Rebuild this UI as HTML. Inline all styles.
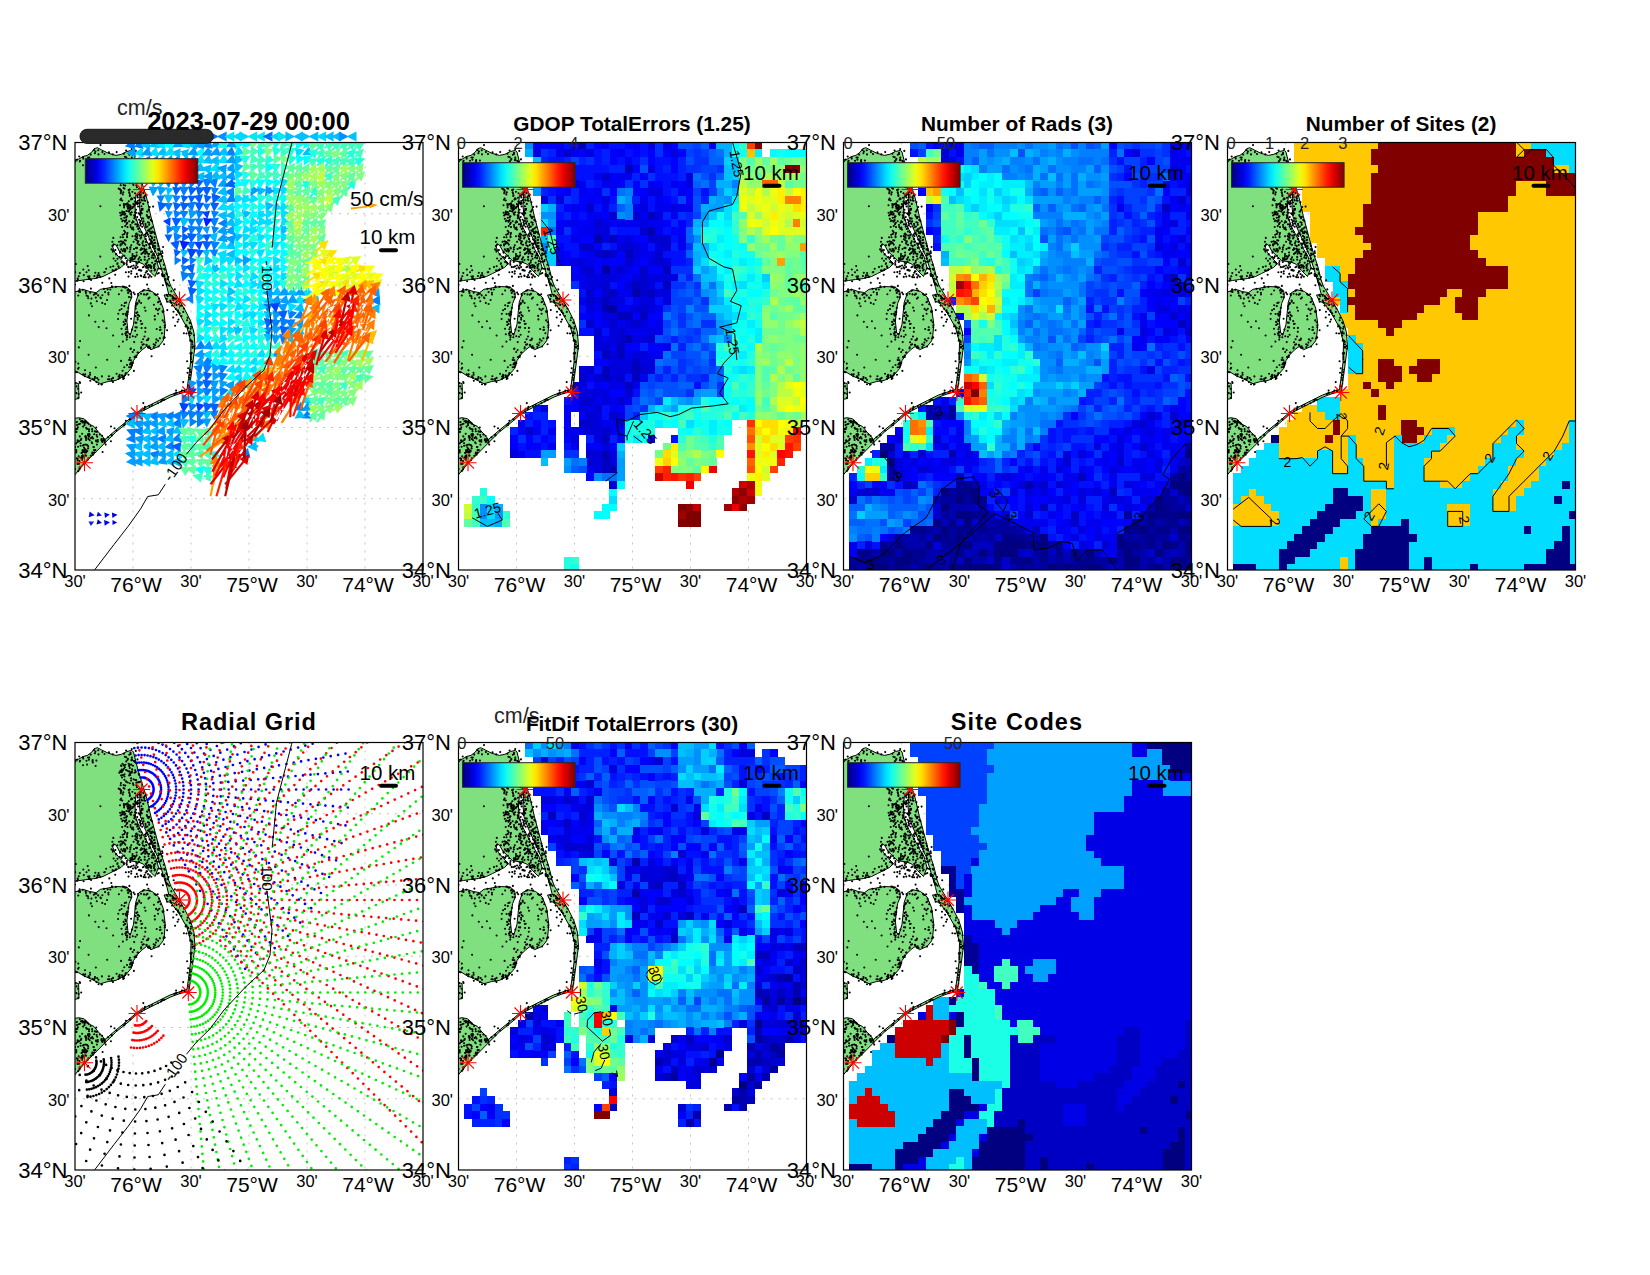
<!DOCTYPE html>
<html><head><meta charset="utf-8"><style>
html,body{margin:0;padding:0;background:#fff;width:1650px;height:1275px;overflow:hidden}
svg{display:block}
text{font-family:"Liberation Sans",sans-serif;fill:#000}
</style></head><body>
<svg width="1650" height="1275" viewBox="0 0 1650 1275">
<defs><linearGradient id="jetg" x1="0" y1="0" x2="1" y2="0"><stop offset="0.000" stop-color="#00007f"/><stop offset="0.050" stop-color="#0000b2"/><stop offset="0.100" stop-color="#0000e5"/><stop offset="0.150" stop-color="#0019ff"/><stop offset="0.200" stop-color="#004cff"/><stop offset="0.250" stop-color="#007fff"/><stop offset="0.300" stop-color="#00b2ff"/><stop offset="0.350" stop-color="#00e5ff"/><stop offset="0.400" stop-color="#19ffe5"/><stop offset="0.450" stop-color="#4cffb2"/><stop offset="0.500" stop-color="#7fff7f"/><stop offset="0.550" stop-color="#b2ff4c"/><stop offset="0.600" stop-color="#e5ff19"/><stop offset="0.650" stop-color="#ffe500"/><stop offset="0.700" stop-color="#ffb200"/><stop offset="0.750" stop-color="#ff7f00"/><stop offset="0.800" stop-color="#ff4c00"/><stop offset="0.850" stop-color="#ff1900"/><stop offset="0.900" stop-color="#e50000"/><stop offset="0.950" stop-color="#b20000"/><stop offset="1.000" stop-color="#7f0000"/></linearGradient><clipPath id="axclip"><rect x="0" y="0" width="348" height="427.5"/></clipPath><g id="landg"><polygon points="-2.0,17.8 3.6,16.7 8.0,14.0 12.4,12.9 16.8,9.6 19.0,6.3 22.3,5.2 26.6,7.4 33.2,10.7 40.9,12.9 46.4,11.8 51.9,9.0 56.8,7.9 58.5,9.6 62.9,27.1 67.3,41.4 71.7,55.7 76.0,74.4 80.4,90.8 84.8,107.3 90.3,123.8 93.6,137.5 95.8,143.5 102.4,154.5 110.1,167.6 115.6,178.6 118.9,189.6 120.0,203.9 117.8,220.3 115.6,236.8 113.9,248.9 104.6,251.1 95.8,254.4 84.8,259.9 73.9,265.3 62.9,271.0 51.9,280.7 40.9,289.5 29.9,300.4 19.0,311.4 10.2,320.2 -2.0,334.5" fill="#80e080" stroke="#000" stroke-width="1"/><polygon points="-2.0,139.0 5.0,138.0 12.0,137.0 20.0,136.0 28.0,134.0 34.0,131.0 40.0,128.0 46.0,125.0 50.0,121.0 45.0,116.0 40.0,110.0 37.0,103.0 38.5,101.5 41.0,102.5 44.2,108.4 49.7,113.9 54.1,118.3 62.9,119.4 68.4,121.6 74.0,128.0 80.0,134.0 83.5,125.0 80.5,114.0 76.5,107.3 70.5,96.3 64.5,85.3 60.5,74.4 60.0,63.4 61.0,52.0 65.0,52.0 64.5,63.4 65.5,74.4 69.5,85.3 74.5,96.3 79.5,107.3 82.5,114.0 86.0,125.0 88.0,132.0 90.0,138.0 92.0,145.0 95.8,160.0 104.0,171.0 112.0,185.0 116.0,200.0 115.5,220.0 113.5,236.0 112.0,247.0 104.0,249.5 95.0,252.5 84.0,258.0 73.0,263.5 62.5,269.5 52.0,278.5 41.0,287.5 30.0,297.0 26.6,292.8 23.4,289.5 19.0,284.0 14.6,281.8 9.1,276.3 3.6,275.2 -2.0,276.3 -2.0,229.1 3.6,230.2 9.1,233.5 16.8,236.8 25.5,241.2 33.2,239.0 40.9,237.9 49.7,233.5 56.3,225.8 58.5,218.1 62.9,211.6 67.3,207.2 71.7,203.9 76.0,207.2 83.7,203.9 88.1,198.4 89.2,194.0 90.3,181.9 88.1,165.4 83.7,154.5 77.1,149.0 69.5,147.3 64.0,150.1 60.7,159.9 59.6,170.9 58.5,181.9 55.2,192.9 53.0,189.6 51.9,178.6 53.0,168.7 54.1,161.0 56.8,154.5 56.3,149.0 51.9,144.6 40.9,144.0 32.1,145.7 25.5,146.8 21.2,150.1 14.6,149.0 8.0,146.8 -2.0,150.1" fill="#fff" stroke="#000" stroke-width="1"/><polygon points="89.0,152.5 96.0,152.0 102.0,158.0 100.0,161.0 92.0,159.0" fill="#80e080" stroke="#000" stroke-width="1"/><polygon points="-1.0,240.0 3.6,241.0 4.0,256.0 -1.0,257.0" fill="#80e080" stroke="#000" stroke-width="1"/><path d="M54.2 23.8h0M46.5 186.2h0M109.4 248.0h0M12.7 123.6h0M43.4 123.8h0M73.3 88.2h0M69.4 266.7h0M15.2 150.3h0M64.5 115.3h0M62.5 60.5h0M19.7 151.6h0M49.9 14.2h0M38.1 193.0h0M60.8 8.4h0M56.3 102.7h0M39.5 285.7h0M73.6 122.6h0M6.1 315.1h0M65.5 128.1h0M59.2 199.6h0M88.1 104.5h0M17.7 17.6h0M7.8 312.8h0M72.3 111.0h0M46.1 48.1h0M70.8 121.4h0M78.4 104.1h0M97.5 155.8h0M6.0 278.7h0M50.2 89.8h0M38.7 102.1h0M92.7 153.8h0M27.1 299.2h0M13.3 315.8h0M78.9 97.7h0M27.1 293.2h0M10.8 302.1h0M65.3 54.7h0M34.3 135.9h0M15.6 283.5h0M53.3 63.2h0M50.5 171.3h0M106.9 248.1h0M60.8 20.3h0M70.9 99.4h0M75.1 104.9h0M99.0 156.3h0M64.7 50.7h0M43.1 176.6h0M1.6 243.9h0M18.1 296.0h0M50.8 98.0h0M47.9 199.1h0M71.9 197.7h0M63.1 64.0h0M56.2 131.1h0M77.5 84.8h0M50.4 22.3h0M83.0 116.1h0M73.4 125.1h0M26.6 296.6h0M22.1 289.3h0M62.5 101.0h0M85.5 118.7h0M51.5 68.5h0M45.1 70.2h0M45.4 57.2h0M23.7 184.6h0M62.4 53.5h0M5.0 149.4h0M70.6 134.8h0M89.3 257.3h0M115.7 229.6h0M48.5 120.3h0M79.3 123.4h0M60.2 124.9h0M43.7 46.1h0M115.2 198.3h0M50.7 230.8h0M32.1 157.5h0M45.7 50.8h0M100.1 156.4h0M54.2 78.7h0M1.2 309.9h0M29.0 146.4h0M49.9 108.2h0M76.4 128.2h0M59.6 75.2h0M92.6 136.6h0M114.9 189.1h0M54.2 217.4h0M18.2 312.1h0M19.2 310.0h0M48.9 11.2h0M72.2 120.0h0M60.0 50.7h0M15.1 232.2h0M20.3 179.2h0M73.4 196.1h0M114.7 180.0h0M5.0 281.3h0M78.7 115.6h0M78.8 89.7h0M98.3 157.7h0M68.2 98.9h0M101.4 155.7h0M13.1 280.7h0M8.0 22.7h0M3.8 281.8h0M3.7 149.0h0M59.9 59.1h0M65.6 81.5h0M64.1 39.6h0M82.9 260.7h0M2.2 229.8h0M73.6 67.4h0M116.7 210.4h0M79.6 94.7h0M77.4 102.0h0M96.3 148.7h0M64.2 159.2h0M20.0 234.6h0M4.8 19.0h0M114.4 190.7h0M47.9 234.8h0M98.2 175.0h0M39.5 128.0h0M79.6 128.0h0M61.6 91.1h0M51.6 184.8h0M54.2 224.8h0M43.5 236.5h0M47.6 228.3h0M73.5 75.7h0M63.9 127.6h0M74.4 86.8h0M78.1 64.1h0M76.4 99.9h0M71.8 109.5h0M70.4 96.6h0M66.5 111.4h0M62.1 160.6h0M103.5 177.0h0M98.3 155.0h0M50.8 178.4h0M72.3 74.0h0M51.5 173.3h0M103.9 161.8h0M3.1 246.2h0M7.9 314.2h0M15.8 160.9h0M89.9 127.1h0M48.9 144.4h0M0.1 326.5h0M25.3 114.1h0M73.2 197.3h0M72.1 128.8h0M29.8 129.6h0M66.1 205.9h0M70.9 93.7h0M48.1 99.6h0M79.2 124.3h0M67.2 181.2h0M27.3 160.4h0M86.9 190.8h0M45.9 40.6h0M23.5 241.8h0M3.7 313.9h0M83.1 198.2h0M52.5 90.5h0M57.4 49.3h0M54.9 276.5h0M70.1 58.2h0M112.6 175.2h0M47.7 92.3h0M65.8 70.3h0M85.2 184.7h0M54.1 23.4h0M14.2 15.1h0M50.3 43.1h0M86.6 126.3h0M51.3 189.5h0M71.2 109.4h0M61.0 59.8h0M14.0 286.9h0M24.9 292.0h0M54.9 62.9h0M74.9 123.9h0M59.4 55.2h0M83.7 125.9h0M4.6 146.8h0M51.0 192.8h0M49.3 91.5h0M47.8 69.8h0M45.0 110.2h0M92.3 167.6h0M29.2 129.8h0M66.8 57.6h0M48.6 45.4h0M58.6 36.7h0M6.3 296.4h0M89.8 182.8h0M27.9 298.3h0M33.0 294.7h0M62.4 120.9h0M113.1 185.3h0M108.2 239.6h0M57.5 93.7h0M99.8 146.9h0M17.2 300.7h0M50.3 177.1h0M64.1 85.8h0M88.5 168.9h0M52.5 171.8h0M72.5 118.0h0M59.5 73.7h0M12.2 286.3h0M82.8 167.7h0M4.7 324.8h0M30.1 161.5h0M85.7 111.5h0M33.0 236.8h0M81.7 186.5h0M49.3 75.2h0M74.7 64.5h0M0.0 142.3h0M65.7 178.6h0M47.3 191.8h0M2.6 297.9h0M58.4 42.4h0M16.4 156.1h0M21.0 298.1h0M28.4 178.7h0M91.3 140.2h0M73.4 156.1h0M21.4 151.2h0M94.1 143.2h0M55.9 217.7h0M67.7 110.5h0M50.2 71.4h0M27.4 9.6h0M86.0 259.0h0M9.9 306.6h0M20.8 155.1h0M56.4 17.8h0M20.0 288.9h0M22.9 297.5h0M55.5 10.4h0M50.1 181.4h0M97.1 163.1h0M119.1 192.7h0M2.7 136.1h0M51.3 39.1h0M58.6 150.1h0M0.1 304.6h0M18.9 304.6h0M30.1 149.6h0M63.4 98.9h0M87.1 132.6h0M74.4 263.6h0M65.4 83.0h0M115.3 227.3h0M56.7 69.7h0M70.0 264.4h0M54.6 31.9h0M69.9 92.3h0M68.8 147.7h0M11.4 307.8h0M56.0 56.9h0M71.3 102.6h0M71.4 107.0h0M69.2 57.9h0M64.0 119.4h0M52.0 194.8h0M46.3 76.2h0M69.3 103.5h0M53.3 147.0h0M49.3 163.6h0M66.4 89.7h0M66.0 117.6h0M48.0 94.7h0M53.5 134.1h0M48.1 71.8h0M84.1 111.9h0M13.5 233.7h0M13.6 212.2h0M62.0 105.4h0M12.3 308.6h0M73.3 205.3h0M85.4 126.2h0M81.1 166.4h0M51.9 80.8h0M53.8 58.8h0M61.9 93.7h0M48.3 71.6h0M66.4 63.7h0M66.4 54.9h0M73.7 67.1h0M25.5 2.6h0M61.2 170.6h0M78.2 103.0h0M7.2 310.1h0M46.1 56.1h0M9.5 282.6h0M2.0 17.3h0M82.8 101.1h0M66.8 70.8h0M0.6 229.2h0M50.3 145.3h0M56.0 72.2h0M46.0 98.9h0M62.7 58.5h0M78.8 204.5h0M46.5 115.4h0M54.5 51.0h0M11.2 285.2h0M53.5 68.7h0M17.0 163.7h0M62.5 161.1h0M40.5 118.2h0M72.1 90.4h0M115.9 214.5h0M62.2 95.5h0M16.7 299.9h0M59.7 151.7h0M73.1 205.0h0M55.1 148.1h0M29.8 299.6h0M19.8 235.8h0M21.2 298.7h0M11.0 295.8h0M68.8 109.3h0M60.6 114.1h0M62.3 169.7h0M22.3 134.7h0M15.3 238.3h0M8.1 284.1h0M89.1 201.7h0M26.7 241.7h0M115.3 210.8h0M84.1 159.0h0M108.9 166.0h0M62.8 55.0h0M37.0 292.9h0M17.8 19.9h0M23.6 130.6h0M37.6 103.5h0M16.1 137.5h0M83.1 171.2h0M38.1 235.4h0M8.2 16.1h0M51.7 197.1h0M85.2 111.7h0M14.3 234.9h0M65.4 60.0h0M28.5 296.6h0M38.6 116.0h0M47.1 99.2h0M13.4 296.4h0M46.7 162.8h0M117.4 204.3h0M70.6 82.5h0M59.0 106.5h0M22.2 235.6h0M44.6 232.4h0M9.0 302.2h0M74.1 80.3h0M51.0 172.8h0M20.3 130.3h0M56.9 29.3h0M71.8 72.6h0M13.8 136.4h0M10.6 148.8h0M23.5 11.9h0M60.7 29.6h0M47.5 233.7h0M67.6 66.4h0M75.3 97.0h0M52.6 60.9h0M38.1 108.1h0M12.1 280.1h0M101.6 162.4h0M56.8 86.2h0M52.1 94.8h0M19.0 237.1h0M89.7 195.1h0M53.6 47.6h0M46.5 28.1h0M17.1 286.6h0M66.7 47.3h0M13.0 293.0h0M103.0 167.9h0M55.7 63.7h0M61.4 213.0h0M55.0 22.3h0M75.4 90.5h0M54.8 194.7h0M2.8 136.7h0M2.3 286.5h0M54.2 49.7h0M79.7 173.4h0M77.0 78.8h0M4.5 318.5h0M59.7 115.9h0M3.3 221.1h0M21.8 135.1h0M46.7 72.1h0M64.7 93.1h0M19.9 10.8h0M25.4 134.4h0M85.7 118.7h0M42.5 116.2h0M56.9 187.1h0M99.4 251.4h0M51.3 18.9h0M83.2 113.1h0M119.2 203.5h0M48.8 61.6h0M65.8 133.2h0M32.6 146.9h0M15.0 230.3h0M70.5 168.2h0M13.1 305.9h0M65.5 107.3h0M55.9 206.0h0M58.8 116.7h0M21.4 239.6h0M116.4 219.7h0M13.2 155.8h0M52.8 169.4h0M83.6 204.0h0M78.9 122.6h0M46.2 32.9h0M57.4 220.0h0M49.4 100.7h0M13.0 15.0h0M52.2 193.0h0M68.3 260.6h0M44.6 167.7h0M98.5 169.2h0M49.5 46.3h0M101.1 248.1h0M69.2 109.2h0M5.6 300.8h0M56.8 222.0h0M49.6 72.2h0M62.7 177.1h0M62.4 83.7h0M64.2 32.5h0M55.6 206.4h0M1.5 286.6h0M68.9 134.8h0M112.1 177.7h0M50.1 106.8h0M2.1 138.2h0M1.3 308.2h0M69.0 151.9h0M22.2 294.3h0M117.5 205.2h0M60.5 184.8h0M45.1 46.9h0M89.2 132.5h0M47.0 232.9h0M64.5 127.4h0M50.3 102.1h0M26.5 242.1h0M43.6 234.0h0M48.3 49.7h0M4.5 326.9h0M21.9 302.1h0M111.0 182.8h0M50.9 186.8h0M90.3 136.3h0M60.2 188.2h0M55.0 221.9h0M50.1 232.5h0M87.1 108.8h0M62.3 61.7h0M57.2 26.8h0M51.1 160.1h0M76.7 115.1h0M49.2 88.3h0M50.1 281.0h0M66.6 199.7h0M71.8 124.3h0M52.4 28.3h0M66.2 94.7h0M61.4 42.9h0M9.5 281.1h0M58.4 87.1h0M54.0 69.1h0M56.6 55.9h0M59.1 207.5h0M48.6 179.4h0M87.3 113.8h0M56.1 38.0h0M52.9 16.4h0M77.0 262.5h0M62.6 210.1h0M54.1 28.9h0M23.2 152.9h0M41.4 288.0h0M116.1 184.3h0M48.1 171.5h0M61.6 110.0h0M76.6 98.5h0M47.3 70.4h0M4.7 239.6h0M61.0 67.3h0M42.5 120.9h0M9.1 307.6h0M55.3 71.5h0M10.6 293.5h0M76.1 109.5h0M96.1 160.3h0M40.8 127.4h0M91.3 130.8h0M69.5 194.0h0M4.8 293.9h0M115.4 197.4h0M92.7 141.9h0M114.9 232.4h0M50.0 109.1h0M47.9 108.5h0M50.6 78.5h0M115.7 186.3h0M47.2 101.2h0M51.1 230.8h0M78.9 162.2h0M60.0 69.9h0M50.5 78.6h0M58.6 99.2h0M73.4 113.8h0M60.5 194.2h0M72.1 69.0h0M19.1 307.6h0M67.4 47.0h0M61.3 77.2h0M100.4 251.0h0M76.7 90.6h0M1.3 250.6h0M8.3 127.0h0M56.1 176.3h0M10.6 312.9h0M72.9 59.8h0M108.9 190.8h0M40.4 107.5h0M54.7 40.8h0M65.8 107.4h0M48.2 236.4h0M74.8 88.7h0M75.3 122.9h0M73.1 204.4h0M7.9 303.0h0M91.7 141.9h0M20.3 307.6h0M61.6 112.9h0M68.8 54.8h0M116.3 190.9h0M12.9 153.8h0M76.8 94.5h0M74.4 101.1h0M76.6 213.8h0M7.5 307.8h0M7.3 278.3h0M36.3 140.5h0M46.8 29.6h0M63.0 210.0h0M27.3 140.3h0M27.0 241.7h0M5.8 297.4h0M66.5 105.8h0M95.3 153.3h0M14.4 133.9h0M2.6 299.5h0M69.7 114.4h0M38.3 95.4h0M21.4 18.1h0M22.8 299.2h0M52.3 189.7h0M82.7 151.8h0M55.4 64.7h0M74.3 105.4h0M69.2 106.0h0M0.6 240.6h0M57.2 27.3h0M115.1 180.8h0M18.8 152.3h0M66.1 107.0h0M19.2 291.8h0M114.9 237.7h0M68.6 78.9h0M60.2 27.7h0M51.7 120.5h0M74.2 82.3h0M67.8 148.2h0M10.2 231.7h0M87.8 133.6h0M0.2 129.8h0M64.6 114.9h0M47.3 113.9h0M91.8 152.4h0M62.4 52.9h0M74.5 155.0h0M65.6 95.9h0M1.5 289.4h0M67.4 100.6h0M62.0 40.0h0M2.1 17.2h0M51.2 145.0h0M9.0 305.1h0M67.9 102.7h0M1.2 307.5h0M8.8 309.2h0M80.7 152.4h0M17.5 18.6h0M59.6 72.8h0M51.5 81.7h0M102.6 179.2h0M77.3 89.1h0M95.3 158.0h0M52.5 84.6h0M2.6 321.5h0M31.5 185.7h0M57.2 117.1h0M54.7 67.4h0M11.5 129.8h0M33.5 152.0h0M54.8 191.6h0M90.8 139.7h0M101.6 172.3h0M62.6 175.3h0M80.0 108.9h0M2.0 279.5h0M61.5 161.9h0M47.1 35.0h0M37.4 99.2h0M70.7 130.3h0M87.9 142.8h0M56.3 128.8h0M20.4 9.1h0M50.4 191.1h0M43.3 171.2h0M44.7 233.8h0M4.2 14.0h0M3.3 255.2h0M27.6 309.5h0M57.5 111.6h0M56.6 220.1h0M86.2 117.5h0M0.4 219.2h0M75.8 77.4h0M92.1 187.8h0M58.0 23.3h0M54.9 215.2h0M64.4 89.0h0M81.4 196.9h0M78.3 111.4h0M38.2 123.8h0M61.2 37.6h0M111.8 183.8h0M7.8 147.2h0M12.4 317.7h0M13.9 17.3h0M44.3 30.2h0M3.8 204.9h0M63.0 172.4h0M66.6 66.6h0M47.9 32.6h0M14.1 291.4h0M11.5 153.1h0M92.1 159.3h0M54.5 148.7h0M66.6 185.5h0M42.3 121.5h0M7.1 317.1h0M53.2 62.3h0M73.3 146.3h0M91.8 156.5h0M9.2 279.0h0M75.2 205.5h0M61.9 44.7h0M63.7 31.5h0M61.0 91.5h0M58.4 61.6h0M55.4 70.7h0M70.3 189.2h0M72.9 88.0h0M52.0 222.5h0M49.1 64.9h0M72.0 90.5h0M62.2 81.9h0M68.3 61.4h0M66.7 92.6h0M108.3 169.4h0M89.4 133.8h0M57.4 113.6h0M61.2 70.2h0M65.9 68.5h0M74.0 111.5h0M73.9 111.6h0M43.9 151.7h0M29.9 300.0h0M49.3 113.3h0M56.3 22.1h0M60.6 163.8h0M50.9 190.7h0M52.3 80.2h0M76.4 99.3h0M87.5 133.6h0M63.0 151.6h0M56.1 151.6h0M54.7 47.0h0M53.6 21.2h0M51.1 8.0h0M40.9 144.4h0M49.0 63.1h0M111.5 191.0h0M14.0 294.3h0M56.6 123.8h0M90.4 137.9h0M0.9 121.5h0M72.5 69.3h0M9.8 309.9h0M35.9 298.7h0M45.0 109.1h0M36.7 236.3h0M64.1 102.3h0M74.8 102.1h0M46.6 148.0h0M110.6 184.0h0M9.8 233.7h0M69.4 107.5h0M58.6 123.0h0M84.2 119.2h0M56.2 154.9h0M21.3 285.0h0M7.2 291.3h0M65.4 52.4h0M47.5 21.2h0M3.3 153.0h0M80.2 121.3h0M17.2 311.2h0M88.6 195.8h0M14.7 297.8h0M112.5 230.3h0M57.0 17.6h0M80.9 200.1h0M46.9 27.0h0M59.5 30.3h0M50.9 129.8h0M72.4 84.1h0M60.2 93.6h0M49.8 160.5h0M55.7 66.5h0M46.5 166.5h0M7.7 308.8h0M64.0 46.6h0M69.4 265.9h0M22.5 132.7h0M45.6 102.9h0M78.7 111.2h0M91.7 131.8h0M64.1 77.3h0M83.6 111.0h0M67.1 75.7h0M71.4 202.4h0M52.3 63.6h0M13.7 127.7h0M10.1 280.3h0M51.4 73.9h0M62.6 124.6h0M62.1 192.3h0M41.2 111.6h0M113.7 244.2h0M53.2 124.4h0M71.7 124.8h0M13.9 172.9h0M59.3 75.8h0M76.4 124.0h0M1.8 279.8h0M27.5 299.5h0M61.2 120.3h0M19.4 133.5h0M57.9 40.9h0M75.4 93.4h0M48.7 182.5h0M14.0 288.8h0M35.5 124.6h0M77.9 104.5h0M61.8 131.4h0M6.6 310.4h0M57.7 209.5h0M27.4 152.7h0M50.2 83.6h0M42.4 102.7h0M54.8 53.4h0M46.0 49.5h0M95.6 159.2h0M20.8 225.0h0M117.4 219.1h0M57.9 85.1h0M74.2 203.7h0M63.2 39.7h0M71.7 123.3h0M67.2 84.2h0M36.0 284.0h0M89.4 126.7h0M80.1 100.3h0M53.2 150.4h0M4.8 130.6h0M101.4 250.5h0M10.3 294.2h0M11.5 18.3h0M66.1 133.6h0M56.7 16.8h0M76.8 89.6h0M37.6 127.9h0M52.0 169.2h0M57.4 65.5h0M2.5 317.9h0M4.8 276.8h0M14.9 136.4h0M66.1 160.5h0M78.6 115.7h0M84.9 195.7h0M80.2 202.8h0M36.6 237.9h0M97.4 153.8h0M5.6 303.3h0M113.1 185.8h0M43.7 124.6h0M17.2 294.6h0M37.9 109.1h0M55.3 107.0h0M0.4 18.7h0M45.5 101.9h0M60.4 214.0h0M98.7 137.8h0M11.4 294.8h0M52.0 118.5h0M49.0 235.8h0M113.0 243.0h0M68.7 201.7h0M89.2 179.7h0M53.8 129.6h0M84.3 166.2h0M17.3 288.7h0M72.1 142.1h0M8.8 132.6h0M60.4 96.8h0M44.7 234.9h0M112.1 218.8h0M62.5 16.9h0M55.0 52.7h0M63.4 116.8h0M48.6 42.5h0M8.0 14.8h0M54.2 33.0h0M12.3 302.6h0M70.0 53.2h0M83.2 115.9h0M36.9 143.8h0M52.6 17.2h0M48.9 26.2h0M5.1 18.2h0M7.6 307.9h0M50.3 62.0h0M58.7 64.0h0M44.0 99.3h0M61.2 214.4h0M54.3 12.2h0M109.5 249.4h0M31.2 126.2h0M61.3 122.8h0M24.1 132.9h0M4.2 298.8h0M11.1 297.5h0M45.4 28.4h0M51.2 77.6h0M59.2 72.7h0M52.5 147.9h0M47.9 78.0h0M23.5 237.2h0M70.7 96.5h0M60.0 19.6h0M72.9 79.8h0M87.2 257.4h0M117.4 201.7h0M34.0 9.9h0M10.3 294.1h0M85.7 161.7h0M55.7 84.5h0M14.7 292.3h0M26.3 297.5h0M19.0 7.5h0M55.4 29.7h0M58.9 228.4h0M61.0 105.4h0M80.4 105.8h0M71.3 152.3h0M69.6 117.0h0M2.8 284.7h0M16.0 295.6h0M57.8 220.6h0M70.5 81.2h0M17.4 310.0h0M63.6 70.8h0M51.8 122.2h0M52.4 64.3h0M48.8 22.9h0M12.9 291.7h0M52.9 66.3h0M57.1 80.3h0M64.2 173.5h0M59.0 113.6h0M83.0 159.8h0M60.7 166.1h0M46.3 48.0h0M1.7 315.8h0M79.5 151.4h0M47.3 69.1h0M71.5 128.9h0M62.2 84.1h0M65.0 79.9h0M66.0 49.4h0M21.2 289.2h0M62.2 74.6h0M3.8 133.7h0M23.2 7.8h0M60.6 173.5h0M79.3 113.2h0M100.1 183.2h0M74.4 74.4h0M6.2 250.0h0M48.9 106.6h0M66.2 204.7h0M61.7 97.7h0M7.1 313.4h0M11.1 309.9h0M20.6 23.5h0M50.9 278.2h0M29.5 11.5h0M49.9 79.2h0M61.4 40.3h0M37.8 11.9h0M52.6 40.0h0M55.3 105.1h0M55.5 117.5h0M41.6 231.3h0M46.6 119.5h0M70.8 91.0h0M52.0 93.7h0M64.3 71.6h0M68.1 196.8h0M73.7 134.9h0M67.6 202.3h0M57.1 56.4h0M46.4 106.9h0M10.0 227.8h0M7.5 279.9h0M79.1 100.7h0M74.8 132.9h0M65.3 72.4h0M49.3 282.7h0M89.2 194.6h0M52.0 169.8h0M87.5 110.5h0M76.4 134.3h0M56.9 222.8h0M57.8 193.8h0M59.5 214.6h0M5.0 240.4h0M46.1 23.1h0M83.8 130.5h0M89.3 126.2h0M59.3 18.5h0M68.2 50.6h0M104.9 250.8h0M87.6 168.9h0M49.5 34.0h0M47.8 144.0h0M100.8 166.4h0M51.2 61.5h0M45.7 42.8h0M72.0 91.2h0M106.5 163.1h0M14.1 135.4h0M47.3 78.7h0M69.8 117.3h0M10.5 278.4h0M72.4 151.4h0M55.3 32.5h0M85.6 187.2h0M4.8 325.5h0M12.4 302.7h0M3.1 226.3h0M35.3 147.0h0M25.4 63.7h0M60.7 29.4h0M78.9 125.5h0M60.3 134.4h0M71.7 202.6h0M5.1 198.6h0M52.1 91.6h0M15.9 146.1h0M114.7 237.3h0M82.3 131.2h0M45.4 29.5h0M41.7 9.6h0M104.7 170.9h0M84.1 107.8h0M58.6 79.5h0M47.2 58.0h0M79.5 97.4h0M49.0 121.6h0M57.1 115.4h0M60.8 125.9h0M53.4 124.8h0M76.0 100.8h0M52.0 105.1h0M3.1 304.3h0M15.8 313.3h0M25.9 155.7h0M49.4 37.3h0M64.0 119.1h0M69.3 55.7h0M4.1 321.3h0M50.9 39.1h0M114.4 235.3h0M49.1 233.8h0M49.8 78.2h0M82.9 106.9h0M76.1 125.5h0M46.1 218.4h0M60.4 81.7h0M87.8 169.6h0M49.3 224.8h0M114.0 190.5h0M66.3 128.1h0M55.3 148.7h0M68.0 124.7h0M59.8 62.4h0M3.3 328.6h0M49.5 31.7h0M80.0 103.6h0M41.1 112.0h0M25.4 155.0h0M40.2 132.3h0M2.7 316.6h0M53.5 232.2h0M54.8 25.5h0M51.1 27.5h0M21.1 298.0h0M3.6 251.4h0M80.3 118.6h0M55.4 115.9h0M117.3 199.4h0M56.1 35.7h0M52.3 106.0h0M113.2 225.8h0M54.0 65.4h0M49.9 24.7h0M103.8 158.5h0M106.5 173.5h0M66.4 181.5h0M1.0 286.6h0M63.3 60.8h0M116.0 212.3h0M114.1 235.1h0M57.6 64.9h0M119.6 206.1h0M65.5 39.2h0M8.6 138.7h0M84.4 106.7h0M26.9 233.9h0M88.9 122.2h0M12.9 291.7h0M64.4 57.6h0M13.2 303.7h0M11.1 313.3h0M69.7 132.5h0M116.0 216.6h0M57.8 78.9h0M54.7 109.3h0M2.0 282.5h0M37.2 144.8h0M79.4 106.3h0M71.2 125.3h0M68.7 124.3h0M49.7 97.8h0M67.5 67.3h0M33.9 233.7h0M67.1 106.4h0M79.9 176.9h0M78.7 201.8h0M50.6 115.8h0M77.0 96.0h0M105.3 249.9h0M44.0 204.0h0M80.2 127.1h0M116.7 198.3h0M67.0 58.0h0M8.2 231.9h0M61.6 105.8h0M70.3 107.6h0M48.7 282.8h0M73.3 74.9h0M65.6 78.6h0M47.2 84.5h0M55.5 82.5h0M83.5 106.5h0M36.5 292.4h0M64.2 158.1h0M54.0 154.6h0M74.1 116.2h0M55.4 124.5h0M64.5 52.2h0M56.8 15.0h0M65.8 133.0h0M56.9 30.0h0M44.7 114.5h0M68.3 76.1h0M12.1 22.1h0M47.8 51.9h0M17.5 236.6h0M70.6 52.9h0M73.0 131.6h0M58.9 18.5h0M10.6 148.7h0M84.0 156.3h0M51.2 14.8h0M82.4 119.3h0M18.4 304.5h0M62.6 92.1h0M60.9 60.5h0M70.8 84.8h0M15.7 12.1h0M60.4 37.6h0M47.8 27.9h0M79.9 176.8h0M21.7 292.5h0M30.7 302.1h0M114.7 193.0h0M17.9 312.0h0M13.7 281.5h0M41.2 126.7h0M55.6 11.5h0M77.2 99.8h0M70.1 111.2h0M29.8 297.8h0M11.7 286.2h0M45.6 73.0h0M105.6 163.2h0M91.8 141.2h0M62.8 99.8h0M1.2 300.9h0M61.7 184.9h0M63.3 86.4h0M55.3 119.5h0M3.7 225.2h0M55.5 104.9h0M32.2 217.3h0M56.7 6.6h0M84.9 187.5h0M51.3 75.1h0M83.4 115.9h0M52.0 73.8h0M33.4 150.2h0M62.8 134.1h0M83.4 103.4h0M67.4 81.0h0M13.0 134.0h0M36.6 106.9h0M55.4 276.9h0M55.4 30.8h0M1.2 229.5h0M38.0 239.6h0M74.6 148.0h0M0.4 289.2h0M66.1 151.2h0M58.0 126.0h0M87.1 131.5h0M21.8 158.8h0M53.3 165.4h0M77.3 113.0h0M54.4 143.4h0M45.6 94.8h0M76.1 85.9h0M64.6 102.2h0M60.4 180.1h0M63.3 152.8h0M79.8 91.3h0M69.6 165.1h0M66.5 268.9h0M68.7 134.4h0M60.8 94.2h0M103.4 169.5h0M46.3 23.4h0M7.7 315.3h0M89.8 184.7h0M87.7 177.9h0M10.9 150.4h0M56.0 224.6h0M49.3 69.5h0M74.6 97.0h0M61.4 180.3h0M77.2 120.2h0M34.3 236.8h0M50.4 108.2h0M112.9 243.4h0M55.6 220.8h0M11.0 308.9h0M45.0 62.8h0M72.9 92.0h0M70.4 185.4h0M93.6 134.5h0" stroke="#000" stroke-width="2.1" stroke-linecap="round" fill="none"/></g></defs><g transform="translate(75,142.5)"><g clip-path="url(#axclip)"><line x1="58" y1="0" x2="58" y2="427.5" stroke="#c4c4c4" stroke-width="1" stroke-dasharray="2,6"/><line x1="116" y1="0" x2="116" y2="427.5" stroke="#c4c4c4" stroke-width="1" stroke-dasharray="2,6"/><line x1="174" y1="0" x2="174" y2="427.5" stroke="#c4c4c4" stroke-width="1" stroke-dasharray="2,6"/><line x1="232" y1="0" x2="232" y2="427.5" stroke="#c4c4c4" stroke-width="1" stroke-dasharray="2,6"/><line x1="290" y1="0" x2="290" y2="427.5" stroke="#c4c4c4" stroke-width="1" stroke-dasharray="2,6"/><line x1="0" y1="71.25" x2="348" y2="71.25" stroke="#c4c4c4" stroke-width="1" stroke-dasharray="2,6"/><line x1="0" y1="142.5" x2="348" y2="142.5" stroke="#c4c4c4" stroke-width="1" stroke-dasharray="2,6"/><line x1="0" y1="213.75" x2="348" y2="213.75" stroke="#c4c4c4" stroke-width="1" stroke-dasharray="2,6"/><line x1="0" y1="285.0" x2="348" y2="285.0" stroke="#c4c4c4" stroke-width="1" stroke-dasharray="2,6"/><line x1="0" y1="356.25" x2="348" y2="356.25" stroke="#c4c4c4" stroke-width="1" stroke-dasharray="2,6"/><g shape-rendering="crispEdges"></g><use href="#landg"/><path fill="#0080ff" d="M49.8 3.7L58.5 -3.1L60.4 7.0zM60.7 0.6L59.3 0.9L59.7 3.0L61.1 2.8zM58.0 3.8L66.5 -3.2L68.6 6.7zM127.0 4.2L134.9 -3.6L137.8 6.2zM149.9 12.6L156.9 4.0L161.0 13.4zM65.5 18.6L75.1 13.1L75.5 23.2zM73.9 18.9L82.9 12.8L84.1 22.7zM95.8 19.8L103.9 12.4L106.5 22.2zM106.4 15.9L105.0 16.2L105.5 18.4L106.9 18.0zM66.4 28.5L72.6 19.3L77.4 28.3zM88.0 27.2L96.8 20.4L98.6 30.4zM98.9 24.1L97.5 24.3L97.9 26.5L99.3 26.3zM72.6 33.9L82.5 28.9L82.4 39.1zM83.9 32.9L82.5 32.9L82.4 35.1L83.9 35.1zM88.0 34.6L97.2 28.5L98.3 38.6zM99.0 32.3L97.6 32.4L97.9 34.6L99.2 34.5zM105.1 36.4L110.5 26.8L116.1 35.3zM93.9 45.7L88.6 37.5L97.6 36.6zM115.2 45.9L113.3 35.4L122.7 38.3zM131.4 46.2L127.1 36.0L137.3 36.9zM140.4 46.1L133.3 37.7L143.2 35.5zM108.7 54.1L104.0 44.1L114.1 44.5zM139.0 53.3L135.7 44.7L144.1 45.7zM149.3 49.5L159.2 44.6L159.0 54.8zM86.1 61.1L81.5 53.2L89.9 52.7zM100.8 61.1L97.4 52.5L105.9 53.4zM150.7 59.6L156.7 50.4L161.7 59.3zM93.6 69.0L89.1 60.6L97.9 60.5zM117.2 69.5L110.7 60.8L120.6 59.1zM131.9 68.6L127.7 61.2L135.6 60.9zM100.1 76.5L98.4 67.4L106.6 69.9zM108.6 76.7L104.9 68.1L113.5 68.8zM123.5 76.9L120.4 67.6L129.3 69.0zM138.8 76.6L136.0 67.9L144.3 69.3zM116.4 84.5L112.3 76.2L120.8 76.3zM124.1 84.7L119.5 76.0L128.6 75.9zM139.6 85.1L134.2 75.8L144.1 75.3zM142.7 80.9L152.2 75.6L152.4 85.6zM92.0 92.0L91.4 82.6L99.4 86.1zM115.8 92.7L112.5 82.7L122.0 84.3zM124.3 92.4L119.5 84.0L128.4 83.7zM138.7 92.0L136.3 83.5L144.3 85.2zM99.7 100.2L98.5 89.8L107.5 93.2zM116.8 107.9L111.6 99.7L120.6 99.0zM138.8 108.3L135.3 98.2L145.0 99.7zM139.7 115.7L134.5 107.4L143.5 106.7zM99.6 122.7L99.5 114.0L106.7 117.6zM115.2 122.9L114.1 114.0L121.9 116.9zM108.0 130.8L105.8 122.2L113.8 124.0zM107.5 139.3L105.5 128.5L115.3 131.5zM116.8 138.8L111.8 130.8L120.5 130.1zM118.3 161.6L110.4 156.3L118.1 152.0zM225.8 158.9L234.9 152.6L236.1 162.7zM295.2 158.6L304.6 152.8L305.4 162.9zM192.9 170.7L187.8 160.9L198.0 160.9zM214.5 177.8L212.6 167.2L222.1 170.1zM218.8 175.5L226.0 167.1L229.8 176.6zM200.1 187.0L195.7 176.9L205.9 177.6zM199.8 175.6L199.7 177.2L201.9 177.3L202.0 175.8zM206.9 185.8L204.6 175.0L214.5 177.7zM216.3 186.9L210.4 177.6L220.5 176.7zM214.2 175.9L214.4 177.2L216.5 177.0L216.4 175.7zM193.6 194.8L187.3 185.6L197.4 184.4zM191.1 183.5L191.3 185.2L193.5 184.9L193.3 183.2zM207.1 201.9L204.1 191.2L214.1 193.4zM218.8 198.0L226.9 190.5L229.6 200.4zM120.0 207.0L125.7 197.5L131.1 206.1zM126.8 222.5L133.1 213.4L137.8 222.4zM136.2 216.2L134.9 216.9L136.0 218.9L137.3 218.2zM125.1 232.3L118.1 223.7L128.1 221.7zM131.0 232.0L127.6 221.5L137.6 223.1zM146.2 232.2L142.9 221.7L152.9 223.4zM146.3 240.1L142.7 229.7L152.8 231.2zM122.9 246.7L121.2 236.9L129.9 239.6zM131.2 255.6L127.2 245.3L137.4 246.4zM145.3 254.7L144.4 243.7L153.8 247.6zM106.7 262.3L106.7 251.2L115.7 256.0zM115.3 269.8L113.3 259.7L122.4 262.4zM219.0 267.8L225.9 259.2L230.0 268.5zM50.6 273.4L60.6 268.5L60.3 278.7zM72.7 272.8L83.0 268.9L81.9 279.0zM83.9 273.0L82.6 272.8L82.3 275.0L83.7 275.2zM88.7 273.2L98.8 268.7L98.1 278.9zM96.0 273.2L106.1 268.6L105.5 278.8zM107.5 278.2L105.2 267.4L115.1 270.1zM115.3 278.3L112.7 267.6L122.6 270.0zM123.0 278.4L120.3 267.7L130.2 270.0zM139.9 277.7L134.0 269.1L143.5 267.8zM226.2 275.8L232.9 267.0L237.2 276.2zM96.2 281.8L105.2 275.4L106.6 285.5zM114.7 284.6L114.5 274.9L122.6 278.9zM121.9 285.3L121.9 274.3L131.0 279.0zM51.1 287.1L62.1 285.9L58.4 295.4zM58.1 288.6L68.0 283.8L67.7 294.0zM50.6 296.7L60.0 290.9L60.7 301.1zM81.2 296.1L91.2 291.5L90.7 301.7zM96.4 297.7L104.5 290.2L107.2 300.0zM89.1 304.7L98.0 298.2L99.6 308.2zM73.8 310.4L84.6 308.0L82.0 317.9zM164.7 313.0L172.9 305.6L175.5 315.4z"/><path fill="#00bfff" d="M65.4 2.9L75.1 -2.5L75.4 7.6zM73.9 4.3L81.3 -3.8L84.8 5.7zM112.2 3.2L121.0 -2.8L122.2 7.0zM81.7 12.1L89.1 3.9L92.7 13.4zM95.5 10.2L105.6 5.7L105.0 15.9zM106.9 9.8L105.4 9.7L105.3 11.9L106.8 12.0zM103.4 9.3L114.1 6.5L111.8 16.4zM114.5 10.7L113.2 10.4L112.7 12.5L114.0 12.8zM142.7 12.1L150.3 4.0L153.6 13.6zM227.1 12.3L233.9 3.9L237.9 13.1zM81.0 19.9L88.8 12.1L91.9 21.8zM104.3 19.4L112.6 12.2L115.0 22.1zM126.9 20.3L134.1 11.9L137.9 21.4zM133.9 18.6L143.5 13.0L144.0 23.2zM144.8 17.0L143.7 17.0L143.8 19.2L144.9 19.2zM159.9 23.3L159.6 12.3L168.8 16.7zM163.7 12.9L163.2 14.0L165.2 15.0L165.7 13.8zM74.9 29.0L79.1 18.9L85.5 26.6zM105.2 29.5L109.0 19.1L115.9 26.6zM119.5 28.9L125.4 19.5L130.6 28.3zM126.1 25.2L136.7 21.9L134.9 31.9zM137.6 26.1L136.0 25.8L135.6 28.0L137.2 28.3zM160.7 30.9L159.0 20.0L168.7 23.2zM112.1 35.3L120.0 27.5L123.0 37.3zM119.4 33.7L129.5 29.2L128.9 39.3zM134.7 35.8L142.0 27.5L145.7 37.0zM142.0 34.6L151.1 28.3L152.4 38.5zM78.1 45.3L74.5 37.3L82.5 37.8zM84.8 45.6L82.9 36.0L91.6 38.5zM92.8 53.1L90.5 44.5L98.5 46.3zM141.8 50.8L150.2 43.6L152.5 53.5zM183.3 54.6L182.1 43.6L191.6 47.2zM93.4 61.8L88.6 51.9L98.8 52.2zM141.7 58.5L150.2 51.5L152.4 61.4zM152.1 55.1L151.0 55.4L151.5 57.5L152.6 57.3zM191.0 69.6L190.0 58.6L199.5 62.5zM141.9 72.6L152.0 68.2L151.3 78.4zM150.0 73.6L159.1 67.2L160.4 77.3zM168.4 77.7L166.6 66.8L176.3 70.0zM108.4 85.1L104.3 75.0L114.3 75.9zM150.0 82.7L157.1 74.2L161.0 83.7zM205.9 93.5L205.2 82.5L214.6 86.6zM209.4 83.0L208.9 84.1L210.9 85.0L211.4 83.9zM140.5 100.5L133.2 92.5L142.9 89.9zM161.2 100.6L158.8 89.9L168.6 92.5zM150.0 106.2L156.7 97.4L161.1 106.7zM108.2 115.5L105.4 106.6L113.9 108.1zM132.2 115.4L127.1 108.0L135.4 107.0zM150.1 111.7L160.0 106.8L159.8 117.0zM129.0 123.5L130.4 112.5L138.8 118.4zM159.7 124.1L160.1 113.1L169.0 118.1zM136.4 132.2L137.2 121.2L145.9 126.5zM141.4 121.8L140.6 123.2L142.5 124.4L143.3 123.0zM151.7 154.5L153.4 143.6L161.6 149.6zM196.2 152.8L202.4 143.7L207.3 152.6zM211.3 152.2L218.6 144.0L222.3 153.5zM187.5 159.7L195.7 152.2L198.3 162.0zM198.0 155.7L196.7 156.0L197.3 158.2L198.5 157.8zM234.3 159.2L242.8 152.1L245.0 162.0zM218.8 167.4L226.7 159.6L229.6 169.4zM294.7 165.8L304.6 160.9L304.4 171.1zM192.0 178.9L188.6 168.4L198.7 170.1zM161.3 194.7L158.0 184.1L168.1 186.0zM162.3 183.2L162.0 184.8L164.1 185.2L164.4 183.6zM218.5 191.3L225.3 182.6L229.5 191.9zM228.0 185.8L226.9 186.3L227.8 188.3L228.9 187.8zM192.6 201.1L188.2 191.2L198.2 191.8zM217.5 201.6L209.5 194.0L219.1 190.7zM123.0 262.0L121.2 252.3L129.9 254.9zM146.5 262.1L143.2 252.8L152.3 254.1zM58.3 273.5L68.0 268.3L68.1 278.5zM66.0 271.5L77.1 270.7L73.0 280.1zM131.2 277.8L127.4 267.7L137.3 268.9zM219.5 276.3L224.5 266.4L230.4 274.7zM49.9 281.2L59.7 276.0L59.8 286.2zM60.8 280.0L59.7 280.0L59.7 282.2L60.8 282.2zM81.3 282.0L90.0 275.1L91.9 285.1zM89.2 282.0L97.7 275.0L99.8 285.0zM108.0 286.2L104.6 275.7L114.6 277.3zM65.6 290.0L73.9 282.7L76.4 292.5zM73.7 288.8L83.4 283.6L83.6 293.8zM96.4 290.8L103.3 282.3L107.4 291.6zM65.5 296.3L75.4 291.4L75.2 301.6zM88.5 297.6L96.9 290.4L99.2 300.3zM173.2 297.9L180.8 289.9L184.2 299.5zM57.3 304.0L67.0 298.9L67.1 309.1zM68.7 302.9L67.1 302.9L67.1 305.1L68.7 305.1zM65.8 304.0L75.7 299.0L75.6 309.1zM80.5 304.5L89.9 298.6L90.7 308.7zM171.9 304.3L181.4 298.7L182.0 308.9zM183.2 302.6L181.6 302.7L181.8 304.9L183.3 304.8zM58.0 310.2L68.8 308.0L66.1 317.8zM65.5 311.8L75.2 306.4L75.5 316.6zM88.9 311.8L98.5 306.4L98.8 316.6zM65.7 319.1L75.6 314.3L75.3 324.5zM73.1 320.5L81.4 313.2L83.8 323.1zM89.1 319.7L98.3 313.6L99.4 323.8zM95.6 319.2L105.5 314.2L105.4 324.4zM106.8 318.2L105.4 318.2L105.4 320.4L106.8 320.4z"/><path fill="#00dfff" d="M80.6 3.0L90.1 -2.6L90.7 7.5zM104.6 3.7L112.7 -3.3L115.1 6.3zM58.4 11.1L67.6 4.9L68.7 15.0zM73.4 12.2L81.1 4.2L84.3 13.9zM89.4 12.6L95.9 3.6L100.5 12.7zM158.8 13.4L163.2 3.3L169.6 11.2zM222.1 15.7L219.6 4.9L229.5 7.5zM119.7 20.4L126.4 11.7L130.7 20.9zM142.8 20.6L149.1 11.5L153.8 20.6zM81.8 27.9L88.9 19.4L92.8 28.8zM134.2 27.8L142.1 20.0L145.1 29.8zM144.3 23.5L143.2 23.8L143.9 25.9L144.9 25.6zM160.5 38.2L159.8 27.1L169.1 31.2zM207.2 46.3L204.3 35.6L214.2 37.8zM198.6 54.4L197.5 43.4L206.9 47.1zM206.2 53.4L206.1 42.7L214.9 47.2zM159.7 62.1L160.0 51.1L168.9 56.1zM164.0 52.1L163.5 53.1L165.4 54.1L165.9 53.1zM166.4 61.9L168.4 51.0L176.5 57.3zM172.6 52.2L171.6 53.5L173.3 54.8L174.3 53.5zM174.3 61.6L176.4 50.7L184.3 57.1zM141.9 66.9L149.5 59.0L152.8 68.6zM151.9 62.4L150.8 62.7L151.5 64.8L152.6 64.5zM149.3 66.0L158.2 59.4L159.8 69.5zM159.9 63.2L158.8 63.4L159.2 65.6L160.2 65.4zM196.4 68.4L200.9 58.4L207.2 66.4zM205.9 70.0L205.5 58.9L214.7 63.3zM181.8 77.5L183.7 66.6L191.8 72.8zM187.8 67.8L186.9 69.0L188.6 70.4L189.6 69.1zM191.0 76.8L190.7 66.1L199.6 70.4zM206.4 77.3L205.4 66.3L214.8 70.2zM160.1 85.8L159.4 74.7L168.7 78.9zM163.5 75.3L163.1 76.4L165.1 77.2L165.6 76.1zM174.3 84.9L176.3 74.1L184.4 80.3zM182.5 84.2L184.7 73.4L192.5 79.8zM189.8 85.5L190.9 74.5L199.4 80.1zM195.1 75.4L194.2 76.7L196.0 77.9L196.9 76.6zM205.3 84.4L207.4 73.5L215.4 79.8zM167.5 92.0L169.0 81.5L176.9 87.2zM174.2 93.1L175.9 82.2L184.1 88.2zM180.1 83.2L179.1 84.6L180.9 85.8L181.8 84.5zM168.2 100.2L167.5 89.6L176.5 93.5zM183.8 101.3L181.6 90.5L191.4 93.3zM206.0 100.6L205.8 89.6L214.9 94.1zM142.4 106.3L148.9 97.4L153.5 106.5zM168.1 108.0L167.6 97.2L176.6 101.4zM176.7 108.6L173.6 97.9L183.6 99.9zM200.2 108.9L195.8 98.8L206.0 99.5zM141.3 111.1L151.7 107.2L150.5 117.3zM152.9 111.4L151.2 111.2L150.9 113.4L152.6 113.6zM185.4 116.7L180.0 107.1L190.2 106.8zM145.1 123.9L144.4 112.9L153.7 117.0zM153.6 124.4L150.7 113.8L160.7 116.0zM198.3 124.2L197.9 113.1L207.1 117.5zM167.7 130.9L168.5 120.3L176.9 125.5zM197.4 132.1L198.5 121.1L207.0 126.7zM202.7 121.9L201.8 123.3L203.7 124.5L204.6 123.1zM159.8 138.5L161.3 128.0L169.3 133.7zM174.2 138.8L176.9 128.1L184.6 134.9zM205.2 139.8L206.1 128.7L214.7 134.1zM210.1 129.7L209.5 130.8L211.3 132.0L212.0 130.9zM122.7 147.9L120.4 137.1L130.2 139.8zM144.5 147.0L145.1 136.0L153.9 141.2zM158.4 146.0L162.7 135.8L169.2 143.7zM174.5 147.5L175.6 136.5L184.1 142.1zM179.8 137.4L178.9 138.7L180.8 139.9L181.6 138.6zM181.5 147.0L184.2 136.3L191.8 143.1zM188.2 137.8L187.2 139.0L188.8 140.4L189.8 139.3zM198.1 146.7L198.9 135.7L207.6 141.1zM121.9 154.6L122.1 143.5L131.1 148.3zM225.6 151.8L233.9 144.6L236.3 154.5zM236.3 148.1L234.8 148.4L235.4 150.6L236.8 150.2zM122.6 163.5L120.4 152.6L130.2 155.4zM124.5 152.7L124.2 153.7L126.4 154.3L126.7 153.3zM152.3 162.8L152.3 151.8L161.3 156.5zM167.4 161.7L169.1 151.1L177.0 157.0zM218.2 160.6L225.1 151.9L229.2 161.2zM228.2 154.9L226.7 155.6L227.6 157.6L229.1 156.9zM138.4 170.6L135.4 160.0L145.4 162.1zM145.3 170.3L144.2 159.3L153.7 163.0zM159.0 169.1L162.7 158.6L169.6 166.1zM182.5 169.2L184.8 158.9L192.3 165.2zM213.9 170.5L213.0 159.5L222.4 163.3zM128.8 177.8L130.3 166.9L138.6 172.8zM167.2 178.4L167.7 167.4L176.5 172.5zM171.8 168.3L171.2 169.4L173.1 170.5L173.7 169.5zM176.9 179.1L173.1 168.7L183.2 170.0zM177.2 168.1L177.0 169.2L179.2 169.5L179.4 168.3zM122.7 185.4L121.2 174.9L130.4 178.1zM128.5 185.4L130.7 174.6L138.6 181.0zM152.4 185.1L153.1 174.2L161.8 179.5zM182.4 185.7L183.6 174.7L192.0 180.4zM145.4 193.6L144.0 182.6L153.5 186.1zM151.9 193.5L152.8 182.5L161.4 187.9zM176.1 194.6L173.7 183.8L183.6 186.5zM178.0 183.2L177.6 184.9L179.7 185.4L180.1 183.8zM121.3 200.8L122.7 189.9L131.1 195.7zM143.5 201.1L145.8 190.2L153.7 196.7zM149.7 191.8L148.9 192.8L150.6 194.2L151.4 193.2zM135.3 206.8L141.2 197.5L146.3 206.3zM142.0 206.3L149.5 198.2L152.9 207.8zM126.8 212.0L136.8 207.2L136.4 217.4zM143.5 215.6L146.9 205.1L154.0 212.4zM180.5 214.0L187.7 205.7L191.5 215.2zM173.2 221.4L180.8 213.3L184.1 223.0zM150.4 228.5L158.7 221.4L160.9 231.2zM156.9 229.3L164.6 221.4L167.8 231.0zM167.4 224.6L165.8 225.1L166.5 227.2L168.1 226.7zM172.0 227.9L181.4 222.1L182.1 232.3zM183.2 226.0L181.7 226.1L181.8 228.3L183.3 228.2zM157.1 235.5L166.6 229.8L167.1 240.0zM150.2 252.3L157.4 243.9L161.2 253.4zM116.9 262.8L111.0 253.5L121.1 252.7zM131.2 262.4L127.6 252.5L137.2 253.7zM225.7 260.1L233.2 252.0L236.7 261.6zM236.1 255.2L234.6 255.7L235.3 257.8L236.8 257.3zM180.5 297.9L188.2 290.1L191.3 299.8zM96.9 312.3L105.6 305.9L107.1 315.7z"/><path fill="#00ffff" d="M87.9 3.3L97.1 -2.8L98.2 7.3zM99.1 1.0L97.5 1.2L97.8 3.4L99.3 3.2zM159.7 7.4L160.0 -3.6L168.9 1.4zM166.6 6.2L169.7 -4.4L177.1 2.6zM220.9 7.5L220.9 -3.5L230.0 1.2zM225.0 -2.6L224.5 -1.7L226.4 -0.7L226.9 -1.6zM228.0 6.5L230.2 -4.3L238.1 2.1zM119.6 11.1L128.6 4.8L129.9 14.9zM57.9 19.8L65.9 12.2L68.7 22.0zM221.7 22.5L220.8 11.5L230.2 15.4zM228.7 23.3L228.4 12.3L237.5 16.7zM232.5 12.9L232.0 14.0L233.9 15.0L234.5 13.9zM190.3 31.0L190.4 20.0L199.4 24.8zM194.5 20.8L193.9 21.9L195.9 22.9L196.4 21.8zM158.1 45.1L162.6 35.0L169.0 43.0zM169.7 46.6L165.2 36.6L175.3 37.1zM184.8 46.6L180.6 36.4L190.7 37.3zM191.2 46.2L189.9 35.3L199.4 38.8zM198.5 46.1L198.1 35.1L207.3 39.4zM206.7 62.6L204.4 51.8L214.3 54.5zM208.6 51.9L208.3 52.9L210.4 53.5L210.7 52.5zM159.8 69.9L159.9 58.9L168.9 63.6zM168.0 70.0L167.0 59.0L176.4 62.8zM182.3 69.7L183.4 58.7L191.9 64.3zM173.3 76.6L177.5 66.4L184.1 74.2zM181.2 68.5L180.1 69.4L181.5 71.1L182.6 70.2zM167.5 84.3L168.8 73.6L177.0 79.3zM162.1 93.3L157.5 83.3L167.7 83.8zM184.5 93.6L180.8 83.2L190.9 84.6zM198.8 93.0L197.5 82.1L207.0 85.6zM191.7 101.3L189.0 90.6L198.9 92.9zM198.7 100.5L197.9 89.4L207.3 93.4zM160.0 108.4L160.1 97.3L169.1 102.1zM182.5 107.7L184.2 96.8L192.4 102.9zM206.6 109.2L204.6 98.3L214.3 101.3zM160.6 115.9L159.7 105.0L169.0 108.8zM168.5 117.2L166.1 106.4L176.0 109.0zM170.3 106.1L170.0 107.4L172.1 108.0L172.4 106.7zM190.6 115.9L190.9 104.9L199.8 109.8zM199.2 116.1L197.2 105.2L207.0 108.3zM204.5 115.8L207.4 105.1L214.9 112.0zM211.0 107.0L210.3 107.8L211.9 109.3L212.7 108.5zM175.6 124.3L174.7 113.3L184.1 117.3zM181.6 123.5L184.5 112.9L192.0 119.8zM188.1 114.8L187.4 115.6L189.0 117.1L189.7 116.3zM192.5 124.1L188.2 114.0L198.4 114.7zM206.0 124.2L205.5 113.2L214.7 117.5zM128.0 129.4L133.9 120.5L138.7 129.1zM143.6 131.4L146.0 120.6L153.8 127.2zM159.3 130.9L161.6 120.1L169.5 126.6zM182.0 131.2L184.3 120.4L192.2 126.8zM189.4 131.7L191.5 120.9L199.5 127.2zM195.5 122.2L194.6 123.3L196.3 124.7L197.2 123.5zM206.3 131.8L205.4 120.8L214.8 124.7zM130.7 140.5L127.5 130.0L137.6 131.9zM131.7 129.3L131.5 130.7L133.6 131.1L133.9 129.7zM153.5 139.2L151.3 128.7L160.9 131.4zM192.3 139.5L188.5 129.1L198.6 130.4zM197.5 139.4L198.8 128.5L207.3 134.2zM152.0 146.1L154.0 135.7L161.7 141.7zM166.6 145.8L170.4 135.4L177.3 143.0zM192.1 147.9L188.5 137.5L198.6 138.9zM128.8 154.5L130.5 143.6L138.7 149.7zM137.0 154.1L138.1 143.4L146.4 148.8zM175.9 155.5L174.2 144.6L183.9 147.9zM181.7 153.6L185.7 143.3L192.4 151.0zM129.2 161.8L130.8 151.0L139.0 156.9zM144.4 161.6L146.3 151.2L154.0 157.1zM159.2 162.1L161.3 151.3L169.3 157.6zM182.5 162.4L183.7 151.4L192.2 157.0zM121.7 170.4L121.9 159.4L130.8 164.3zM128.6 169.5L131.3 158.8L138.9 165.6zM168.6 171.0L166.2 160.2L176.1 162.9zM175.0 169.6L176.5 158.6L184.8 164.5zM121.5 178.2L122.0 167.1L130.8 172.2zM137.1 178.1L137.1 167.0L146.1 171.7zM155.2 178.5L149.1 169.3L159.2 168.2zM159.9 178.8L159.5 167.8L168.7 172.2zM163.8 168.0L163.1 169.5L165.1 170.4L165.8 168.9zM183.6 179.2L181.5 168.3L191.3 171.2zM185.8 167.8L185.3 169.4L187.4 170.1L187.9 168.4zM135.6 185.0L139.1 174.6L146.2 181.9zM144.0 185.7L145.5 174.7L153.8 180.7zM176.1 185.8L174.4 174.9L184.1 178.2zM130.7 193.7L127.9 183.1L137.8 185.2zM129.4 201.8L129.0 190.7L138.2 195.1zM133.1 191.3L132.6 192.4L134.6 193.4L135.1 192.2zM168.0 201.4L167.1 190.4L176.5 194.4zM175.2 200.8L175.9 189.8L184.6 195.0zM157.4 204.4L167.3 199.5L167.1 209.7zM172.4 206.8L179.2 198.1L183.4 207.4zM182.3 201.1L180.8 201.8L181.8 203.8L183.3 203.1zM150.0 214.9L155.8 205.5L161.1 214.3zM158.8 208.4L157.9 208.9L159.0 210.8L159.9 210.3zM165.6 214.1L172.5 205.4L176.6 214.7zM134.5 222.7L140.4 213.3L145.5 222.1zM143.7 216.0L142.4 216.8L143.5 218.7L144.8 217.9zM142.2 222.6L148.2 213.3L153.3 222.1zM151.3 216.1L150.2 216.8L151.3 218.7L152.4 218.0zM150.6 222.1L156.7 212.8L161.7 221.7zM165.6 220.7L174.2 213.8L176.2 223.8zM179.7 220.4L188.9 214.3L190.0 224.5zM190.7 218.2L189.3 218.3L189.6 220.5L190.9 220.4zM165.6 229.3L172.7 220.8L176.6 230.3zM150.1 236.2L158.6 229.1L160.7 239.1zM166.4 237.7L171.5 228.1L177.1 236.3zM173.6 237.4L179.7 228.2L184.6 237.1zM118.9 325.7L129.6 322.9L127.4 332.8z"/><path fill="#009fff" d="M97.3 4.9L103.4 -4.3L108.3 4.6zM118.7 3.9L127.2 -3.2L129.4 6.8zM129.3 0.5L128.1 0.7L128.5 2.9L129.7 2.6zM135.2 4.8L141.7 -4.1L146.3 5.0zM150.5 4.6L157.2 -4.1L161.6 5.1zM51.0 11.0L60.0 5.0L61.1 14.9zM66.1 12.4L73.3 4.0L77.1 13.4zM112.4 12.2L119.4 3.8L123.3 13.2zM126.7 12.8L133.6 4.1L137.8 13.4zM136.3 7.3L135.3 7.8L136.2 9.8L137.2 9.3zM135.2 12.1L142.5 3.9L146.1 13.4zM88.4 19.6L96.7 12.3L99.2 22.2zM112.3 20.1L119.4 11.6L123.3 21.1zM150.5 19.9L157.9 11.7L161.5 21.3zM95.6 26.6L105.1 20.8L105.8 30.9zM106.7 24.7L105.3 24.8L105.5 27.0L106.8 26.9zM111.5 28.1L118.8 19.8L122.5 29.3zM141.6 25.3L152.0 21.8L150.5 31.9zM152.7 25.9L151.4 25.7L151.1 27.9L152.3 28.1zM149.9 27.1L158.5 20.2L160.4 30.2zM81.5 34.1L91.1 28.8L91.4 38.9zM96.8 35.0L105.1 27.8L107.5 37.7zM127.4 34.1L136.9 28.8L137.2 38.8zM149.9 34.9L158.6 28.1L160.5 38.1zM108.3 46.2L104.4 35.9L114.5 37.1zM142.3 43.9L149.2 35.2L153.4 44.6zM77.9 53.9L73.7 44.0L83.7 44.7zM85.0 53.8L82.2 43.5L91.9 45.6zM175.3 53.6L175.7 42.6L184.6 47.6zM190.0 54.2L190.8 43.2L199.5 48.6zM194.8 44.3L194.2 45.3L196.1 46.5L196.7 45.5zM93.3 76.5L89.8 68.3L98.0 69.0zM115.3 77.1L113.2 66.6L122.7 69.4zM101.2 92.8L96.3 83.4L106.1 83.4zM132.3 92.0L127.2 85.0L135.1 83.7zM141.5 89.7L150.0 82.6L152.2 92.6zM152.3 86.2L150.9 86.5L151.3 88.7L152.8 88.4zM149.5 89.3L158.4 82.8L160.0 92.9zM122.4 100.0L121.9 89.9L130.4 93.8zM141.8 98.0L149.5 90.1L152.8 99.7zM151.9 93.5L150.8 93.8L151.5 95.9L152.6 95.6zM150.1 95.5L160.7 92.1L158.9 102.2zM168.0 123.6L167.7 112.5L176.9 117.0zM187.4 150.3L197.4 145.6L196.9 155.8zM198.4 149.6L197.2 149.6L197.1 151.8L198.3 151.8zM203.5 153.3L209.2 143.9L214.5 152.6zM212.3 146.7L211.3 147.3L212.4 149.2L213.4 148.6zM219.3 152.2L226.3 143.8L230.3 153.2zM294.7 150.8L304.2 145.1L304.7 155.3zM195.2 159.5L203.5 152.2L205.9 162.1zM205.6 155.8L204.5 156.1L205.0 158.3L206.1 158.0zM203.2 159.3L211.7 152.2L213.9 162.2zM211.7 160.5L217.8 151.3L222.8 160.2zM208.8 171.3L202.6 162.2L212.7 160.9zM198.7 178.2L197.6 167.2L207.1 171.0zM218.2 180.6L228.6 176.9L227.2 187.0zM199.7 193.4L196.6 182.8L206.6 184.8zM214.5 194.1L212.1 183.3L221.9 185.9zM199.9 202.4L195.9 192.1L206.0 193.1zM200.0 191.1L199.8 192.5L202.0 192.7L202.2 191.3zM127.4 206.2L134.6 197.8L138.4 207.3zM118.7 212.9L127.7 206.5L129.0 216.6zM129.4 210.3L128.2 210.5L128.5 212.7L129.7 212.5zM196.0 213.4L204.0 205.9L206.8 215.7zM119.0 221.6L126.6 213.6L129.9 223.2zM137.7 231.5L136.9 220.8L146.0 224.7zM123.0 239.2L120.9 229.1L130.1 231.7zM137.5 238.9L137.5 228.5L145.9 232.9zM115.1 246.5L113.9 236.9L122.3 240.0zM139.8 247.9L133.9 238.6L144.1 237.8zM146.1 246.7L143.8 237.2L152.6 239.4zM149.1 242.5L159.2 238.0L158.5 248.2zM160.4 242.1L158.9 242.0L158.8 244.2L160.2 244.3zM157.7 244.1L165.9 236.6L168.5 246.4zM164.8 244.6L172.4 236.6L175.8 246.2zM174.7 240.0L173.7 240.4L174.4 242.5L175.5 242.1zM122.2 254.2L122.1 243.9L130.6 248.2zM138.1 255.1L135.8 244.3L145.6 247.0zM137.2 262.5L137.1 251.4L146.2 256.1zM226.6 268.4L232.6 259.1L237.6 268.0zM81.0 271.5L91.9 270.3L88.3 279.8zM57.6 279.4L68.4 277.5L65.4 287.2zM68.7 281.7L67.3 281.3L66.6 283.4L68.1 283.8zM65.8 279.8L76.6 277.5L73.9 287.3zM73.1 281.1L82.9 276.0L82.9 286.2zM131.8 285.3L126.9 276.1L136.5 276.0zM80.2 289.2L89.6 283.3L90.4 293.5zM91.5 287.2L89.9 287.3L90.1 289.5L91.7 289.4zM88.8 287.8L99.3 284.7L97.4 294.7zM58.4 295.6L69.0 292.3L67.2 302.3zM72.8 295.8L83.1 291.7L82.0 301.9zM83.9 295.8L82.7 295.7L82.4 297.9L83.7 298.0zM50.7 302.1L61.7 301.1L57.9 310.5zM73.2 304.4L82.6 298.6L83.4 308.7zM49.9 310.8L60.4 307.2L58.9 317.3zM61.0 311.3L59.8 311.2L59.5 313.3L60.6 313.5zM81.0 312.3L90.0 305.9L91.4 316.1zM50.8 319.5L60.3 313.8L60.9 324.0zM57.5 319.7L66.8 313.8L67.7 324.0zM68.4 317.7L67.1 317.8L67.3 320.0L68.6 319.9zM81.8 320.7L89.2 312.9L92.5 322.2z"/><path fill="#20ffdf" d="M141.7 4.2L149.8 -3.4L152.5 6.5zM152.1 0.2L150.9 0.5L151.5 2.6L152.6 2.3zM199.3 7.2L196.9 -3.6L206.8 -1.0zM183.0 14.8L183.0 3.7L192.1 8.4zM199.4 14.8L197.0 4.0L206.8 6.7zM215.8 14.8L211.0 5.3L220.8 5.4zM243.4 5.7L240.2 16.3L232.9 9.2zM234.8 16.1L237.4 13.5L235.8 12.0L233.2 14.6zM281.0 5.9L278.3 16.6L270.7 9.9zM273.7 15.9L275.3 14.0L273.7 12.5L272.0 14.4zM169.8 23.0L165.0 13.1L175.2 13.4zM190.1 23.1L190.7 12.1L199.4 17.2zM194.7 13.0L194.1 14.1L196.0 15.2L196.6 14.2zM214.6 22.9L212.2 12.1L222.0 14.7zM250.4 13.6L247.9 24.4L240.2 17.8zM243.1 23.8L244.9 21.8L243.2 20.3L241.5 22.4zM257.6 12.6L256.7 23.6L248.1 18.2zM251.3 24.7L253.4 21.5L251.5 20.3L249.5 23.6zM290.0 15.8L283.3 24.6L279.0 15.3zM279.5 21.9L281.6 20.9L280.7 18.9L278.6 19.9zM200.2 31.1L195.7 21.1L205.9 21.6zM168.4 38.8L166.5 27.9L176.2 31.0zM176.7 47.0L173.4 36.5L183.4 38.2zM238.0 39.6L230.2 47.4L227.2 37.7zM224.4 45.0L229.0 43.6L228.4 41.5L223.8 42.9zM281.4 36.2L279.3 47.0L271.3 40.7zM273.3 48.1L276.1 44.5L274.4 43.2L271.6 46.7zM242.9 42.8L242.1 53.9L233.4 48.5zM235.4 56.9L238.7 51.7L236.8 50.6L233.6 55.7zM183.7 61.9L182.0 51.0L191.7 54.3zM190.1 60.8L192.3 50.2L200.1 56.5zM197.8 61.6L198.8 50.6L207.4 56.1zM174.2 69.1L176.7 58.4L184.4 65.0zM159.1 76.4L162.0 65.8L169.5 72.7zM199.0 77.5L197.2 66.6L206.9 69.8zM199.8 84.9L196.6 74.9L206.2 76.5zM190.8 92.8L190.5 81.7L199.7 86.2zM172.9 99.4L178.3 89.7L183.8 98.3zM181.7 92.3L180.5 93.1L181.7 94.9L182.9 94.1zM176.7 116.2L173.6 105.6L183.6 107.5zM137.6 123.7L136.9 112.6L146.2 116.8zM121.4 131.2L122.8 120.3L131.2 126.1zM151.7 132.0L152.6 121.0L161.2 126.4zM156.7 122.0L156.0 123.1L157.9 124.3L158.6 123.1zM175.0 131.9L175.4 120.9L184.2 125.9zM120.3 137.9L125.1 127.9L131.2 136.1zM136.9 139.1L137.6 128.1L146.3 133.4zM167.0 138.2L169.9 127.9L177.1 134.6zM182.0 138.4L185.2 127.8L192.5 134.9zM129.2 146.8L130.1 135.8L138.7 141.2zM136.9 146.3L138.3 135.7L146.4 141.3zM207.9 147.6L203.4 137.5L213.5 138.1zM144.1 153.8L146.7 143.2L154.3 149.8zM158.0 154.0L162.4 143.9L168.8 151.7zM165.9 146.1L164.9 146.9L166.3 148.6L167.3 147.8zM167.2 154.7L168.3 143.7L176.8 149.3zM137.2 162.7L137.0 151.6L146.1 156.2zM152.9 169.9L152.2 159.1L161.4 163.2zM144.7 177.8L145.1 166.7L154.0 171.7zM160.4 185.7L159.7 174.7L169.0 178.9zM165.1 183.4L172.1 174.9L176.1 184.3zM121.3 193.0L122.9 182.0L131.2 188.0zM167.3 193.8L167.6 182.8L176.5 187.8zM171.7 183.7L171.1 184.8L173.0 185.9L173.6 184.8zM182.4 193.0L184.0 182.1L192.3 188.0zM135.2 199.6L140.5 189.9L146.2 198.4zM152.7 200.6L152.7 190.0L161.4 194.4zM158.3 200.3L162.2 190.0L169.0 197.6zM182.8 201.7L182.6 190.7L191.7 195.2zM186.7 191.3L186.2 192.4L188.1 193.4L188.7 192.3zM150.3 205.9L158.0 198.0L161.2 207.7zM165.9 206.8L171.9 197.5L176.9 206.4zM181.1 206.8L187.2 197.5L192.2 206.4zM188.8 207.7L193.2 197.6L199.7 205.5zM134.8 213.6L142.6 205.8L145.7 215.5zM157.9 212.8L166.9 206.4L168.3 216.5zM172.5 213.1L181.3 206.3L183.1 216.3zM188.4 214.7L194.4 205.4L199.5 214.3zM243.9 205.5L241.9 216.4L233.9 210.1zM234.4 219.5L238.7 213.9L237.0 212.6L232.7 218.1zM157.9 221.3L165.7 213.4L168.8 223.1zM187.3 219.8L197.2 214.7L197.1 224.9zM198.4 218.7L197.1 218.7L197.1 220.9L198.4 220.9zM110.9 294.0L121.9 293.1L117.9 302.5zM122.5 297.7L120.4 296.8L119.5 298.8L121.6 299.7zM133.7 309.5L144.7 308.2L141.1 317.7zM145.5 312.7L143.3 311.9L142.5 314.0L144.7 314.8zM126.9 323.7L137.9 324.7L132.4 333.3zM137.2 329.0L135.7 328.1L134.6 330.0L136.0 330.9z"/><path fill="#80ff80" d="M175.9 6.6L175.2 -3.9L184.1 0.0zM192.1 15.7L188.5 5.2L198.6 6.8zM265.1 5.8L263.5 16.7L255.2 10.7zM259.1 15.9L260.2 14.4L258.4 13.1L257.3 14.6zM205.7 21.9L207.1 11.3L215.2 16.9zM279.9 19.9L280.3 30.9L271.1 26.5zM274.9 32.9L276.7 29.2L274.7 28.2L272.9 32.0zM288.7 20.4L287.1 31.4L278.8 25.4zM281.3 32.6L283.9 29.0L282.1 27.7L279.5 31.3zM219.0 28.7L218.3 39.7L209.6 34.5zM213.6 39.8L214.9 37.7L213.0 36.5L211.7 38.7zM227.1 27.3L226.8 38.4L217.9 33.4zM220.7 41.2L223.3 36.4L221.4 35.4L218.8 40.1zM264.9 28.9L263.9 39.9L255.4 34.3zM259.3 39.7L260.6 37.7L258.7 36.5L257.4 38.5zM274.0 28.7L271.3 39.4L263.7 32.6zM265.3 40.0L268.3 36.7L266.7 35.2L263.7 38.5zM290.2 28.8L286.5 39.1L279.6 31.6zM279.6 40.0L283.8 36.2L282.3 34.6L278.1 38.4zM241.5 34.3L242.9 45.3L233.3 41.7zM236.9 49.7L239.1 43.8L237.1 43.1L234.9 48.9zM258.8 38.1L254.2 48.1L247.9 40.1zM249.9 46.4L251.7 45.0L250.4 43.2L248.5 44.6zM266.4 37.9L262.0 48.0L255.6 40.1zM257.6 46.5L259.5 44.9L258.1 43.2L256.2 44.8zM275.8 38.9L268.9 47.5L264.7 38.2zM263.2 45.7L267.3 43.9L266.4 41.9L262.3 43.7zM220.1 44.2L217.9 55.1L210.0 48.7zM212.3 55.6L214.8 52.5L213.1 51.2L210.6 54.2zM249.6 44.3L248.8 55.3L240.1 50.0zM244.1 55.4L245.4 53.2L243.5 52.1L242.2 54.3zM267.1 44.6L263.3 55.0L256.4 47.5zM256.9 55.4L260.6 52.0L259.1 50.4L255.5 53.8zM234.3 52.0L233.6 63.0L224.9 57.8zM228.8 63.3L230.2 61.0L228.3 59.9L226.9 62.2zM248.6 58.7L250.2 69.6L240.6 66.3zM245.2 72.0L246.4 68.3L244.4 67.6L243.1 71.3zM259.1 59.7L256.1 70.3L248.7 63.3zM249.7 71.4L253.2 67.6L251.6 66.1L248.1 69.9zM233.8 66.2L234.9 77.2L225.4 73.4zM229.4 80.1L231.1 75.8L229.1 74.9L227.4 79.2zM243.5 68.3L240.0 78.8L232.9 71.5zM234.7 78.4L237.2 76.0L235.7 74.4L233.2 76.8zM252.7 69.9L246.1 78.7L241.6 69.6zM240.5 77.0L244.3 75.1L243.4 73.2L239.5 75.0zM220.2 82.3L218.7 93.3L210.3 87.4zM212.3 95.3L215.4 91.0L213.6 89.7L210.5 94.0zM250.7 81.9L249.6 92.9L241.1 87.3zM242.9 95.7L246.3 90.7L244.4 89.5L241.1 94.5zM228.9 92.5L223.7 102.3L218.0 93.9zM218.6 100.9L221.5 99.0L220.2 97.1L217.3 99.1zM235.6 90.4L233.6 101.3L225.5 95.1zM227.5 102.8L230.5 98.9L228.7 97.5L225.7 101.4zM227.4 98.2L226.1 109.1L217.7 103.4zM220.4 110.5L222.8 106.9L221.0 105.7L218.6 109.3zM235.2 99.1L232.9 109.9L225.0 103.3zM227.8 109.7L229.8 107.3L228.1 105.9L226.1 108.3zM243.4 100.1L239.1 110.3L232.6 102.5zM234.8 108.8L236.6 107.3L235.2 105.6L233.3 107.1zM243.4 105.3L241.8 116.2L233.5 110.2zM234.9 118.9L238.6 113.9L236.8 112.6L233.1 117.6zM219.1 112.5L219.6 123.5L210.3 119.2zM213.5 127.1L216.0 121.8L214.0 120.9L211.5 126.1zM227.8 115.4L224.2 125.9L217.2 118.5zM219.9 124.5L221.4 123.0L219.9 121.4L218.4 122.9zM219.8 121.9L218.0 132.8L209.8 126.8zM212.7 133.3L214.8 130.5L213.1 129.1L210.9 132.0zM220.9 130.7L216.7 140.9L210.1 133.1zM211.4 140.2L214.1 137.9L212.7 136.2L210.0 138.5zM227.6 130.7L224.5 141.3L217.1 134.3zM220.1 140.1L221.6 138.5L220.0 137.0L218.5 138.6zM219.7 137.9L217.6 148.7L209.6 142.4zM212.8 148.3L214.5 146.2L212.7 144.9L211.1 147.0zM267.5 206.8L263.7 217.1L256.8 209.6zM256.5 218.3L261.0 214.2L259.5 212.6L255.0 216.7zM290.3 206.4L287.0 216.9L279.8 209.7zM279.6 218.7L284.2 214.1L282.6 212.5L278.0 217.1zM260.3 214.2L256.4 224.5L249.6 216.9zM248.4 226.3L253.8 221.5L252.3 219.9L246.9 224.7zM275.0 216.4L269.2 225.8L264.0 217.1zM264.1 224.2L267.1 222.4L266.0 220.5L263.0 222.3zM283.2 214.4L279.1 224.6L272.5 216.9zM271.3 226.1L276.5 221.6L275.1 219.9L269.9 224.4zM242.9 221.2L241.7 232.2L233.2 226.5zM235.4 234.4L238.4 230.0L236.5 228.8L233.6 233.2zM260.3 222.3L256.0 232.5L249.5 224.7zM248.5 233.6L253.5 229.4L252.0 227.7L247.0 231.9zM254.6 232.8L246.6 240.4L243.7 230.6zM238.5 238.6L245.5 236.6L244.8 234.5L237.9 236.5zM260.0 229.2L256.6 239.7L249.5 232.5zM248.7 241.9L253.8 236.9L252.3 235.3L247.2 240.3zM269.3 231.6L262.6 240.3L258.3 231.1zM254.4 239.8L260.9 236.7L260.0 234.7L253.5 237.8zM275.8 230.8L270.5 240.5L264.9 232.0zM263.3 240.5L268.3 237.2L267.1 235.3L262.1 238.7zM266.3 237.2L264.0 248.0L256.1 241.5zM257.8 249.2L260.9 245.5L259.2 244.1L256.1 247.8zM283.0 236.9L279.6 247.4L272.4 240.1zM271.6 249.6L276.8 244.6L275.2 243.0L270.1 248.0zM245.7 246.1L240.1 255.6L234.7 247.0zM232.3 255.8L238.0 252.3L236.8 250.4L231.1 254.0zM249.0 242.5L250.8 253.4L241.1 250.2zM244.7 258.9L247.0 252.1L244.9 251.4L242.6 258.2zM265.0 244.6L264.5 255.7L255.7 250.6zM259.2 256.9L261.1 253.7L259.2 252.6L257.3 255.8zM273.8 245.3L271.3 256.0L263.5 249.4zM265.6 256.5L268.2 253.4L266.6 252.0L263.9 255.0zM282.6 245.5L278.6 255.8L271.9 248.2zM272.0 256.3L275.9 252.8L274.5 251.2L270.5 254.6zM258.7 252.4L256.5 263.2L248.5 256.8zM250.2 264.7L253.4 260.7L251.7 259.3L248.5 263.3zM282.5 253.7L278.0 263.8L271.7 255.8zM272.0 263.5L275.5 260.7L274.2 258.9L270.6 261.8zM251.6 262.1L246.6 271.9L240.6 263.6zM241.8 270.4L244.2 268.7L243.0 266.9L240.5 268.6zM260.1 261.6L255.0 271.4L249.1 263.0zM248.5 271.0L252.7 268.1L251.4 266.3L247.3 269.1z"/><path fill="#40ffbf" d="M181.2 5.5L186.3 -4.2L192.1 4.2zM204.8 7.3L206.4 -3.6L214.7 2.3zM210.6 -2.6L209.7 -1.3L211.4 0.0L212.4 -1.3zM213.9 6.9L213.3 -4.1L222.6 0.0zM250.5 -1.4L247.1 9.1L240.0 1.9zM243.0 7.6L244.3 6.3L242.8 4.7L241.4 6.0zM259.9 -0.8L254.1 8.6L248.9 -0.2zM248.7 7.1L252.0 5.2L250.9 3.3L247.6 5.3zM266.0 -2.4L263.5 8.4L255.7 1.8zM258.1 8.5L260.5 5.8L258.8 4.4L256.5 7.1zM275.1 -0.4L268.9 8.7L264.1 -0.3zM264.0 6.8L267.0 5.2L266.0 3.2L262.9 4.9zM281.8 -2.1L278.4 8.4L271.3 1.1zM272.8 8.3L275.6 5.5L274.1 4.0L271.2 6.7zM290.1 -0.6L284.3 8.8L279.1 0.0zM279.6 7.0L282.3 5.3L281.2 3.5L278.4 5.1zM175.0 14.6L176.0 3.6L184.6 9.1zM205.3 15.4L205.9 4.3L214.7 9.5zM210.1 5.1L209.3 6.4L211.2 7.5L212.0 6.2zM249.8 5.0L249.0 16.0L240.3 10.7zM243.9 16.7L245.6 13.9L243.7 12.8L242.0 15.5zM289.1 6.3L285.5 16.7L278.5 9.2zM280.7 15.6L282.7 13.8L281.2 12.2L279.2 14.0zM174.5 21.8L177.2 11.1L184.8 17.9zM181.8 22.2L184.5 11.5L192.1 18.3zM243.0 15.5L237.7 25.1L232.1 16.6zM265.7 14.0L262.8 24.6L255.3 17.7zM258.4 23.5L259.8 21.9L258.2 20.4L256.8 22.0zM273.9 14.7L269.4 24.7L263.1 16.8zM265.3 22.9L266.9 21.6L265.6 19.9L263.9 21.2zM280.7 14.2L277.8 24.9L270.3 18.0zM273.9 23.2L274.9 22.2L273.3 20.7L272.3 21.7zM175.7 30.5L174.9 19.5L184.3 23.5zM183.5 30.3L182.7 19.2L192.0 23.3zM206.0 30.2L206.2 19.2L215.1 24.0zM181.1 37.5L185.2 27.3L191.8 35.1zM188.7 29.6L187.8 30.3L189.3 32.0L190.1 31.3zM191.0 38.3L190.3 27.3L199.6 31.4zM198.0 39.1L197.7 28.1L206.9 32.6zM202.1 28.3L201.3 29.9L203.3 30.8L204.0 29.3zM206.2 38.1L205.8 27.1L215.0 31.5zM258.4 28.6L256.2 39.4L248.3 32.9zM250.4 40.1L253.1 36.8L251.4 35.4L248.7 38.7zM167.0 53.5L168.8 42.6L177.0 48.7zM266.6 53.0L262.6 63.3L255.9 55.7zM257.5 62.6L260.0 60.3L258.5 58.7L256.0 60.9zM189.5 108.6L191.2 97.7L199.4 103.7zM195.3 98.8L194.4 100.1L196.2 101.4L197.1 100.1zM218.8 98.7L218.4 109.7L209.6 104.7zM213.7 109.9L215.0 107.7L213.1 106.7L211.8 108.9zM123.5 123.8L120.0 113.7L129.8 115.2zM143.8 138.5L146.7 127.9L154.2 134.7zM174.6 161.8L177.0 151.0L184.8 157.6zM138.5 193.2L135.7 183.0L145.3 185.1zM196.3 205.4L204.5 198.5L206.7 208.1zM251.9 208.1L247.0 218.0L241.0 209.7zM241.4 217.1L244.7 214.7L243.4 213.0L240.1 215.3zM274.2 207.0L271.1 217.6L263.7 210.6zM265.2 218.1L268.2 214.8L266.6 213.3L263.6 216.5zM180.1 229.8L186.9 221.1L191.1 230.4zM189.9 224.2L188.6 224.8L189.5 226.8L190.8 226.2zM251.7 221.3L249.2 232.0L241.4 225.4zM241.9 234.5L246.2 229.4L244.5 228.0L240.2 233.0zM289.9 231.2L285.1 241.1L279.0 233.0zM279.9 240.0L282.7 237.9L281.4 236.2L278.6 238.3zM274.5 238.0L270.8 248.4L263.8 241.0zM264.9 248.5L268.1 245.5L266.6 243.9L263.3 246.9zM251.2 253.9L247.3 264.2L240.5 256.6zM242.3 263.3L244.6 261.2L243.1 259.6L240.8 261.7zM125.7 287.0L136.5 284.8L133.6 294.6zM138.2 289.5L135.4 288.7L134.8 290.8L137.5 291.6zM103.4 293.7L114.5 293.5L110.0 302.6zM114.7 298.0L112.7 297.1L111.8 299.0L113.7 300.0zM111.3 300.6L122.3 301.7L116.6 310.2zM122.3 306.5L120.1 305.1L118.8 306.9L121.1 308.4zM125.9 301.3L136.9 300.8L132.7 310.0zM138.1 305.7L135.2 304.4L134.3 306.4L137.2 307.7zM118.4 311.1L128.6 306.9L127.6 317.1zM130.0 311.1L128.2 310.9L128.0 313.1L129.8 313.2zM126.6 311.1L136.9 307.1L135.8 317.2zM104.1 317.2L115.1 316.4L111.0 325.8zM134.2 317.9L144.9 315.4L142.4 325.3zM144.9 319.5L143.9 319.3L143.4 321.4L144.4 321.7zM117.5 332.8L128.2 330.2L125.7 340.1zM131.0 335.1L127.2 334.1L126.7 336.2L130.5 337.2zM126.0 334.9L135.4 329.1L136.2 339.3zM137.4 333.0L135.7 333.1L135.9 335.3L137.6 335.2z"/><path fill="#60ff9f" d="M190.8 6.5L191.0 -4.3L199.8 0.5zM243.7 0.7L236.5 9.1L232.7 -0.4zM167.4 14.7L168.1 3.7L176.8 9.0zM258.4 6.0L255.2 16.6L247.9 9.5zM250.4 15.8L252.4 13.8L250.8 12.2L248.8 14.3zM272.0 5.1L272.2 16.1L263.1 11.5zM267.5 16.5L268.6 14.3L266.6 13.3L265.5 15.5zM198.4 22.2L198.6 11.4L207.4 16.1zM167.5 29.8L168.7 19.1L177.0 24.6zM220.4 20.3L218.4 31.1L210.4 24.8zM212.0 32.7L215.2 28.7L213.5 27.3L210.3 31.4zM227.2 19.4L226.9 30.4L218.0 25.5zM220.7 33.5L223.4 28.5L221.5 27.5L218.8 32.4zM235.1 20.7L233.4 31.6L225.2 25.6zM228.0 32.3L230.2 29.3L228.4 28.0L226.2 31.0zM258.2 20.5L256.5 31.4L248.3 25.3zM250.7 32.5L253.3 29.0L251.5 27.7L248.9 31.2zM265.5 21.5L263.1 32.3L255.3 25.8zM258.7 31.5L260.1 29.8L258.4 28.4L257.0 30.1zM176.0 39.3L173.9 28.4L183.7 31.4zM178.1 28.4L177.8 29.6L179.9 30.2L180.2 29.0zM280.8 29.1L278.7 39.9L270.7 33.6zM273.9 39.6L275.6 37.4L273.9 36.1L272.2 38.2zM226.6 35.5L226.8 46.5L217.7 41.9zM221.2 48.6L223.2 44.7L221.2 43.7L219.3 47.6zM159.0 54.2L160.6 43.2L168.9 49.3zM164.8 44.4L163.9 45.6L165.6 46.9L166.6 45.7zM226.5 43.9L226.3 54.9L217.4 50.1zM221.3 55.8L222.8 53.0L220.9 52.0L219.4 54.8zM235.3 43.3L234.1 54.3L225.6 48.6zM227.8 56.5L230.8 52.0L228.9 50.8L225.9 55.3zM273.3 43.5L272.1 54.5L263.6 48.9zM266.2 56.3L268.8 52.3L267.0 51.1L264.3 55.0zM244.2 53.5L239.1 63.3L233.3 55.0zM233.8 62.1L236.8 60.0L235.6 58.2L232.6 60.3zM217.5 58.6L220.0 69.3L210.1 66.8zM215.2 72.0L216.1 68.3L214.0 67.8L213.1 71.5zM219.2 75.8L217.8 86.8L209.4 81.0zM213.3 86.3L214.5 84.5L212.7 83.2L211.5 85.0zM234.8 75.1L233.7 86.1L225.1 80.5zM228.3 87.0L230.3 83.9L228.5 82.7L226.5 85.8zM242.8 75.4L240.9 86.3L232.8 80.1zM235.5 86.7L237.7 83.9L235.9 82.6L233.8 85.3zM251.4 76.7L247.0 86.8L240.6 78.8zM242.0 85.7L244.5 83.7L243.1 82.0L240.6 83.9zM235.9 82.8L233.5 93.6L225.7 87.0zM227.1 94.9L230.4 91.0L228.7 89.6L225.5 93.5zM220.0 90.6L218.2 101.5L210.1 95.4zM212.5 102.6L215.0 99.1L213.3 97.8L210.7 101.2zM251.2 90.9L248.4 101.6L240.9 94.7zM242.3 102.4L245.5 98.9L243.8 97.4L240.7 100.9zM222.0 107.1L217.3 117.0L211.1 108.9zM210.3 117.4L214.9 113.9L213.5 112.1L208.9 115.6zM227.2 106.4L225.7 117.4L217.4 111.5zM220.5 117.8L222.5 115.0L220.7 113.8L218.7 116.5zM235.5 114.3L233.1 125.1L225.3 118.5zM227.5 125.5L230.0 122.5L228.4 121.1L225.8 124.1zM225.6 120.4L227.5 131.3L217.8 128.2zM222.3 134.5L223.7 130.1L221.6 129.4L220.2 133.8zM234.7 128.3L234.5 139.4L225.6 134.5zM228.4 142.3L231.0 137.4L229.1 136.4L226.4 141.2zM227.7 137.6L225.4 148.4L217.5 141.9zM220.0 148.6L222.3 145.8L220.6 144.4L218.3 147.2zM258.9 207.1L255.7 217.7L248.4 210.5zM249.8 218.0L252.9 214.9L251.3 213.3L248.3 216.4zM298.6 208.1L293.0 217.6L287.6 209.0zM286.4 217.1L290.9 214.3L289.7 212.4L285.2 215.2zM241.5 212.8L242.6 223.8L233.1 220.1zM237.0 227.2L238.9 222.4L236.9 221.6L234.9 226.4zM251.3 215.0L247.9 225.5L240.7 218.2zM242.2 225.4L245.1 222.6L243.5 221.1L240.7 223.9zM267.7 214.0L264.2 224.5L257.1 217.1zM256.3 226.4L261.4 221.6L259.9 220.0L254.8 224.9zM274.8 224.3L268.9 233.6L263.8 224.8zM264.3 231.7L266.9 230.2L265.8 228.3L263.2 229.8zM281.9 221.7L279.4 232.4L271.7 225.8zM272.7 234.1L276.4 229.8L274.7 228.4L271.1 232.6zM290.4 222.2L286.5 232.6L279.7 225.0zM279.4 233.6L283.9 229.6L282.4 228.0L277.9 231.9zM298.8 222.4L294.2 232.4L288.0 224.3zM286.2 233.5L291.7 229.3L290.4 227.5L284.9 231.7zM298.6 233.8L290.1 240.8L288.0 230.9zM286.0 237.6L289.2 236.9L288.8 234.8L285.6 235.5zM244.3 238.7L239.5 248.6L233.4 240.5zM233.8 247.9L237.1 245.4L235.8 243.7L232.5 246.1zM251.4 237.3L248.6 248.0L241.0 241.2zM242.2 249.1L245.6 245.3L244.0 243.9L240.5 247.6zM258.9 237.6L256.0 248.2L248.5 241.3zM249.9 248.9L253.0 245.5L251.4 244.0L248.3 247.4zM258.0 243.6L257.5 254.7L248.7 249.5zM250.9 257.9L254.0 252.6L252.1 251.5L249.0 256.8zM243.2 252.7L240.9 263.6L233.0 257.1zM235.1 264.3L237.8 261.0L236.1 259.6L233.4 262.9zM266.1 253.0L263.5 263.8L255.8 257.1zM258.0 264.0L260.5 261.1L258.9 259.7L256.3 262.6zM274.4 253.2L270.9 263.7L263.8 256.4zM265.0 263.9L268.1 260.8L266.6 259.3L263.4 262.3zM242.6 267.7L241.3 278.7L232.9 273.0zM235.7 279.8L238.0 276.4L236.2 275.2L233.9 278.6zM250.7 267.3L249.3 278.2L240.9 272.3zM242.9 280.3L246.0 275.9L244.2 274.6L241.1 279.0zM103.3 285.6L114.4 286.0L109.3 294.9zM114.9 291.0L112.4 289.5L111.3 291.4L113.8 292.9zM111.7 284.1L122.3 287.3L115.2 294.6zM122.0 292.6L119.5 290.1L118.0 291.7L120.5 294.2zM119.4 285.9L130.4 286.6L125.1 295.3zM129.4 290.7L128.4 290.0L127.2 291.9L128.3 292.5zM118.6 296.8L128.0 291.0L128.8 301.1zM129.5 294.8L128.3 294.9L128.5 297.1L129.7 297.0zM127.0 294.5L137.9 293.3L134.2 302.8zM103.7 300.7L114.7 301.7L109.2 310.3zM114.5 306.4L112.6 305.1L111.4 306.9L113.4 308.2zM118.3 301.8L129.2 300.5L125.6 310.0zM130.4 305.2L127.8 304.2L127.0 306.3L129.6 307.3zM103.9 309.0L114.9 309.1L110.1 318.1zM114.3 313.3L113.0 312.6L112.0 314.6L113.3 315.2zM109.6 311.1L119.8 306.8L119.0 316.9zM123.4 311.1L119.5 310.8L119.3 313.0L123.2 313.3zM109.8 318.5L120.1 314.5L118.9 324.7zM123.3 318.9L119.6 318.5L119.4 320.7L123.1 321.1zM118.9 317.2L129.9 316.0L126.2 325.5zM129.8 320.3L128.4 319.7L127.6 321.8L128.9 322.3zM126.8 316.9L137.9 316.5L133.5 325.7zM137.2 320.6L136.2 320.1L135.2 322.1L136.2 322.6zM104.4 324.3L115.5 324.8L110.3 333.6zM110.8 325.9L121.3 322.5L119.6 332.5zM122.4 326.7L120.6 326.4L120.2 328.6L122.0 328.9z"/><path fill="#9fff60" d="M240.8 20.1L242.5 31.0L232.8 27.8zM237.7 32.6L238.7 29.8L236.6 29.0L235.6 31.9zM248.1 19.3L250.6 30.1L240.7 27.5zM245.7 33.3L246.7 29.1L244.6 28.6L243.5 32.7zM273.4 20.8L271.5 31.6L263.4 25.5zM266.0 32.2L268.3 29.2L266.6 27.9L264.3 30.9zM236.6 29.1L232.6 39.4L225.9 31.7zM226.3 39.7L230.0 36.4L228.5 34.7L224.8 38.0zM243.6 28.4L241.0 39.1L233.3 32.5zM234.7 40.3L238.0 36.5L236.3 35.1L233.1 38.8zM219.5 36.3L218.3 47.2L209.8 41.5zM213.0 47.9L215.0 45.0L213.1 43.8L211.2 46.7zM251.4 36.2L248.6 46.9L241.0 40.0zM242.1 48.1L245.6 44.2L244.0 42.7L240.5 46.6zM257.3 43.1L257.4 54.2L248.3 49.5zM251.7 56.6L253.8 52.3L251.9 51.4L249.7 55.6zM220.9 52.1L217.8 62.7L210.4 55.6zM211.5 63.4L214.9 59.9L213.3 58.4L209.9 61.9zM228.7 52.1L225.4 62.6L218.2 55.4zM218.9 63.4L222.6 59.8L221.0 58.2L217.4 61.9zM252.0 53.0L247.3 63.0L241.2 54.9zM241.3 62.6L244.9 59.9L243.6 58.1L240.0 60.8zM226.6 58.1L227.2 69.1L217.9 65.0zM221.3 72.7L223.6 67.5L221.6 66.6L219.3 71.8zM233.6 57.8L235.3 68.7L225.6 65.4zM229.6 72.9L231.5 67.4L229.4 66.7L227.5 72.2zM242.8 59.4L241.3 70.4L233.0 64.4zM235.5 71.5L238.0 68.0L236.2 66.8L233.7 70.3zM219.9 67.9L217.7 78.8L209.7 72.4zM212.6 78.7L214.6 76.2L212.8 74.9L210.9 77.3zM227.8 67.9L225.3 78.6L217.6 71.9zM219.9 78.8L222.3 76.0L220.6 74.6L218.2 77.3zM226.9 82.8L226.2 93.8L217.5 88.5zM220.9 94.8L222.8 91.7L220.9 90.6L219.0 93.6zM243.4 82.7L241.2 93.5L233.3 87.1zM234.9 95.0L238.1 91.0L236.4 89.6L233.2 93.6zM245.2 93.1L238.6 102.0L234.2 92.8zM232.7 100.4L236.9 98.4L235.9 96.4L231.8 98.4zM234.6 106.3L233.7 117.3L225.0 111.9zM228.5 117.9L230.3 115.1L228.4 114.0L226.7 116.7zM234.6 121.5L233.9 132.5L225.2 127.2zM228.5 133.6L230.5 130.4L228.6 129.3L226.6 132.5zM279.3 124.1L271.5 131.9L268.4 122.2zM259.6 131.5L270.3 128.1L269.7 126.0L258.9 129.4zM235.1 137.8L232.9 148.6L225.0 142.2zM227.9 148.4L229.8 146.1L228.1 144.7L226.2 147.0zM284.7 209.9L276.7 217.5L273.9 207.7zM269.4 215.4L275.6 213.7L275.0 211.6L268.8 213.3zM290.0 216.2L284.6 225.9L279.0 217.4zM279.7 224.3L282.4 222.5L281.2 220.7L278.5 222.5zM299.0 214.6L294.3 224.6L288.2 216.5zM286.0 225.9L291.9 221.4L290.6 219.7L284.7 224.1zM266.9 222.5L263.3 232.9L256.3 225.5zM257.1 233.3L260.6 230.0L259.1 228.4L255.6 231.7zM244.6 231.9L238.5 241.1L233.5 232.3zM233.4 239.4L236.6 237.7L235.5 235.7L232.3 237.5zM282.0 228.4L280.2 239.3L272.1 233.1zM272.7 242.6L277.0 236.9L275.3 235.5L270.9 241.3zM288.0 237.0L287.4 248.1L278.6 242.9zM282.1 249.2L284.0 246.0L282.1 244.9L280.2 248.1zM244.2 262.0L239.0 271.8L233.2 263.4zM233.9 270.5L236.8 268.5L235.5 266.7L232.6 268.7zM269.3 262.8L262.1 271.1L258.4 261.6zM254.3 269.9L260.6 267.4L259.8 265.4L253.5 267.9z"/><path fill="#bfff40" d="M248.8 28.3L249.6 39.3L240.3 35.3zM244.9 40.1L245.9 37.7L243.9 36.9L242.9 39.2zM257.5 50.3L257.7 61.4L248.6 56.9zM251.5 64.9L254.1 59.6L252.2 58.6L249.6 64.0zM227.4 75.8L225.3 86.6L217.3 80.2zM220.3 86.4L222.2 84.1L220.4 82.7L218.6 85.0z"/><path fill="#0060ff" d="M100.9 45.9L96.8 36.5L106.2 37.2zM123.5 45.3L120.8 36.9L128.9 38.2zM149.4 43.3L157.5 35.7L160.3 45.5zM159.6 39.2L158.6 39.5L159.2 41.7L160.2 41.3zM100.8 53.6L97.2 44.3L106.3 45.3zM115.6 53.6L112.9 43.8L122.1 45.7zM123.2 53.7L120.5 43.7L129.9 45.7zM131.7 53.8L127.0 44.4L136.8 44.6zM108.1 60.8L105.8 52.4L113.7 54.1zM116.2 60.9L112.8 52.9L120.8 53.4zM124.7 61.5L118.7 53.2L128.1 51.7zM130.8 60.9L128.8 52.1L136.9 54.2zM137.8 61.5L136.6 50.6L146.0 54.3zM84.7 69.5L82.5 58.7L92.3 61.5zM100.3 68.9L98.0 59.6L106.6 61.7zM108.1 69.2L105.1 59.5L114.3 61.2zM124.0 69.5L119.4 59.8L129.2 60.2zM139.1 69.2L135.0 60.0L144.4 60.6zM100.9 85.0L96.6 75.2L106.5 75.9zM107.4 91.7L106.9 83.0L114.2 86.3zM93.6 99.8L89.5 92.1L97.5 92.0zM107.0 99.6L107.3 90.1L114.9 94.4zM116.0 100.8L112.0 90.5L122.1 91.6zM131.8 100.0L127.5 91.9L136.0 91.8zM102.2 108.2L95.2 100.2L104.8 97.8zM131.5 108.5L126.9 98.5L137.1 99.0zM100.2 115.1L98.7 106.6L106.2 109.0zM123.7 115.5L120.4 106.8L128.9 107.8zM107.3 122.9L106.8 113.7L114.5 117.3zM117.7 131.5L110.3 123.7L119.8 120.9zM115.9 146.8L112.5 137.2L121.8 138.6zM115.6 154.7L112.8 144.4L122.4 146.5zM208.6 178.2L202.6 168.9L212.7 167.9zM192.0 186.1L188.7 175.6L198.8 177.4zM207.2 193.3L204.4 182.9L214.2 185.0zM130.8 239.3L128.1 229.1L137.7 231.3zM131.2 247.4L127.4 237.0L137.5 238.3zM130.3 270.4L128.4 259.6L138.1 262.6zM139.0 270.9L134.7 260.8L144.8 261.5zM96.0 303.5L106.2 299.4L105.2 309.5z"/><path fill="#0040ff" d="M132.3 76.4L127.3 69.4L135.1 68.3zM95.1 84.1L87.9 78.4L95.7 74.9zM124.5 108.0L119.1 99.7L128.2 98.8zM116.1 116.3L111.9 106.1L122.0 107.1zM201.1 170.5L194.8 161.3L205.0 160.1zM115.9 254.7L112.4 244.8L122.0 246.2zM108.4 270.5L104.2 260.3L114.4 261.2zM123.1 269.7L120.9 260.0L129.8 262.4z"/><path fill="#0020ff" d="M131.0 84.8L128.1 75.0L137.3 76.8zM108.2 108.4L104.6 98.1L114.6 99.5zM19.2 378.9L15.9 383.6L13.5 378.9z"/><path fill="#ffdf00" d="M253.4 97.4L249.8 107.8L242.8 100.4zM240.1 111.5L247.0 104.9L245.5 103.3L238.6 109.9zM262.4 107.8L255.8 116.6L251.4 107.4zM246.0 116.8L254.1 113.0L253.1 111.0L245.1 114.8zM254.3 113.2L249.8 123.3L243.4 115.3zM239.1 126.7L247.3 120.2L245.9 118.5L237.8 125.0zM293.5 123.7L286.3 132.1L282.5 122.6zM276.1 131.9L284.8 128.4L284.0 126.3L275.3 129.8zM247.7 129.5L242.0 139.0L236.7 130.3zM230.3 141.5L239.9 135.6L238.8 133.7L229.2 139.6zM254.8 137.9L248.8 147.2L243.7 138.4zM238.5 148.5L246.8 143.8L245.7 141.9L237.4 146.6zM274.4 134.7L273.4 145.7L264.8 140.3zM265.1 151.4L270.0 143.6L268.2 142.4L263.3 150.2z"/><path fill="#dfff20" d="M255.5 107.6L248.7 116.3L244.5 107.0zM237.6 117.0L247.1 112.7L246.2 110.7L236.7 115.0zM276.4 113.6L272.2 123.8L265.6 116.0zM262.9 126.4L269.6 120.7L268.2 119.0L261.5 124.7zM286.1 113.6L280.7 123.2L275.1 114.6zM268.3 126.4L278.5 119.8L277.3 118.0L267.1 124.5zM261.7 122.4L256.1 132.0L250.7 123.3zM246.9 133.1L254.0 128.6L252.8 126.7L245.7 131.2zM260.2 125.8L259.0 136.8L250.5 131.1zM248.7 144.8L255.6 134.6L253.8 133.3L246.9 143.6zM277.2 131.4L270.4 140.1L266.1 130.9zM261.9 139.7L268.7 136.5L267.8 134.5L260.9 137.7zM286.1 131.1L279.1 139.6L275.1 130.3zM268.1 139.9L277.5 136.0L276.7 133.9L267.3 137.9zM301.4 130.0L295.3 139.2L290.3 130.2zM283.5 141.1L293.3 135.7L292.3 133.7L282.5 139.1zM270.0 136.9L264.9 146.7L259.0 138.4zM253.9 149.5L262.6 143.4L261.3 141.6L252.7 147.7zM286.2 141.2L277.4 147.8L275.7 137.8zM267.8 145.4L276.7 143.9L276.4 141.7L267.4 143.2zM307.7 136.3L303.4 146.4L296.9 138.6zM292.7 150.1L300.8 143.4L299.4 141.7L291.3 148.4zM255.4 146.9L248.1 155.3L244.4 145.8zM237.8 155.1L246.7 151.6L245.9 149.5L237.0 153.1zM280.5 148.3L271.9 155.2L270.0 145.2zM258.2 153.8L271.1 151.2L270.7 149.1L257.8 151.6z"/><path fill="#ffff00" d="M247.3 118.2L238.4 124.7L236.9 114.7zM230.3 121.9L237.8 120.8L237.5 118.6L229.9 119.8zM261.0 114.0L256.5 124.1L250.2 116.1zM247.7 126.0L254.0 120.9L252.6 119.2L246.3 124.3zM270.1 115.3L263.6 124.3L259.0 115.1zM253.7 124.8L261.8 120.7L260.8 118.7L252.7 122.8zM247.1 120.3L242.8 130.5L236.3 122.7zM231.1 135.1L240.2 127.5L238.8 125.8L229.7 133.4zM254.9 124.3L247.3 132.3L244.0 122.7zM238.2 131.3L246.0 128.6L245.3 126.5L237.4 129.2zM270.7 124.6L262.8 132.3L259.8 122.5zM252.9 131.1L261.6 128.4L261.0 126.3L252.3 129.0zM284.7 121.6L279.8 131.5L273.8 123.3zM269.8 133.9L277.4 128.3L276.1 126.5L268.5 132.1zM300.2 123.1L293.9 132.1L289.2 123.1zM284.7 132.5L292.0 128.6L291.0 126.7L283.7 130.5zM255.1 129.1L249.9 138.8L244.1 130.4zM238.2 141.9L247.6 135.5L246.4 133.7L237.0 140.0zM270.2 133.0L261.8 140.2L259.5 130.3zM253.3 138.1L260.9 136.3L260.4 134.2L252.8 135.9zM293.5 131.2L286.5 139.8L282.5 130.4zM276.1 139.8L284.9 136.1L284.0 134.1L275.2 137.8zM308.5 131.0L301.7 139.8L297.5 130.5zM291.6 140.0L300.1 136.1L299.1 134.1L290.7 138.0zM247.7 140.8L239.2 147.9L237.1 137.9zM229.9 145.8L238.4 144.0L237.9 141.8L229.5 143.6zM264.0 139.9L256.0 147.5L253.2 137.7zM244.3 146.7L254.9 143.6L254.3 141.5L243.7 144.6zM291.6 134.9L288.9 145.6L281.3 138.8zM278.3 151.4L285.9 142.9L284.2 141.5L276.7 149.9zM247.8 145.0L242.0 154.5L236.7 145.7zM230.3 156.9L239.9 151.0L238.8 149.2L229.1 155.0zM268.6 145.4L263.7 155.3L257.7 147.0zM255.3 156.4L261.3 152.1L260.0 150.3L254.0 154.7zM284.8 147.2L277.8 155.7L273.8 146.3zM269.4 154.8L276.2 152.0L275.4 149.9L268.6 152.8z"/><path fill="#ffbf00" d="M299.6 137.6L294.5 147.4L288.6 139.1zM285.5 148.8L292.2 144.1L290.9 142.3L284.2 147.0zM260.2 144.4L256.8 154.9L249.6 147.7zM248.6 157.3L254.0 152.1L252.4 150.5L247.1 155.8zM240.6 169.1L238.6 180.0L230.5 173.8zM222.5 194.2L235.4 177.6L233.7 176.2L220.7 192.9zM263.8 170.0L261.3 180.8L253.5 174.1zM245.0 193.4L258.2 178.1L256.6 176.7L243.4 192.0zM302.2 187.5L298.5 197.9L291.6 190.4zM282.9 206.8L295.8 195.0L294.3 193.4L281.4 205.2zM297.2 190.7L298.6 201.7L289.1 198.2zM288.2 218.6L294.9 200.3L292.8 199.6L286.2 217.8zM197.9 224.1L193.9 234.4L187.1 226.7zM173.3 247.1L191.2 231.4L189.8 229.7L171.9 245.5z"/><path fill="#ff9f00" d="M291.4 136.7L291.6 147.7L282.5 143.2zM278.7 164.8L288.0 146.0L286.1 145.0L276.7 163.8zM239.7 150.8L244.2 160.9L234.0 160.3zM238.8 181.1L240.2 160.7L238.0 160.5L236.6 181.0zM216.9 202.2L217.1 213.2L208.0 208.7zM200.4 238.0L213.5 211.4L211.5 210.5L198.5 237.0zM210.0 211.7L209.4 222.7L200.6 217.4zM191.9 243.9L205.9 220.6L204.1 219.5L190.1 242.8zM208.4 222.5L204.1 232.6L197.6 224.7zM178.0 248.7L201.5 229.5L200.1 227.8L176.6 247.0zM176.5 234.5L177.5 245.5L168.1 241.6zM164.4 266.9L173.8 244.0L171.8 243.2L162.4 266.1zM186.8 234.2L190.9 244.5L180.8 243.5zM184.8 266.9L186.9 244.1L184.8 243.9L182.6 266.7zM175.6 240.8L177.4 251.7L167.7 248.6zM165.4 275.9L173.6 250.5L171.5 249.8L163.3 275.2zM169.9 279.1L164.4 288.7L158.9 280.0zM140.0 299.3L162.2 285.3L161.0 283.4L138.9 297.5zM154.2 294.1L148.9 303.8L143.2 295.3zM125.2 314.9L146.7 300.5L145.4 298.6L124.0 313.0zM143.3 315.3L146.3 325.9L136.3 323.9zM136.6 353.9L142.4 325.1L140.2 324.6L134.5 353.5z"/><path fill="#ff8000" d="M305.7 139.2L301.5 149.4L294.9 141.6zM279.4 162.6L298.9 146.3L297.5 144.6L278.0 161.0zM259.4 143.1L260.9 154.0L251.3 150.6zM249.6 173.7L257.1 152.7L255.1 151.9L247.6 173.0zM236.9 152.2L237.8 163.2L228.4 159.3zM226.3 180.1L234.1 161.6L232.0 160.8L224.3 179.3zM268.2 150.8L269.0 161.8L259.7 157.7zM256.1 181.6L265.3 160.2L263.3 159.3L254.0 180.7zM297.3 151.4L298.9 162.3L289.2 158.9zM288.2 180.9L295.1 161.0L293.0 160.2L286.1 180.2zM244.9 162.6L240.4 172.7L234.1 164.7zM217.9 185.5L238.0 169.6L236.6 167.9L216.5 183.8zM243.4 156.3L245.7 167.1L235.9 164.5zM235.1 191.3L241.9 166.1L239.8 165.5L233.0 190.7zM252.5 159.6L253.2 170.6L243.9 166.5zM241.3 188.2L249.6 169.0L247.6 168.1L239.2 187.3zM242.5 166.1L245.1 176.8L235.2 174.4zM236.0 196.9L241.2 175.8L239.1 175.3L233.9 196.4zM287.2 170.1L284.4 180.8L276.8 173.9zM267.4 193.3L281.4 178.1L279.8 176.6L265.8 191.8zM300.7 165.6L300.5 176.7L291.6 171.8zM284.6 197.6L297.0 174.8L295.1 173.7L282.7 196.6zM233.4 175.1L236.8 185.6L226.8 183.9zM229.9 203.2L232.9 184.9L230.7 184.6L227.7 202.9zM247.7 173.8L247.1 184.8L238.3 179.6zM230.7 204.9L243.7 182.8L241.8 181.7L228.8 203.8zM264.8 177.0L262.0 187.7L254.5 180.9zM244.0 201.8L259.1 185.1L257.4 183.6L242.4 200.3zM295.9 179.6L291.7 189.8L285.1 182.0zM273.9 199.4L289.1 186.7L287.7 185.0L272.5 197.7zM300.0 176.7L299.1 187.7L290.5 182.3zM285.4 202.1L295.7 185.5L293.8 184.4L283.5 200.9zM242.2 187.0L238.2 197.3L231.5 189.6zM220.7 207.4L235.6 194.3L234.1 192.6L219.2 205.7zM248.8 184.5L246.5 195.3L238.6 188.8zM229.5 209.7L243.4 192.8L241.7 191.4L227.8 208.3zM256.5 184.7L254.1 195.5L246.3 188.9zM237.1 209.6L251.0 192.9L249.3 191.5L235.4 208.2zM286.9 186.0L284.0 196.6L276.5 189.7zM267.8 208.3L281.1 193.9L279.4 192.4L266.1 206.8zM288.3 183.7L290.5 194.5L280.7 191.7zM281.8 210.2L286.7 193.4L284.6 192.8L279.7 209.6zM214.7 185.8L216.3 196.8L206.6 193.4zM202.7 223.5L212.5 195.4L210.4 194.7L200.6 222.7zM281.0 190.9L283.1 201.8L273.3 198.8zM273.9 218.3L279.2 200.6L277.1 200.0L271.8 217.7zM214.2 197.1L215.3 208.0L205.8 204.3zM203.2 227.6L211.6 206.6L209.5 205.7L201.1 226.8zM219.8 196.4L222.3 207.2L212.5 204.7zM212.8 228.1L218.5 206.2L216.3 205.6L210.7 227.6zM236.5 194.9L238.4 205.7L228.7 202.7zM226.7 229.8L234.6 204.5L232.5 203.9L224.6 229.1zM207.1 202.3L208.4 213.2L198.9 209.7zM195.0 237.8L204.7 211.8L202.6 211.1L192.9 237.0zM214.7 208.8L216.3 219.8L206.6 216.4zM202.7 246.5L212.5 218.5L210.4 217.7L200.6 245.8zM211.2 219.4L209.9 230.4L201.5 224.7zM190.7 251.5L206.6 228.2L204.8 226.9L188.9 250.3zM202.9 234.3L202.1 245.3L193.4 239.9zM183.8 267.3L198.7 243.2L196.8 242.0L181.9 266.1zM186.1 243.8L185.5 254.8L176.7 249.6zM170.0 273.1L182.1 252.8L180.2 251.6L168.1 272.0zM178.4 249.2L178.5 260.2L169.4 255.6zM162.5 282.9L175.0 258.4L173.0 257.4L160.5 281.9zM225.0 251.4L224.0 262.4L215.4 256.9zM207.6 280.9L220.6 260.2L218.8 259.1L205.7 279.7zM147.4 255.2L152.3 265.0L142.1 264.9zM147.8 291.8L148.3 265.0L146.1 264.9L145.6 291.8zM160.6 256.1L162.2 267.1L152.6 263.8zM149.8 291.1L158.5 265.8L156.4 265.1L147.7 290.4zM149.4 269.9L146.7 280.6L139.0 273.8zM130.3 293.1L143.7 277.9L142.0 276.5L128.6 291.6zM157.6 269.6L154.8 280.2L147.2 273.3zM137.3 293.4L151.8 277.5L150.2 276.0L135.7 291.9zM170.4 269.1L165.7 279.1L159.5 271.0zM139.6 294.0L163.3 275.9L161.9 274.2L138.3 292.2zM154.0 275.3L154.0 286.4L144.9 281.7zM141.1 302.7L150.5 284.5L148.5 283.5L139.1 301.7zM196.2 276.6L193.4 287.3L185.9 280.4zM175.1 301.6L190.5 284.6L188.8 283.1L173.4 300.2zM140.6 311.8L144.9 322.0L134.8 321.2zM139.3 342.0L140.9 321.7L138.7 321.5L137.1 341.8z"/><path fill="#ff6000" d="M254.8 145.4L253.6 156.4L245.1 150.8zM238.9 171.6L250.3 154.2L248.5 153.0L237.0 170.4zM270.9 142.5L270.3 153.6L261.5 148.4zM253.3 174.5L266.9 151.5L265.0 150.4L251.4 173.3zM278.3 143.2L277.6 154.3L268.9 149.0zM261.2 173.8L274.2 152.2L272.3 151.1L259.3 172.6zM287.2 141.1L290.7 151.6L280.7 150.0zM283.0 175.5L286.8 151.0L284.6 150.7L280.8 175.1zM301.1 142.4L300.8 153.5L291.9 148.4zM284.2 174.6L297.3 151.5L295.4 150.4L282.3 173.5zM258.2 151.9L255.8 162.7L248.0 156.1zM235.3 180.6L252.7 160.1L251.1 158.7L233.7 179.2zM264.6 154.8L261.6 165.4L254.2 158.4zM244.2 177.8L258.7 162.6L257.1 161.1L242.6 176.3zM288.5 150.7L291.0 161.4L281.1 158.9zM281.7 181.5L287.1 160.4L285.0 159.9L279.6 180.9zM262.1 160.7L261.2 171.7L252.6 166.3zM246.9 187.2L257.8 169.6L256.0 168.4L245.0 186.0zM292.7 159.2L292.3 170.2L283.5 165.2zM277.4 188.7L288.9 168.2L286.9 167.2L275.4 187.6zM296.3 159.7L298.4 170.5L288.7 167.7zM289.1 187.9L294.6 169.4L292.5 168.8L287.0 187.3zM254.9 169.1L253.5 180.1L245.1 174.2zM238.7 194.2L250.2 177.8L248.4 176.5L236.9 193.0zM287.1 165.1L290.6 175.6L280.5 174.0zM283.1 197.8L286.7 175.0L284.5 174.6L280.9 197.4zM285.8 175.7L284.6 186.7L276.2 181.0zM268.9 203.0L281.3 184.5L279.5 183.2L267.1 201.8zM225.1 187.0L225.0 198.0L216.0 193.3zM207.5 222.4L221.5 196.2L219.5 195.1L205.5 221.4zM227.1 190.0L229.6 200.8L219.8 198.3zM220.9 219.2L225.8 199.8L223.6 199.2L218.7 218.6zM236.6 186.9L238.5 197.8L228.8 194.7zM226.6 222.4L234.7 196.5L232.6 195.9L224.5 221.7zM272.9 189.5L271.1 200.4L263.0 194.3zM251.2 220.1L267.9 198.0L266.2 196.7L249.5 218.7zM279.6 188.2L278.7 199.2L270.1 193.7zM259.8 221.3L275.3 197.1L273.4 195.9L258.0 220.1zM295.5 189.9L293.7 200.8L285.5 194.7zM274.5 219.6L290.5 198.4L288.7 197.1L272.7 218.3zM221.2 205.7L222.5 216.6L212.9 213.0zM211.4 234.4L218.7 215.2L216.7 214.4L209.4 233.6zM231.6 202.7L232.0 213.7L222.8 209.3zM216.2 237.4L228.4 212.0L226.4 211.0L214.2 236.5zM214.5 217.2L216.0 228.2L206.4 224.8zM202.9 253.5L212.3 226.8L210.2 226.1L200.8 252.8zM190.4 227.8L192.0 238.8L182.4 235.4zM181.1 258.2L188.3 237.5L186.2 236.7L179.0 257.5zM205.2 228.4L207.0 239.3L197.3 236.2zM196.9 257.6L203.2 238.1L201.1 237.4L194.8 256.9zM236.3 234.7L238.1 245.6L228.4 242.4zM227.0 266.7L234.3 244.3L232.2 243.6L224.9 266.0zM163.2 240.7L163.5 251.7L154.3 247.3zM147.2 276.1L159.9 250.0L157.9 249.0L145.2 275.2zM165.4 238.9L168.9 249.4L158.8 247.8zM160.3 277.6L164.9 248.8L162.8 248.5L158.2 277.2zM195.1 241.8L194.4 252.9L185.6 247.6zM176.4 275.1L191.0 250.8L189.1 249.7L174.5 273.9zM154.5 249.7L155.0 260.8L145.7 256.5zM140.6 282.4L151.4 259.1L149.4 258.2L138.6 281.4zM169.2 251.7L169.5 262.8L160.3 258.3zM156.5 280.4L165.9 261.0L163.9 260.1L154.5 279.4zM176.0 262.2L171.7 272.3L165.2 264.5zM149.4 285.6L169.1 269.3L167.7 267.6L148.0 283.9zM143.4 280.5L145.9 291.2L136.0 288.8zM136.5 312.5L142.1 290.3L139.9 289.7L134.4 312.0zM162.3 284.7L157.7 294.7L151.5 286.6zM132.4 309.0L155.2 291.5L153.9 289.7L131.1 307.2z"/><path fill="#df0000" d="M279.5 141.9L283.0 152.4L272.9 150.8zM275.4 174.7L279.1 151.8L276.9 151.4L273.2 174.3zM281.1 159.0L278.9 169.8L270.9 163.5zM258.4 189.0L275.8 167.3L274.1 166.0L256.6 187.6zM272.3 177.1L269.6 187.8L261.9 181.1zM251.8 201.7L266.6 185.2L264.9 183.7L250.2 200.3zM251.3 186.3L253.7 197.1L243.8 194.4zM242.4 222.9L249.8 196.0L247.7 195.5L240.3 222.3zM242.1 207.2L239.5 217.9L231.9 211.2zM220.9 233.2L236.5 215.3L234.9 213.8L219.2 231.8zM232.9 210.5L232.6 221.6L223.7 216.6zM214.9 245.0L229.1 219.6L227.2 218.6L213.0 243.9zM238.0 214.1L238.0 225.2L229.0 220.5zM225.2 241.4L234.5 223.4L232.5 222.3L223.2 240.4zM228.2 216.6L230.7 227.4L220.8 224.8zM219.7 254.0L226.8 226.4L224.7 225.8L217.6 253.5zM218.7 227.4L217.4 238.3L209.0 232.6zM198.5 258.9L214.1 236.1L212.3 234.8L196.7 257.7zM223.9 229.0L223.3 240.0L214.5 234.9zM208.7 257.2L219.9 238.0L218.0 236.9L206.8 256.1zM228.0 225.1L230.5 235.9L220.6 233.3zM219.9 260.8L226.6 234.9L224.5 234.3L217.8 260.3zM215.2 238.4L210.9 248.5L204.4 240.7zM186.5 263.5L208.4 245.5L207.0 243.8L185.1 261.8zM222.3 240.2L217.4 250.1L211.4 241.8zM194.7 261.7L215.0 246.8L213.8 245.1L193.4 259.9zM206.4 244.8L203.0 255.4L195.8 248.1zM180.2 272.3L200.2 252.5L198.6 251.0L178.6 270.7zM218.8 243.3L217.2 254.2L209.0 248.3zM198.4 273.7L214.0 251.9L212.2 250.6L196.6 272.4zM183.3 247.8L185.2 258.7L175.5 255.6zM172.9 284.2L181.4 257.5L179.3 256.8L170.8 283.5zM218.0 250.1L217.1 261.1L208.5 255.7zM199.2 282.1L213.7 259.0L211.9 257.8L197.4 280.9zM196.5 262.0L193.2 272.6L186.0 265.4zM174.8 285.7L190.4 269.8L188.8 268.2L173.2 284.1zM208.3 257.3L208.6 268.4L199.5 263.9zM193.7 290.1L205.1 266.6L203.1 265.7L191.7 289.1zM171.3 268.5L169.8 279.4L161.5 273.5zM154.2 294.4L166.5 277.1L164.7 275.8L152.4 293.1zM190.0 267.3L187.2 278.0L179.6 271.2zM166.1 295.6L184.2 275.3L182.6 273.9L164.4 294.2zM206.3 268.3L202.7 278.7L195.7 271.4zM180.3 294.7L200.0 275.8L198.4 274.3L178.7 293.2zM168.8 274.7L169.3 285.8L160.0 281.5zM156.9 303.2L165.7 284.1L163.7 283.2L154.9 302.3zM190.8 275.8L187.4 286.3L180.3 279.0zM165.1 302.5L184.6 283.4L183.1 281.9L163.6 300.9zM158.1 285.5L161.3 296.0L151.3 294.2zM152.4 322.8L157.4 295.3L155.2 294.9L150.2 322.4zM171.6 287.3L171.3 298.4L162.4 293.4zM154.0 321.2L167.8 296.4L165.9 295.4L152.1 320.1zM178.4 291.6L177.1 302.5L168.7 296.8zM162.4 317.1L173.8 300.3L172.0 299.1L160.6 315.8zM156.7 294.1L156.4 305.1L147.5 300.2zM138.3 329.7L152.9 303.2L151.0 302.1L136.4 328.6zM171.0 303.3L170.8 314.4L161.8 309.5zM154.6 335.7L167.3 312.5L165.3 311.4L152.7 334.6zM158.6 312.0L156.6 322.8L148.5 316.6zM136.4 342.4L153.4 320.4L151.7 319.1L134.7 341.1zM158.0 307.4L161.4 317.9L151.4 316.2zM152.4 346.5L157.5 317.3L155.3 316.9L150.2 346.1zM174.5 311.8L172.3 322.6L164.4 316.2zM151.0 342.6L169.2 320.1L167.5 318.7L149.3 341.2z"/><path fill="#bf0000" d="M273.2 148.7L276.0 159.4L266.0 157.2zM266.5 183.4L272.1 158.5L269.9 158.0L264.3 182.9zM262.5 184.7L261.0 195.6L252.7 189.8zM246.4 209.5L257.7 193.3L255.9 192.1L244.6 208.2zM239.3 220.5L239.0 231.5L230.1 226.5zM223.8 250.4L235.5 229.5L233.6 228.5L221.9 249.4zM178.3 256.8L178.5 267.9L169.4 263.3zM162.6 290.6L174.9 266.1L172.9 265.1L160.6 289.6zM186.9 257.0L186.5 268.0L177.6 263.0zM169.3 290.5L183.0 266.1L181.1 265.0L167.4 289.4zM181.7 266.5L179.6 277.3L171.6 270.9zM159.0 296.4L176.4 274.8L174.7 273.5L157.3 295.0zM178.0 275.1L177.4 286.2L168.6 281.0zM162.9 302.9L173.9 284.1L172.1 283.0L161.0 301.8zM157.1 291.2L155.0 302.1L147.0 295.8zM137.9 317.5L151.9 299.6L150.2 298.3L136.1 316.1zM159.2 315.1L161.9 325.8L152.0 323.5zM151.2 354.1L158.1 324.9L155.9 324.4L149.1 353.6z"/><path fill="#ff2000" d="M283.9 152.6L283.9 163.7L274.8 158.9zM270.9 179.8L280.3 161.8L278.4 160.8L269.0 178.8zM279.7 159.1L282.9 169.7L272.8 167.8zM275.3 188.4L278.9 168.9L276.8 168.5L273.1 188.0zM268.7 181.9L269.1 192.9L259.9 188.5zM255.6 212.1L265.5 191.2L263.5 190.2L253.6 211.2zM245.7 190.9L245.8 201.9L236.7 197.3zM232.7 218.5L242.2 200.1L240.2 199.1L230.7 217.5zM197.7 228.6L199.4 239.5L189.7 236.3zM189.1 257.4L195.6 238.3L193.5 237.6L187.1 256.7zM228.6 242.6L230.4 253.5L220.7 250.3zM219.3 274.1L226.6 252.2L224.5 251.6L217.2 273.4zM166.0 296.2L168.7 306.9L158.8 304.6zM159.7 327.3L164.8 306.0L162.6 305.5L157.6 326.8zM152.7 315.1L154.8 326.0L145.0 323.1zM142.5 354.1L151.0 324.9L148.9 324.2L140.4 353.5z"/><path fill="#ff4000" d="M264.8 159.8L267.6 170.5L257.6 168.3zM259.5 187.7L263.7 169.6L261.5 169.2L257.4 187.2zM251.3 176.3L252.5 187.3L243.0 183.6zM242.4 202.2L248.8 185.8L246.8 185.0L240.4 201.4zM234.0 199.0L231.8 209.8L223.9 203.5zM213.7 226.0L228.7 207.3L227.0 206.0L212.0 224.6zM195.0 212.7L198.7 223.1L188.6 221.6zM191.8 242.5L194.7 222.5L192.5 222.2L189.6 242.2zM227.9 211.7L226.0 222.6L217.9 216.4zM204.6 244.0L222.8 220.2L221.1 218.8L202.8 242.6zM186.0 226.9L185.9 237.9L176.9 233.2zM170.2 259.3L182.4 236.1L180.5 235.0L168.2 258.3zM170.5 236.4L170.0 247.5L161.2 242.3zM155.1 265.1L166.5 245.5L164.6 244.3L153.2 264.0zM188.2 236.7L186.3 247.6L178.2 241.4zM167.9 265.0L183.1 245.1L181.4 243.8L166.1 263.6zM162.6 252.0L162.1 263.1L153.3 258.0zM147.8 280.1L158.6 261.1L156.7 260.0L145.8 279.0zM205.2 263.4L200.8 273.5L194.4 265.7zM181.3 284.4L198.3 270.5L196.9 268.8L179.9 282.7zM150.5 274.9L148.3 285.8L140.4 279.4zM129.1 303.2L145.2 283.3L143.5 281.9L127.4 301.9z"/><path fill="#ff0000" d="M264.7 166.0L267.8 176.6L257.8 174.6zM259.7 197.0L263.9 175.8L261.7 175.4L257.5 196.5zM279.2 165.1L278.4 176.1L269.7 170.8zM260.3 198.2L275.0 174.1L273.1 172.9L258.4 197.0zM277.3 173.7L277.3 184.8L268.3 180.0zM262.2 204.9L273.8 182.9L271.8 181.9L260.2 203.9zM278.3 183.1L277.1 194.1L268.6 188.5zM261.2 211.0L273.8 191.9L272.0 190.7L259.4 209.8zM264.4 190.8L262.5 201.6L254.4 195.5zM244.5 218.8L259.3 199.2L257.6 197.9L242.8 217.5zM226.1 220.4L224.7 231.4L216.3 225.5zM206.4 250.6L221.4 229.1L219.6 227.8L204.6 249.3zM238.5 229.9L238.1 240.9L229.2 235.8zM224.6 256.4L234.6 238.9L232.7 237.8L222.7 255.3zM227.1 234.2L225.7 245.2L217.4 239.4zM205.4 267.4L222.4 242.9L220.6 241.6L203.6 266.2zM231.4 236.1L231.1 247.2L222.2 242.3zM216.5 265.4L227.6 245.3L225.7 244.2L214.6 264.3zM204.6 242.2L207.1 252.9L197.3 250.4zM197.5 274.5L203.3 251.9L201.1 251.4L195.3 273.9zM216.3 241.6L221.1 251.5L210.9 251.2zM216.4 274.8L217.1 251.4L214.9 251.3L214.2 274.7zM189.1 249.0L191.9 259.7L182.0 257.4zM182.4 282.9L188.0 258.8L185.8 258.3L180.3 282.4zM201.7 250.8L201.1 261.9L192.3 256.7zM185.1 281.4L197.7 259.8L195.8 258.7L183.2 280.3zM158.3 277.9L161.4 288.6L151.4 286.6zM152.1 315.0L157.5 287.8L155.3 287.4L150.0 314.6zM171.6 281.2L170.8 292.2L162.1 286.9zM154.0 312.1L167.4 290.1L165.5 289.0L152.1 311.0zM163.8 298.9L162.2 309.9L154.0 303.9zM146.4 325.0L159.0 307.5L157.2 306.2L144.6 323.7zM153.8 305.1L154.2 316.1L145.0 311.8zM141.3 333.9L150.5 314.4L148.6 313.5L139.3 332.9zM161.0 303.6L162.1 314.6L152.6 310.7zM149.3 335.3L158.4 313.1L156.3 312.2L147.3 334.5z"/><path fill="#9f0000" d="M205.9 251.7L207.2 262.6L197.7 259.0zM196.1 280.4L203.5 261.2L201.4 260.4L194.1 279.6zM195.5 264.6L194.6 275.7L186.0 270.3zM175.9 298.1L191.2 273.5L189.4 272.4L174.1 297.0zM170.9 276.7L175.5 286.7L165.3 286.3zM170.1 316.1L171.5 286.6L169.3 286.4L167.9 316.0z"/><path fill="#0000ff" d="M19.7 372.8L13.7 374.8L14.6 369.0zM26.9 373.0L21.6 374.1L22.9 369.3zM35.0 379.7L29.7 383.2L29.1 377.5z"/><path fill="#0000df" d="M34.8 372.1L30.0 375.5L29.3 370.1zM42.5 372.2L37.4 375.5L36.9 369.9zM42.2 380.0L37.5 382.4L37.5 377.6z"/><path fill="#0000bf" d="M27.0 380.5L21.5 381.9L22.8 376.8z"/><path d=" M19.7,427.3 L39.0,402.0 L53.0,384.0 L65.6,366.4 L72.7,354.0 L83.3,352.3 L90.3,341.7 M111.5,311.7 L122.0,299.0 L134.5,287.0 L149.0,267.5 L170.0,245.0 L189.0,227.5 L195.0,212.7 L197.0,187.5 L191.9,148.1 M197.2,105.1 L201.5,59.9 L216.6,1.8 L218.0,-5.0" fill="none" stroke="#000" stroke-width="1"/><text x="0" y="0" font-size="15" transform="translate(96,340) rotate(-55)">-100</text><text x="0" y="0" font-size="15" transform="translate(187,118) rotate(90)">-100</text><path d="M58.099999999999994,47.0h17.0M66.6,38.5v17.0M60.599999999999994,41.0l12.0,12.0M60.599999999999994,53.0l12.0,-12.0" stroke="#f00" stroke-width="1.1" fill="none"/><path d="M96.0,157.5h17.0M104.5,149.0v17.0M98.5,151.5l12.0,12.0M98.5,163.5l12.0,-12.0" stroke="#f00" stroke-width="1.1" fill="none"/><path d="M104.8,250h17.0M113.3,241.5v17.0M107.3,244.0l12.0,12.0M107.3,256.0l12.0,-12.0" stroke="#f00" stroke-width="1.1" fill="none"/><path d="M53.5,271h17.0M62,262.5v17.0M56.0,265.0l12.0,12.0M56.0,277.0l12.0,-12.0" stroke="#f00" stroke-width="1.1" fill="none"/><path d="M1.0,320.2h17.0M9.5,311.7v17.0M3.5,314.2l12.0,12.0M3.5,326.2l12.0,-12.0" stroke="#f00" stroke-width="1.1" fill="none"/></g><rect x="0" y="0" width="348" height="427.5" fill="none" stroke="#000" stroke-width="1.2"/><rect x="10.3" y="16.2" width="112.5" height="24.5" fill="url(#jetg)" stroke="#262626" stroke-width="1"/><text x="284.5" y="101.8" font-size="20.5">10 km</text><line x1="306" y1="107.7" x2="321" y2="107.7" stroke="#000" stroke-width="4" stroke-linecap="round"/><path d="M144.0,-6.0L134.0,-11.0L134.0,-1.0z" fill="#0070ff"/><path d="M141.6,-6.0L151.6,-11.0L151.6,-1.0z" fill="#0090ff"/><path d="M149.3,-6.0L159.3,-11.0L159.3,-1.0z" fill="#00e8f0"/><path d="M156.9,-6.0L166.9,-11.0L166.9,-1.0z" fill="#00d8ff"/><path d="M174.6,-6.0L164.6,-11.0L164.6,-1.0z" fill="#00d8ff"/><path d="M172.2,-6.0L182.2,-11.0L182.2,-1.0z" fill="#00e8f0"/><path d="M179.8,-6.0L189.8,-11.0L189.8,-1.0z" fill="#00e8f0"/><path d="M187.5,-6.0L197.5,-11.0L197.5,-1.0z" fill="#0070ff"/><path d="M195.1,-6.0L205.1,-11.0L205.1,-1.0z" fill="#00d8ff"/><path d="M212.8,-6.0L202.8,-11.0L202.8,-1.0z" fill="#00e8f0"/><path d="M220.4,-6.0L210.4,-11.0L210.4,-1.0z" fill="#00c0ff"/><path d="M218.0,-6.0L228.0,-11.0L228.0,-1.0z" fill="#00c0ff"/><path d="M235.7,-6.0L225.7,-11.0L225.7,-1.0z" fill="#00c0ff"/><path d="M233.3,-6.0L243.3,-11.0L243.3,-1.0z" fill="#00c0ff"/><path d="M241.0,-6.0L251.0,-11.0L251.0,-1.0z" fill="#00d8ff"/><path d="M248.6,-6.0L258.6,-11.0L258.6,-1.0z" fill="#00c0ff"/><path d="M256.2,-6.0L266.2,-11.0L266.2,-1.0z" fill="#00c0ff"/><path d="M273.9,-6.0L263.9,-11.0L263.9,-1.0z" fill="#0090ff"/><path d="M271.5,-6.0L281.5,-11.0L281.5,-1.0z" fill="#00c0ff"/><rect x="5" y="-13.2" width="133.2" height="14.1" rx="7" ry="7" fill="#2a2a2a" stroke="#1a1a1a" stroke-width="1"/><path d="M276,65 L296,63 L294,60 L303,62.5 L294,66 L295,64.5 L276,67z" fill="#ffa000"/></g><text x="67.5" y="150.3" font-size="22" text-anchor="end">37°N</text><text x="69.5" y="220.55" font-size="16.5" text-anchor="end">30'</text><text x="67.5" y="292.8" font-size="22" text-anchor="end">36°N</text><text x="69.5" y="363.05" font-size="16.5" text-anchor="end">30'</text><text x="67.5" y="435.3" font-size="22" text-anchor="end">35°N</text><text x="69.5" y="505.55" font-size="16.5" text-anchor="end">30'</text><text x="67.5" y="577.8" font-size="22" text-anchor="end">34°N</text><text x="75" y="587.2" font-size="16.5" text-anchor="middle">30'</text><text x="136" y="591.5" font-size="21" text-anchor="middle">76°W</text><text x="191" y="587.2" font-size="16.5" text-anchor="middle">30'</text><text x="252" y="591.5" font-size="21" text-anchor="middle">75°W</text><text x="307" y="587.2" font-size="16.5" text-anchor="middle">30'</text><text x="368" y="591.5" font-size="21" text-anchor="middle">74°W</text><text x="423" y="587.2" font-size="16.5" text-anchor="middle">30'</text><g transform="translate(458.5,142.5)"><g clip-path="url(#axclip)"><line x1="58" y1="0" x2="58" y2="427.5" stroke="#c4c4c4" stroke-width="1" stroke-dasharray="2,6"/><line x1="116" y1="0" x2="116" y2="427.5" stroke="#c4c4c4" stroke-width="1" stroke-dasharray="2,6"/><line x1="174" y1="0" x2="174" y2="427.5" stroke="#c4c4c4" stroke-width="1" stroke-dasharray="2,6"/><line x1="232" y1="0" x2="232" y2="427.5" stroke="#c4c4c4" stroke-width="1" stroke-dasharray="2,6"/><line x1="290" y1="0" x2="290" y2="427.5" stroke="#c4c4c4" stroke-width="1" stroke-dasharray="2,6"/><line x1="0" y1="71.25" x2="348" y2="71.25" stroke="#c4c4c4" stroke-width="1" stroke-dasharray="2,6"/><line x1="0" y1="142.5" x2="348" y2="142.5" stroke="#c4c4c4" stroke-width="1" stroke-dasharray="2,6"/><line x1="0" y1="213.75" x2="348" y2="213.75" stroke="#c4c4c4" stroke-width="1" stroke-dasharray="2,6"/><line x1="0" y1="285.0" x2="348" y2="285.0" stroke="#c4c4c4" stroke-width="1" stroke-dasharray="2,6"/><line x1="0" y1="356.25" x2="348" y2="356.25" stroke="#c4c4c4" stroke-width="1" stroke-dasharray="2,6"/><g shape-rendering="crispEdges"><path fill="#008fff" d="M66.8 -1.2H74.7V6.8H66.8zM257.8 45.7H265.7V53.7H257.8zM166.1 53.5H174.0V61.5H166.1zM265.5 53.5H273.3V61.5H265.5zM82.1 69.1H97.6V77.0H82.1zM158.5 69.1H166.3V77.0H158.5zM234.9 92.4H242.7V100.4H234.9zM242.5 146.6H250.4V154.6H242.5zM257.8 185.2H265.7V193.1H257.8zM234.9 246.7H242.7V254.5H234.9zM227.3 254.3H235.1V262.2H227.3zM105.0 323.1H112.9V330.9H105.0zM135.6 330.7H143.4V338.5H135.6zM21.0 361.1H28.8V368.8H21.0zM21.0 368.6H28.8V376.4H21.0z"/><path fill="#0000ef" d="M74.5 -1.2H82.3V6.8H74.5zM97.4 -1.2H105.2V6.8H97.4zM112.7 -1.2H120.5V6.8H112.7zM143.2 -1.2H151.1V6.8H143.2zM173.8 -1.2H181.6V6.8H173.8zM250.2 -1.2H258.0V6.8H250.2zM97.4 6.6H105.2V14.6H97.4zM112.7 6.6H120.5V14.6H112.7zM158.5 6.6H166.3V14.6H158.5zM166.1 14.4H174.0V22.5H166.1zM89.7 22.3H105.2V30.3H89.7zM97.4 30.1H105.2V38.1H97.4zM135.6 30.1H143.4V38.1H135.6zM158.5 30.1H174.0V38.1H158.5zM89.7 37.9H97.6V45.9H89.7zM120.3 37.9H128.1V45.9H120.3zM143.2 37.9H158.7V45.9H143.2zM189.1 37.9H196.9V45.9H189.1zM212.0 37.9H219.8V45.9H212.0zM105.0 45.7H112.9V53.7H105.0zM120.3 45.7H128.1V53.7H120.3zM135.6 45.7H143.4V53.7H135.6zM219.6 45.7H227.5V53.7H219.6zM127.9 53.5H135.8V61.5H127.9zM181.4 53.5H189.3V61.5H181.4zM196.7 53.5H204.5V61.5H196.7zM112.7 61.3H120.5V69.3H112.7zM143.2 61.3H151.1V69.3H143.2zM173.8 61.3H181.6V69.3H173.8zM196.7 61.3H212.2V69.3H196.7zM219.6 61.3H235.1V69.3H219.6zM127.9 69.1H143.4V77.0H127.9zM181.4 69.1H189.3V77.0H181.4zM212.0 69.1H219.8V77.0H212.0zM105.0 76.8H120.5V84.8H105.0zM127.9 76.8H135.8V84.8H127.9zM158.5 76.8H181.6V84.8H158.5zM189.1 76.8H204.5V84.8H189.1zM97.4 84.6H105.2V92.6H97.4zM120.3 84.6H135.8V92.6H120.3zM196.7 84.6H204.5V92.6H196.7zM112.7 92.4H120.5V100.4H112.7zM158.5 92.4H166.3V100.4H158.5zM219.6 92.4H227.5V100.4H219.6zM181.4 100.2H189.3V108.1H181.4zM219.6 100.2H227.5V108.1H219.6zM97.4 107.9H105.2V115.9H97.4zM127.9 107.9H135.8V115.9H127.9zM181.4 107.9H196.9V115.9H181.4zM97.4 115.7H105.2V123.6H97.4zM127.9 115.7H135.8V123.6H127.9zM143.2 115.7H151.1V123.6H143.2zM173.8 115.7H181.6V123.6H173.8zM150.9 123.4H158.7V131.4H150.9zM166.1 123.4H174.0V131.4H166.1zM112.7 131.2H128.1V139.1H112.7zM158.5 131.2H166.3V139.1H158.5zM120.3 138.9H128.1V146.8H120.3zM158.5 146.6H174.0V154.6H158.5zM120.3 154.4H128.1V162.3H120.3zM173.8 154.4H181.6V162.3H173.8zM135.6 162.1H143.4V170.0H135.6zM158.5 162.1H174.0V170.0H158.5zM196.7 162.1H204.5V170.0H196.7zM127.9 169.8H135.8V177.7H127.9zM143.2 177.5H151.1V185.4H143.2zM158.5 177.5H166.3V185.4H158.5zM196.7 177.5H204.5V185.4H196.7zM166.1 185.2H189.3V193.1H166.1zM196.7 185.2H204.5V193.1H196.7zM143.2 192.9H151.1V200.8H143.2zM150.9 200.6H158.7V208.5H150.9zM204.3 200.6H212.2V208.5H204.3zM166.1 208.3H174.0V216.2H166.1zM189.1 208.3H204.5V216.2H189.1zM127.9 231.3H135.8V239.2H127.9zM181.4 231.3H189.3V239.2H181.4zM135.6 239.0H143.4V246.9H135.6zM158.5 239.0H166.3V246.9H158.5zM173.8 239.0H181.6V246.9H173.8zM135.6 254.3H143.4V262.2H135.6zM150.9 254.3H158.7V262.2H150.9zM166.1 254.3H174.0V262.2H166.1zM127.9 262.0H135.8V269.8H127.9zM150.9 262.0H158.7V269.8H150.9zM59.2 277.3H67.0V285.1H59.2zM143.2 277.3H158.7V285.1H143.2zM74.5 284.9H82.3V292.8H74.5zM89.7 284.9H97.6V292.8H89.7zM105.0 284.9H120.5V292.8H105.0zM150.9 284.9H158.7V292.8H150.9zM158.5 292.6H166.3V300.4H158.5zM89.7 300.2H97.6V308.0H89.7zM112.7 300.2H120.5V308.0H112.7zM59.2 307.8H67.0V315.6H59.2zM127.9 323.1H135.8V330.9H127.9z"/><path fill="#0000ff" d="M82.1 -1.2H97.6V6.8H82.1zM135.6 -1.2H143.4V6.8H135.6zM166.1 -1.2H174.0V6.8H166.1zM212.0 -1.2H219.8V6.8H212.0zM120.3 6.6H128.1V14.6H120.3zM150.9 6.6H158.7V14.6H150.9zM173.8 6.6H181.6V14.6H173.8zM189.1 6.6H196.9V14.6H189.1zM204.3 6.6H212.2V14.6H204.3zM219.6 6.6H227.5V14.6H219.6zM150.9 14.4H158.7V22.5H150.9zM189.1 14.4H196.9V22.5H189.1zM212.0 14.4H219.8V22.5H212.0zM82.1 22.3H89.9V30.3H82.1zM173.8 22.3H181.6V30.3H173.8zM212.0 22.3H219.8V30.3H212.0zM82.1 30.1H97.6V38.1H82.1zM150.9 30.1H158.7V38.1H150.9zM181.4 30.1H189.3V38.1H181.4zM82.1 37.9H89.9V45.9H82.1zM105.0 37.9H112.9V45.9H105.0zM158.5 37.9H166.3V45.9H158.5zM173.8 37.9H181.6V45.9H173.8zM196.7 37.9H204.5V45.9H196.7zM219.6 37.9H227.5V45.9H219.6zM97.4 45.7H105.2V53.7H97.4zM127.9 45.7H135.8V53.7H127.9zM150.9 45.7H158.7V53.7H150.9zM173.8 45.7H189.3V53.7H173.8zM227.3 45.7H235.1V53.7H227.3zM120.3 53.5H128.1V61.5H120.3zM135.6 53.5H143.4V61.5H135.6zM204.3 53.5H212.2V61.5H204.3zM227.3 53.5H235.1V61.5H227.3zM105.0 61.3H112.9V69.3H105.0zM120.3 61.3H128.1V69.3H120.3zM112.7 69.1H120.5V77.0H112.7zM143.2 69.1H151.1V77.0H143.2zM97.4 76.8H105.2V84.8H97.4zM120.3 76.8H128.1V84.8H120.3zM150.9 76.8H158.7V84.8H150.9zM204.3 76.8H212.2V84.8H204.3zM219.6 76.8H227.5V84.8H219.6zM112.7 84.6H120.5V92.6H112.7zM212.0 84.6H227.5V92.6H212.0zM120.3 92.4H135.8V100.4H120.3zM173.8 92.4H189.3V100.4H173.8zM97.4 100.2H105.2V108.1H97.4zM135.6 100.2H143.4V108.1H135.6zM105.0 107.9H112.9V115.9H105.0zM120.3 107.9H128.1V115.9H120.3zM158.5 107.9H166.3V115.9H158.5zM105.0 115.7H112.9V123.6H105.0zM135.6 115.7H143.4V123.6H135.6zM150.9 115.7H166.3V123.6H150.9zM181.4 115.7H189.3V123.6H181.4zM112.7 123.4H120.5V131.4H112.7zM135.6 123.4H143.4V131.4H135.6zM173.8 123.4H181.6V131.4H173.8zM189.1 123.4H204.5V131.4H189.1zM166.1 131.2H174.0V139.1H166.1zM158.5 138.9H166.3V146.8H158.5zM135.6 146.6H143.4V154.6H135.6zM120.3 169.8H128.1V177.7H120.3zM135.6 169.8H143.4V177.7H135.6zM173.8 169.8H181.6V177.7H173.8zM189.1 169.8H204.5V177.7H189.1zM135.6 177.5H143.4V185.4H135.6zM189.1 177.5H196.9V185.4H189.1zM166.1 200.6H181.6V208.5H166.1zM189.1 200.6H204.5V208.5H189.1zM135.6 216.0H151.1V223.9H135.6zM143.2 239.0H151.1V246.9H143.2zM150.9 246.7H166.3V254.5H150.9zM112.7 254.3H120.5V262.2H112.7zM105.0 262.0H120.5V269.8H105.0zM158.5 262.0H166.3V269.8H158.5zM105.0 269.6H112.9V277.5H105.0zM120.3 269.6H128.1V277.5H120.3zM74.5 277.3H82.3V285.1H74.5zM105.0 277.3H112.9V285.1H105.0zM59.2 284.9H67.0V292.8H59.2zM158.5 284.9H166.3V292.8H158.5zM51.5 292.6H59.4V300.4H51.5zM66.8 292.6H74.7V300.4H66.8zM82.1 292.6H89.9V300.4H82.1zM105.0 292.6H112.9V300.4H105.0zM189.1 292.6H196.9V300.4H189.1zM51.5 300.2H59.4V308.0H51.5zM66.8 300.2H82.3V308.0H66.8zM127.9 300.2H143.4V308.0H127.9zM150.9 300.2H158.7V308.0H150.9zM127.9 330.7H135.8V338.5H127.9z"/><path fill="#0010ff" d="M105.0 -1.2H112.9V6.8H105.0zM150.9 -1.2H166.3V6.8H150.9zM181.4 -1.2H189.3V6.8H181.4zM135.6 6.6H143.4V14.6H135.6zM166.1 6.6H174.0V14.6H166.1zM181.4 6.6H189.3V14.6H181.4zM89.7 14.4H105.2V22.5H89.7zM135.6 14.4H143.4V22.5H135.6zM158.5 14.4H166.3V22.5H158.5zM173.8 14.4H181.6V22.5H173.8zM196.7 14.4H212.2V22.5H196.7zM112.7 22.3H151.1V30.3H112.7zM196.7 22.3H204.5V30.3H196.7zM105.0 30.1H135.8V38.1H105.0zM196.7 30.1H219.8V38.1H196.7zM135.6 37.9H143.4V45.9H135.6zM204.3 37.9H212.2V45.9H204.3zM89.7 45.7H97.6V53.7H89.7zM204.3 45.7H212.2V53.7H204.3zM242.5 45.7H250.4V53.7H242.5zM150.9 53.5H158.7V61.5H150.9zM189.1 53.5H196.9V61.5H189.1zM212.0 53.5H219.8V61.5H212.0zM135.6 61.3H143.4V69.3H135.6zM189.1 61.3H196.9V69.3H189.1zM97.4 69.1H105.2V77.0H97.4zM120.3 69.1H128.1V77.0H120.3zM158.5 84.6H181.6V92.6H158.5zM204.3 84.6H212.2V92.6H204.3zM97.4 92.4H112.9V100.4H97.4zM212.0 92.4H219.8V100.4H212.0zM105.0 100.2H120.5V108.1H105.0zM150.9 100.2H158.7V108.1H150.9zM189.1 100.2H196.9V108.1H189.1zM112.7 107.9H120.5V115.9H112.7zM204.3 107.9H227.5V115.9H204.3zM212.0 115.7H227.5V123.6H212.0zM150.9 138.9H158.7V146.8H150.9zM196.7 138.9H204.5V146.8H196.7zM120.3 146.6H128.1V154.6H120.3zM166.1 154.4H174.0V162.3H166.1zM196.7 154.4H204.5V162.3H196.7zM120.3 162.1H128.1V170.0H120.3zM120.3 185.2H135.8V193.1H120.3zM143.2 185.2H151.1V193.1H143.2zM135.6 208.3H143.4V216.2H135.6zM135.6 223.7H143.4V231.5H135.6zM166.1 231.3H174.0V239.2H166.1zM127.9 239.0H135.8V246.9H127.9zM234.9 239.0H242.7V246.9H234.9zM173.8 246.7H181.6V254.5H173.8zM105.0 254.3H112.9V262.2H105.0zM74.5 262.0H82.3V269.8H74.5zM143.2 262.0H151.1V269.8H143.2zM66.8 269.6H74.7V277.5H66.8zM143.2 269.6H151.1V277.5H143.2zM89.7 277.3H97.6V285.1H89.7zM89.7 292.6H97.6V300.4H89.7zM212.0 292.6H219.8V300.4H212.0zM59.2 300.2H67.0V308.0H59.2zM82.1 300.2H89.9V308.0H82.1zM105.0 300.2H112.9V308.0H105.0zM66.8 307.8H82.3V315.6H66.8z"/><path fill="#0000af" d="M120.3 -1.2H128.1V6.8H120.3zM189.1 84.6H196.9V92.6H189.1zM135.6 92.4H143.4V100.4H135.6zM173.8 146.6H181.6V154.6H173.8zM143.2 162.1H151.1V170.0H143.2zM166.1 192.9H174.0V200.8H166.1zM143.2 307.8H151.1V315.6H143.2zM150.9 323.1H158.7V330.9H150.9z"/><path fill="#0020ff" d="M127.9 -1.2H135.8V6.8H127.9zM89.7 6.6H97.6V14.6H89.7zM143.2 6.6H151.1V14.6H143.2zM82.1 14.4H89.9V22.5H82.1zM105.0 14.4H112.9V22.5H105.0zM120.3 14.4H128.1V22.5H120.3zM143.2 14.4H151.1V22.5H143.2zM219.6 14.4H227.5V22.5H219.6zM105.0 22.3H112.9V30.3H105.0zM150.9 22.3H166.3V30.3H150.9zM204.3 22.3H212.2V30.3H204.3zM219.6 22.3H227.5V30.3H219.6zM173.8 30.1H181.6V38.1H173.8zM219.6 30.1H227.5V38.1H219.6zM127.9 37.9H135.8V45.9H127.9zM82.1 45.7H89.9V53.7H82.1zM112.7 45.7H120.5V53.7H112.7zM212.0 45.7H219.8V53.7H212.0zM112.7 53.5H120.5V61.5H112.7zM173.8 53.5H181.6V61.5H173.8zM242.5 53.5H250.4V61.5H242.5zM97.4 61.3H105.2V69.3H97.4zM150.9 61.3H158.7V69.3H150.9zM105.0 69.1H112.9V77.0H105.0zM204.3 69.1H212.2V77.0H204.3zM227.3 69.1H235.1V77.0H227.3zM212.0 76.8H219.8V84.8H212.0zM227.3 76.8H235.1V84.8H227.3zM150.9 84.6H158.7V92.6H150.9zM143.2 100.2H151.1V108.1H143.2zM212.0 100.2H219.8V108.1H212.0zM227.3 115.7H235.1V123.6H227.3zM227.3 131.2H235.1V139.1H227.3zM212.0 192.9H219.8V200.8H212.0zM181.4 200.6H189.3V208.5H181.4zM219.6 200.6H227.5V208.5H219.6zM204.3 223.7H212.2V231.5H204.3zM196.7 231.3H204.5V239.2H196.7zM212.0 231.3H219.8V239.2H212.0zM242.5 231.3H250.4V239.2H242.5zM112.7 246.7H120.5V254.5H112.7zM74.5 269.6H89.9V277.5H74.5zM173.8 269.6H181.6V277.5H173.8zM66.8 277.3H74.7V285.1H66.8zM82.1 277.3H89.9V285.1H82.1zM51.5 284.9H59.4V292.8H51.5zM82.1 284.9H89.9V292.8H82.1zM74.5 292.6H82.3V300.4H74.5zM127.9 292.6H135.8V300.4H127.9zM150.9 292.6H158.7V300.4H150.9z"/><path fill="#0000df" d="M189.1 -1.2H196.9V6.8H189.1zM204.3 -1.2H212.2V6.8H204.3zM74.5 6.6H82.3V14.6H74.5zM127.9 6.6H135.8V14.6H127.9zM212.0 6.6H219.8V14.6H212.0zM189.1 22.3H196.9V30.3H189.1zM227.3 30.1H235.1V38.1H227.3zM97.4 37.9H105.2V45.9H97.4zM112.7 37.9H120.5V45.9H112.7zM227.3 37.9H235.1V45.9H227.3zM189.1 45.7H204.5V53.7H189.1zM82.1 53.5H89.9V61.5H82.1zM97.4 53.5H105.2V61.5H97.4zM143.2 53.5H151.1V61.5H143.2zM181.4 61.3H189.3V69.3H181.4zM212.0 61.3H219.8V69.3H212.0zM196.7 69.1H204.5V77.0H196.7zM143.2 76.8H151.1V84.8H143.2zM181.4 76.8H189.3V84.8H181.4zM135.6 84.6H151.1V92.6H135.6zM143.2 92.4H151.1V100.4H143.2zM166.1 92.4H174.0V100.4H166.1zM158.5 100.2H166.3V108.1H158.5zM173.8 100.2H181.6V108.1H173.8zM196.7 100.2H204.5V108.1H196.7zM173.8 107.9H181.6V115.9H173.8zM112.7 115.7H128.1V123.6H112.7zM189.1 115.7H196.9V123.6H189.1zM204.3 115.7H212.2V123.6H204.3zM120.3 123.4H128.1V131.4H120.3zM127.9 131.2H158.7V139.1H127.9zM173.8 131.2H181.6V139.1H173.8zM189.1 131.2H219.8V139.1H189.1zM127.9 138.9H143.4V146.8H127.9zM166.1 138.9H174.0V146.8H166.1zM189.1 138.9H196.9V146.8H189.1zM196.7 146.6H212.2V154.6H196.7zM135.6 154.4H143.4V162.3H135.6zM150.9 154.4H166.3V162.3H150.9zM181.4 154.4H196.9V162.3H181.4zM204.3 154.4H212.2V162.3H204.3zM127.9 162.1H135.8V170.0H127.9zM173.8 162.1H181.6V170.0H173.8zM189.1 162.1H196.9V170.0H189.1zM143.2 169.8H158.7V177.7H143.2zM166.1 177.5H174.0V185.4H166.1zM181.4 177.5H189.3V185.4H181.4zM150.9 185.2H158.7V193.1H150.9zM189.1 185.2H196.9V193.1H189.1zM135.6 192.9H143.4V200.8H135.6zM150.9 192.9H158.7V200.8H150.9zM173.8 192.9H189.3V200.8H173.8zM135.6 200.6H143.4V208.5H135.6zM150.9 208.3H158.7V216.2H150.9zM173.8 208.3H189.3V216.2H173.8zM150.9 216.0H174.0V223.9H150.9zM181.4 216.0H196.9V223.9H181.4zM120.3 223.7H128.1V231.5H120.3zM150.9 223.7H174.0V231.5H150.9zM189.1 223.7H196.9V231.5H189.1zM150.9 231.3H158.7V239.2H150.9zM120.3 239.0H128.1V246.9H120.3zM150.9 239.0H158.7V246.9H150.9zM120.3 246.7H151.1V254.5H120.3zM143.2 254.3H151.1V262.2H143.2zM82.1 262.0H89.9V269.8H82.1zM120.3 262.0H128.1V269.8H120.3zM135.6 269.6H143.4V277.5H135.6zM158.5 269.6H166.3V277.5H158.5zM135.6 277.3H143.4V285.1H135.6zM120.3 284.9H143.4V292.8H120.3zM112.7 292.6H120.5V300.4H112.7zM135.6 292.6H143.4V300.4H135.6zM143.2 300.2H151.1V308.0H143.2zM51.5 307.8H59.4V315.6H51.5zM135.6 307.8H143.4V315.6H135.6zM150.9 307.8H158.7V315.6H150.9zM135.6 315.4H143.4V323.3H135.6zM150.9 315.4H158.7V323.3H150.9zM135.6 323.1H143.4V330.9H135.6z"/><path fill="#0030ff" d="M196.7 -1.2H204.5V6.8H196.7zM82.1 6.6H89.9V14.6H82.1zM196.7 6.6H204.5V14.6H196.7zM234.9 6.6H242.7V14.6H234.9zM127.9 14.4H135.8V22.5H127.9zM181.4 14.4H189.3V22.5H181.4zM234.9 14.4H250.4V22.5H234.9zM227.3 22.3H242.7V30.3H227.3zM257.8 22.3H265.7V30.3H257.8zM189.1 30.1H196.9V38.1H189.1zM250.2 30.1H258.0V38.1H250.2zM166.1 37.9H174.0V45.9H166.1zM181.4 37.9H189.3V45.9H181.4zM143.2 45.7H151.1V53.7H143.2zM89.7 53.5H97.6V61.5H89.7zM105.0 53.5H112.9V61.5H105.0zM219.6 69.1H227.5V77.0H219.6zM105.0 84.6H112.9V92.6H105.0zM227.3 100.2H235.1V108.1H227.3zM212.0 123.4H235.1V131.4H212.0zM112.7 138.9H120.5V146.8H112.7zM212.0 138.9H227.5V146.8H212.0zM234.9 138.9H242.7V146.8H234.9zM242.5 154.4H250.4V162.3H242.5zM204.3 162.1H212.2V170.0H204.3zM219.6 169.8H227.5V177.7H219.6zM120.3 177.5H128.1V185.4H120.3zM219.6 177.5H227.5V185.4H219.6zM242.5 177.5H258.0V185.4H242.5zM234.9 185.2H242.7V193.1H234.9zM227.3 192.9H235.1V200.8H227.3zM219.6 216.0H227.5V223.9H219.6zM250.2 216.0H258.0V223.9H250.2zM219.6 223.7H227.5V231.5H219.6zM227.3 231.3H242.7V239.2H227.3zM257.8 239.0H265.7V246.9H257.8zM227.3 246.7H235.1V254.5H227.3zM181.4 262.0H189.3V269.8H181.4zM59.2 292.6H67.0V300.4H59.2zM105.0 307.8H120.5V315.6H105.0z"/><path fill="#0050ff" d="M219.6 -1.2H235.1V6.8H219.6zM227.3 14.4H235.1V22.5H227.3zM181.4 22.3H189.3V30.3H181.4zM242.5 30.1H250.4V38.1H242.5zM234.9 53.5H242.7V61.5H234.9zM234.9 61.3H242.7V69.3H234.9zM219.6 131.2H227.5V139.1H219.6zM227.3 138.9H235.1V146.8H227.3zM219.6 146.6H227.5V154.6H219.6zM212.0 162.1H219.8V170.0H212.0zM234.9 162.1H250.4V170.0H234.9zM212.0 169.8H219.8V177.7H212.0zM227.3 169.8H235.1V177.7H227.3zM204.3 185.2H212.2V193.1H204.3zM219.6 185.2H227.5V193.1H219.6zM196.7 192.9H204.5V200.8H196.7zM227.3 208.3H242.7V216.2H227.3zM234.9 216.0H242.7V223.9H234.9zM196.7 223.7H204.5V231.5H196.7zM212.0 223.7H219.8V231.5H212.0zM227.3 223.7H235.1V231.5H227.3zM242.5 223.7H250.4V231.5H242.5zM219.6 231.3H227.5V239.2H219.6zM181.4 239.0H189.3V246.9H181.4zM196.7 239.0H219.8V246.9H196.7zM242.5 239.0H250.4V246.9H242.5zM189.1 246.7H196.9V254.5H189.1zM204.3 246.7H227.5V254.5H204.3zM173.8 262.0H181.6V269.8H173.8zM120.3 323.1H128.1V330.9H120.3z"/><path fill="#0040ff" d="M234.9 -1.2H242.7V6.8H234.9zM227.3 6.6H235.1V14.6H227.3zM242.5 6.6H250.4V14.6H242.5zM112.7 14.4H120.5V22.5H112.7zM242.5 22.3H258.0V30.3H242.5zM250.2 37.9H258.0V45.9H250.2zM234.9 45.7H242.7V53.7H234.9zM250.2 45.7H258.0V53.7H250.2zM219.6 53.5H227.5V61.5H219.6zM234.9 69.1H242.7V77.0H234.9zM212.0 146.6H219.8V154.6H212.0zM234.9 146.6H242.7V154.6H234.9zM212.0 154.4H235.1V162.3H212.0zM219.6 162.1H227.5V170.0H219.6zM204.3 177.5H212.2V185.4H204.3zM227.3 185.2H235.1V193.1H227.3zM204.3 192.9H212.2V200.8H204.3zM219.6 192.9H227.5V200.8H219.6zM234.9 192.9H242.7V200.8H234.9zM242.5 200.6H250.4V208.5H242.5zM212.0 208.3H227.5V216.2H212.0zM250.2 208.3H258.0V216.2H250.2zM227.3 216.0H235.1V223.9H227.3zM234.9 223.7H242.7V231.5H234.9zM250.2 223.7H258.0V231.5H250.2zM189.1 231.3H196.9V239.2H189.1zM204.3 231.3H212.2V239.2H204.3zM189.1 239.0H196.9V246.9H189.1zM257.8 246.7H265.7V254.5H257.8zM173.8 254.3H181.6V262.2H173.8zM196.7 254.3H204.5V262.2H196.7zM166.1 262.0H174.0V269.8H166.1zM166.1 269.6H174.0V277.5H166.1z"/><path fill="#0060ff" d="M242.5 -1.2H250.4V6.8H242.5zM250.2 6.6H258.0V14.6H250.2zM250.2 14.4H265.7V22.5H250.2zM257.8 30.1H265.7V38.1H257.8zM234.9 37.9H242.7V45.9H234.9zM158.5 61.3H166.3V69.3H158.5zM227.3 84.6H235.1V92.6H227.3zM227.3 92.4H235.1V100.4H227.3zM227.3 107.9H235.1V115.9H227.3zM227.3 146.6H235.1V154.6H227.3zM234.9 154.4H242.7V162.3H234.9zM242.5 169.8H258.0V177.7H242.5zM212.0 177.5H219.8V185.4H212.0zM227.3 177.5H235.1V185.4H227.3zM242.5 185.2H258.0V193.1H242.5zM227.3 200.6H235.1V208.5H227.3zM250.2 200.6H258.0V208.5H250.2zM204.3 216.0H219.8V223.9H204.3zM242.5 216.0H250.4V223.9H242.5zM257.8 223.7H265.7V231.5H257.8zM257.8 231.3H265.7V239.2H257.8zM219.6 239.0H235.1V246.9H219.6zM181.4 246.7H189.3V254.5H181.4zM189.1 254.3H196.9V262.2H189.1zM112.7 323.1H120.5V330.9H112.7z"/><path fill="#00afff" d="M257.8 -1.2H273.3V6.8H257.8zM66.8 6.6H74.7V14.6H66.8zM265.5 6.6H273.3V14.6H265.5zM74.5 37.9H82.3V45.9H74.5zM257.8 37.9H273.3V45.9H257.8zM273.1 45.7H280.9V53.7H273.1zM158.5 53.5H166.3V61.5H158.5zM250.2 53.5H258.0V61.5H250.2zM89.7 61.3H97.6V69.3H89.7zM242.5 61.3H250.4V69.3H242.5zM234.9 76.8H242.7V84.8H234.9zM242.5 100.2H250.4V108.1H242.5zM234.9 107.9H242.7V115.9H234.9zM234.9 115.7H242.7V123.6H234.9zM242.5 138.9H250.4V146.8H242.5zM257.8 154.4H265.7V162.3H257.8zM257.8 169.8H265.7V177.7H257.8zM265.5 177.5H273.3V185.4H265.5zM250.2 192.9H258.0V200.8H250.2zM234.9 254.3H242.7V262.2H234.9zM189.1 262.0H196.9V269.8H189.1zM158.5 307.8H166.3V315.6H158.5zM36.3 361.1H44.1V368.8H36.3zM36.3 376.2H44.1V384.0H36.3z"/><path fill="#00ffff" d="M273.1 -1.2H280.9V6.8H273.1zM311.3 6.6H319.1V14.6H311.3zM326.6 6.6H349.7V14.6H326.6zM273.1 61.3H280.9V69.3H273.1zM250.2 76.8H265.7V84.8H250.2zM265.5 84.6H273.3V92.6H265.5zM265.5 92.4H273.3V100.4H265.5zM265.5 100.2H273.3V108.1H265.5zM280.7 100.2H288.6V108.1H280.7zM257.8 107.9H265.7V115.9H257.8zM265.5 115.7H273.3V123.6H265.5zM288.4 115.7H296.2V123.6H288.4zM288.4 146.6H303.9V154.6H288.4zM280.7 154.4H288.6V162.3H280.7zM273.1 162.1H280.9V170.0H273.1zM273.1 177.5H280.9V185.4H273.1zM288.4 185.2H296.2V193.1H288.4zM280.7 192.9H288.6V200.8H280.7zM288.4 200.6H296.2V208.5H288.4zM273.1 208.3H280.9V216.2H273.1zM265.5 231.3H273.3V239.2H265.5zM250.2 254.3H265.7V262.2H250.2zM273.1 254.3H280.9V262.2H273.1zM288.4 254.3H296.2V262.2H288.4zM288.4 262.0H296.2V269.8H288.4zM273.1 269.6H280.9V277.5H273.1zM166.1 277.3H174.0V285.1H166.1zM212.0 277.3H219.8V285.1H212.0zM234.9 277.3H242.7V285.1H234.9zM265.5 277.3H273.3V285.1H265.5zM166.1 284.9H174.0V292.8H166.1zM227.3 284.9H235.1V292.8H227.3zM158.5 338.3H166.3V346.1H158.5zM150.9 345.9H158.7V353.7H150.9zM28.6 353.5H36.5V361.3H28.6zM143.2 361.1H158.7V368.8H143.2zM135.6 368.6H151.1V376.4H135.6z"/><path fill="#30ffcf" d="M280.7 -1.2H288.6V6.8H280.7zM273.1 76.8H280.9V84.8H273.1zM273.1 84.6H280.9V92.6H273.1zM242.5 92.4H250.4V100.4H242.5zM288.4 92.4H296.2V100.4H288.4zM250.2 115.7H258.0V123.6H250.2zM280.7 123.4H288.6V131.4H280.7zM296.0 123.4H303.9V131.4H296.0zM273.1 131.2H280.9V139.1H273.1zM303.7 154.4H311.5V162.3H303.7zM288.4 169.8H296.2V177.7H288.4zM273.1 192.9H280.9V200.8H273.1zM257.8 216.0H265.7V223.9H257.8zM288.4 216.0H296.2V223.9H288.4zM280.7 231.3H288.6V239.2H280.7zM288.4 239.0H296.2V246.9H288.4zM273.1 246.7H280.9V254.5H273.1zM288.4 246.7H296.2V254.5H288.4zM265.5 262.0H273.3V269.8H265.5zM204.3 269.6H212.2V277.5H204.3zM219.6 269.6H227.5V277.5H219.6zM257.8 269.6H265.7V277.5H257.8zM234.9 284.9H242.7V292.8H234.9zM219.6 292.6H227.5V300.4H219.6zM250.2 300.2H258.0V308.0H250.2zM13.3 353.5H21.2V361.3H13.3zM13.3 361.1H21.2V368.8H13.3zM43.9 368.6H51.7V376.4H43.9zM112.7 414.0H120.5V421.8H112.7z"/><path fill="#ff4000" d="M288.4 -1.2H296.2V6.8H288.4zM326.6 292.6H334.4V300.4H326.6zM334.2 300.2H342.1V308.0H334.2zM196.7 323.1H204.5V330.9H196.7zM311.3 323.1H319.1V330.9H311.3zM234.9 330.7H242.7V338.5H234.9z"/><path fill="#800000" d="M296.0 -1.2H303.9V6.8H296.0zM326.6 22.3H342.1V30.3H326.6zM219.6 361.1H227.5V368.8H219.6zM227.3 368.6H242.7V376.4H227.3zM219.6 376.2H242.7V384.0H219.6z"/><path fill="#0000cf" d="M105.0 6.6H112.9V14.6H105.0zM143.2 30.1H151.1V38.1H143.2zM127.9 61.3H135.8V69.3H127.9zM150.9 69.1H158.7V77.0H150.9zM173.8 69.1H181.6V77.0H173.8zM135.6 76.8H143.4V84.8H135.6zM181.4 84.6H189.3V92.6H181.4zM189.1 92.4H212.2V100.4H189.1zM120.3 100.2H135.8V108.1H120.3zM166.1 100.2H174.0V108.1H166.1zM204.3 100.2H212.2V108.1H204.3zM135.6 107.9H143.4V115.9H135.6zM150.9 107.9H158.7V115.9H150.9zM196.7 107.9H204.5V115.9H196.7zM166.1 115.7H174.0V123.6H166.1zM196.7 115.7H204.5V123.6H196.7zM127.9 123.4H135.8V131.4H127.9zM158.5 123.4H166.3V131.4H158.5zM181.4 123.4H189.3V131.4H181.4zM181.4 131.2H189.3V139.1H181.4zM143.2 138.9H151.1V146.8H143.2zM181.4 138.9H189.3V146.8H181.4zM127.9 146.6H135.8V154.6H127.9zM143.2 146.6H151.1V154.6H143.2zM181.4 146.6H189.3V154.6H181.4zM127.9 154.4H135.8V162.3H127.9zM181.4 162.1H189.3V170.0H181.4zM127.9 177.5H135.8V185.4H127.9zM150.9 177.5H158.7V185.4H150.9zM173.8 177.5H181.6V185.4H173.8zM135.6 185.2H143.4V193.1H135.6zM158.5 185.2H166.3V193.1H158.5zM158.5 192.9H166.3V200.8H158.5zM189.1 192.9H196.9V200.8H189.1zM143.2 200.6H151.1V208.5H143.2zM127.9 223.7H135.8V231.5H127.9zM181.4 223.7H189.3V231.5H181.4zM120.3 231.3H128.1V239.2H120.3zM135.6 231.3H143.4V239.2H135.6zM158.5 231.3H166.3V239.2H158.5zM112.7 239.0H120.5V246.9H112.7zM166.1 246.7H174.0V254.5H166.1zM120.3 254.3H135.8V262.2H120.3zM158.5 254.3H166.3V262.2H158.5zM135.6 262.0H143.4V269.8H135.6zM127.9 269.6H135.8V277.5H127.9zM150.9 269.6H158.7V277.5H150.9zM120.3 277.3H135.8V285.1H120.3zM158.5 277.3H166.3V285.1H158.5zM66.8 284.9H74.7V292.8H66.8zM143.2 284.9H151.1V292.8H143.2zM127.9 307.8H135.8V315.6H127.9zM127.9 315.4H135.8V323.3H127.9zM150.9 338.3H158.7V346.1H150.9z"/><path fill="#0070ff" d="M257.8 6.6H265.7V14.6H257.8zM234.9 30.1H242.7V38.1H234.9zM242.5 37.9H250.4V45.9H242.5zM158.5 45.7H166.3V53.7H158.5zM89.7 84.6H97.6V92.6H89.7zM234.9 131.2H242.7V139.1H234.9zM250.2 138.9H258.0V146.8H250.2zM204.3 169.8H212.2V177.7H204.3zM234.9 169.8H242.7V177.7H234.9zM234.9 177.5H242.7V185.4H234.9zM212.0 185.2H219.8V193.1H212.0zM242.5 192.9H250.4V200.8H242.5zM212.0 200.6H219.8V208.5H212.0zM234.9 200.6H242.7V208.5H234.9zM204.3 208.3H212.2V216.2H204.3zM242.5 208.3H250.4V216.2H242.5zM196.7 216.0H204.5V223.9H196.7zM250.2 231.3H258.0V239.2H250.2zM250.2 239.0H258.0V246.9H250.2zM196.7 246.7H204.5V254.5H196.7zM181.4 254.3H189.3V262.2H181.4zM112.7 315.4H120.5V323.3H112.7zM143.2 330.7H158.7V338.5H143.2z"/><path fill="#10ffef" d="M273.1 6.6H288.6V14.6H273.1zM318.9 6.6H326.8V14.6H318.9zM257.8 69.1H265.7V77.0H257.8zM242.5 84.6H250.4V92.6H242.5zM257.8 84.6H265.7V92.6H257.8zM273.1 92.4H280.9V100.4H273.1zM257.8 100.2H265.7V108.1H257.8zM273.1 100.2H280.9V108.1H273.1zM250.2 107.9H258.0V115.9H250.2zM280.7 107.9H296.2V115.9H280.7zM257.8 115.7H265.7V123.6H257.8zM273.1 115.7H280.9V123.6H273.1zM296.0 115.7H303.9V123.6H296.0zM257.8 123.4H265.7V131.4H257.8zM288.4 123.4H296.2V131.4H288.4zM265.5 131.2H273.3V139.1H265.5zM280.7 131.2H288.6V139.1H280.7zM296.0 131.2H303.9V139.1H296.0zM265.5 138.9H273.3V146.8H265.5zM288.4 138.9H303.9V146.8H288.4zM273.1 146.6H280.9V154.6H273.1zM280.7 162.1H288.6V170.0H280.7zM296.0 162.1H303.9V170.0H296.0zM280.7 177.5H288.6V185.4H280.7zM296.0 177.5H303.9V185.4H296.0zM273.1 185.2H288.6V193.1H273.1zM273.1 200.6H280.9V208.5H273.1zM257.8 208.3H273.3V216.2H257.8zM265.5 216.0H273.3V223.9H265.5zM280.7 216.0H288.6V223.9H280.7zM273.1 231.3H280.9V239.2H273.1zM265.5 239.0H273.3V246.9H265.5zM280.7 239.0H288.6V246.9H280.7zM265.5 246.7H273.3V254.5H265.5zM265.5 254.3H273.3V262.2H265.5zM280.7 254.3H288.6V262.2H280.7zM219.6 262.0H227.5V269.8H219.6zM234.9 262.0H242.7V269.8H234.9zM189.1 269.6H204.5V277.5H189.1zM212.0 269.6H219.8V277.5H212.0zM234.9 269.6H242.7V277.5H234.9zM173.8 277.3H189.3V285.1H173.8zM204.3 277.3H212.2V285.1H204.3zM242.5 277.3H250.4V285.1H242.5zM257.8 277.3H265.7V285.1H257.8zM219.6 284.9H227.5V292.8H219.6zM242.5 284.9H250.4V292.8H242.5zM257.8 284.9H273.3V292.8H257.8zM181.4 292.6H189.3V300.4H181.4zM112.7 421.6H120.5V429.3H112.7z"/><path fill="#ffc000" d="M288.4 6.6H296.2V14.6H288.4z"/><path fill="#00efff" d="M296.0 6.6H303.9V14.6H296.0zM273.1 53.5H280.9V61.5H273.1zM265.5 76.8H273.3V84.8H265.5zM257.8 92.4H265.7V100.4H257.8zM250.2 100.2H258.0V108.1H250.2zM265.5 107.9H273.3V115.9H265.5zM280.7 115.7H288.6V123.6H280.7zM265.5 123.4H273.3V131.4H265.5zM257.8 131.2H265.7V139.1H257.8zM288.4 131.2H296.2V139.1H288.4zM273.1 138.9H280.9V146.8H273.1zM303.7 138.9H311.5V146.8H303.7zM265.5 154.4H273.3V162.3H265.5zM280.7 169.8H288.6V177.7H280.7zM288.4 177.5H296.2V185.4H288.4zM296.0 185.2H303.9V193.1H296.0zM296.0 192.9H303.9V200.8H296.0zM280.7 208.3H288.6V216.2H280.7zM273.1 223.7H280.9V231.5H273.1zM288.4 223.7H296.2V231.5H288.4zM204.3 254.3H212.2V262.2H204.3zM280.7 262.0H288.6V269.8H280.7zM196.7 277.3H204.5V285.1H196.7zM250.2 277.3H258.0V285.1H250.2zM250.2 284.9H258.0V292.8H250.2zM173.8 292.6H181.6V300.4H173.8z"/><path fill="#00bfff" d="M74.5 14.4H82.3V22.5H74.5zM273.1 14.4H280.9V22.5H273.1zM74.5 22.3H82.3V30.3H74.5zM265.5 22.3H280.9V30.3H265.5zM74.5 30.1H82.3V38.1H74.5zM265.5 30.1H273.3V38.1H265.5zM242.5 76.8H250.4V84.8H242.5zM234.9 84.6H242.7V92.6H234.9zM82.1 92.4H89.9V100.4H82.1zM234.9 100.2H242.7V108.1H234.9zM82.1 107.9H89.9V115.9H82.1zM242.5 107.9H250.4V115.9H242.5zM250.2 123.4H258.0V131.4H250.2zM242.5 131.2H258.0V139.1H242.5zM257.8 138.9H265.7V146.8H257.8zM265.5 185.2H273.3V193.1H265.5zM257.8 192.9H265.7V200.8H257.8zM212.0 254.3H219.8V262.2H212.0zM204.3 262.0H212.2V269.8H204.3zM82.1 315.4H89.9V323.3H82.1zM21.0 376.2H36.5V384.0H21.0z"/><path fill="#00cfff" d="M265.5 14.4H273.3V22.5H265.5zM273.1 30.1H280.9V38.1H273.1zM265.5 45.7H273.3V53.7H265.5zM82.1 61.3H89.9V69.3H82.1zM250.2 69.1H258.0V77.0H250.2zM89.7 107.9H97.6V115.9H89.7zM89.7 115.7H97.6V123.6H89.7zM234.9 123.4H242.7V131.4H234.9zM303.7 131.2H311.5V139.1H303.7zM257.8 146.6H265.7V154.6H257.8zM250.2 162.1H273.3V170.0H250.2zM265.5 169.8H273.3V177.7H265.5zM181.4 269.6H189.3V277.5H181.4zM158.5 300.2H166.3V308.0H158.5zM28.6 361.1H36.5V368.8H28.6z"/><path fill="#80ff80" d="M280.7 14.4H288.6V22.5H280.7zM334.2 14.4H342.1V22.5H334.2zM280.7 22.3H288.6V30.3H280.7zM296.0 22.3H311.5V30.3H296.0zM280.7 84.6H288.6V92.6H280.7zM280.7 92.4H288.6V100.4H280.7zM296.0 92.4H303.9V100.4H296.0zM334.2 92.4H349.7V100.4H334.2zM303.7 107.9H311.5V115.9H303.7zM326.6 107.9H342.1V115.9H326.6zM311.3 115.7H319.1V123.6H311.3zM303.7 123.4H326.8V131.4H303.7zM318.9 138.9H326.8V146.8H318.9zM318.9 146.6H334.4V154.6H318.9zM341.9 146.6H349.7V154.6H341.9zM303.7 162.1H311.5V170.0H303.7zM318.9 162.1H326.8V170.0H318.9zM334.2 169.8H342.1V177.7H334.2zM326.6 185.2H342.1V193.1H326.6zM303.7 192.9H311.5V200.8H303.7zM318.9 192.9H334.4V200.8H318.9zM326.6 200.6H342.1V208.5H326.6zM303.7 208.3H311.5V216.2H303.7zM334.2 208.3H342.1V216.2H334.2zM318.9 216.0H326.8V223.9H318.9zM334.2 216.0H342.1V223.9H334.2zM296.0 223.7H303.9V231.5H296.0zM334.2 223.7H342.1V231.5H334.2zM296.0 231.3H303.9V239.2H296.0zM318.9 231.3H326.8V239.2H318.9zM296.0 239.0H303.9V246.9H296.0zM311.3 239.0H319.1V246.9H311.3zM311.3 246.7H319.1V254.5H311.3zM311.3 262.0H319.1V269.8H311.3zM311.3 269.6H319.1V277.5H311.3zM326.6 269.6H334.4V277.5H326.6zM219.6 307.8H227.5V315.6H219.6zM242.5 307.8H250.4V315.6H242.5zM234.9 315.4H242.7V323.3H234.9zM212.0 323.1H235.1V330.9H212.0z"/><path fill="#50ffaf" d="M288.4 14.4H296.2V22.5H288.4zM296.0 30.1H303.9V38.1H296.0zM326.6 37.9H334.4V45.9H326.6zM280.7 69.1H288.6V77.0H280.7zM89.7 92.4H97.6V100.4H89.7zM341.9 107.9H349.7V115.9H341.9zM341.9 115.7H349.7V123.6H341.9zM311.3 169.8H319.1V177.7H311.3zM303.7 223.7H311.5V231.5H303.7zM303.7 231.3H311.5V239.2H303.7zM273.1 239.0H280.9V246.9H273.1zM242.5 262.0H250.4V269.8H242.5zM303.7 262.0H311.5V269.8H303.7zM265.5 269.6H273.3V277.5H265.5zM234.9 292.6H242.7V300.4H234.9zM257.8 292.6H265.7V300.4H257.8zM219.6 300.2H227.5V308.0H219.6zM234.9 300.2H250.4V308.0H234.9zM257.8 300.2H265.7V308.0H257.8zM43.9 376.2H51.7V384.0H43.9z"/><path fill="#9fff60" d="M296.0 14.4H303.9V22.5H296.0zM311.3 14.4H319.1V22.5H311.3zM311.3 30.1H319.1V38.1H311.3zM334.2 30.1H342.1V38.1H334.2zM296.0 69.1H303.9V77.0H296.0zM303.7 92.4H311.5V100.4H303.7zM326.6 92.4H334.4V100.4H326.6zM311.3 100.2H319.1V108.1H311.3zM318.9 107.9H326.8V115.9H318.9zM311.3 131.2H319.1V139.1H311.3zM341.9 131.2H349.7V139.1H341.9zM334.2 146.6H342.1V154.6H334.2zM326.6 162.1H334.4V170.0H326.6zM341.9 169.8H349.7V177.7H341.9zM303.7 216.0H311.5V223.9H303.7zM326.6 231.3H334.4V239.2H326.6zM341.9 269.6H349.7V277.5H341.9z"/><path fill="#60ff9f" d="M303.7 14.4H311.5V22.5H303.7zM318.9 14.4H326.8V22.5H318.9zM318.9 92.4H326.8V100.4H318.9zM318.9 100.2H326.8V108.1H318.9zM303.7 115.7H311.5V123.6H303.7zM326.6 115.7H334.4V123.6H326.6zM326.6 123.4H334.4V131.4H326.6zM341.9 123.4H349.7V131.4H341.9zM326.6 131.2H334.4V139.1H326.6zM326.6 138.9H334.4V146.8H326.6zM326.6 154.4H342.1V162.3H326.6zM334.2 162.1H349.7V170.0H334.2zM311.3 200.6H319.1V208.5H311.3zM311.3 223.7H319.1V231.5H311.3zM334.2 231.3H342.1V239.2H334.2zM303.7 239.0H311.5V246.9H303.7zM318.9 269.6H326.8V277.5H318.9zM227.3 315.4H235.1V323.3H227.3zM250.2 315.4H258.0V323.3H250.2zM234.9 323.1H242.7V330.9H234.9zM5.7 376.2H13.5V384.0H5.7z"/><path fill="#70ff8f" d="M326.6 14.4H334.4V22.5H326.6zM341.9 14.4H349.7V22.5H341.9zM288.4 22.3H296.2V30.3H288.4zM311.3 22.3H319.1V30.3H311.3zM341.9 30.1H349.7V38.1H341.9zM334.2 37.9H349.7V45.9H334.2zM311.3 92.4H319.1V100.4H311.3zM296.0 100.2H311.5V108.1H296.0zM296.0 107.9H303.9V115.9H296.0zM334.2 115.7H342.1V123.6H334.2zM334.2 123.4H342.1V131.4H334.2zM334.2 138.9H342.1V146.8H334.2zM311.3 146.6H319.1V154.6H311.3zM318.9 154.4H326.8V162.3H318.9zM311.3 162.1H319.1V170.0H311.3zM318.9 169.8H334.4V177.7H318.9zM318.9 177.5H326.8V185.4H318.9zM303.7 185.2H326.8V193.1H303.7zM334.2 192.9H349.7V200.8H334.2zM303.7 200.6H311.5V208.5H303.7zM318.9 200.6H326.8V208.5H318.9zM311.3 208.3H319.1V216.2H311.3zM311.3 216.0H319.1V223.9H311.3zM326.6 223.7H334.4V231.5H326.6zM303.7 246.7H311.5V254.5H303.7zM296.0 262.0H303.9V269.8H296.0zM334.2 269.6H342.1V277.5H334.2zM227.3 292.6H235.1V300.4H227.3zM204.3 300.2H212.2V308.0H204.3zM227.3 300.2H235.1V308.0H227.3zM196.7 307.8H204.5V315.6H196.7zM250.2 307.8H258.0V315.6H250.2zM242.5 315.4H250.4V323.3H242.5z"/><path fill="#0000bf" d="M166.1 22.3H174.0V30.3H166.1zM189.1 69.1H196.9V77.0H189.1zM150.9 92.4H158.7V100.4H150.9zM143.2 107.9H151.1V115.9H143.2zM166.1 107.9H174.0V115.9H166.1zM204.3 123.4H212.2V131.4H204.3zM173.8 138.9H181.6V146.8H173.8zM204.3 138.9H212.2V146.8H204.3zM150.9 146.6H158.7V154.6H150.9zM189.1 146.6H196.9V154.6H189.1zM143.2 154.4H151.1V162.3H143.2zM158.5 169.8H174.0V177.7H158.5zM181.4 169.8H189.3V177.7H181.4zM158.5 200.6H166.3V208.5H158.5zM143.2 208.3H151.1V216.2H143.2zM158.5 208.3H166.3V216.2H158.5zM173.8 216.0H181.6V223.9H173.8zM143.2 223.7H151.1V231.5H143.2zM173.8 223.7H181.6V231.5H173.8zM143.2 231.3H151.1V239.2H143.2zM173.8 231.3H181.6V239.2H173.8zM166.1 239.0H174.0V246.9H166.1zM143.2 292.6H151.1V300.4H143.2zM143.2 315.4H151.1V323.3H143.2zM143.2 323.1H151.1V330.9H143.2z"/><path fill="#8fff70" d="M318.9 22.3H326.8V30.3H318.9zM341.9 22.3H349.7V30.3H341.9zM280.7 30.1H296.2V38.1H280.7zM318.9 30.1H334.4V38.1H318.9zM288.4 37.9H303.9V45.9H288.4zM280.7 76.8H288.6V84.8H280.7zM296.0 84.6H303.9V92.6H296.0zM288.4 100.2H296.2V108.1H288.4zM326.6 100.2H342.1V108.1H326.6zM311.3 107.9H319.1V115.9H311.3zM318.9 131.2H326.8V139.1H318.9zM334.2 131.2H342.1V139.1H334.2zM311.3 138.9H319.1V146.8H311.3zM341.9 154.4H349.7V162.3H341.9zM303.7 169.8H311.5V177.7H303.7zM303.7 177.5H319.1V185.4H303.7zM326.6 177.5H334.4V185.4H326.6zM311.3 192.9H319.1V200.8H311.3zM341.9 200.6H349.7V208.5H341.9zM296.0 208.3H303.9V216.2H296.0zM318.9 208.3H334.4V216.2H318.9zM341.9 208.3H349.7V216.2H341.9zM296.0 216.0H303.9V223.9H296.0zM341.9 216.0H349.7V223.9H341.9zM341.9 223.7H349.7V231.5H341.9zM341.9 231.3H349.7V239.2H341.9zM296.0 246.7H303.9V254.5H296.0zM296.0 254.3H303.9V262.2H296.0zM296.0 269.6H311.5V277.5H296.0zM227.3 307.8H235.1V315.6H227.3zM219.6 315.4H227.5V323.3H219.6z"/><path fill="#afff50" d="M303.7 30.1H311.5V38.1H303.7zM303.7 45.7H311.5V53.7H303.7zM326.6 76.8H334.4V84.8H326.6zM288.4 84.6H296.2V92.6H288.4zM311.3 154.4H319.1V162.3H311.3zM334.2 177.5H342.1V185.4H334.2zM341.9 185.2H349.7V193.1H341.9zM296.0 200.6H303.9V208.5H296.0zM318.9 223.7H326.8V231.5H318.9zM311.3 231.3H319.1V239.2H311.3zM318.9 239.0H326.8V246.9H318.9zM311.3 254.3H319.1V262.2H311.3zM234.9 307.8H242.7V315.6H234.9z"/><path fill="#0080ff" d="M273.1 37.9H280.9V45.9H273.1zM166.1 45.7H174.0V53.7H166.1zM166.1 61.3H174.0V69.3H166.1zM166.1 69.1H174.0V77.0H166.1zM82.1 100.2H89.9V108.1H82.1zM227.3 162.1H235.1V170.0H227.3zM265.5 192.9H273.3V200.8H265.5zM120.3 315.4H128.1V323.3H120.3z"/><path fill="#bfff40" d="M280.7 37.9H288.6V45.9H280.7zM318.9 37.9H326.8V45.9H318.9zM288.4 45.7H296.2V53.7H288.4zM326.6 45.7H334.4V53.7H326.6zM288.4 61.3H296.2V69.3H288.4zM341.9 177.5H349.7V185.4H341.9zM326.6 216.0H334.4V223.9H326.6zM318.9 246.7H334.4V254.5H318.9zM334.2 254.3H342.1V262.2H334.2zM334.2 277.3H342.1V285.1H334.2zM5.7 368.6H13.5V376.4H5.7z"/><path fill="#ff6000" d="M303.7 37.9H319.1V45.9H303.7zM288.4 315.4H296.2V323.3H288.4z"/><path fill="#009fff" d="M74.5 45.7H82.3V53.7H74.5zM257.8 53.5H265.7V61.5H257.8zM250.2 61.3H265.7V69.3H250.2zM242.5 69.1H250.4V77.0H242.5zM89.7 76.8H97.6V84.8H89.7zM242.5 123.4H250.4V131.4H242.5zM250.2 146.6H258.0V154.6H250.2zM250.2 154.4H258.0V162.3H250.2zM257.8 177.5H265.7V185.4H257.8zM242.5 246.7H258.0V254.5H242.5zM219.6 254.3H227.5V262.2H219.6zM212.0 262.0H219.8V269.8H212.0zM82.1 307.8H97.6V315.6H82.1zM105.0 315.4H112.9V323.3H105.0zM158.5 315.4H166.3V323.3H158.5zM158.5 323.1H166.3V330.9H158.5zM158.5 330.7H166.3V338.5H158.5zM36.3 368.6H44.1V376.4H36.3z"/><path fill="#dfff20" d="M280.7 45.7H288.6V53.7H280.7zM288.4 53.5H296.2V61.5H288.4zM303.7 53.5H319.1V61.5H303.7zM296.0 61.3H303.9V69.3H296.0zM326.6 61.3H334.4V69.3H326.6zM288.4 69.1H296.2V77.0H288.4zM303.7 69.1H311.5V77.0H303.7zM318.9 69.1H326.8V77.0H318.9zM334.2 69.1H342.1V77.0H334.2zM318.9 76.8H326.8V84.8H318.9zM303.7 84.6H311.5V92.6H303.7zM318.9 84.6H349.7V92.6H318.9zM326.6 239.0H334.4V246.9H326.6zM341.9 246.7H349.7V254.5H341.9zM318.9 254.3H334.4V262.2H318.9zM318.9 262.0H326.8V269.8H318.9zM311.3 292.6H326.8V300.4H311.3zM296.0 300.2H303.9V308.0H296.0zM318.9 300.2H326.8V308.0H318.9zM212.0 307.8H219.8V315.6H212.0zM296.0 307.8H303.9V315.6H296.0zM311.3 307.8H319.1V315.6H311.3zM303.7 330.7H311.5V338.5H303.7z"/><path fill="#efff10" d="M296.0 45.7H303.9V53.7H296.0zM311.3 45.7H319.1V53.7H311.3zM280.7 53.5H288.6V61.5H280.7zM296.0 53.5H303.9V61.5H296.0zM280.7 61.3H288.6V69.3H280.7zM303.7 61.3H311.5V69.3H303.7zM318.9 61.3H326.8V69.3H318.9zM341.9 69.1H349.7V77.0H341.9zM288.4 76.8H303.9V84.8H288.4zM311.3 76.8H319.1V84.8H311.3zM341.9 239.0H349.7V246.9H341.9zM334.2 246.7H342.1V254.5H334.2zM334.2 262.0H349.7V269.8H334.2zM326.6 277.3H334.4V285.1H326.6zM318.9 284.9H326.8V292.8H318.9zM196.7 315.4H204.5V323.3H196.7zM296.0 315.4H319.1V323.3H296.0zM288.4 330.7H296.2V338.5H288.4zM296.0 338.3H303.9V346.1H296.0zM296.0 345.9H303.9V353.7H296.0z"/><path fill="#ffef00" d="M318.9 45.7H326.8V53.7H318.9zM341.9 45.7H349.7V53.7H341.9zM318.9 53.5H326.8V61.5H318.9zM341.9 53.5H349.7V61.5H341.9zM341.9 61.3H349.7V69.3H341.9zM311.3 69.1H319.1V77.0H311.3zM326.6 284.9H334.4V292.8H326.6zM212.0 300.2H219.8V308.0H212.0zM303.7 307.8H311.5V315.6H303.7zM296.0 330.7H303.9V338.5H296.0z"/><path fill="#ffff00" d="M334.2 45.7H342.1V53.7H334.2zM311.3 84.6H319.1V92.6H311.3zM334.2 239.0H342.1V246.9H334.2zM341.9 254.3H349.7V262.2H341.9zM326.6 262.0H334.4V269.8H326.6zM296.0 277.3H303.9V285.1H296.0zM318.9 277.3H326.8V285.1H318.9zM303.7 284.9H311.5V292.8H303.7zM303.7 300.2H311.5V308.0H303.7zM257.8 307.8H265.7V315.6H257.8zM212.0 315.4H219.8V323.3H212.0zM242.5 323.1H250.4V330.9H242.5zM296.0 323.1H303.9V330.9H296.0z"/><path fill="#ff8000" d="M326.6 53.5H342.1V61.5H326.6zM334.2 76.8H342.1V84.8H334.2z"/><path fill="#00dfff" d="M265.5 61.3H273.3V69.3H265.5zM265.5 69.1H273.3V77.0H265.5zM82.1 76.8H89.9V84.8H82.1zM82.1 115.7H89.9V123.6H82.1zM242.5 115.7H250.4V123.6H242.5zM280.7 138.9H288.6V146.8H280.7zM273.1 169.8H280.9V177.7H273.1zM280.7 223.7H288.6V231.5H280.7zM196.7 262.0H204.5V269.8H196.7zM227.3 277.3H235.1V285.1H227.3zM150.9 353.5H158.7V361.3H150.9zM28.6 368.6H36.5V376.4H28.6z"/><path fill="#cfff30" d="M311.3 61.3H319.1V69.3H311.3zM326.6 69.1H334.4V77.0H326.6zM303.7 76.8H311.5V84.8H303.7zM341.9 76.8H349.7V84.8H341.9zM296.0 292.6H303.9V300.4H296.0zM303.7 323.1H311.5V330.9H303.7zM5.7 361.1H13.5V368.8H5.7z"/><path fill="#ffdf00" d="M334.2 61.3H342.1V69.3H334.2zM303.7 277.3H319.1V285.1H303.7zM296.0 284.9H303.9V292.8H296.0zM311.3 284.9H319.1V292.8H311.3zM303.7 292.6H311.5V300.4H303.7zM311.3 300.2H319.1V308.0H311.3zM204.3 307.8H212.2V315.6H204.3z"/><path fill="#40ffbf" d="M273.1 69.1H280.9V77.0H273.1zM89.7 100.2H97.6V108.1H89.7zM273.1 123.4H280.9V131.4H273.1zM341.9 138.9H349.7V146.8H341.9zM265.5 146.6H273.3V154.6H265.5zM265.5 200.6H273.3V208.5H265.5zM303.7 254.3H311.5V262.2H303.7zM273.1 262.0H280.9V269.8H273.1zM227.3 269.6H235.1V277.5H227.3zM280.7 269.6H288.6V277.5H280.7zM219.6 277.3H227.5V285.1H219.6zM242.5 292.6H250.4V300.4H242.5zM21.0 353.5H28.8V361.3H21.0zM13.3 368.6H21.2V376.4H13.3zM13.3 376.2H21.2V384.0H13.3z"/><path fill="#ff2000" d="M82.1 84.6H89.9V92.6H82.1zM318.9 315.4H326.8V323.3H318.9zM204.3 323.1H212.2V330.9H204.3zM204.3 330.7H212.2V338.5H204.3zM227.3 330.7H235.1V338.5H227.3z"/><path fill="#20ffdf" d="M250.2 84.6H258.0V92.6H250.2zM250.2 92.4H258.0V100.4H250.2zM273.1 107.9H280.9V115.9H273.1zM280.7 146.6H288.6V154.6H280.7zM303.7 146.6H311.5V154.6H303.7zM273.1 154.4H280.9V162.3H273.1zM288.4 154.4H303.9V162.3H288.4zM288.4 162.1H296.2V170.0H288.4zM296.0 169.8H303.9V177.7H296.0zM288.4 192.9H296.2V200.8H288.4zM257.8 200.6H265.7V208.5H257.8zM280.7 200.6H288.6V208.5H280.7zM288.4 208.3H296.2V216.2H288.4zM273.1 216.0H280.9V223.9H273.1zM265.5 223.7H273.3V231.5H265.5zM288.4 231.3H296.2V239.2H288.4zM280.7 246.7H288.6V254.5H280.7zM242.5 254.3H250.4V262.2H242.5zM227.3 262.0H235.1V269.8H227.3zM250.2 262.0H265.7V269.8H250.2zM242.5 269.6H258.0V277.5H242.5zM288.4 269.6H296.2V277.5H288.4zM189.1 277.3H196.9V285.1H189.1zM173.8 284.9H196.9V292.8H173.8zM166.1 292.6H174.0V300.4H166.1zM250.2 292.6H258.0V300.4H250.2zM21.0 345.9H28.8V353.7H21.0zM105.0 414.0H112.9V421.8H105.0zM105.0 421.6H112.9V429.3H105.0z"/><path fill="#ffa000" d="M341.9 100.2H349.7V108.1H341.9zM318.9 115.7H326.8V123.6H318.9z"/><path fill="#00009f" d="M143.2 123.4H151.1V131.4H143.2zM150.9 162.1H158.7V170.0H150.9z"/><path fill="#ff3000" d="M288.4 277.3H296.2V285.1H288.4zM334.2 292.6H342.1V300.4H334.2zM219.6 330.7H227.5V338.5H219.6z"/><path fill="#ff7000" d="M288.4 284.9H296.2V292.8H288.4z"/><path fill="#ff0000" d="M334.2 284.9H342.1V292.8H334.2zM318.9 307.8H326.8V315.6H318.9z"/><path fill="#ff5000" d="M288.4 292.6H296.2V300.4H288.4zM288.4 323.1H296.2V330.9H288.4z"/><path fill="#ff8f00" d="M288.4 300.2H296.2V308.0H288.4z"/><path fill="#ff1000" d="M326.6 300.2H334.4V308.0H326.6zM288.4 307.8H296.2V315.6H288.4zM326.6 307.8H334.4V315.6H326.6zM212.0 330.7H219.8V338.5H212.0z"/><path fill="#ffcf00" d="M204.3 315.4H212.2V323.3H204.3z"/><path fill="#ef0000" d="M250.2 323.1H258.0V330.9H250.2zM227.3 338.3H235.1V346.1H227.3zM273.1 361.1H280.9V368.8H273.1z"/><path fill="#cf0000" d="M196.7 330.7H204.5V338.5H196.7zM280.7 338.3H288.6V346.1H280.7zM288.4 345.9H296.2V353.7H288.4z"/><path fill="#af0000" d="M288.4 338.3H296.2V346.1H288.4zM273.1 345.9H280.9V353.7H273.1zM280.7 353.5H288.6V361.3H280.7z"/><path fill="#8f0000" d="M280.7 345.9H288.6V353.7H280.7zM273.1 353.5H280.9V361.3H273.1zM227.3 361.1H235.1V368.8H227.3zM280.7 361.1H288.6V368.8H280.7z"/><path fill="#9f0000" d="M288.4 353.5H296.2V361.3H288.4zM265.5 361.1H273.3V368.8H265.5zM219.6 368.6H227.5V376.4H219.6z"/><path fill="#bf0000" d="M234.9 361.1H242.7V368.8H234.9z"/></g><use href="#landg"/><path d="M274.0,-0.3 L282.7,29.8 L278.3,53.4 L274.0,62.0 L250.4,68.5 L243.9,79.3 L243.9,100.8 L250.4,115.8 L265.4,124.4 L274.0,126.6 L278.3,148.1 L271.9,158.9 L282.7,163.2 L278.3,180.4 L261.1,184.7 L276.2,191.1 L278.3,217.6" fill="none" stroke="#000" stroke-width="1.0"/><path d="M82.6,77.1 L91.2,87.9 L95.5,105.1 L101.9,122.3" fill="none" stroke="#000" stroke-width="1.0"/><path d="M278.3,207.5 L265.4,220.4 L259.0,231.2 L269.7,235.5 L261.1,250.5 L269.7,261.3 L254.7,263.4 L233.2,265.6 L220.3,272.0 L211.7,274.2 L198.7,269.9 L181.5,272.0 L168.6,278.5 L157.9,276.3 L160.0,291.4 L168.6,293.6" fill="none" stroke="#000" stroke-width="1.0"/><path d="M175.1,278.5 L168.6,293.6 L168.6,297.9" fill="none" stroke="#000" stroke-width="1.0"/><path d="M175.1,293.6 L183.7,300.0" fill="none" stroke="#000" stroke-width="1.0"/><path d="M147.1,338.7 L158.9,330.1" fill="none" stroke="#000" stroke-width="1.0"/><path d="M13.7,375.3 L28.8,383.9 L43.8,377.5 L39.5,371.0" fill="none" stroke="#000" stroke-width="1.0"/><text x="0" y="0" font-size="14" transform="translate(278.3,21.2) rotate(80)" text-anchor="middle" dy="5">1.25</text><text x="0" y="0" font-size="14" transform="translate(274.0,198.7) rotate(80)" text-anchor="middle" dy="5">1.25</text><text x="0" y="0" font-size="14" transform="translate(186.9,289.3) rotate(50)" text-anchor="middle" dy="5">1.25</text><text x="0" y="0" font-size="14" transform="translate(28.8,367.8) rotate(-15)" text-anchor="middle" dy="5">1.25</text><text x="0" y="0" font-size="14" transform="translate(93.3,98.6) rotate(70)" text-anchor="middle" dy="5">1.25</text><path d="M58.099999999999994,47.0h17.0M66.6,38.5v17.0M60.599999999999994,41.0l12.0,12.0M60.599999999999994,53.0l12.0,-12.0" stroke="#f00" stroke-width="1.1" fill="none"/><path d="M96.0,157.5h17.0M104.5,149.0v17.0M98.5,151.5l12.0,12.0M98.5,163.5l12.0,-12.0" stroke="#f00" stroke-width="1.1" fill="none"/><path d="M104.8,250h17.0M113.3,241.5v17.0M107.3,244.0l12.0,12.0M107.3,256.0l12.0,-12.0" stroke="#f00" stroke-width="1.1" fill="none"/><path d="M53.5,271h17.0M62,262.5v17.0M56.0,265.0l12.0,12.0M56.0,277.0l12.0,-12.0" stroke="#f00" stroke-width="1.1" fill="none"/><path d="M1.0,320.2h17.0M9.5,311.7v17.0M3.5,314.2l12.0,12.0M3.5,326.2l12.0,-12.0" stroke="#f00" stroke-width="1.1" fill="none"/></g><rect x="0" y="0" width="348" height="427.5" fill="none" stroke="#000" stroke-width="1.2"/><rect x="4.1" y="20.2" width="112.5" height="24.5" fill="url(#jetg)" stroke="#262626" stroke-width="1"/><text x="2.8" y="6.8" font-size="16.5" text-anchor="middle" style="fill:#262626">0</text><text x="59.5" y="6.8" font-size="16.5" text-anchor="middle" style="fill:#262626">2</text><text x="115.3" y="6.8" font-size="16.5" text-anchor="middle" style="fill:#262626">4</text><text x="284.5" y="37.2" font-size="20.5">10 km</text><line x1="306" y1="43.2" x2="321" y2="43.2" stroke="#000" stroke-width="4" stroke-linecap="round"/></g><text x="451.0" y="150.3" font-size="22" text-anchor="end">37°N</text><text x="453.0" y="220.55" font-size="16.5" text-anchor="end">30'</text><text x="451.0" y="292.8" font-size="22" text-anchor="end">36°N</text><text x="453.0" y="363.05" font-size="16.5" text-anchor="end">30'</text><text x="451.0" y="435.3" font-size="22" text-anchor="end">35°N</text><text x="453.0" y="505.55" font-size="16.5" text-anchor="end">30'</text><text x="451.0" y="577.8" font-size="22" text-anchor="end">34°N</text><text x="458.5" y="587.2" font-size="16.5" text-anchor="middle">30'</text><text x="519.5" y="591.5" font-size="21" text-anchor="middle">76°W</text><text x="574.5" y="587.2" font-size="16.5" text-anchor="middle">30'</text><text x="635.5" y="591.5" font-size="21" text-anchor="middle">75°W</text><text x="690.5" y="587.2" font-size="16.5" text-anchor="middle">30'</text><text x="751.5" y="591.5" font-size="21" text-anchor="middle">74°W</text><text x="806.5" y="587.2" font-size="16.5" text-anchor="middle">30'</text><g transform="translate(843.5,142.5)"><g clip-path="url(#axclip)"><line x1="58" y1="0" x2="58" y2="427.5" stroke="#c4c4c4" stroke-width="1" stroke-dasharray="2,6"/><line x1="116" y1="0" x2="116" y2="427.5" stroke="#c4c4c4" stroke-width="1" stroke-dasharray="2,6"/><line x1="174" y1="0" x2="174" y2="427.5" stroke="#c4c4c4" stroke-width="1" stroke-dasharray="2,6"/><line x1="232" y1="0" x2="232" y2="427.5" stroke="#c4c4c4" stroke-width="1" stroke-dasharray="2,6"/><line x1="290" y1="0" x2="290" y2="427.5" stroke="#c4c4c4" stroke-width="1" stroke-dasharray="2,6"/><line x1="0" y1="71.25" x2="348" y2="71.25" stroke="#c4c4c4" stroke-width="1" stroke-dasharray="2,6"/><line x1="0" y1="142.5" x2="348" y2="142.5" stroke="#c4c4c4" stroke-width="1" stroke-dasharray="2,6"/><line x1="0" y1="213.75" x2="348" y2="213.75" stroke="#c4c4c4" stroke-width="1" stroke-dasharray="2,6"/><line x1="0" y1="285.0" x2="348" y2="285.0" stroke="#c4c4c4" stroke-width="1" stroke-dasharray="2,6"/><line x1="0" y1="356.25" x2="348" y2="356.25" stroke="#c4c4c4" stroke-width="1" stroke-dasharray="2,6"/><g shape-rendering="crispEdges"><path fill="#0050ff" d="M66.8 -1.2H74.7V6.8H66.8zM227.3 -1.2H235.1V6.8H227.3zM242.5 -1.2H250.4V6.8H242.5zM273.1 -1.2H280.9V6.8H273.1zM311.3 -1.2H319.1V6.8H311.3zM173.8 6.6H181.6V14.6H173.8zM318.9 14.4H326.8V22.5H318.9zM265.5 22.3H273.3V30.3H265.5zM288.4 30.1H296.2V38.1H288.4zM265.5 37.9H288.6V45.9H265.5zM311.3 53.5H319.1V61.5H311.3zM89.7 76.8H97.6V84.8H89.7zM303.7 76.8H311.5V84.8H303.7zM219.6 84.6H227.5V92.6H219.6zM196.7 92.4H204.5V100.4H196.7zM265.5 92.4H280.9V100.4H265.5zM303.7 92.4H311.5V100.4H303.7zM296.0 107.9H303.9V115.9H296.0zM250.2 115.7H258.0V123.6H250.2zM273.1 115.7H288.6V123.6H273.1zM257.8 123.4H273.3V131.4H257.8zM273.1 131.2H280.9V139.1H273.1zM250.2 138.9H258.0V146.8H250.2zM265.5 138.9H273.3V146.8H265.5zM265.5 146.6H273.3V154.6H265.5zM280.7 146.6H296.2V154.6H280.7zM280.7 154.4H288.6V162.3H280.7zM242.5 169.8H250.4V177.7H242.5zM257.8 169.8H265.7V177.7H257.8zM280.7 169.8H288.6V177.7H280.7zM120.3 177.5H128.1V185.4H120.3zM280.7 177.5H288.6V185.4H280.7zM250.2 185.2H258.0V193.1H250.2zM204.3 192.9H212.2V200.8H204.3zM257.8 192.9H265.7V200.8H257.8zM280.7 200.6H288.6V208.5H280.7zM280.7 208.3H288.6V216.2H280.7zM334.2 208.3H342.1V216.2H334.2zM250.2 216.0H258.0V223.9H250.2zM273.1 216.0H280.9V223.9H273.1zM288.4 216.0H296.2V223.9H288.4zM303.7 216.0H311.5V223.9H303.7zM318.9 216.0H326.8V223.9H318.9zM334.2 231.3H342.1V239.2H334.2zM334.2 239.0H342.1V246.9H334.2zM265.5 246.7H273.3V254.5H265.5zM334.2 246.7H342.1V254.5H334.2zM326.6 254.3H334.4V262.2H326.6zM257.8 262.0H265.7V269.8H257.8zM273.1 262.0H280.9V269.8H273.1zM242.5 269.6H250.4V277.5H242.5zM257.8 269.6H273.3V277.5H257.8zM280.7 269.6H288.6V277.5H280.7zM242.5 277.3H250.4V285.1H242.5zM189.1 307.8H196.9V315.6H189.1zM82.1 338.3H89.9V346.1H82.1zM51.5 345.9H59.4V353.7H51.5zM21.0 353.5H28.8V361.3H21.0zM43.9 353.5H51.7V361.3H43.9zM66.8 353.5H74.7V361.3H66.8zM82.1 361.1H89.9V368.8H82.1zM74.5 368.6H82.3V376.4H74.5zM36.3 376.2H44.1V384.0H36.3zM43.9 383.8H51.7V391.6H43.9zM21.0 391.4H28.8V399.1H21.0z"/><path fill="#0060ff" d="M74.5 -1.2H82.3V6.8H74.5zM135.6 -1.2H151.1V6.8H135.6zM250.2 -1.2H258.0V6.8H250.2zM127.9 14.4H135.8V22.5H127.9zM250.2 22.3H258.0V30.3H250.2zM196.7 45.7H204.5V53.7H196.7zM212.0 45.7H219.8V53.7H212.0zM250.2 53.5H258.0V61.5H250.2zM303.7 53.5H311.5V61.5H303.7zM189.1 61.3H196.9V69.3H189.1zM204.3 61.3H212.2V69.3H204.3zM234.9 61.3H242.7V69.3H234.9zM303.7 61.3H311.5V69.3H303.7zM296.0 69.1H303.9V77.0H296.0zM212.0 84.6H219.8V92.6H212.0zM273.1 84.6H280.9V92.6H273.1zM257.8 107.9H265.7V115.9H257.8zM196.7 131.2H204.5V139.1H196.7zM250.2 131.2H258.0V139.1H250.2zM288.4 138.9H296.2V146.8H288.4zM219.6 154.4H227.5V162.3H219.6zM181.4 177.5H189.3V185.4H181.4zM234.9 185.2H242.7V193.1H234.9zM280.7 192.9H288.6V200.8H280.7zM227.3 200.6H235.1V208.5H227.3zM212.0 216.0H219.8V223.9H212.0zM326.6 231.3H334.4V239.2H326.6zM318.9 254.3H326.8V262.2H318.9zM242.5 262.0H250.4V269.8H242.5zM265.5 262.0H273.3V269.8H265.5zM150.9 315.4H158.7V323.3H150.9zM150.9 323.1H158.7V330.9H150.9zM66.8 345.9H74.7V353.7H66.8zM36.3 353.5H44.1V361.3H36.3zM51.5 353.5H59.4V361.3H51.5zM5.7 361.1H21.2V368.8H5.7zM43.9 361.1H74.7V368.8H43.9zM43.9 368.6H51.7V376.4H43.9zM82.1 368.6H89.9V376.4H82.1zM5.7 376.2H21.2V384.0H5.7zM66.8 376.2H82.3V384.0H66.8zM51.5 383.8H59.4V391.6H51.5zM13.3 391.4H21.2V399.1H13.3z"/><path fill="#0010ff" d="M82.1 -1.2H89.9V6.8H82.1zM97.4 -1.2H105.2V6.8H97.4zM66.8 6.6H74.7V14.6H66.8zM105.0 6.6H112.9V14.6H105.0zM341.9 6.6H349.7V14.6H341.9zM112.7 14.4H120.5V22.5H112.7zM273.1 14.4H280.9V22.5H273.1zM280.7 22.3H288.6V30.3H280.7zM341.9 22.3H349.7V30.3H341.9zM326.6 37.9H334.4V45.9H326.6zM273.1 53.5H280.9V61.5H273.1zM318.9 53.5H326.8V61.5H318.9zM341.9 53.5H349.7V61.5H341.9zM82.1 69.1H89.9V77.0H82.1zM280.7 69.1H288.6V77.0H280.7zM311.3 69.1H319.1V77.0H311.3zM311.3 76.8H319.1V84.8H311.3zM341.9 76.8H349.7V84.8H341.9zM89.7 84.6H97.6V92.6H89.7zM296.0 92.4H303.9V100.4H296.0zM318.9 92.4H326.8V100.4H318.9zM341.9 92.4H349.7V100.4H341.9zM89.7 100.2H97.6V108.1H89.7zM334.2 100.2H342.1V108.1H334.2zM288.4 107.9H296.2V115.9H288.4zM311.3 107.9H319.1V115.9H311.3zM341.9 115.7H349.7V123.6H341.9zM318.9 123.4H334.4V131.4H318.9zM303.7 131.2H311.5V139.1H303.7zM311.3 138.9H319.1V146.8H311.3zM273.1 146.6H280.9V154.6H273.1zM242.5 162.1H250.4V170.0H242.5zM257.8 162.1H265.7V170.0H257.8zM288.4 169.8H296.2V177.7H288.4zM250.2 177.5H258.0V185.4H250.2zM303.7 177.5H311.5V185.4H303.7zM334.2 185.2H342.1V193.1H334.2zM303.7 192.9H311.5V200.8H303.7zM326.6 192.9H334.4V200.8H326.6zM334.2 200.6H342.1V208.5H334.2zM311.3 216.0H319.1V223.9H311.3zM334.2 216.0H342.1V223.9H334.2zM296.0 223.7H303.9V231.5H296.0zM257.8 231.3H265.7V239.2H257.8zM273.1 231.3H288.6V239.2H273.1zM318.9 231.3H326.8V239.2H318.9zM341.9 231.3H349.7V239.2H341.9zM265.5 239.0H273.3V246.9H265.5zM280.7 239.0H288.6V246.9H280.7zM311.3 239.0H319.1V246.9H311.3zM288.4 246.7H296.2V254.5H288.4zM341.9 246.7H349.7V254.5H341.9zM89.7 254.3H97.6V262.2H89.7zM234.9 254.3H242.7V262.2H234.9zM341.9 254.3H349.7V262.2H341.9zM74.5 262.0H82.3V269.8H74.5zM303.7 262.0H311.5V269.8H303.7zM318.9 262.0H326.8V269.8H318.9zM341.9 262.0H349.7V269.8H341.9zM89.7 277.3H97.6V285.1H89.7zM212.0 277.3H219.8V285.1H212.0zM280.7 277.3H288.6V285.1H280.7zM311.3 277.3H319.1V285.1H311.3zM326.6 277.3H334.4V285.1H326.6zM204.3 284.9H212.2V292.8H204.3zM219.6 284.9H235.1V292.8H219.6zM242.5 284.9H250.4V292.8H242.5zM341.9 284.9H349.7V292.8H341.9zM97.4 292.6H105.2V300.4H97.4zM204.3 292.6H212.2V300.4H204.3zM219.6 292.6H227.5V300.4H219.6zM265.5 292.6H273.3V300.4H265.5zM326.6 292.6H334.4V300.4H326.6zM51.5 300.2H59.4V308.0H51.5zM105.0 300.2H112.9V308.0H105.0zM227.3 300.2H242.7V308.0H227.3zM280.7 300.2H288.6V308.0H280.7zM311.3 300.2H319.1V308.0H311.3zM51.5 307.8H59.4V315.6H51.5zM82.1 307.8H89.9V315.6H82.1zM204.3 307.8H212.2V315.6H204.3zM227.3 307.8H235.1V315.6H227.3zM280.7 307.8H288.6V315.6H280.7zM296.0 307.8H303.9V315.6H296.0zM181.4 315.4H189.3V323.3H181.4zM196.7 315.4H204.5V323.3H196.7zM234.9 315.4H242.7V323.3H234.9zM280.7 315.4H288.6V323.3H280.7zM318.9 315.4H326.8V323.3H318.9zM105.0 323.1H112.9V330.9H105.0zM127.9 323.1H135.8V330.9H127.9zM189.1 323.1H196.9V330.9H189.1zM74.5 330.7H82.3V338.5H74.5zM181.4 330.7H189.3V338.5H181.4zM257.8 330.7H265.7V338.5H257.8zM311.3 330.7H326.8V338.5H311.3zM51.5 338.3H59.4V346.1H51.5zM143.2 338.3H151.1V346.1H143.2zM158.5 338.3H166.3V346.1H158.5zM204.3 338.3H212.2V346.1H204.3zM234.9 338.3H250.4V346.1H234.9zM303.7 338.3H311.5V346.1H303.7zM173.8 345.9H181.6V353.7H173.8zM173.8 353.5H181.6V361.3H173.8zM227.3 353.5H235.1V361.3H227.3zM173.8 361.1H181.6V368.8H173.8zM219.6 361.1H227.5V368.8H219.6zM242.5 361.1H250.4V368.8H242.5zM196.7 368.6H204.5V376.4H196.7zM219.6 368.6H227.5V376.4H219.6zM234.9 368.6H242.7V376.4H234.9zM250.2 368.6H258.0V376.4H250.2zM204.3 376.2H212.2V384.0H204.3zM234.9 376.2H242.7V384.0H234.9zM196.7 383.8H204.5V391.6H196.7zM227.3 383.8H235.1V391.6H227.3zM257.8 383.8H265.7V391.6H257.8zM204.3 391.4H212.2V399.1H204.3zM234.9 391.4H242.7V399.1H234.9zM28.6 398.9H36.5V406.7H28.6z"/><path fill="#0000ff" d="M89.7 -1.2H97.6V6.8H89.7zM265.5 -1.2H273.3V6.8H265.5zM280.7 6.6H288.6V14.6H280.7zM334.2 6.6H342.1V14.6H334.2zM303.7 14.4H311.5V22.5H303.7zM105.0 22.3H112.9V30.3H105.0zM97.4 30.1H105.2V38.1H97.4zM280.7 30.1H288.6V38.1H280.7zM334.2 30.1H342.1V38.1H334.2zM334.2 37.9H342.1V45.9H334.2zM74.5 45.7H82.3V53.7H74.5zM318.9 45.7H326.8V53.7H318.9zM326.6 61.3H334.4V69.3H326.6zM341.9 61.3H349.7V69.3H341.9zM318.9 84.6H326.8V92.6H318.9zM341.9 84.6H349.7V92.6H341.9zM326.6 92.4H334.4V100.4H326.6zM318.9 100.2H326.8V108.1H318.9zM334.2 107.9H349.7V115.9H334.2zM318.9 115.7H326.8V123.6H318.9zM311.3 123.4H319.1V131.4H311.3zM334.2 123.4H342.1V131.4H334.2zM303.7 138.9H311.5V146.8H303.7zM318.9 138.9H326.8V146.8H318.9zM296.0 146.6H303.9V154.6H296.0zM341.9 146.6H349.7V154.6H341.9zM303.7 154.4H311.5V162.3H303.7zM318.9 154.4H334.4V162.3H318.9zM303.7 162.1H311.5V170.0H303.7zM326.6 162.1H334.4V170.0H326.6zM341.9 162.1H349.7V170.0H341.9zM112.7 169.8H120.5V177.7H112.7zM311.3 169.8H326.8V177.7H311.3zM334.2 169.8H342.1V177.7H334.2zM311.3 177.5H334.4V185.4H311.3zM120.3 185.2H128.1V193.1H120.3zM303.7 185.2H311.5V193.1H303.7zM288.4 192.9H296.2V200.8H288.4zM318.9 192.9H326.8V200.8H318.9zM341.9 192.9H349.7V200.8H341.9zM296.0 200.6H303.9V208.5H296.0zM334.2 254.3H342.1V262.2H334.2zM334.2 262.0H342.1V269.8H334.2zM227.3 269.6H235.1V277.5H227.3zM296.0 269.6H303.9V277.5H296.0zM334.2 269.6H349.7V277.5H334.2zM97.4 277.3H120.5V285.1H97.4zM89.7 284.9H105.2V292.8H89.7zM273.1 284.9H280.9V292.8H273.1zM288.4 284.9H296.2V292.8H288.4zM311.3 284.9H319.1V292.8H311.3zM334.2 284.9H342.1V292.8H334.2zM43.9 292.6H51.7V300.4H43.9zM105.0 292.6H112.9V300.4H105.0zM250.2 292.6H265.7V300.4H250.2zM280.7 292.6H288.6V300.4H280.7zM311.3 292.6H319.1V300.4H311.3zM334.2 292.6H342.1V300.4H334.2zM189.1 300.2H196.9V308.0H189.1zM288.4 300.2H296.2V308.0H288.4zM334.2 300.2H342.1V308.0H334.2zM112.7 307.8H120.5V315.6H112.7zM127.9 307.8H135.8V315.6H127.9zM242.5 307.8H250.4V315.6H242.5zM265.5 307.8H273.3V315.6H265.5zM311.3 307.8H319.1V315.6H311.3zM74.5 315.4H82.3V323.3H74.5zM89.7 315.4H97.6V323.3H89.7zM166.1 315.4H174.0V323.3H166.1zM212.0 315.4H219.8V323.3H212.0zM250.2 315.4H258.0V323.3H250.2zM265.5 315.4H273.3V323.3H265.5zM303.7 315.4H311.5V323.3H303.7zM66.8 323.1H74.7V330.9H66.8zM173.8 323.1H181.6V330.9H173.8zM219.6 323.1H227.5V330.9H219.6zM242.5 323.1H250.4V330.9H242.5zM257.8 323.1H265.7V330.9H257.8zM280.7 323.1H288.6V330.9H280.7zM303.7 323.1H311.5V330.9H303.7zM66.8 330.7H74.7V338.5H66.8zM89.7 330.7H112.9V338.5H89.7zM127.9 330.7H143.4V338.5H127.9zM173.8 330.7H181.6V338.5H173.8zM189.1 330.7H196.9V338.5H189.1zM204.3 330.7H212.2V338.5H204.3zM242.5 330.7H250.4V338.5H242.5zM5.7 338.3H13.5V346.1H5.7zM28.6 338.3H44.1V346.1H28.6zM150.9 338.3H158.7V346.1H150.9zM166.1 338.3H174.0V346.1H166.1zM227.3 338.3H235.1V346.1H227.3zM250.2 338.3H258.0V346.1H250.2zM296.0 338.3H303.9V346.1H296.0zM135.6 345.9H151.1V353.7H135.6zM204.3 345.9H212.2V353.7H204.3zM227.3 345.9H235.1V353.7H227.3zM257.8 345.9H265.7V353.7H257.8zM311.3 345.9H319.1V353.7H311.3zM158.5 353.5H174.0V361.3H158.5zM189.1 353.5H204.5V361.3H189.1zM143.2 361.1H151.1V368.8H143.2zM166.1 361.1H174.0V368.8H166.1zM189.1 361.1H196.9V368.8H189.1zM227.3 361.1H235.1V368.8H227.3zM273.1 361.1H280.9V368.8H273.1zM296.0 361.1H303.9V368.8H296.0zM150.9 368.6H158.7V376.4H150.9zM173.8 368.6H181.6V376.4H173.8zM212.0 368.6H219.8V376.4H212.0zM242.5 368.6H250.4V376.4H242.5zM212.0 376.2H219.8V384.0H212.0zM257.8 376.2H288.6V384.0H257.8zM219.6 383.8H227.5V391.6H219.6zM242.5 383.8H250.4V391.6H242.5zM265.5 383.8H273.3V391.6H265.5zM36.3 391.4H44.1V399.1H36.3zM219.6 391.4H227.5V399.1H219.6zM242.5 391.4H250.4V399.1H242.5zM219.6 398.9H227.5V406.7H219.6zM257.8 406.5H265.7V414.2H257.8z"/><path fill="#0000df" d="M105.0 -1.2H112.9V6.8H105.0zM341.9 -1.2H349.7V6.8H341.9zM288.4 6.6H296.2V14.6H288.4zM97.4 14.4H105.2V22.5H97.4zM326.6 22.3H334.4V30.3H326.6zM318.9 37.9H326.8V45.9H318.9zM341.9 37.9H349.7V45.9H341.9zM341.9 45.7H349.7V53.7H341.9zM326.6 76.8H334.4V84.8H326.6zM334.2 92.4H342.1V100.4H334.2zM311.3 100.2H319.1V108.1H311.3zM326.6 100.2H334.4V108.1H326.6zM318.9 131.2H326.8V139.1H318.9zM326.6 138.9H342.1V146.8H326.6zM318.9 146.6H326.8V154.6H318.9zM334.2 146.6H342.1V154.6H334.2zM311.3 162.1H326.8V170.0H311.3zM334.2 162.1H342.1V170.0H334.2zM341.9 169.8H349.7V177.7H341.9zM296.0 185.2H303.9V193.1H296.0zM318.9 185.2H326.8V193.1H318.9zM303.7 223.7H311.5V231.5H303.7zM112.7 246.7H120.5V254.5H112.7zM89.7 262.0H105.2V269.8H89.7zM288.4 277.3H296.2V285.1H288.4zM280.7 284.9H288.6V292.8H280.7zM303.7 284.9H311.5V292.8H303.7zM51.5 292.6H59.4V300.4H51.5zM273.1 292.6H280.9V300.4H273.1zM97.4 300.2H105.2V308.0H97.4zM250.2 300.2H258.0V308.0H250.2zM273.1 300.2H280.9V308.0H273.1zM59.2 307.8H67.0V315.6H59.2zM120.3 307.8H128.1V315.6H120.3zM219.6 307.8H227.5V315.6H219.6zM234.9 307.8H242.7V315.6H234.9zM273.1 307.8H280.9V315.6H273.1zM303.7 307.8H311.5V315.6H303.7zM326.6 307.8H334.4V315.6H326.6zM51.5 315.4H59.4V323.3H51.5zM66.8 315.4H74.7V323.3H66.8zM97.4 315.4H112.9V323.3H97.4zM311.3 315.4H319.1V323.3H311.3zM51.5 323.1H59.4V330.9H51.5zM82.1 323.1H89.9V330.9H82.1zM212.0 323.1H219.8V330.9H212.0zM265.5 323.1H273.3V330.9H265.5zM311.3 323.1H319.1V330.9H311.3zM51.5 330.7H59.4V338.5H51.5zM158.5 330.7H166.3V338.5H158.5zM296.0 330.7H311.5V338.5H296.0zM173.8 338.3H181.6V346.1H173.8zM189.1 338.3H196.9V346.1H189.1zM280.7 338.3H288.6V346.1H280.7zM166.1 345.9H174.0V353.7H166.1zM181.4 345.9H189.3V353.7H181.4zM196.7 345.9H204.5V353.7H196.7zM234.9 345.9H242.7V353.7H234.9zM250.2 345.9H258.0V353.7H250.2zM150.9 353.5H158.7V361.3H150.9zM219.6 353.5H227.5V361.3H219.6zM234.9 353.5H242.7V361.3H234.9zM265.5 353.5H280.9V361.3H265.5zM296.0 353.5H311.5V361.3H296.0zM181.4 361.1H189.3V368.8H181.4zM257.8 361.1H265.7V368.8H257.8zM280.7 361.1H288.6V368.8H280.7zM166.1 376.2H174.0V384.0H166.1zM234.9 383.8H242.7V391.6H234.9zM43.9 391.4H51.7V399.1H43.9zM227.3 391.4H235.1V399.1H227.3zM250.2 391.4H258.0V399.1H250.2zM21.0 398.9H28.8V406.7H21.0zM89.7 398.9H97.6V406.7H89.7zM234.9 398.9H242.7V406.7H234.9z"/><path fill="#0000ef" d="M112.7 -1.2H120.5V6.8H112.7zM326.6 -1.2H342.1V6.8H326.6zM112.7 6.6H120.5V14.6H112.7zM326.6 6.6H334.4V14.6H326.6zM105.0 14.4H112.9V22.5H105.0zM326.6 14.4H349.7V22.5H326.6zM97.4 22.3H105.2V30.3H97.4zM334.2 22.3H342.1V30.3H334.2zM341.9 30.1H349.7V38.1H341.9zM326.6 53.5H334.4V61.5H326.6zM82.1 61.3H89.9V69.3H82.1zM273.1 61.3H280.9V69.3H273.1zM334.2 61.3H342.1V69.3H334.2zM318.9 69.1H326.8V77.0H318.9zM341.9 69.1H349.7V77.0H341.9zM318.9 76.8H326.8V84.8H318.9zM82.1 84.6H89.9V92.6H82.1zM311.3 84.6H319.1V92.6H311.3zM311.3 92.4H319.1V100.4H311.3zM341.9 100.2H349.7V108.1H341.9zM318.9 107.9H334.4V115.9H318.9zM341.9 123.4H349.7V131.4H341.9zM341.9 131.2H349.7V139.1H341.9zM303.7 146.6H319.1V154.6H303.7zM326.6 146.6H334.4V154.6H326.6zM311.3 154.4H319.1V162.3H311.3zM296.0 169.8H303.9V177.7H296.0zM296.0 177.5H303.9V185.4H296.0zM341.9 177.5H349.7V185.4H341.9zM273.1 185.2H280.9V193.1H273.1zM326.6 185.2H334.4V193.1H326.6zM296.0 192.9H303.9V200.8H296.0zM311.3 192.9H319.1V200.8H311.3zM288.4 200.6H296.2V208.5H288.4zM97.4 254.3H105.2V262.2H97.4zM326.6 262.0H334.4V269.8H326.6zM311.3 269.6H319.1V277.5H311.3zM303.7 277.3H311.5V285.1H303.7zM341.9 277.3H349.7V285.1H341.9zM51.5 284.9H59.4V292.8H51.5zM112.7 284.9H120.5V292.8H112.7zM265.5 284.9H273.3V292.8H265.5zM296.0 284.9H303.9V292.8H296.0zM318.9 284.9H334.4V292.8H318.9zM112.7 292.6H120.5V300.4H112.7zM296.0 292.6H311.5V300.4H296.0zM318.9 292.6H326.8V300.4H318.9zM341.9 292.6H349.7V300.4H341.9zM89.7 300.2H97.6V308.0H89.7zM112.7 300.2H128.1V308.0H112.7zM265.5 300.2H273.3V308.0H265.5zM303.7 300.2H311.5V308.0H303.7zM318.9 300.2H334.4V308.0H318.9zM257.8 307.8H265.7V315.6H257.8zM334.2 307.8H342.1V315.6H334.2zM59.2 315.4H67.0V323.3H59.2zM82.1 315.4H89.9V323.3H82.1zM112.7 315.4H135.8V323.3H112.7zM257.8 315.4H265.7V323.3H257.8zM288.4 315.4H303.9V323.3H288.4zM326.6 315.4H334.4V323.3H326.6zM59.2 323.1H67.0V330.9H59.2zM89.7 323.1H105.2V330.9H89.7zM120.3 323.1H128.1V330.9H120.3zM181.4 323.1H189.3V330.9H181.4zM196.7 323.1H204.5V330.9H196.7zM234.9 323.1H242.7V330.9H234.9zM273.1 323.1H280.9V330.9H273.1zM288.4 323.1H303.9V330.9H288.4zM326.6 323.1H334.4V330.9H326.6zM59.2 330.7H67.0V338.5H59.2zM150.9 330.7H158.7V338.5H150.9zM166.1 330.7H174.0V338.5H166.1zM196.7 330.7H204.5V338.5H196.7zM219.6 330.7H235.1V338.5H219.6zM265.5 330.7H273.3V338.5H265.5zM135.6 338.3H143.4V346.1H135.6zM219.6 338.3H227.5V346.1H219.6zM265.5 338.3H273.3V346.1H265.5zM288.4 338.3H296.2V346.1H288.4zM311.3 338.3H326.8V346.1H311.3zM5.7 345.9H13.5V353.7H5.7zM36.3 345.9H51.7V353.7H36.3zM189.1 345.9H196.9V353.7H189.1zM219.6 345.9H227.5V353.7H219.6zM242.5 345.9H250.4V353.7H242.5zM288.4 345.9H311.5V353.7H288.4zM181.4 353.5H189.3V361.3H181.4zM204.3 353.5H219.8V361.3H204.3zM257.8 353.5H265.7V361.3H257.8zM280.7 353.5H288.6V361.3H280.7zM212.0 361.1H219.8V368.8H212.0zM234.9 361.1H242.7V368.8H234.9zM288.4 361.1H296.2V368.8H288.4zM204.3 368.6H212.2V376.4H204.3zM257.8 368.6H273.3V376.4H257.8zM173.8 376.2H204.5V384.0H173.8zM219.6 376.2H227.5V384.0H219.6zM242.5 376.2H258.0V384.0H242.5zM181.4 383.8H189.3V391.6H181.4zM212.0 383.8H219.8V391.6H212.0zM250.2 383.8H258.0V391.6H250.2zM257.8 391.4H273.3V399.1H257.8zM5.7 398.9H13.5V406.7H5.7zM242.5 398.9H250.4V406.7H242.5zM265.5 398.9H273.3V406.7H265.5zM5.7 406.5H13.5V414.2H5.7zM265.5 406.5H273.3V414.2H265.5z"/><path fill="#0080ff" d="M120.3 -1.2H128.1V6.8H120.3zM150.9 -1.2H174.0V6.8H150.9zM219.6 -1.2H227.5V6.8H219.6zM234.9 -1.2H242.7V6.8H234.9zM120.3 6.6H135.8V14.6H120.3zM196.7 6.6H204.5V14.6H196.7zM212.0 6.6H219.8V14.6H212.0zM234.9 6.6H265.7V14.6H234.9zM120.3 14.4H128.1V22.5H120.3zM166.1 14.4H181.6V22.5H166.1zM219.6 14.4H235.1V22.5H219.6zM250.2 14.4H258.0V22.5H250.2zM135.6 22.3H143.4V30.3H135.6zM173.8 22.3H181.6V30.3H173.8zM227.3 22.3H242.7V30.3H227.3zM158.5 30.1H174.0V38.1H158.5zM181.4 30.1H189.3V38.1H181.4zM189.1 37.9H196.9V45.9H189.1zM212.0 37.9H219.8V45.9H212.0zM250.2 37.9H258.0V45.9H250.2zM219.6 45.7H227.5V53.7H219.6zM219.6 53.5H227.5V61.5H219.6zM234.9 53.5H250.4V61.5H234.9zM257.8 53.5H265.7V61.5H257.8zM189.1 69.1H219.8V77.0H189.1zM250.2 69.1H258.0V77.0H250.2zM234.9 76.8H242.7V84.8H234.9zM257.8 76.8H265.7V84.8H257.8zM204.3 84.6H212.2V92.6H204.3zM227.3 84.6H235.1V92.6H227.3zM204.3 100.2H212.2V108.1H204.3zM212.0 107.9H227.5V115.9H212.0zM219.6 115.7H242.7V123.6H219.6zM212.0 123.4H219.8V131.4H212.0zM227.3 123.4H235.1V131.4H227.3zM242.5 123.4H250.4V131.4H242.5zM181.4 131.2H189.3V139.1H181.4zM204.3 131.2H212.2V139.1H204.3zM227.3 131.2H235.1V139.1H227.3zM196.7 138.9H204.5V146.8H196.7zM204.3 146.6H219.8V154.6H204.3zM227.3 154.4H235.1V162.3H227.3zM273.1 154.4H280.9V162.3H273.1zM234.9 162.1H242.7V170.0H234.9zM181.4 169.8H189.3V177.7H181.4zM196.7 169.8H204.5V177.7H196.7zM219.6 169.8H227.5V177.7H219.6zM234.9 169.8H242.7V177.7H234.9zM173.8 177.5H181.6V185.4H173.8zM196.7 177.5H204.5V185.4H196.7zM212.0 177.5H219.8V185.4H212.0zM173.8 185.2H181.6V193.1H173.8zM219.6 185.2H227.5V193.1H219.6zM181.4 192.9H196.9V200.8H181.4zM196.7 200.6H204.5V208.5H196.7zM120.3 208.3H128.1V216.2H120.3zM204.3 208.3H212.2V216.2H204.3zM242.5 208.3H250.4V216.2H242.5zM242.5 216.0H250.4V223.9H242.5zM204.3 223.7H212.2V231.5H204.3zM234.9 231.3H242.7V239.2H234.9zM219.6 246.7H227.5V254.5H219.6zM181.4 254.3H189.3V262.2H181.4zM204.3 254.3H212.2V262.2H204.3zM219.6 262.0H227.5V269.8H219.6zM166.1 269.6H174.0V277.5H166.1zM196.7 269.6H204.5V277.5H196.7zM212.0 269.6H219.8V277.5H212.0zM120.3 277.3H128.1V285.1H120.3zM120.3 284.9H128.1V292.8H120.3zM166.1 284.9H174.0V292.8H166.1zM196.7 284.9H204.5V292.8H196.7zM158.5 292.6H174.0V300.4H158.5zM181.4 292.6H189.3V300.4H181.4zM166.1 307.8H174.0V315.6H166.1zM82.1 353.5H89.9V361.3H82.1zM36.3 361.1H44.1V368.8H36.3zM66.8 368.6H74.7V376.4H66.8zM5.7 383.8H13.5V391.6H5.7zM28.6 383.8H36.5V391.6H28.6zM59.2 383.8H67.0V391.6H59.2zM28.6 391.4H36.5V399.1H28.6z"/><path fill="#0070ff" d="M127.9 -1.2H135.8V6.8H127.9zM181.4 -1.2H189.3V6.8H181.4zM212.0 -1.2H219.8V6.8H212.0zM143.2 6.6H151.1V14.6H143.2zM273.1 6.6H280.9V14.6H273.1zM189.1 14.4H196.9V22.5H189.1zM234.9 14.4H250.4V22.5H234.9zM257.8 14.4H265.7V22.5H257.8zM158.5 22.3H166.3V30.3H158.5zM181.4 22.3H189.3V30.3H181.4zM204.3 22.3H212.2V30.3H204.3zM196.7 30.1H204.5V38.1H196.7zM212.0 30.1H219.8V38.1H212.0zM227.3 30.1H235.1V38.1H227.3zM318.9 30.1H326.8V38.1H318.9zM227.3 37.9H235.1V45.9H227.3zM242.5 37.9H250.4V45.9H242.5zM189.1 45.7H196.9V53.7H189.1zM227.3 45.7H235.1V53.7H227.3zM311.3 45.7H319.1V53.7H311.3zM227.3 61.3H235.1V69.3H227.3zM257.8 61.3H265.7V69.3H257.8zM212.0 76.8H219.8V84.8H212.0zM227.3 76.8H235.1V84.8H227.3zM196.7 84.6H204.5V92.6H196.7zM234.9 84.6H242.7V92.6H234.9zM250.2 84.6H265.7V92.6H250.2zM212.0 92.4H219.8V100.4H212.0zM227.3 92.4H235.1V100.4H227.3zM212.0 100.2H219.8V108.1H212.0zM250.2 107.9H258.0V115.9H250.2zM196.7 123.4H204.5V131.4H196.7zM219.6 123.4H227.5V131.4H219.6zM189.1 131.2H196.9V139.1H189.1zM242.5 131.2H250.4V139.1H242.5zM181.4 138.9H189.3V146.8H181.4zM234.9 138.9H242.7V146.8H234.9zM181.4 146.6H189.3V154.6H181.4zM196.7 146.6H204.5V154.6H196.7zM234.9 146.6H242.7V154.6H234.9zM181.4 162.1H189.3V170.0H181.4zM219.6 162.1H227.5V170.0H219.6zM250.2 162.1H258.0V170.0H250.2zM189.1 169.8H196.9V177.7H189.1zM265.5 169.8H273.3V177.7H265.5zM204.3 177.5H212.2V185.4H204.3zM227.3 177.5H235.1V185.4H227.3zM189.1 185.2H196.9V193.1H189.1zM204.3 185.2H219.8V193.1H204.3zM219.6 192.9H227.5V200.8H219.6zM265.5 192.9H273.3V200.8H265.5zM189.1 200.6H196.9V208.5H189.1zM234.9 200.6H242.7V208.5H234.9zM303.7 200.6H311.5V208.5H303.7zM212.0 208.3H219.8V216.2H212.0zM212.0 223.7H219.8V231.5H212.0zM273.1 254.3H280.9V262.2H273.1zM227.3 262.0H235.1V269.8H227.3zM250.2 269.6H258.0V277.5H250.2zM196.7 277.3H212.2V285.1H196.7zM181.4 284.9H189.3V292.8H181.4zM166.1 300.2H174.0V308.0H166.1zM158.5 307.8H166.3V315.6H158.5zM74.5 338.3H82.3V346.1H74.5zM82.1 345.9H89.9V353.7H82.1zM13.3 353.5H21.2V361.3H13.3zM28.6 353.5H36.5V361.3H28.6zM74.5 361.1H82.3V368.8H74.5zM5.7 368.6H13.5V376.4H5.7zM51.5 368.6H59.4V376.4H51.5zM21.0 376.2H36.5V384.0H21.0zM82.1 376.2H89.9V384.0H82.1zM13.3 383.8H28.8V391.6H13.3zM36.3 383.8H44.1V391.6H36.3z"/><path fill="#008fff" d="M173.8 -1.2H181.6V6.8H173.8zM189.1 -1.2H204.5V6.8H189.1zM150.9 6.6H166.3V14.6H150.9zM204.3 6.6H212.2V14.6H204.3zM227.3 6.6H235.1V14.6H227.3zM143.2 14.4H151.1V22.5H143.2zM181.4 14.4H189.3V22.5H181.4zM212.0 14.4H219.8V22.5H212.0zM166.1 22.3H174.0V30.3H166.1zM212.0 22.3H227.5V30.3H212.0zM257.8 22.3H265.7V30.3H257.8zM173.8 30.1H181.6V38.1H173.8zM242.5 30.1H258.0V38.1H242.5zM257.8 37.9H265.7V45.9H257.8zM204.3 45.7H212.2V53.7H204.3zM257.8 45.7H265.7V53.7H257.8zM227.3 53.5H235.1V61.5H227.3zM196.7 61.3H204.5V69.3H196.7zM212.0 61.3H219.8V69.3H212.0zM242.5 61.3H250.4V69.3H242.5zM242.5 69.1H250.4V77.0H242.5zM204.3 76.8H212.2V84.8H204.3zM219.6 76.8H227.5V84.8H219.6zM250.2 76.8H258.0V84.8H250.2zM219.6 92.4H227.5V100.4H219.6zM234.9 92.4H250.4V100.4H234.9zM234.9 100.2H258.0V108.1H234.9zM204.3 107.9H212.2V115.9H204.3zM204.3 115.7H219.8V123.6H204.3zM204.3 123.4H212.2V131.4H204.3zM234.9 123.4H242.7V131.4H234.9zM219.6 131.2H227.5V139.1H219.6zM204.3 138.9H235.1V146.8H204.3zM227.3 146.6H235.1V154.6H227.3zM196.7 154.4H219.8V162.3H196.7zM173.8 162.1H181.6V170.0H173.8zM204.3 162.1H212.2V170.0H204.3zM173.8 169.8H181.6V177.7H173.8zM196.7 185.2H204.5V193.1H196.7zM227.3 185.2H235.1V193.1H227.3zM196.7 192.9H204.5V200.8H196.7zM227.3 192.9H235.1V200.8H227.3zM120.3 200.6H128.1V208.5H120.3zM204.3 200.6H219.8V208.5H204.3zM242.5 200.6H258.0V208.5H242.5zM189.1 208.3H204.5V216.2H189.1zM227.3 208.3H235.1V216.2H227.3zM250.2 208.3H258.0V216.2H250.2zM120.3 216.0H128.1V223.9H120.3zM196.7 216.0H212.2V223.9H196.7zM234.9 216.0H242.7V223.9H234.9zM196.7 223.7H204.5V231.5H196.7zM219.6 223.7H242.7V231.5H219.6zM196.7 231.3H204.5V239.2H196.7zM212.0 231.3H227.5V239.2H212.0zM242.5 231.3H258.0V239.2H242.5zM189.1 246.7H196.9V254.5H189.1zM227.3 246.7H235.1V254.5H227.3zM173.8 262.0H196.9V269.8H173.8zM212.0 262.0H219.8V269.8H212.0zM112.7 269.6H120.5V277.5H112.7zM181.4 269.6H196.9V277.5H181.4zM204.3 269.6H212.2V277.5H204.3zM181.4 277.3H196.9V285.1H181.4zM120.3 292.6H128.1V300.4H120.3zM189.1 292.6H196.9V300.4H189.1zM74.5 353.5H82.3V361.3H74.5zM28.6 361.1H36.5V368.8H28.6zM59.2 368.6H67.0V376.4H59.2zM51.5 376.2H59.4V384.0H51.5zM5.7 391.4H13.5V399.1H5.7z"/><path fill="#009fff" d="M204.3 -1.2H212.2V6.8H204.3zM257.8 -1.2H265.7V6.8H257.8zM135.6 6.6H143.4V14.6H135.6zM189.1 6.6H196.9V14.6H189.1zM135.6 14.4H143.4V22.5H135.6zM150.9 14.4H158.7V22.5H150.9zM196.7 14.4H204.5V22.5H196.7zM143.2 22.3H158.7V30.3H143.2zM196.7 22.3H204.5V30.3H196.7zM242.5 22.3H250.4V30.3H242.5zM219.6 30.1H227.5V38.1H219.6zM257.8 30.1H265.7V38.1H257.8zM196.7 37.9H212.2V45.9H196.7zM219.6 37.9H227.5V45.9H219.6zM234.9 37.9H242.7V45.9H234.9zM234.9 45.7H258.0V53.7H234.9zM189.1 53.5H219.8V61.5H189.1zM219.6 61.3H227.5V69.3H219.6zM250.2 61.3H258.0V69.3H250.2zM257.8 69.1H265.7V77.0H257.8zM196.7 76.8H204.5V84.8H196.7zM242.5 76.8H250.4V84.8H242.5zM242.5 84.6H250.4V92.6H242.5zM204.3 92.4H212.2V100.4H204.3zM250.2 92.4H258.0V100.4H250.2zM219.6 100.2H227.5V108.1H219.6zM234.9 107.9H250.4V115.9H234.9zM196.7 115.7H204.5V123.6H196.7zM189.1 123.4H196.9V131.4H189.1zM234.9 131.2H242.7V139.1H234.9zM219.6 146.6H227.5V154.6H219.6zM189.1 154.4H196.9V162.3H189.1zM234.9 154.4H242.7V162.3H234.9zM196.7 162.1H204.5V170.0H196.7zM227.3 162.1H235.1V170.0H227.3zM204.3 169.8H219.8V177.7H204.3zM227.3 169.8H235.1V177.7H227.3zM189.1 177.5H196.9V185.4H189.1zM219.6 177.5H227.5V185.4H219.6zM234.9 177.5H242.7V185.4H234.9zM181.4 185.2H189.3V193.1H181.4zM173.8 192.9H181.6V200.8H173.8zM212.0 192.9H219.8V200.8H212.0zM219.6 200.6H227.5V208.5H219.6zM219.6 208.3H227.5V216.2H219.6zM257.8 216.0H265.7V223.9H257.8zM257.8 223.7H265.7V231.5H257.8zM204.3 231.3H212.2V239.2H204.3zM227.3 231.3H235.1V239.2H227.3zM234.9 239.0H250.4V246.9H234.9zM196.7 246.7H219.8V254.5H196.7zM212.0 254.3H235.1V262.2H212.0zM196.7 262.0H212.2V269.8H196.7zM173.8 269.6H181.6V277.5H173.8zM166.1 277.3H181.6V285.1H166.1zM158.5 284.9H166.3V292.8H158.5zM127.9 292.6H135.8V300.4H127.9zM127.9 300.2H143.4V308.0H127.9zM143.2 307.8H151.1V315.6H143.2zM21.0 368.6H44.1V376.4H21.0zM43.9 376.2H51.7V384.0H43.9z"/><path fill="#0040ff" d="M280.7 -1.2H288.6V6.8H280.7zM296.0 -1.2H311.5V6.8H296.0zM74.5 6.6H82.3V14.6H74.5zM311.3 6.6H319.1V14.6H311.3zM280.7 14.4H296.2V22.5H280.7zM311.3 14.4H319.1V22.5H311.3zM273.1 22.3H280.9V30.3H273.1zM288.4 22.3H296.2V30.3H288.4zM303.7 22.3H326.8V30.3H303.7zM303.7 37.9H319.1V45.9H303.7zM265.5 45.7H273.3V53.7H265.5zM280.7 45.7H303.9V53.7H280.7zM280.7 53.5H296.2V61.5H280.7zM288.4 61.3H303.9V69.3H288.4zM89.7 69.1H97.6V77.0H89.7zM273.1 69.1H280.9V77.0H273.1zM280.7 76.8H288.6V84.8H280.7zM280.7 84.6H288.6V92.6H280.7zM257.8 92.4H265.7V100.4H257.8zM265.5 100.2H273.3V108.1H265.5zM288.4 100.2H303.9V108.1H288.4zM265.5 107.9H273.3V115.9H265.5zM257.8 115.7H273.3V123.6H257.8zM303.7 115.7H319.1V123.6H303.7zM273.1 123.4H280.9V131.4H273.1zM280.7 131.2H288.6V139.1H280.7zM296.0 131.2H303.9V139.1H296.0zM242.5 138.9H250.4V146.8H242.5zM257.8 138.9H265.7V146.8H257.8zM273.1 138.9H288.6V146.8H273.1zM189.1 146.6H196.9V154.6H189.1zM242.5 146.6H250.4V154.6H242.5zM250.2 154.4H258.0V162.3H250.2zM288.4 154.4H296.2V162.3H288.4zM334.2 154.4H342.1V162.3H334.2zM265.5 162.1H273.3V170.0H265.5zM280.7 162.1H288.6V170.0H280.7zM303.7 169.8H311.5V177.7H303.7zM273.1 177.5H280.9V185.4H273.1zM257.8 185.2H273.3V193.1H257.8zM280.7 185.2H296.2V193.1H280.7zM120.3 192.9H128.1V200.8H120.3zM234.9 192.9H242.7V200.8H234.9zM250.2 192.9H258.0V200.8H250.2zM273.1 192.9H280.9V200.8H273.1zM265.5 208.3H273.3V216.2H265.5zM288.4 208.3H303.9V216.2H288.4zM311.3 208.3H319.1V216.2H311.3zM280.7 216.0H288.6V223.9H280.7zM273.1 223.7H280.9V231.5H273.1zM311.3 223.7H319.1V231.5H311.3zM250.2 239.0H258.0V246.9H250.2zM341.9 239.0H349.7V246.9H341.9zM257.8 246.7H265.7V254.5H257.8zM273.1 246.7H280.9V254.5H273.1zM318.9 246.7H334.4V254.5H318.9zM250.2 254.3H265.7V262.2H250.2zM296.0 254.3H311.5V262.2H296.0zM234.9 262.0H242.7V269.8H234.9zM288.4 262.0H296.2V269.8H288.4zM273.1 269.6H280.9V277.5H273.1zM234.9 277.3H242.7V285.1H234.9zM250.2 277.3H258.0V285.1H250.2zM219.6 300.2H227.5V308.0H219.6zM181.4 307.8H189.3V315.6H181.4zM212.0 307.8H219.8V315.6H212.0zM189.1 315.4H196.9V323.3H189.1zM112.7 323.1H120.5V330.9H112.7zM166.1 323.1H174.0V330.9H166.1zM21.0 338.3H28.8V346.1H21.0zM59.2 345.9H67.0V353.7H59.2zM74.5 345.9H82.3V353.7H74.5zM158.5 345.9H166.3V353.7H158.5zM59.2 353.5H67.0V361.3H59.2zM166.1 368.6H174.0V376.4H166.1zM59.2 376.2H67.0V384.0H59.2z"/><path fill="#0030ff" d="M288.4 -1.2H296.2V6.8H288.4zM318.9 -1.2H326.8V6.8H318.9zM296.0 6.6H311.5V14.6H296.0zM318.9 6.6H326.8V14.6H318.9zM265.5 14.4H273.3V22.5H265.5zM265.5 30.1H273.3V38.1H265.5zM303.7 30.1H319.1V38.1H303.7zM288.4 37.9H296.2V45.9H288.4zM273.1 45.7H280.9V53.7H273.1zM303.7 45.7H311.5V53.7H303.7zM296.0 53.5H303.9V61.5H296.0zM89.7 61.3H97.6V69.3H89.7zM265.5 61.3H273.3V69.3H265.5zM265.5 69.1H273.3V77.0H265.5zM288.4 69.1H296.2V77.0H288.4zM82.1 76.8H89.9V84.8H82.1zM273.1 76.8H280.9V84.8H273.1zM296.0 76.8H303.9V84.8H296.0zM288.4 84.6H296.2V92.6H288.4zM280.7 92.4H288.6V100.4H280.7zM257.8 100.2H265.7V108.1H257.8zM303.7 100.2H311.5V108.1H303.7zM273.1 107.9H288.6V115.9H273.1zM288.4 115.7H303.9V123.6H288.4zM280.7 123.4H288.6V131.4H280.7zM257.8 131.2H265.7V139.1H257.8zM288.4 131.2H296.2V139.1H288.4zM334.2 131.2H342.1V139.1H334.2zM250.2 146.6H265.7V154.6H250.2zM257.8 154.4H273.3V162.3H257.8zM273.1 162.1H280.9V170.0H273.1zM273.1 169.8H280.9V177.7H273.1zM257.8 177.5H273.3V185.4H257.8zM288.4 177.5H296.2V185.4H288.4zM242.5 185.2H250.4V193.1H242.5zM318.9 200.6H334.4V208.5H318.9zM341.9 200.6H349.7V208.5H341.9zM303.7 208.3H311.5V216.2H303.7zM326.6 208.3H334.4V216.2H326.6zM341.9 208.3H349.7V216.2H341.9zM296.0 216.0H303.9V223.9H296.0zM326.6 216.0H334.4V223.9H326.6zM280.7 223.7H296.2V231.5H280.7zM334.2 223.7H349.7V231.5H334.2zM288.4 231.3H319.1V239.2H288.4zM257.8 239.0H265.7V246.9H257.8zM273.1 239.0H280.9V246.9H273.1zM318.9 239.0H334.4V246.9H318.9zM280.7 246.7H288.6V254.5H280.7zM296.0 246.7H303.9V254.5H296.0zM311.3 246.7H319.1V254.5H311.3zM280.7 254.3H288.6V262.2H280.7zM311.3 254.3H319.1V262.2H311.3zM311.3 262.0H319.1V269.8H311.3zM219.6 269.6H227.5V277.5H219.6zM234.9 269.6H242.7V277.5H234.9zM288.4 269.6H296.2V277.5H288.4zM219.6 277.3H235.1V285.1H219.6zM257.8 277.3H265.7V285.1H257.8zM250.2 284.9H265.7V292.8H250.2zM196.7 292.6H204.5V300.4H196.7zM227.3 292.6H250.4V300.4H227.3zM181.4 300.2H189.3V308.0H181.4zM196.7 300.2H204.5V308.0H196.7zM212.0 300.2H219.8V308.0H212.0zM250.2 307.8H258.0V315.6H250.2zM143.2 315.4H151.1V323.3H143.2zM173.8 315.4H181.6V323.3H173.8zM135.6 323.1H151.1V330.9H135.6zM158.5 323.1H166.3V330.9H158.5zM250.2 330.7H258.0V338.5H250.2zM43.9 338.3H51.7V346.1H43.9zM89.7 338.3H97.6V346.1H89.7zM273.1 345.9H280.9V353.7H273.1zM265.5 361.1H273.3V368.8H265.5z"/><path fill="#40ffbf" d="M82.1 6.6H89.9V14.6H82.1zM74.5 22.3H82.3V30.3H74.5zM89.7 30.1H97.6V38.1H89.7zM97.4 61.3H112.9V69.3H97.4zM105.0 69.1H112.9V77.0H105.0zM127.9 69.1H135.8V77.0H127.9zM97.4 76.8H112.9V84.8H97.4zM120.3 76.8H135.8V84.8H120.3zM97.4 84.6H112.9V92.6H97.4zM127.9 84.6H135.8V92.6H127.9zM105.0 92.4H112.9V100.4H105.0zM135.6 92.4H143.4V100.4H135.6zM120.3 100.2H128.1V108.1H120.3zM135.6 107.9H143.4V115.9H135.6zM105.0 115.7H120.5V123.6H105.0zM158.5 115.7H166.3V123.6H158.5zM158.5 123.4H166.3V131.4H158.5zM150.9 177.5H158.7V185.4H150.9zM135.6 192.9H143.4V200.8H135.6zM127.9 208.3H135.8V216.2H127.9zM173.8 223.7H181.6V231.5H173.8zM150.9 262.0H158.7V269.8H150.9zM74.5 300.2H82.3V308.0H74.5z"/><path fill="#70ff8f" d="M89.7 6.6H97.6V14.6H89.7zM135.6 76.8H143.4V84.8H135.6zM112.7 107.9H120.5V115.9H112.7zM143.2 107.9H151.1V115.9H143.2z"/><path fill="#0000cf" d="M97.4 6.6H105.2V14.6H97.4zM326.6 30.1H334.4V38.1H326.6zM334.2 53.5H342.1V61.5H334.2zM334.2 115.7H342.1V123.6H334.2zM326.6 169.8H334.4V177.7H326.6zM341.9 185.2H349.7V193.1H341.9zM303.7 269.6H311.5V277.5H303.7zM326.6 269.6H334.4V277.5H326.6zM296.0 277.3H303.9V285.1H296.0zM334.2 277.3H342.1V285.1H334.2zM89.7 292.6H97.6V300.4H89.7zM296.0 300.2H303.9V308.0H296.0zM43.9 307.8H51.7V315.6H43.9zM74.5 307.8H82.3V315.6H74.5zM219.6 315.4H227.5V323.3H219.6zM273.1 315.4H280.9V323.3H273.1zM334.2 315.4H342.1V323.3H334.2zM74.5 323.1H82.3V330.9H74.5zM66.8 338.3H74.7V346.1H66.8zM196.7 338.3H204.5V346.1H196.7zM212.0 338.3H219.8V346.1H212.0zM13.3 345.9H36.5V353.7H13.3zM326.6 345.9H334.4V353.7H326.6zM5.7 353.5H13.5V361.3H5.7zM89.7 361.1H97.6V368.8H89.7zM341.9 361.1H349.7V368.8H341.9zM89.7 368.6H97.6V376.4H89.7zM158.5 368.6H166.3V376.4H158.5zM181.4 368.6H189.3V376.4H181.4zM112.7 376.2H120.5V384.0H112.7zM127.9 376.2H135.8V384.0H127.9zM227.3 376.2H235.1V384.0H227.3zM150.9 391.4H158.7V399.1H150.9zM326.6 391.4H334.4V399.1H326.6zM257.8 398.9H265.7V406.7H257.8zM181.4 406.5H189.3V414.2H181.4zM303.7 406.5H311.5V414.2H303.7zM143.2 414.0H151.1V421.8H143.2zM158.5 414.0H166.3V421.8H158.5zM311.3 414.0H319.1V421.8H311.3zM158.5 421.6H166.3V429.3H158.5z"/><path fill="#00bfff" d="M166.1 6.6H174.0V14.6H166.1zM105.0 30.1H112.9V38.1H105.0zM204.3 30.1H212.2V38.1H204.3zM181.4 37.9H189.3V45.9H181.4zM112.7 45.7H120.5V53.7H112.7zM105.0 53.5H112.9V61.5H105.0zM173.8 84.6H181.6V92.6H173.8zM166.1 107.9H174.0V115.9H166.1zM227.3 107.9H235.1V115.9H227.3zM97.4 115.7H105.2V123.6H97.4zM166.1 177.5H174.0V185.4H166.1zM234.9 208.3H242.7V216.2H234.9zM189.1 254.3H196.9V262.2H189.1zM189.1 284.9H196.9V292.8H189.1zM135.6 307.8H143.4V315.6H135.6zM150.9 307.8H158.7V315.6H150.9z"/><path fill="#00afff" d="M181.4 6.6H189.3V14.6H181.4zM219.6 6.6H227.5V14.6H219.6zM158.5 14.4H166.3V22.5H158.5zM204.3 14.4H212.2V22.5H204.3zM189.1 22.3H196.9V30.3H189.1zM189.1 30.1H196.9V38.1H189.1zM234.9 30.1H242.7V38.1H234.9zM181.4 45.7H189.3V53.7H181.4zM219.6 69.1H242.7V77.0H219.6zM97.4 107.9H105.2V115.9H97.4zM196.7 107.9H204.5V115.9H196.7zM242.5 115.7H250.4V123.6H242.5zM212.0 131.2H219.8V139.1H212.0zM189.1 138.9H196.9V146.8H189.1zM189.1 162.1H196.9V170.0H189.1zM181.4 200.6H189.3V208.5H181.4zM257.8 208.3H265.7V216.2H257.8zM219.6 216.0H235.1V223.9H219.6zM242.5 223.7H258.0V231.5H242.5zM189.1 239.0H212.2V246.9H189.1zM219.6 239.0H227.5V246.9H219.6zM234.9 246.7H242.7V254.5H234.9zM196.7 254.3H204.5V262.2H196.7zM158.5 277.3H166.3V285.1H158.5zM173.8 284.9H181.6V292.8H173.8zM150.9 292.6H158.7V300.4H150.9zM173.8 292.6H181.6V300.4H173.8zM150.9 300.2H166.3V308.0H150.9zM173.8 300.2H181.6V308.0H173.8zM21.0 361.1H28.8V368.8H21.0z"/><path fill="#0020ff" d="M265.5 6.6H273.3V14.6H265.5zM296.0 14.4H303.9V22.5H296.0zM296.0 22.3H303.9V30.3H296.0zM273.1 30.1H280.9V38.1H273.1zM296.0 30.1H303.9V38.1H296.0zM296.0 37.9H303.9V45.9H296.0zM326.6 45.7H342.1V53.7H326.6zM265.5 53.5H273.3V61.5H265.5zM280.7 61.3H288.6V69.3H280.7zM311.3 61.3H319.1V69.3H311.3zM303.7 69.1H311.5V77.0H303.7zM326.6 69.1H342.1V77.0H326.6zM265.5 76.8H273.3V84.8H265.5zM288.4 76.8H296.2V84.8H288.4zM334.2 76.8H342.1V84.8H334.2zM265.5 84.6H273.3V92.6H265.5zM296.0 84.6H311.5V92.6H296.0zM326.6 84.6H342.1V92.6H326.6zM89.7 92.4H97.6V100.4H89.7zM288.4 92.4H296.2V100.4H288.4zM273.1 100.2H288.6V108.1H273.1zM303.7 107.9H311.5V115.9H303.7zM326.6 115.7H334.4V123.6H326.6zM250.2 123.4H258.0V131.4H250.2zM288.4 123.4H311.5V131.4H288.4zM265.5 131.2H273.3V139.1H265.5zM311.3 131.2H319.1V139.1H311.3zM296.0 138.9H303.9V146.8H296.0zM341.9 138.9H349.7V146.8H341.9zM105.0 154.4H112.9V162.3H105.0zM242.5 154.4H250.4V162.3H242.5zM296.0 154.4H303.9V162.3H296.0zM341.9 154.4H349.7V162.3H341.9zM288.4 162.1H303.9V170.0H288.4zM250.2 169.8H258.0V177.7H250.2zM242.5 177.5H250.4V185.4H242.5zM311.3 185.2H319.1V193.1H311.3zM242.5 192.9H250.4V200.8H242.5zM334.2 192.9H342.1V200.8H334.2zM265.5 200.6H280.9V208.5H265.5zM311.3 200.6H319.1V208.5H311.3zM273.1 208.3H280.9V216.2H273.1zM318.9 208.3H326.8V216.2H318.9zM265.5 216.0H273.3V223.9H265.5zM341.9 216.0H349.7V223.9H341.9zM265.5 223.7H273.3V231.5H265.5zM318.9 223.7H334.4V231.5H318.9zM265.5 231.3H273.3V239.2H265.5zM288.4 239.0H311.5V246.9H288.4zM242.5 246.7H258.0V254.5H242.5zM303.7 246.7H311.5V254.5H303.7zM105.0 254.3H112.9V262.2H105.0zM242.5 254.3H250.4V262.2H242.5zM265.5 254.3H273.3V262.2H265.5zM288.4 254.3H296.2V262.2H288.4zM250.2 262.0H258.0V269.8H250.2zM280.7 262.0H288.6V269.8H280.7zM296.0 262.0H303.9V269.8H296.0zM318.9 269.6H326.8V277.5H318.9zM265.5 277.3H280.9V285.1H265.5zM318.9 277.3H326.8V285.1H318.9zM105.0 284.9H112.9V292.8H105.0zM212.0 284.9H219.8V292.8H212.0zM234.9 284.9H242.7V292.8H234.9zM212.0 292.6H219.8V300.4H212.0zM288.4 292.6H296.2V300.4H288.4zM204.3 300.2H212.2V308.0H204.3zM242.5 300.2H250.4V308.0H242.5zM257.8 300.2H265.7V308.0H257.8zM28.6 307.8H36.5V315.6H28.6zM66.8 307.8H74.7V315.6H66.8zM89.7 307.8H105.2V315.6H89.7zM173.8 307.8H181.6V315.6H173.8zM196.7 307.8H204.5V315.6H196.7zM288.4 307.8H296.2V315.6H288.4zM318.9 307.8H326.8V315.6H318.9zM135.6 315.4H143.4V323.3H135.6zM158.5 315.4H166.3V323.3H158.5zM204.3 315.4H212.2V323.3H204.3zM227.3 315.4H235.1V323.3H227.3zM242.5 315.4H250.4V323.3H242.5zM204.3 323.1H212.2V330.9H204.3zM227.3 323.1H235.1V330.9H227.3zM250.2 323.1H258.0V330.9H250.2zM318.9 323.1H326.8V330.9H318.9zM5.7 330.7H13.5V338.5H5.7zM82.1 330.7H89.9V338.5H82.1zM120.3 330.7H128.1V338.5H120.3zM143.2 330.7H151.1V338.5H143.2zM212.0 330.7H219.8V338.5H212.0zM273.1 330.7H296.2V338.5H273.1zM13.3 338.3H21.2V346.1H13.3zM97.4 338.3H112.9V346.1H97.4zM257.8 338.3H265.7V346.1H257.8zM273.1 338.3H280.9V346.1H273.1zM89.7 345.9H97.6V353.7H89.7zM150.9 345.9H158.7V353.7H150.9zM212.0 345.9H219.8V353.7H212.0zM280.7 345.9H288.6V353.7H280.7zM143.2 353.5H151.1V361.3H143.2zM242.5 353.5H258.0V361.3H242.5zM288.4 353.5H296.2V361.3H288.4zM150.9 361.1H166.3V368.8H150.9zM204.3 361.1H212.2V368.8H204.3zM250.2 361.1H258.0V368.8H250.2zM189.1 368.6H196.9V376.4H189.1zM273.1 368.6H280.9V376.4H273.1zM288.4 368.6H296.2V376.4H288.4zM204.3 383.8H212.2V391.6H204.3zM273.1 383.8H280.9V391.6H273.1zM212.0 391.4H219.8V399.1H212.0zM13.3 398.9H21.2V406.7H13.3zM227.3 398.9H235.1V406.7H227.3zM250.2 398.9H258.0V406.7H250.2z"/><path fill="#bfff40" d="M74.5 14.4H82.3V22.5H74.5zM82.1 53.5H89.9V61.5H82.1zM105.0 123.4H120.5V131.4H105.0zM105.0 138.9H112.9V146.8H105.0z"/><path fill="#9fff60" d="M82.1 14.4H97.6V22.5H82.1zM135.6 123.4H143.4V131.4H135.6zM150.9 131.2H158.7V139.1H150.9zM150.9 146.6H158.7V154.6H150.9z"/><path fill="#60ff9f" d="M82.1 22.3H89.9V30.3H82.1zM74.5 30.1H89.9V38.1H74.5zM89.7 37.9H97.6V45.9H89.7zM97.4 69.1H105.2V77.0H97.4zM112.7 69.1H120.5V77.0H112.7zM112.7 76.8H120.5V84.8H112.7zM143.2 84.6H151.1V92.6H143.2zM143.2 92.4H151.1V100.4H143.2zM112.7 100.2H120.5V108.1H112.7zM135.6 100.2H143.4V108.1H135.6zM150.9 100.2H158.7V108.1H150.9zM120.3 107.9H135.8V115.9H120.3zM150.9 115.7H158.7V123.6H150.9zM158.5 138.9H166.3V146.8H158.5zM127.9 177.5H135.8V185.4H127.9z"/><path fill="#50ffaf" d="M89.7 22.3H97.6V30.3H89.7zM97.4 53.5H105.2V61.5H97.4zM112.7 61.3H120.5V69.3H112.7zM112.7 84.6H120.5V92.6H112.7zM135.6 84.6H143.4V92.6H135.6zM127.9 92.4H135.8V100.4H127.9zM97.4 100.2H112.9V108.1H97.4zM127.9 100.2H135.8V108.1H127.9zM143.2 100.2H151.1V108.1H143.2zM105.0 107.9H112.9V115.9H105.0zM150.9 107.9H158.7V115.9H150.9zM120.3 115.7H128.1V123.6H120.3zM127.9 185.2H158.7V193.1H127.9zM127.9 192.9H135.8V200.8H127.9zM143.2 192.9H151.1V200.8H143.2zM112.7 262.0H120.5V269.8H112.7zM82.1 277.3H89.9V285.1H82.1zM59.2 300.2H67.0V308.0H59.2z"/><path fill="#10ffef" d="M112.7 22.3H120.5V30.3H112.7zM112.7 37.9H120.5V45.9H112.7zM97.4 45.7H105.2V53.7H97.4zM120.3 45.7H128.1V53.7H120.3zM143.2 45.7H151.1V53.7H143.2zM166.1 45.7H181.6V53.7H166.1zM143.2 53.5H151.1V61.5H143.2zM173.8 69.1H189.3V77.0H173.8zM189.1 76.8H196.9V84.8H189.1zM181.4 84.6H189.3V92.6H181.4zM97.4 92.4H105.2V100.4H97.4zM158.5 92.4H166.3V100.4H158.5zM158.5 100.2H166.3V108.1H158.5zM166.1 115.7H174.0V123.6H166.1zM166.1 123.4H174.0V131.4H166.1zM135.6 177.5H143.4V185.4H135.6zM135.6 216.0H151.1V223.9H135.6zM173.8 216.0H189.3V223.9H173.8zM127.9 223.7H135.8V231.5H127.9zM150.9 223.7H158.7V231.5H150.9zM143.2 231.3H151.1V239.2H143.2zM158.5 231.3H174.0V239.2H158.5zM158.5 239.0H166.3V246.9H158.5zM143.2 246.7H151.1V254.5H143.2zM158.5 246.7H174.0V254.5H158.5zM150.9 254.3H158.7V262.2H150.9zM143.2 269.6H151.1V277.5H143.2zM143.2 277.3H151.1V285.1H143.2zM59.2 284.9H67.0V292.8H59.2zM13.3 330.7H21.2V338.5H13.3z"/><path fill="#00efff" d="M120.3 22.3H128.1V30.3H120.3zM127.9 30.1H135.8V38.1H127.9zM143.2 30.1H151.1V38.1H143.2zM97.4 37.9H112.9V45.9H97.4zM135.6 37.9H151.1V45.9H135.6zM158.5 37.9H181.6V45.9H158.5zM158.5 45.7H166.3V53.7H158.5zM120.3 53.5H128.1V61.5H120.3zM135.6 53.5H143.4V61.5H135.6zM150.9 53.5H158.7V61.5H150.9zM120.3 61.3H128.1V69.3H120.3zM135.6 61.3H143.4V69.3H135.6zM143.2 69.1H151.1V77.0H143.2zM173.8 76.8H181.6V84.8H173.8zM150.9 84.6H166.3V92.6H150.9zM189.1 84.6H196.9V92.6H189.1zM173.8 92.4H181.6V100.4H173.8zM166.1 100.2H181.6V108.1H166.1zM196.7 100.2H204.5V108.1H196.7zM173.8 107.9H189.3V115.9H173.8zM181.4 123.4H189.3V131.4H181.4zM166.1 131.2H174.0V139.1H166.1zM166.1 138.9H181.6V146.8H166.1zM158.5 154.4H166.3V162.3H158.5zM173.8 154.4H181.6V162.3H173.8zM135.6 200.6H151.1V208.5H135.6zM173.8 200.6H181.6V208.5H173.8zM143.2 208.3H151.1V216.2H143.2zM173.8 208.3H181.6V216.2H173.8zM127.9 216.0H135.8V223.9H127.9zM158.5 216.0H174.0V223.9H158.5zM143.2 223.7H151.1V231.5H143.2zM173.8 231.3H196.9V239.2H173.8zM181.4 246.7H189.3V254.5H181.4zM74.5 269.6H82.3V277.5H74.5zM135.6 269.6H143.4V277.5H135.6zM82.1 284.9H89.9V292.8H82.1zM127.9 284.9H135.8V292.8H127.9zM135.6 292.6H143.4V300.4H135.6zM21.0 315.4H28.8V323.3H21.0zM36.3 323.1H44.1V330.9H36.3z"/><path fill="#00dfff" d="M127.9 22.3H135.8V30.3H127.9zM112.7 30.1H120.5V38.1H112.7zM135.6 45.7H143.4V53.7H135.6zM112.7 53.5H120.5V61.5H112.7zM166.1 53.5H174.0V61.5H166.1zM181.4 53.5H189.3V61.5H181.4zM158.5 61.3H166.3V69.3H158.5zM150.9 76.8H174.0V84.8H150.9zM166.1 92.4H174.0V100.4H166.1zM181.4 92.4H189.3V100.4H181.4zM189.1 107.9H196.9V115.9H189.1zM181.4 115.7H189.3V123.6H181.4zM173.8 123.4H181.6V131.4H173.8zM212.0 162.1H219.8V170.0H212.0zM158.5 169.8H166.3V177.7H158.5zM166.1 185.2H174.0V193.1H166.1zM150.9 192.9H158.7V200.8H150.9zM150.9 200.6H158.7V208.5H150.9zM135.6 223.7H143.4V231.5H135.6zM189.1 223.7H196.9V231.5H189.1zM143.2 239.0H151.1V246.9H143.2zM173.8 246.7H181.6V254.5H173.8zM173.8 254.3H181.6V262.2H173.8zM166.1 262.0H174.0V269.8H166.1zM82.1 300.2H89.9V308.0H82.1z"/><path fill="#00cfff" d="M120.3 30.1H128.1V38.1H120.3zM120.3 37.9H128.1V45.9H120.3zM150.9 45.7H158.7V53.7H150.9zM158.5 53.5H166.3V61.5H158.5zM127.9 61.3H135.8V69.3H127.9zM150.9 69.1H158.7V77.0H150.9zM181.4 100.2H189.3V108.1H181.4zM227.3 100.2H235.1V108.1H227.3zM173.8 115.7H181.6V123.6H173.8zM181.4 154.4H189.3V162.3H181.4zM166.1 169.8H174.0V177.7H166.1zM257.8 200.6H265.7V208.5H257.8zM212.0 239.0H219.8V246.9H212.0zM227.3 239.0H235.1V246.9H227.3zM166.1 254.3H174.0V262.2H166.1zM150.9 269.6H158.7V277.5H150.9zM13.3 368.6H21.2V376.4H13.3z"/><path fill="#00ffff" d="M135.6 30.1H143.4V38.1H135.6zM150.9 30.1H158.7V38.1H150.9zM127.9 37.9H135.8V45.9H127.9zM150.9 37.9H158.7V45.9H150.9zM105.0 45.7H112.9V53.7H105.0zM127.9 45.7H135.8V53.7H127.9zM127.9 53.5H135.8V61.5H127.9zM173.8 53.5H181.6V61.5H173.8zM143.2 61.3H158.7V69.3H143.2zM135.6 69.1H143.4V77.0H135.6zM158.5 69.1H174.0V77.0H158.5zM181.4 76.8H189.3V84.8H181.4zM166.1 84.6H174.0V92.6H166.1zM189.1 92.4H196.9V100.4H189.1zM189.1 100.2H196.9V108.1H189.1zM158.5 107.9H166.3V115.9H158.5zM189.1 115.7H196.9V123.6H189.1zM173.8 131.2H181.6V139.1H173.8zM158.5 146.6H181.6V154.6H158.5zM166.1 154.4H174.0V162.3H166.1zM158.5 162.1H174.0V170.0H158.5zM150.9 169.8H158.7V177.7H150.9zM158.5 177.5H166.3V185.4H158.5zM158.5 185.2H166.3V193.1H158.5zM166.1 192.9H174.0V200.8H166.1zM127.9 200.6H135.8V208.5H127.9zM158.5 208.3H174.0V216.2H158.5zM150.9 216.0H158.7V223.9H150.9zM120.3 223.7H128.1V231.5H120.3zM158.5 223.7H166.3V231.5H158.5zM181.4 223.7H189.3V231.5H181.4zM166.1 239.0H174.0V246.9H166.1zM181.4 239.0H189.3V246.9H181.4zM158.5 254.3H166.3V262.2H158.5zM158.5 269.6H166.3V277.5H158.5zM127.9 277.3H143.4V285.1H127.9zM143.2 284.9H158.7V292.8H143.2zM143.2 292.6H151.1V300.4H143.2z"/><path fill="#30ffcf" d="M74.5 37.9H82.3V45.9H74.5zM181.4 61.3H189.3V69.3H181.4zM120.3 69.1H128.1V77.0H120.3zM143.2 76.8H151.1V84.8H143.2zM120.3 84.6H128.1V92.6H120.3zM112.7 92.4H120.5V100.4H112.7zM150.9 92.4H158.7V100.4H150.9zM135.6 115.7H143.4V123.6H135.6zM166.1 200.6H174.0V208.5H166.1zM150.9 208.3H158.7V216.2H150.9zM181.4 208.3H189.3V216.2H181.4zM189.1 216.0H196.9V223.9H189.1zM166.1 223.7H174.0V231.5H166.1zM150.9 239.0H158.7V246.9H150.9zM112.7 254.3H120.5V262.2H112.7zM143.2 262.0H151.1V269.8H143.2zM158.5 262.0H166.3V269.8H158.5zM66.8 269.6H74.7V277.5H66.8zM127.9 269.6H135.8V277.5H127.9zM150.9 277.3H158.7V285.1H150.9zM82.1 292.6H89.9V300.4H82.1zM66.8 300.2H74.7V308.0H66.8zM143.2 300.2H151.1V308.0H143.2zM36.3 330.7H44.1V338.5H36.3z"/><path fill="#20ffdf" d="M82.1 37.9H89.9V45.9H82.1zM166.1 61.3H181.6V69.3H166.1zM143.2 115.7H151.1V123.6H143.2zM150.9 123.4H158.7V131.4H150.9zM158.5 192.9H166.3V200.8H158.5zM158.5 200.6H166.3V208.5H158.5zM135.6 208.3H143.4V216.2H135.6zM150.9 231.3H158.7V239.2H150.9zM173.8 239.0H181.6V246.9H173.8zM150.9 246.7H158.7V254.5H150.9zM143.2 254.3H151.1V262.2H143.2zM120.3 269.6H128.1V277.5H120.3zM59.2 277.3H67.0V285.1H59.2zM135.6 284.9H143.4V292.8H135.6zM59.2 292.6H67.0V300.4H59.2zM28.6 315.4H44.1V323.3H28.6zM13.3 323.1H21.2V330.9H13.3z"/><path fill="#ffbf00" d="M82.1 45.7H89.9V53.7H82.1z"/><path fill="#ff9f00" d="M89.7 45.7H97.6V53.7H89.7z"/><path fill="#ffef00" d="M89.7 53.5H97.6V61.5H89.7zM143.2 138.9H151.1V146.8H143.2zM143.2 154.4H151.1V162.3H143.2zM74.5 292.6H82.3V300.4H74.5z"/><path fill="#0000bf" d="M318.9 61.3H326.8V69.3H318.9zM326.6 131.2H334.4V139.1H326.6zM334.2 177.5H342.1V185.4H334.2zM97.4 269.6H105.2V277.5H97.4zM341.9 315.4H349.7V323.3H341.9zM112.7 330.7H120.5V338.5H112.7zM234.9 330.7H242.7V338.5H234.9zM59.2 338.3H67.0V346.1H59.2zM265.5 345.9H273.3V353.7H265.5zM334.2 353.5H342.1V361.3H334.2zM127.9 361.1H135.8V368.8H127.9zM196.7 361.1H204.5V368.8H196.7zM227.3 368.6H235.1V376.4H227.3zM296.0 368.6H303.9V376.4H296.0zM97.4 376.2H105.2V384.0H97.4zM334.2 376.2H342.1V384.0H334.2zM189.1 383.8H196.9V391.6H189.1zM82.1 391.4H89.9V399.1H82.1zM127.9 398.9H151.1V406.7H127.9zM120.3 406.5H128.1V414.2H120.3zM173.8 406.5H181.6V414.2H173.8zM204.3 406.5H212.2V414.2H204.3zM219.6 406.5H227.5V414.2H219.6zM250.2 406.5H258.0V414.2H250.2zM326.6 406.5H334.4V414.2H326.6zM97.4 414.0H105.2V421.8H97.4zM112.7 414.0H120.5V421.8H112.7zM265.5 421.6H273.3V429.3H265.5z"/><path fill="#80ff80" d="M120.3 92.4H128.1V100.4H120.3zM127.9 115.7H135.8V123.6H127.9zM158.5 131.2H166.3V139.1H158.5zM143.2 177.5H151.1V185.4H143.2z"/><path fill="#dfff20" d="M120.3 123.4H128.1V131.4H120.3zM135.6 162.1H143.4V170.0H135.6zM127.9 169.8H135.8V177.7H127.9zM120.3 262.0H135.8V269.8H120.3zM66.8 292.6H74.7V300.4H66.8z"/><path fill="#8fff70" d="M127.9 123.4H135.8V131.4H127.9z"/><path fill="#afff50" d="M143.2 123.4H151.1V131.4H143.2zM150.9 138.9H158.7V146.8H150.9zM112.7 162.1H128.1V170.0H112.7zM150.9 162.1H158.7V170.0H150.9zM120.3 169.8H128.1V177.7H120.3zM135.6 169.8H143.4V177.7H135.6z"/><path fill="#cfff30" d="M105.0 131.2H112.9V139.1H105.0zM105.0 146.6H112.9V154.6H105.0zM150.9 154.4H158.7V162.3H150.9zM143.2 169.8H151.1V177.7H143.2zM135.6 231.3H143.4V239.2H135.6z"/><path fill="#ff8f00" d="M112.7 131.2H120.5V139.1H112.7zM112.7 154.4H120.5V162.3H112.7zM74.5 277.3H82.3V285.1H74.5z"/><path fill="#ff8000" d="M120.3 131.2H128.1V139.1H120.3zM127.9 231.3H135.8V239.2H127.9zM135.6 246.7H143.4V254.5H135.6zM74.5 284.9H82.3V292.8H74.5z"/><path fill="#ffff00" d="M127.9 131.2H135.8V139.1H127.9zM143.2 146.6H151.1V154.6H143.2zM135.6 154.4H143.4V162.3H135.6zM21.0 323.1H28.8V330.9H21.0z"/><path fill="#ffaf00" d="M135.6 131.2H143.4V139.1H135.6zM127.9 146.6H135.8V154.6H127.9zM143.2 162.1H151.1V170.0H143.2z"/><path fill="#ffdf00" d="M143.2 131.2H151.1V139.1H143.2zM135.6 146.6H143.4V154.6H135.6zM127.9 162.1H135.8V170.0H127.9z"/><path fill="#9f0000" d="M112.7 138.9H120.5V146.8H112.7z"/><path fill="#ff0000" d="M120.3 138.9H128.1V146.8H120.3zM127.9 239.0H135.8V246.9H127.9z"/><path fill="#ff7000" d="M127.9 138.9H135.8V146.8H127.9zM120.3 154.4H128.1V162.3H120.3zM66.8 277.3H74.7V285.1H66.8zM66.8 284.9H74.7V292.8H66.8z"/><path fill="#ffcf00" d="M135.6 138.9H143.4V146.8H135.6zM21.0 330.7H36.5V338.5H21.0z"/><path fill="#ff1000" d="M112.7 146.6H120.5V154.6H112.7zM120.3 254.3H128.1V262.2H120.3z"/><path fill="#ff2000" d="M120.3 146.6H128.1V154.6H120.3zM120.3 246.7H128.1V254.5H120.3z"/><path fill="#ff4000" d="M127.9 154.4H135.8V162.3H127.9zM127.9 254.3H135.8V262.2H127.9z"/><path fill="#ff6000" d="M120.3 231.3H128.1V239.2H120.3zM135.6 239.0H143.4V246.9H135.6zM135.6 254.3H143.4V262.2H135.6z"/><path fill="#cf0000" d="M120.3 239.0H128.1V246.9H120.3z"/><path fill="#800000" d="M127.9 246.7H135.8V254.5H127.9z"/><path fill="#00009f" d="M82.1 262.0H89.9V269.8H82.1zM105.0 262.0H112.9V269.8H105.0zM105.0 269.6H112.9V277.5H105.0zM43.9 300.2H51.7V308.0H43.9zM341.9 300.2H349.7V308.0H341.9zM334.2 323.1H349.7V330.9H334.2zM43.9 330.7H51.7V338.5H43.9zM326.6 330.7H334.4V338.5H326.6zM105.0 345.9H112.9V353.7H105.0zM318.9 345.9H326.8V353.7H318.9zM97.4 353.5H112.9V361.3H97.4zM120.3 353.5H128.1V361.3H120.3zM318.9 353.5H334.4V361.3H318.9zM341.9 353.5H349.7V361.3H341.9zM135.6 361.1H143.4V368.8H135.6zM326.6 361.1H342.1V368.8H326.6zM97.4 368.6H105.2V376.4H97.4zM280.7 368.6H288.6V376.4H280.7zM135.6 376.2H143.4V384.0H135.6zM150.9 376.2H166.3V384.0H150.9zM318.9 376.2H326.8V384.0H318.9zM341.9 376.2H349.7V384.0H341.9zM82.1 383.8H89.9V391.6H82.1zM105.0 383.8H112.9V391.6H105.0zM143.2 383.8H174.0V391.6H143.2zM303.7 383.8H311.5V391.6H303.7zM51.5 391.4H59.4V399.1H51.5zM74.5 391.4H82.3V399.1H74.5zM105.0 391.4H112.9V399.1H105.0zM127.9 391.4H135.8V399.1H127.9zM143.2 391.4H151.1V399.1H143.2zM181.4 391.4H189.3V399.1H181.4zM280.7 391.4H288.6V399.1H280.7zM296.0 391.4H303.9V399.1H296.0zM311.3 391.4H326.8V399.1H311.3zM341.9 391.4H349.7V399.1H341.9zM59.2 398.9H67.0V406.7H59.2zM97.4 398.9H105.2V406.7H97.4zM204.3 398.9H212.2V406.7H204.3zM296.0 398.9H303.9V406.7H296.0zM97.4 406.5H112.9V414.2H97.4zM189.1 406.5H196.9V414.2H189.1zM273.1 406.5H280.9V414.2H273.1zM288.4 406.5H296.2V414.2H288.4zM5.7 414.0H13.5V421.8H5.7zM21.0 414.0H28.8V421.8H21.0zM43.9 414.0H51.7V421.8H43.9zM74.5 414.0H82.3V421.8H74.5zM89.7 414.0H97.6V421.8H89.7zM105.0 414.0H112.9V421.8H105.0zM212.0 414.0H219.8V421.8H212.0zM227.3 414.0H235.1V421.8H227.3zM250.2 414.0H265.7V421.8H250.2zM303.7 414.0H311.5V421.8H303.7zM341.9 414.0H349.7V421.8H341.9zM43.9 421.6H51.7V429.3H43.9zM89.7 421.6H97.6V429.3H89.7zM181.4 421.6H204.5V429.3H181.4zM257.8 421.6H265.7V429.3H257.8zM334.2 421.6H342.1V429.3H334.2z"/><path fill="#efff10" d="M135.6 262.0H143.4V269.8H135.6zM28.6 323.1H36.5V330.9H28.6z"/><path fill="#0000af" d="M82.1 269.6H89.9V277.5H82.1zM36.3 300.2H44.1V308.0H36.3zM105.0 307.8H112.9V315.6H105.0zM43.9 323.1H51.7V330.9H43.9zM341.9 330.7H349.7V338.5H341.9zM127.9 338.3H135.8V346.1H127.9zM181.4 338.3H189.3V346.1H181.4zM89.7 353.5H97.6V361.3H89.7zM105.0 361.1H128.1V368.8H105.0zM303.7 361.1H311.5V368.8H303.7zM105.0 368.6H112.9V376.4H105.0zM143.2 368.6H151.1V376.4H143.2zM143.2 376.2H151.1V384.0H143.2zM296.0 376.2H303.9V384.0H296.0zM311.3 376.2H319.1V384.0H311.3zM89.7 383.8H97.6V391.6H89.7zM127.9 383.8H135.8V391.6H127.9zM173.8 383.8H181.6V391.6H173.8zM326.6 383.8H334.4V391.6H326.6zM59.2 391.4H74.7V399.1H59.2zM120.3 391.4H128.1V399.1H120.3zM135.6 391.4H143.4V399.1H135.6zM189.1 391.4H196.9V399.1H189.1zM288.4 391.4H296.2V399.1H288.4zM43.9 398.9H51.7V406.7H43.9zM66.8 398.9H82.3V406.7H66.8zM311.3 398.9H319.1V406.7H311.3zM334.2 398.9H342.1V406.7H334.2zM28.6 406.5H36.5V414.2H28.6zM51.5 406.5H59.4V414.2H51.5zM82.1 406.5H97.6V414.2H82.1zM127.9 406.5H135.8V414.2H127.9zM143.2 406.5H151.1V414.2H143.2zM234.9 406.5H242.7V414.2H234.9zM296.0 406.5H303.9V414.2H296.0zM318.9 406.5H326.8V414.2H318.9zM334.2 406.5H342.1V414.2H334.2zM82.1 414.0H89.9V421.8H82.1zM127.9 414.0H143.4V421.8H127.9zM189.1 414.0H196.9V421.8H189.1zM204.3 414.0H212.2V421.8H204.3zM219.6 414.0H227.5V421.8H219.6zM273.1 414.0H280.9V421.8H273.1zM296.0 414.0H303.9V421.8H296.0zM318.9 414.0H326.8V421.8H318.9zM13.3 421.6H21.2V429.3H13.3zM66.8 421.6H74.7V429.3H66.8zM97.4 421.6H105.2V429.3H97.4zM166.1 421.6H174.0V429.3H166.1zM273.1 421.6H280.9V429.3H273.1zM296.0 421.6H303.9V429.3H296.0zM318.9 421.6H326.8V429.3H318.9z"/><path fill="#00008f" d="M89.7 269.6H97.6V277.5H89.7zM112.7 338.3H128.1V346.1H112.7zM112.7 345.9H128.1V353.7H112.7zM334.2 345.9H342.1V353.7H334.2zM135.6 353.5H143.4V361.3H135.6zM318.9 361.1H326.8V368.8H318.9zM127.9 368.6H143.4V376.4H127.9zM311.3 368.6H334.4V376.4H311.3zM105.0 376.2H112.9V384.0H105.0zM303.7 376.2H311.5V384.0H303.7zM326.6 376.2H334.4V384.0H326.6zM66.8 383.8H82.3V391.6H66.8zM112.7 383.8H128.1V391.6H112.7zM135.6 383.8H143.4V391.6H135.6zM288.4 383.8H296.2V391.6H288.4zM311.3 383.8H326.8V391.6H311.3zM97.4 391.4H105.2V399.1H97.4zM166.1 391.4H181.6V399.1H166.1zM303.7 391.4H311.5V399.1H303.7zM334.2 391.4H342.1V399.1H334.2zM36.3 398.9H44.1V406.7H36.3zM105.0 398.9H120.5V406.7H105.0zM181.4 398.9H189.3V406.7H181.4zM212.0 398.9H219.8V406.7H212.0zM280.7 398.9H296.2V406.7H280.7zM303.7 398.9H311.5V406.7H303.7zM326.6 398.9H334.4V406.7H326.6zM13.3 406.5H28.8V414.2H13.3zM66.8 406.5H82.3V414.2H66.8zM112.7 406.5H120.5V414.2H112.7zM196.7 406.5H204.5V414.2H196.7zM212.0 406.5H219.8V414.2H212.0zM341.9 406.5H349.7V414.2H341.9zM36.3 414.0H44.1V421.8H36.3zM66.8 414.0H74.7V421.8H66.8zM150.9 414.0H158.7V421.8H150.9zM166.1 414.0H181.6V421.8H166.1zM196.7 414.0H204.5V421.8H196.7zM234.9 414.0H250.4V421.8H234.9zM5.7 421.6H13.5V429.3H5.7zM21.0 421.6H28.8V429.3H21.0zM59.2 421.6H67.0V429.3H59.2zM74.5 421.6H82.3V429.3H74.5zM112.7 421.6H120.5V429.3H112.7zM150.9 421.6H158.7V429.3H150.9zM173.8 421.6H181.6V429.3H173.8zM212.0 421.6H219.8V429.3H212.0zM227.3 421.6H242.7V429.3H227.3zM288.4 421.6H296.2V429.3H288.4zM303.7 421.6H311.5V429.3H303.7z"/><path fill="#000080" d="M36.3 307.8H44.1V315.6H36.3zM341.9 307.8H349.7V315.6H341.9zM43.9 315.4H51.7V323.3H43.9zM334.2 330.7H342.1V338.5H334.2zM326.6 338.3H349.7V346.1H326.6zM97.4 345.9H105.2V353.7H97.4zM127.9 345.9H135.8V353.7H127.9zM341.9 345.9H349.7V353.7H341.9zM112.7 353.5H120.5V361.3H112.7zM127.9 353.5H135.8V361.3H127.9zM311.3 353.5H319.1V361.3H311.3zM97.4 361.1H105.2V368.8H97.4zM311.3 361.1H319.1V368.8H311.3zM112.7 368.6H128.1V376.4H112.7zM303.7 368.6H311.5V376.4H303.7zM334.2 368.6H349.7V376.4H334.2zM89.7 376.2H97.6V384.0H89.7zM120.3 376.2H128.1V384.0H120.3zM288.4 376.2H296.2V384.0H288.4zM97.4 383.8H105.2V391.6H97.4zM280.7 383.8H288.6V391.6H280.7zM296.0 383.8H303.9V391.6H296.0zM334.2 383.8H349.7V391.6H334.2zM89.7 391.4H97.6V399.1H89.7zM112.7 391.4H120.5V399.1H112.7zM158.5 391.4H166.3V399.1H158.5zM196.7 391.4H204.5V399.1H196.7zM273.1 391.4H280.9V399.1H273.1zM51.5 398.9H59.4V406.7H51.5zM82.1 398.9H89.9V406.7H82.1zM120.3 398.9H128.1V406.7H120.3zM150.9 398.9H181.6V406.7H150.9zM189.1 398.9H204.5V406.7H189.1zM273.1 398.9H280.9V406.7H273.1zM318.9 398.9H326.8V406.7H318.9zM341.9 398.9H349.7V406.7H341.9zM36.3 406.5H51.7V414.2H36.3zM59.2 406.5H67.0V414.2H59.2zM135.6 406.5H143.4V414.2H135.6zM150.9 406.5H174.0V414.2H150.9zM227.3 406.5H235.1V414.2H227.3zM242.5 406.5H250.4V414.2H242.5zM280.7 406.5H288.6V414.2H280.7zM311.3 406.5H319.1V414.2H311.3zM13.3 414.0H21.2V421.8H13.3zM28.6 414.0H36.5V421.8H28.6zM51.5 414.0H67.0V421.8H51.5zM120.3 414.0H128.1V421.8H120.3zM181.4 414.0H189.3V421.8H181.4zM265.5 414.0H273.3V421.8H265.5zM280.7 414.0H296.2V421.8H280.7zM326.6 414.0H342.1V421.8H326.6zM28.6 421.6H44.1V429.3H28.6zM51.5 421.6H59.4V429.3H51.5zM82.1 421.6H89.9V429.3H82.1zM105.0 421.6H112.9V429.3H105.0zM120.3 421.6H151.1V429.3H120.3zM204.3 421.6H212.2V429.3H204.3zM219.6 421.6H227.5V429.3H219.6zM242.5 421.6H258.0V429.3H242.5zM280.7 421.6H288.6V429.3H280.7zM311.3 421.6H319.1V429.3H311.3zM326.6 421.6H334.4V429.3H326.6zM341.9 421.6H349.7V429.3H341.9z"/></g><use href="#landg"/><path d="M6.2,414.0 L22.3,420.5 L39.5,411.9 L61.0,390.4 L82.6,375.3 L97.6,347.3 L112.7,336.6 L129.9,334.4 L136.3,345.2 L134.2,362.4 L145.0,368.9 L117.0,401.1 L108.4,427.6" fill="none" stroke="#000" stroke-width="1.0"/><path d="M82.6,427.6 L117.0,401.1 L151.4,371.0 L164.3,377.5 L190.1,390.4 L190.1,407.6 L205.2,405.4 L218.1,399.0 L228.9,401.1 L233.2,418.3 L243.9,407.6 L259.0,407.6 L274.0,427.6" fill="none" stroke="#000" stroke-width="1.0"/><path d="M274.0,390.4 L293.4,379.6 L308.5,362.4 L317.1,353.8 L325.7,336.6 L319.2,332.3 L327.8,317.2 L342.9,300.0" fill="none" stroke="#000" stroke-width="1.0"/><path d="M151.4,345.2 L164.3,358.1 L160.0,368.9 L151.4,358.1" fill="none" stroke="#000" stroke-width="1.0"/><path d="M37.4,310.8 L48.1,323.7 L54.6,336.6 L52.4,328.0" fill="none" stroke="#000" stroke-width="1.0"/><text x="0" y="0" font-size="14" transform="translate(95.5,268.8) rotate(-20)" text-anchor="middle" dy="5">3</text><text x="0" y="0" font-size="14" transform="translate(54.6,334.4) rotate(30)" text-anchor="middle" dy="5">3</text><text x="0" y="0" font-size="14" transform="translate(97.6,417.3) rotate(-30)" text-anchor="middle" dy="5">3</text><text x="0" y="0" font-size="14" transform="translate(151.4,350.6) rotate(60)" text-anchor="middle" dy="5">3</text><text x="0" y="0" font-size="14" transform="translate(168.6,373.2) rotate(60)" text-anchor="middle" dy="5">3</text><text x="0" y="0" font-size="14" transform="translate(295.6,374.2) rotate(-60)" text-anchor="middle" dy="5">3</text><text x="0" y="0" font-size="14" transform="translate(26.6,421.6) rotate(-20)" text-anchor="middle" dy="5">3</text><path d="M58.099999999999994,47.0h17.0M66.6,38.5v17.0M60.599999999999994,41.0l12.0,12.0M60.599999999999994,53.0l12.0,-12.0" stroke="#f00" stroke-width="1.1" fill="none"/><path d="M96.0,157.5h17.0M104.5,149.0v17.0M98.5,151.5l12.0,12.0M98.5,163.5l12.0,-12.0" stroke="#f00" stroke-width="1.1" fill="none"/><path d="M104.8,250h17.0M113.3,241.5v17.0M107.3,244.0l12.0,12.0M107.3,256.0l12.0,-12.0" stroke="#f00" stroke-width="1.1" fill="none"/><path d="M53.5,271h17.0M62,262.5v17.0M56.0,265.0l12.0,12.0M56.0,277.0l12.0,-12.0" stroke="#f00" stroke-width="1.1" fill="none"/><path d="M1.0,320.2h17.0M9.5,311.7v17.0M3.5,314.2l12.0,12.0M3.5,326.2l12.0,-12.0" stroke="#f00" stroke-width="1.1" fill="none"/></g><rect x="0" y="0" width="348" height="427.5" fill="none" stroke="#000" stroke-width="1.2"/><rect x="4.1" y="20.2" width="112.5" height="24.5" fill="url(#jetg)" stroke="#262626" stroke-width="1"/><text x="4.5" y="6.8" font-size="16.5" text-anchor="middle" style="fill:#262626">0</text><text x="102.5" y="6.8" font-size="16.5" text-anchor="middle" style="fill:#262626">50</text><text x="284.5" y="37.2" font-size="20.5">10 km</text><line x1="306" y1="43.2" x2="321" y2="43.2" stroke="#000" stroke-width="4" stroke-linecap="round"/></g><text x="836.0" y="150.3" font-size="22" text-anchor="end">37°N</text><text x="838.0" y="220.55" font-size="16.5" text-anchor="end">30'</text><text x="836.0" y="292.8" font-size="22" text-anchor="end">36°N</text><text x="838.0" y="363.05" font-size="16.5" text-anchor="end">30'</text><text x="836.0" y="435.3" font-size="22" text-anchor="end">35°N</text><text x="838.0" y="505.55" font-size="16.5" text-anchor="end">30'</text><text x="836.0" y="577.8" font-size="22" text-anchor="end">34°N</text><text x="843.5" y="587.2" font-size="16.5" text-anchor="middle">30'</text><text x="904.5" y="591.5" font-size="21" text-anchor="middle">76°W</text><text x="959.5" y="587.2" font-size="16.5" text-anchor="middle">30'</text><text x="1020.5" y="591.5" font-size="21" text-anchor="middle">75°W</text><text x="1075.5" y="587.2" font-size="16.5" text-anchor="middle">30'</text><text x="1136.5" y="591.5" font-size="21" text-anchor="middle">74°W</text><text x="1191.5" y="587.2" font-size="16.5" text-anchor="middle">30'</text><g transform="translate(1227.5,142.5)"><g clip-path="url(#axclip)"><line x1="58" y1="0" x2="58" y2="427.5" stroke="#c4c4c4" stroke-width="1" stroke-dasharray="2,6"/><line x1="116" y1="0" x2="116" y2="427.5" stroke="#c4c4c4" stroke-width="1" stroke-dasharray="2,6"/><line x1="174" y1="0" x2="174" y2="427.5" stroke="#c4c4c4" stroke-width="1" stroke-dasharray="2,6"/><line x1="232" y1="0" x2="232" y2="427.5" stroke="#c4c4c4" stroke-width="1" stroke-dasharray="2,6"/><line x1="290" y1="0" x2="290" y2="427.5" stroke="#c4c4c4" stroke-width="1" stroke-dasharray="2,6"/><line x1="0" y1="71.25" x2="348" y2="71.25" stroke="#c4c4c4" stroke-width="1" stroke-dasharray="2,6"/><line x1="0" y1="142.5" x2="348" y2="142.5" stroke="#c4c4c4" stroke-width="1" stroke-dasharray="2,6"/><line x1="0" y1="213.75" x2="348" y2="213.75" stroke="#c4c4c4" stroke-width="1" stroke-dasharray="2,6"/><line x1="0" y1="285.0" x2="348" y2="285.0" stroke="#c4c4c4" stroke-width="1" stroke-dasharray="2,6"/><line x1="0" y1="356.25" x2="348" y2="356.25" stroke="#c4c4c4" stroke-width="1" stroke-dasharray="2,6"/><g shape-rendering="crispEdges"><path fill="#ffc800" d="M66.8 -1.2H151.1V6.8H66.8zM288.4 -1.2H303.9V6.8H288.4zM66.8 6.6H143.4V14.6H66.8zM288.4 6.6H296.2V14.6H288.4zM66.8 14.4H143.4V22.5H66.8zM66.8 22.3H151.1V30.3H66.8zM326.6 22.3H342.1V30.3H326.6zM74.5 30.1H143.4V38.1H74.5zM74.5 37.9H143.4V45.9H74.5zM288.4 37.9H319.1V45.9H288.4zM74.5 45.7H143.4V53.7H74.5zM288.4 45.7H319.1V53.7H288.4zM74.5 53.5H143.4V61.5H74.5zM280.7 53.5H349.7V61.5H280.7zM74.5 61.3H135.8V69.3H74.5zM280.7 61.3H349.7V69.3H280.7zM82.1 69.1H135.8V77.0H82.1zM250.2 69.1H349.7V77.0H250.2zM82.1 76.8H135.8V84.8H82.1zM250.2 76.8H349.7V84.8H250.2zM82.1 84.6H128.1V92.6H82.1zM250.2 84.6H349.7V92.6H250.2zM82.1 92.4H135.8V100.4H82.1zM242.5 92.4H349.7V100.4H242.5zM89.7 100.2H143.4V108.1H89.7zM242.5 100.2H349.7V108.1H242.5zM89.7 107.9H135.8V115.9H89.7zM250.2 107.9H349.7V115.9H250.2zM97.4 115.7H128.1V123.6H97.4zM257.8 115.7H349.7V123.6H257.8zM112.7 123.4H128.1V131.4H112.7zM280.7 123.4H349.7V131.4H280.7zM112.7 131.2H120.5V139.1H112.7zM280.7 131.2H349.7V139.1H280.7zM280.7 138.9H349.7V146.8H280.7zM120.3 146.6H128.1V154.6H120.3zM219.6 146.6H235.1V154.6H219.6zM257.8 146.6H349.7V154.6H257.8zM105.0 154.4H112.9V162.3H105.0zM212.0 154.4H227.5V162.3H212.0zM250.2 154.4H349.7V162.3H250.2zM120.3 162.1H128.1V170.0H120.3zM196.7 162.1H227.5V170.0H196.7zM250.2 162.1H349.7V170.0H250.2zM112.7 169.8H128.1V177.7H112.7zM189.1 169.8H235.1V177.7H189.1zM250.2 169.8H349.7V177.7H250.2zM112.7 177.5H151.1V185.4H112.7zM173.8 177.5H349.7V185.4H173.8zM120.3 185.2H158.7V193.1H120.3zM166.1 185.2H349.7V193.1H166.1zM127.9 192.9H349.7V200.8H127.9zM135.6 200.6H349.7V208.5H135.6zM135.6 208.3H349.7V216.2H135.6zM135.6 216.0H151.1V223.9H135.6zM166.1 216.0H189.3V223.9H166.1zM212.0 216.0H349.7V223.9H212.0zM135.6 223.7H151.1V231.5H135.6zM173.8 223.7H181.6V231.5H173.8zM212.0 223.7H349.7V231.5H212.0zM120.3 231.3H151.1V239.2H120.3zM173.8 231.3H189.3V239.2H173.8zM204.3 231.3H349.7V239.2H204.3zM120.3 239.0H135.8V246.9H120.3zM143.2 239.0H158.7V246.9H143.2zM166.1 239.0H349.7V246.9H166.1zM112.7 246.7H143.4V254.5H112.7zM150.9 246.7H349.7V254.5H150.9zM112.7 254.3H349.7V262.2H112.7zM74.5 262.0H89.9V269.8H74.5zM112.7 262.0H151.1V269.8H112.7zM158.5 262.0H349.7V269.8H158.5zM66.8 269.6H97.6V277.5H66.8zM112.7 269.6H151.1V277.5H112.7zM158.5 269.6H349.7V277.5H158.5zM59.2 277.3H105.2V285.1H59.2zM112.7 277.3H174.0V285.1H112.7zM189.1 277.3H288.6V285.1H189.1zM296.0 277.3H342.1V285.1H296.0zM51.5 284.9H105.2V292.8H51.5zM112.7 284.9H174.0V292.8H112.7zM196.7 284.9H204.5V292.8H196.7zM227.3 284.9H280.9V292.8H227.3zM296.0 284.9H342.1V292.8H296.0zM51.5 292.6H97.6V300.4H51.5zM105.0 292.6H120.5V300.4H105.0zM127.9 292.6H166.3V300.4H127.9zM189.1 292.6H196.9V300.4H189.1zM219.6 292.6H273.3V300.4H219.6zM288.4 292.6H342.1V300.4H288.4zM51.5 300.2H120.5V308.0H51.5zM127.9 300.2H166.3V308.0H127.9zM212.0 300.2H265.7V308.0H212.0zM288.4 300.2H334.4V308.0H288.4zM51.5 307.8H89.9V315.6H51.5zM105.0 307.8H120.5V315.6H105.0zM127.9 307.8H166.3V315.6H127.9zM204.3 307.8H265.7V315.6H204.3zM296.0 307.8H326.8V315.6H296.0zM105.0 315.4H120.5V323.3H105.0zM135.6 315.4H166.3V323.3H135.6zM196.7 315.4H258.0V323.3H196.7zM288.4 315.4H319.1V323.3H288.4zM105.0 323.1H120.5V330.9H105.0zM135.6 323.1H166.3V330.9H135.6zM196.7 323.1H250.4V330.9H196.7zM280.7 323.1H311.5V330.9H280.7zM135.6 330.7H166.3V338.5H135.6zM196.7 330.7H242.7V338.5H196.7zM280.7 330.7H311.5V338.5H280.7zM158.5 338.3H166.3V346.1H158.5zM212.0 338.3H235.1V346.1H212.0zM273.1 338.3H303.9V346.1H273.1zM21.0 345.9H28.8V353.7H21.0zM143.2 345.9H158.7V353.7H143.2zM265.5 345.9H296.2V353.7H265.5zM13.3 353.5H36.5V361.3H13.3zM143.2 353.5H158.7V361.3H143.2zM265.5 353.5H288.6V361.3H265.5zM5.7 361.1H44.1V368.8H5.7zM143.2 361.1H158.7V368.8H143.2zM219.6 361.1H242.7V368.8H219.6zM265.5 361.1H288.6V368.8H265.5zM5.7 368.6H51.7V376.4H5.7zM143.2 368.6H158.7V376.4H143.2zM219.6 368.6H242.7V376.4H219.6zM5.7 376.2H51.7V384.0H5.7zM143.2 376.2H151.1V384.0H143.2zM219.6 376.2H242.7V384.0H219.6zM112.7 414.0H120.5V421.8H112.7zM112.7 421.6H120.5V429.3H112.7z"/><path fill="#800000" d="M150.9 -1.2H288.6V6.8H150.9zM143.2 6.6H288.6V14.6H143.2zM296.0 6.6H319.1V14.6H296.0zM143.2 14.4H326.8V22.5H143.2zM150.9 22.3H326.8V30.3H150.9zM143.2 30.1H349.7V38.1H143.2zM143.2 37.9H288.6V45.9H143.2zM318.9 37.9H349.7V45.9H318.9zM143.2 45.7H288.6V53.7H143.2zM318.9 45.7H349.7V53.7H318.9zM143.2 53.5H280.9V61.5H143.2zM135.6 61.3H280.9V69.3H135.6zM135.6 69.1H250.4V77.0H135.6zM135.6 76.8H250.4V84.8H135.6zM127.9 84.6H250.4V92.6H127.9zM135.6 92.4H242.7V100.4H135.6zM143.2 100.2H242.7V108.1H143.2zM135.6 107.9H250.4V115.9H135.6zM127.9 115.7H258.0V123.6H127.9zM127.9 123.4H280.9V131.4H127.9zM120.3 131.2H280.9V139.1H120.3zM120.3 138.9H280.9V146.8H120.3zM127.9 146.6H219.8V154.6H127.9zM234.9 146.6H258.0V154.6H234.9zM120.3 154.4H212.2V162.3H120.3zM227.3 154.4H250.4V162.3H227.3zM127.9 162.1H196.9V170.0H127.9zM227.3 162.1H250.4V170.0H227.3zM127.9 169.8H189.3V177.7H127.9zM234.9 169.8H250.4V177.7H234.9zM150.9 177.5H174.0V185.4H150.9zM158.5 185.2H166.3V193.1H158.5zM150.9 216.0H166.3V223.9H150.9zM189.1 216.0H212.2V223.9H189.1zM150.9 223.7H174.0V231.5H150.9zM181.4 223.7H212.2V231.5H181.4zM150.9 231.3H174.0V239.2H150.9zM189.1 231.3H204.5V239.2H189.1zM135.6 239.0H143.4V246.9H135.6zM158.5 239.0H166.3V246.9H158.5zM143.2 246.7H151.1V254.5H143.2zM150.9 262.0H158.7V269.8H150.9zM150.9 269.6H158.7V277.5H150.9zM105.0 277.3H112.9V285.1H105.0zM173.8 277.3H189.3V285.1H173.8zM105.0 284.9H112.9V292.8H105.0zM173.8 284.9H196.9V292.8H173.8zM97.4 292.6H105.2V300.4H97.4zM173.8 292.6H189.3V300.4H173.8z"/><path fill="#00ddff" d="M303.7 -1.2H349.7V6.8H303.7zM318.9 6.6H349.7V14.6H318.9zM326.6 14.4H349.7V22.5H326.6zM341.9 22.3H349.7V30.3H341.9zM97.4 123.4H112.9V131.4H97.4zM97.4 131.2H112.9V139.1H97.4zM105.0 138.9H120.5V146.8H105.0zM105.0 146.6H120.5V154.6H105.0zM112.7 154.4H120.5V162.3H112.7zM112.7 162.1H120.5V170.0H112.7zM120.3 192.9H128.1V200.8H120.3zM120.3 200.6H135.8V208.5H120.3zM120.3 208.3H135.8V216.2H120.3zM120.3 216.0H135.8V223.9H120.3zM120.3 223.7H135.8V231.5H120.3zM89.7 254.3H112.9V262.2H89.7zM89.7 262.0H112.9V269.8H89.7zM97.4 269.6H112.9V277.5H97.4zM288.4 277.3H296.2V285.1H288.4zM341.9 277.3H349.7V285.1H341.9zM204.3 284.9H227.5V292.8H204.3zM280.7 284.9H296.2V292.8H280.7zM341.9 284.9H349.7V292.8H341.9zM120.3 292.6H128.1V300.4H120.3zM166.1 292.6H174.0V300.4H166.1zM196.7 292.6H219.8V300.4H196.7zM273.1 292.6H288.6V300.4H273.1zM341.9 292.6H349.7V300.4H341.9zM36.3 300.2H51.7V308.0H36.3zM120.3 300.2H128.1V308.0H120.3zM166.1 300.2H212.2V308.0H166.1zM265.5 300.2H288.6V308.0H265.5zM334.2 300.2H349.7V308.0H334.2zM28.6 307.8H51.7V315.6H28.6zM89.7 307.8H105.2V315.6H89.7zM120.3 307.8H128.1V315.6H120.3zM166.1 307.8H204.5V315.6H166.1zM265.5 307.8H296.2V315.6H265.5zM326.6 307.8H349.7V315.6H326.6zM21.0 315.4H105.2V323.3H21.0zM120.3 315.4H135.8V323.3H120.3zM166.1 315.4H196.9V323.3H166.1zM257.8 315.4H288.6V323.3H257.8zM318.9 315.4H349.7V323.3H318.9zM13.3 323.1H105.2V330.9H13.3zM120.3 323.1H135.8V330.9H120.3zM166.1 323.1H196.9V330.9H166.1zM250.2 323.1H280.9V330.9H250.2zM311.3 323.1H349.7V330.9H311.3zM5.7 330.7H135.8V338.5H5.7zM166.1 330.7H196.9V338.5H166.1zM242.5 330.7H280.9V338.5H242.5zM311.3 330.7H349.7V338.5H311.3zM5.7 338.3H158.7V346.1H5.7zM166.1 338.3H212.2V346.1H166.1zM234.9 338.3H273.3V346.1H234.9zM303.7 338.3H334.4V346.1H303.7zM341.9 338.3H349.7V346.1H341.9zM5.7 345.9H21.2V353.7H5.7zM28.6 345.9H105.2V353.7H28.6zM120.3 345.9H143.4V353.7H120.3zM158.5 345.9H265.7V353.7H158.5zM296.0 345.9H349.7V353.7H296.0zM5.7 353.5H13.5V361.3H5.7zM36.3 353.5H105.2V361.3H36.3zM135.6 353.5H143.4V361.3H135.6zM158.5 353.5H265.7V361.3H158.5zM288.4 353.5H326.8V361.3H288.4zM334.2 353.5H349.7V361.3H334.2zM43.9 361.1H97.6V368.8H43.9zM135.6 361.1H143.4V368.8H135.6zM158.5 361.1H219.8V368.8H158.5zM242.5 361.1H265.7V368.8H242.5zM288.4 361.1H349.7V368.8H288.4zM51.5 368.6H89.9V376.4H51.5zM127.9 368.6H143.4V376.4H127.9zM158.5 368.6H219.8V376.4H158.5zM242.5 368.6H342.1V376.4H242.5zM51.5 376.2H82.3V384.0H51.5zM112.7 376.2H143.4V384.0H112.7zM150.9 376.2H174.0V384.0H150.9zM181.4 376.2H219.8V384.0H181.4zM242.5 376.2H349.7V384.0H242.5zM5.7 383.8H74.7V391.6H5.7zM105.0 383.8H143.4V391.6H105.0zM181.4 383.8H296.2V391.6H181.4zM303.7 383.8H334.4V391.6H303.7zM341.9 383.8H349.7V391.6H341.9zM5.7 391.4H67.0V399.1H5.7zM97.4 391.4H135.8V399.1H97.4zM189.1 391.4H334.4V399.1H189.1zM341.9 391.4H349.7V399.1H341.9zM5.7 398.9H59.4V406.7H5.7zM89.7 398.9H135.8V406.7H89.7zM181.4 398.9H326.8V406.7H181.4zM341.9 398.9H349.7V406.7H341.9zM5.7 406.5H51.7V414.2H5.7zM82.1 406.5H128.1V414.2H82.1zM181.4 406.5H319.1V414.2H181.4zM341.9 406.5H349.7V414.2H341.9zM5.7 414.0H51.7V421.8H5.7zM66.8 414.0H112.9V421.8H66.8zM120.3 414.0H128.1V421.8H120.3zM181.4 414.0H196.9V421.8H181.4zM204.3 414.0H319.1V421.8H204.3zM341.9 414.0H349.7V421.8H341.9zM28.6 421.6H51.7V429.3H28.6zM59.2 421.6H112.9V429.3H59.2zM120.3 421.6H128.1V429.3H120.3zM181.4 421.6H196.9V429.3H181.4zM204.3 421.6H242.7V429.3H204.3zM250.2 421.6H296.2V429.3H250.2z"/><path fill="#000080" d="M43.9 292.6H51.7V300.4H43.9zM334.2 338.3H342.1V346.1H334.2zM105.0 345.9H120.5V353.7H105.0zM105.0 353.5H135.8V361.3H105.0zM326.6 353.5H334.4V361.3H326.6zM97.4 361.1H135.8V368.8H97.4zM89.7 368.6H128.1V376.4H89.7zM341.9 368.6H349.7V376.4H341.9zM82.1 376.2H112.9V384.0H82.1zM173.8 376.2H181.6V384.0H173.8zM74.5 383.8H105.2V391.6H74.5zM143.2 383.8H181.6V391.6H143.2zM296.0 383.8H303.9V391.6H296.0zM334.2 383.8H342.1V391.6H334.2zM66.8 391.4H97.6V399.1H66.8zM135.6 391.4H189.3V399.1H135.6zM334.2 391.4H342.1V399.1H334.2zM59.2 398.9H89.9V406.7H59.2zM135.6 398.9H181.6V406.7H135.6zM326.6 398.9H342.1V406.7H326.6zM51.5 406.5H82.3V414.2H51.5zM127.9 406.5H181.6V414.2H127.9zM318.9 406.5H342.1V414.2H318.9zM51.5 414.0H67.0V421.8H51.5zM127.9 414.0H181.6V421.8H127.9zM196.7 414.0H204.5V421.8H196.7zM318.9 414.0H342.1V421.8H318.9zM5.7 421.6H28.8V429.3H5.7zM51.5 421.6H59.4V429.3H51.5zM127.9 421.6H181.6V429.3H127.9zM196.7 421.6H204.5V429.3H196.7zM242.5 421.6H250.4V429.3H242.5zM296.0 421.6H349.7V429.3H296.0z"/></g><use href="#landg"/><path d="M289.0,-0.3 L296.6,7.2 L289.0,14.7 L296.6,14.7 L303.0,7.2 L319.2,7.2 L325.6,14.7 L325.6,22.2 L341.7,38.4 L348.2,45.9" fill="none" stroke="#000" stroke-width="1.0"/><path d="M105.1,124.4 L112.6,130.9 L112.6,139.5 L120.1,146.0 L120.1,169.6" fill="none" stroke="#000" stroke-width="1.0"/><path d="M121.2,193.3 L135.2,208.3 L135.2,217.6" fill="none" stroke="#000" stroke-width="1.0"/><path d="M51.3,316.2 L68.5,316.2 L75.0,315.1 L82.5,323.7 L90.0,316.2 L90.0,308.6 L97.5,304.3 L105.1,308.6 L105.1,331.2 L120.1,331.2 L120.1,323.7 L113.7,316.2 L113.7,293.6 L121.2,293.6 L128.7,302.2 L128.7,316.2 L136.3,323.7 L136.3,338.7 L158.9,338.7 L158.9,346.3 L166.4,346.3" fill="none" stroke="#000" stroke-width="1.0"/><path d="M158.9,323.7 L158.9,300.0 L167.5,293.6 L173.9,300.0 L181.5,304.3 L189.0,302.2 L196.5,297.9 L204.0,286.0 L221.3,286.0 L227.7,293.6 L212.7,308.6 L204.0,308.6 L204.0,316.2 L196.5,323.7 L196.5,338.7 L220.2,338.7 L227.7,346.3 L235.2,338.7 L242.8,331.2 L250.3,331.2 L257.8,323.7 L265.4,316.2 L265.4,301.1 L272.9,293.6 L289.0,277.4 L296.6,286.0 L289.0,293.6 L289.0,301.1 L296.6,308.6 L289.0,316.2 L281.5,331.2 L265.4,353.8 L265.4,368.9 L281.5,368.9 L281.5,353.8 L296.6,338.7 L311.6,323.7 L326.7,308.6 L335.3,293.6 L341.7,278.5 L348.2,278.5" fill="none" stroke="#000" stroke-width="1.0"/><path d="M5.7,366.7 L21.2,354.9 L43.8,376.4 L43.8,383.9 L13.6,383.9 L5.7,377.5" fill="none" stroke="#000" stroke-width="1.0"/><path d="M220.2,368.9 L235.2,368.9 L235.2,383.9 L220.2,383.9 L220.2,368.9" fill="none" stroke="#000" stroke-width="1.0"/><path d="M136.3,376.4 L151.3,361.3 L158.9,368.9 L151.3,383.9 L143.8,383.9 L136.3,376.4" fill="none" stroke="#000" stroke-width="1.0"/><path d="M82.5,269.9 L82.5,278.5 L90.0,286.0 L97.5,286.0 L105.1,278.5 L113.7,271.0 L120.1,278.5 L120.1,286.0 L113.7,293.6" fill="none" stroke="#000" stroke-width="1.0"/><path d="M121.2,224.7 L128.7,231.2 L135.2,231.2 L135.2,216.1" fill="none" stroke="#000" stroke-width="1.0"/><text x="0" y="0" font-size="14" transform="translate(59.9,324.4) rotate(0)" text-anchor="middle">2</text><text x="0" y="0" font-size="14" transform="translate(109.4,274.9) rotate(80)" text-anchor="middle">2</text><text x="0" y="0" font-size="14" transform="translate(156.7,290.0) rotate(-70)" text-anchor="middle">2</text><text x="0" y="0" font-size="14" transform="translate(161.0,324.4) rotate(-80)" text-anchor="middle">2</text><text x="0" y="0" font-size="14" transform="translate(266.4,317.9) rotate(-60)" text-anchor="middle">2</text><text x="0" y="0" font-size="14" transform="translate(324.5,315.8) rotate(-60)" text-anchor="middle">2</text><text x="0" y="0" font-size="14" transform="translate(146.0,376.0) rotate(-60)" text-anchor="middle">2</text><text x="0" y="0" font-size="14" transform="translate(232.0,378.2) rotate(80)" text-anchor="middle">2</text><text x="0" y="0" font-size="14" transform="translate(42.7,380.3) rotate(80)" text-anchor="middle">2</text><path d="M58.099999999999994,47.0h17.0M66.6,38.5v17.0M60.599999999999994,41.0l12.0,12.0M60.599999999999994,53.0l12.0,-12.0" stroke="#f00" stroke-width="1.1" fill="none"/><path d="M96.0,157.5h17.0M104.5,149.0v17.0M98.5,151.5l12.0,12.0M98.5,163.5l12.0,-12.0" stroke="#f00" stroke-width="1.1" fill="none"/><path d="M104.8,250h17.0M113.3,241.5v17.0M107.3,244.0l12.0,12.0M107.3,256.0l12.0,-12.0" stroke="#f00" stroke-width="1.1" fill="none"/><path d="M53.5,271h17.0M62,262.5v17.0M56.0,265.0l12.0,12.0M56.0,277.0l12.0,-12.0" stroke="#f00" stroke-width="1.1" fill="none"/><path d="M1.0,320.2h17.0M9.5,311.7v17.0M3.5,314.2l12.0,12.0M3.5,326.2l12.0,-12.0" stroke="#f00" stroke-width="1.1" fill="none"/></g><rect x="0" y="0" width="348" height="427.5" fill="none" stroke="#000" stroke-width="1.2"/><rect x="4.1" y="20.2" width="112.5" height="24.5" fill="url(#jetg)" stroke="#262626" stroke-width="1"/><text x="3.5" y="6.8" font-size="16.5" text-anchor="middle" style="fill:#262626">0</text><text x="42" y="6.8" font-size="16.5" text-anchor="middle" style="fill:#262626">1</text><text x="77.2" y="6.8" font-size="16.5" text-anchor="middle" style="fill:#262626">2</text><text x="115.3" y="6.8" font-size="16.5" text-anchor="middle" style="fill:#262626">3</text><text x="284.5" y="37.2" font-size="20.5">10 km</text><line x1="306" y1="43.2" x2="321" y2="43.2" stroke="#000" stroke-width="4" stroke-linecap="round"/></g><text x="1220.0" y="150.3" font-size="22" text-anchor="end">37°N</text><text x="1222.0" y="220.55" font-size="16.5" text-anchor="end">30'</text><text x="1220.0" y="292.8" font-size="22" text-anchor="end">36°N</text><text x="1222.0" y="363.05" font-size="16.5" text-anchor="end">30'</text><text x="1220.0" y="435.3" font-size="22" text-anchor="end">35°N</text><text x="1222.0" y="505.55" font-size="16.5" text-anchor="end">30'</text><text x="1220.0" y="577.8" font-size="22" text-anchor="end">34°N</text><text x="1227.5" y="587.2" font-size="16.5" text-anchor="middle">30'</text><text x="1288.5" y="591.5" font-size="21" text-anchor="middle">76°W</text><text x="1343.5" y="587.2" font-size="16.5" text-anchor="middle">30'</text><text x="1404.5" y="591.5" font-size="21" text-anchor="middle">75°W</text><text x="1459.5" y="587.2" font-size="16.5" text-anchor="middle">30'</text><text x="1520.5" y="591.5" font-size="21" text-anchor="middle">74°W</text><text x="1575.5" y="587.2" font-size="16.5" text-anchor="middle">30'</text><g transform="translate(75,742.5)"><g clip-path="url(#axclip)"><line x1="58" y1="0" x2="58" y2="427.5" stroke="#c4c4c4" stroke-width="1" stroke-dasharray="2,6"/><line x1="116" y1="0" x2="116" y2="427.5" stroke="#c4c4c4" stroke-width="1" stroke-dasharray="2,6"/><line x1="174" y1="0" x2="174" y2="427.5" stroke="#c4c4c4" stroke-width="1" stroke-dasharray="2,6"/><line x1="232" y1="0" x2="232" y2="427.5" stroke="#c4c4c4" stroke-width="1" stroke-dasharray="2,6"/><line x1="290" y1="0" x2="290" y2="427.5" stroke="#c4c4c4" stroke-width="1" stroke-dasharray="2,6"/><line x1="0" y1="71.25" x2="348" y2="71.25" stroke="#c4c4c4" stroke-width="1" stroke-dasharray="2,6"/><line x1="0" y1="142.5" x2="348" y2="142.5" stroke="#c4c4c4" stroke-width="1" stroke-dasharray="2,6"/><line x1="0" y1="213.75" x2="348" y2="213.75" stroke="#c4c4c4" stroke-width="1" stroke-dasharray="2,6"/><line x1="0" y1="285.0" x2="348" y2="285.0" stroke="#c4c4c4" stroke-width="1" stroke-dasharray="2,6"/><line x1="0" y1="356.25" x2="348" y2="356.25" stroke="#c4c4c4" stroke-width="1" stroke-dasharray="2,6"/><g shape-rendering="crispEdges"></g><use href="#landg"/><path stroke="#0000ff" stroke-width="2.7" stroke-linecap="round" fill="none" d="M65.6 35.0h0M66.6 35.0h0M67.6 35.0h0M68.7 35.2h0M69.7 35.4h0M70.7 35.7h0M71.7 36.1h0M72.6 36.6h0M73.5 37.2h0M74.3 37.8h0M75.1 38.5h0M75.8 39.3h0M76.4 40.1h0M77.0 41.0h0M77.5 41.9h0M77.9 42.9h0M78.2 43.9h0M78.4 44.9h0M78.6 46.0h0M78.6 47.0h0M78.6 48.0h0M78.4 49.1h0M78.2 50.1h0M77.9 51.1h0M77.5 52.1h0M77.0 53.0h0M76.4 53.9h0M75.8 54.7h0M75.1 55.5h0M74.3 56.2h0M73.5 56.8h0M72.6 57.4h0M63.2 27.8h0M64.9 27.6h0M66.6 27.5h0M68.3 27.6h0M70.0 27.8h0M71.6 28.2h0M73.3 28.7h0M74.8 29.3h0M76.3 30.1h0M77.8 31.0h0M79.1 32.1h0M80.4 33.2h0M81.5 34.5h0M82.6 35.8h0M83.5 37.2h0M84.3 38.8h0M84.9 40.3h0M85.4 42.0h0M85.8 43.6h0M86.0 45.3h0M86.1 47.0h0M86.0 48.7h0M85.8 50.4h0M85.4 52.0h0M84.9 53.7h0M84.3 55.2h0M83.5 56.8h0M82.6 58.2h0M81.5 59.5h0M80.4 60.8h0M79.1 61.9h0M77.8 63.0h0M76.3 63.9h0M61.9 20.4h0M64.2 20.1h0M66.6 20.0h0M69.0 20.1h0M71.3 20.4h0M73.6 20.9h0M75.8 21.6h0M78.0 22.5h0M80.1 23.6h0M82.1 24.9h0M84.0 26.3h0M85.7 27.9h0M87.3 29.6h0M88.7 31.5h0M90.0 33.5h0M91.1 35.6h0M92.0 37.8h0M92.7 40.0h0M93.2 42.3h0M93.5 44.6h0M93.6 47.0h0M93.5 49.4h0M93.2 51.7h0M92.7 54.0h0M92.0 56.2h0M91.1 58.4h0M90.0 60.5h0M88.7 62.5h0M87.3 64.4h0M85.7 66.1h0M84.0 67.7h0M82.1 69.1h0M80.1 70.4h0M60.6 13.0h0M63.6 12.6h0M66.6 12.5h0M69.6 12.6h0M72.6 13.0h0M75.5 13.7h0M78.4 14.6h0M81.2 15.7h0M83.8 17.1h0M86.4 18.7h0M88.8 20.6h0M91.0 22.6h0M93.0 24.8h0M94.9 27.2h0M96.5 29.8h0M97.9 32.4h0M99.0 35.2h0M99.9 38.1h0M100.6 41.0h0M101.0 44.0h0M101.1 47.0h0M101.0 50.0h0M100.6 53.0h0M99.9 55.9h0M99.0 58.8h0M97.9 61.6h0M96.5 64.2h0M94.9 66.8h0M93.0 69.2h0M91.0 71.4h0M88.8 73.4h0M86.4 75.3h0M83.8 76.9h0M59.3 5.6h0M62.9 5.2h0M66.6 5.0h0M70.3 5.2h0M73.9 5.6h0M77.5 6.4h0M81.0 7.5h0M84.3 8.9h0M87.6 10.6h0M90.7 12.6h0M93.6 14.8h0M96.3 17.3h0M98.8 20.0h0M101.0 22.9h0M103.0 26.0h0M104.7 29.3h0M106.1 32.6h0M107.2 36.1h0M108.0 39.7h0M108.4 43.3h0M108.6 47.0h0M108.4 50.7h0M108.0 54.3h0M107.2 57.9h0M106.1 61.4h0M104.7 64.7h0M103.0 68.0h0M101.0 71.1h0M98.8 74.0h0M96.3 76.7h0M93.6 79.2h0M90.7 81.4h0M87.6 83.4h0M79.4 -0.8h0M83.5 0.5h0M87.5 2.1h0M91.3 4.1h0M95.0 6.5h0M98.4 9.1h0M101.6 12.0h0M104.5 15.2h0M107.1 18.6h0M109.5 22.3h0M111.5 26.1h0M113.1 30.1h0M114.4 34.2h0M115.3 38.4h0M115.9 42.7h0M116.1 47.0h0M115.9 51.3h0M115.3 55.6h0M114.4 59.8h0M113.1 63.9h0M111.5 67.9h0M109.5 71.8h0M107.1 75.4h0M104.5 78.8h0M101.6 82.0h0M98.4 84.9h0M95.0 87.5h0M91.3 89.9h0M99.3 0.3h0M103.2 3.3h0M106.9 6.7h0M110.3 10.4h0M113.3 14.3h0M116.0 18.5h0M118.3 22.9h0M120.2 27.5h0M121.7 32.2h0M122.7 37.1h0M123.4 42.0h0M123.6 47.0h0M123.4 52.0h0M122.7 56.9h0M121.7 61.8h0M120.2 66.5h0M118.3 71.1h0M116.0 75.5h0M113.3 79.7h0M110.3 83.6h0M106.9 87.3h0M103.2 90.7h0M99.3 93.7h0M95.1 96.4h0M112.2 1.4h0M116.0 5.5h0M119.4 10.0h0M122.5 14.8h0M125.1 19.7h0M127.2 24.9h0M128.9 30.3h0M130.1 35.8h0M130.9 41.4h0M131.1 47.0h0M130.9 52.6h0M130.1 58.2h0M128.9 63.7h0M127.2 69.1h0M125.1 74.3h0M122.5 79.2h0M119.4 84.0h0M116.0 88.5h0M112.2 92.6h0M108.1 96.4h0M103.6 99.8h0M98.8 102.9h0M121.8 0.7h0M125.6 5.7h0M129.0 11.0h0M131.9 16.6h0M134.3 22.4h0M136.1 28.4h0M137.5 34.5h0M138.3 40.7h0M138.6 47.0h0M138.3 53.3h0M137.5 59.5h0M136.1 65.6h0M134.3 71.6h0M131.9 77.4h0M129.0 83.0h0M125.6 88.3h0M121.8 93.3h0M117.5 97.9h0M112.9 102.2h0M107.9 106.0h0M102.6 109.4h0M131.7 1.4h0M135.4 7.3h0M138.7 13.4h0M141.3 19.8h0M143.4 26.4h0M144.9 33.2h0M145.8 40.1h0M146.1 47.0h0M145.8 53.9h0M144.9 60.8h0M143.4 67.6h0M141.3 74.2h0M138.7 80.6h0M135.4 86.8h0M131.7 92.6h0M127.5 98.1h0M122.8 103.2h0M117.7 107.9h0M112.2 112.1h0M106.3 115.8h0M141.9 3.5h0M145.4 10.2h0M148.4 17.2h0M150.6 24.5h0M152.3 31.9h0M153.3 39.4h0M153.6 47.0h0M153.3 54.6h0M152.3 62.1h0M150.6 69.5h0M148.4 76.8h0M145.4 83.8h0M141.9 90.5h0M137.9 96.9h0M133.2 102.9h0M128.1 108.5h0M122.5 113.6h0M116.5 118.3h0M110.1 122.3h0M148.4 -0.2h0M152.2 7.1h0M155.4 14.7h0M157.9 22.5h0M159.7 30.6h0M160.7 38.8h0M161.1 47.0h0M160.7 55.2h0M159.7 63.4h0M157.9 71.5h0M155.4 79.3h0M152.2 86.9h0M148.4 94.2h0M144.0 101.2h0M139.0 107.7h0M133.4 113.8h0M127.3 119.4h0M120.8 124.4h0M113.8 128.8h0M159.0 3.9h0M162.4 12.1h0M165.1 20.6h0M167.1 29.3h0M168.2 38.1h0M168.6 47.0h0M168.2 55.9h0M167.1 64.7h0M165.1 73.4h0M162.4 81.9h0M159.0 90.1h0M154.9 98.0h0M150.2 105.5h0M144.7 112.6h0M138.7 119.1h0M132.2 125.1h0M125.1 130.6h0M117.6 135.3h0M165.8 0.7h0M169.5 9.5h0M172.4 18.7h0M174.4 28.0h0M175.7 37.5h0M176.1 47.0h0M175.7 56.5h0M174.4 66.0h0M172.4 75.3h0M169.5 84.5h0M165.8 93.3h0M161.4 101.8h0M156.3 109.8h0M150.5 117.4h0M144.0 124.4h0M137.0 130.9h0M129.4 136.7h0M121.4 141.8h0M176.5 7.0h0M179.6 16.7h0M181.8 26.7h0M183.2 36.8h0M183.6 47.0h0M183.2 57.2h0M181.8 67.3h0M179.6 77.3h0M176.5 87.0h0M172.6 96.4h0M167.9 105.5h0M162.4 114.1h0M156.2 122.2h0M149.3 129.7h0M141.8 136.6h0M133.7 142.8h0M125.1 148.3h0M183.6 4.4h0M186.9 14.8h0M189.2 25.4h0M190.6 36.1h0M191.1 47.0h0M190.6 57.9h0M189.2 68.6h0M186.9 79.2h0M183.6 89.6h0M179.4 99.6h0M174.4 109.2h0M168.6 118.4h0M162.0 127.0h0M154.6 135.0h0M146.6 142.4h0M138.0 149.0h0M128.9 154.8h0M190.6 1.9h0M194.1 12.8h0M196.6 24.1h0M198.1 35.5h0M198.6 47.0h0M198.1 58.5h0M196.6 69.9h0M194.1 81.2h0M190.6 92.1h0M186.2 102.8h0M180.9 113.0h0M174.7 122.7h0M167.7 131.8h0M159.9 140.3h0M151.4 148.1h0M142.3 155.1h0M132.6 161.3h0M197.7 -0.7h0M201.3 10.9h0M204.0 22.8h0M205.6 34.8h0M206.1 47.0h0M205.6 59.2h0M204.0 71.2h0M201.3 83.1h0M197.7 94.7h0M193.0 106.0h0M187.4 116.7h0M180.9 127.0h0M173.5 136.7h0M165.2 145.6h0M156.3 153.9h0M146.6 161.3h0M136.4 167.8h0M208.6 9.0h0M211.4 21.5h0M213.0 34.2h0M213.6 47.0h0M213.0 59.8h0M211.4 72.5h0M208.6 85.0h0M204.7 97.3h0M199.8 109.1h0M193.9 120.5h0M187.0 131.3h0M179.2 141.5h0M170.5 150.9h0M161.1 159.6h0M150.9 167.4h0M140.1 174.3h0M215.8 7.0h0M218.8 20.2h0M220.5 33.5h0M221.1 47.0h0M220.5 60.5h0M218.8 73.8h0M215.8 87.0h0M211.8 99.8h0M206.6 112.3h0M200.4 124.2h0M193.2 135.6h0M185.0 146.3h0M175.8 156.2h0M165.9 165.4h0M155.2 173.6h0M143.9 180.8h0M223.1 5.1h0M226.1 18.9h0M228.0 32.9h0M228.6 47.0h0M228.0 61.1h0M226.1 75.1h0M223.1 88.9h0M218.8 102.4h0M213.4 115.5h0M206.9 128.0h0M199.3 139.9h0M190.7 151.1h0M181.2 161.6h0M170.7 171.1h0M159.5 179.7h0M147.6 187.3h0M230.3 3.1h0M233.5 17.6h0M235.5 32.2h0M236.1 47.0h0M235.5 61.8h0M233.5 76.4h0M230.3 90.9h0M225.9 105.0h0M220.2 118.6h0M213.4 131.8h0M205.4 144.2h0M196.4 156.0h0M186.5 166.9h0M175.6 176.8h0M163.8 185.8h0M151.4 193.8h0M237.6 1.2h0M240.9 16.3h0M242.9 31.6h0M243.6 47.0h0M242.9 62.4h0M240.9 77.7h0M237.6 92.8h0M232.9 107.5h0M227.0 121.8h0M219.9 135.5h0M211.6 148.5h0M202.2 160.8h0M191.8 172.2h0M180.4 182.6h0M168.1 192.0h0M155.1 200.3h0M244.8 -0.8h0M248.3 15.0h0M250.4 30.9h0M251.1 47.0h0M250.4 63.1h0M248.3 79.0h0M244.8 94.8h0M240.0 110.1h0M233.8 125.0h0M226.4 139.2h0M217.7 152.8h0M207.9 165.6h0M197.1 177.5h0M185.2 188.3h0M172.4 198.1h0M158.9 206.8h0M255.7 13.7h0M257.9 30.3h0M258.6 47.0h0M257.9 63.7h0M255.7 80.3h0M252.1 96.7h0M247.0 112.7h0M240.6 128.1h0M232.9 143.0h0M223.9 157.1h0M213.7 170.4h0M202.4 182.8h0M190.0 194.1h0M176.7 204.3h0M162.6 213.3h0M263.1 12.4h0M265.3 29.6h0M266.1 47.0h0M265.3 64.4h0M263.1 81.6h0M259.3 98.6h0M254.1 115.2h0M247.4 131.3h0M239.4 146.8h0M230.0 161.4h0M219.4 175.2h0M207.7 188.1h0M194.8 199.8h0M181.0 210.4h0M166.4 219.8h0M270.5 11.1h0M272.8 29.0h0M273.6 47.0h0M272.8 65.0h0M270.5 82.9h0M266.5 100.6h0M261.1 117.8h0M254.2 134.5h0M245.9 150.5h0M236.2 165.7h0M225.2 180.1h0M213.0 193.4h0M199.7 205.6h0M185.3 216.6h0M170.1 226.3h0"/><path stroke="#ff0000" stroke-width="2.7" stroke-linecap="round" fill="none" d="M101.9 147.8h0M102.8 147.7h0M103.6 147.5h0M104.5 147.5h0M105.4 147.5h0M106.2 147.7h0M107.1 147.8h0M107.9 148.1h0M108.7 148.4h0M109.5 148.8h0M110.2 149.3h0M110.9 149.8h0M111.6 150.4h0M112.2 151.1h0M112.7 151.8h0M113.2 152.5h0M113.6 153.3h0M113.9 154.1h0M114.2 154.9h0M114.3 155.8h0M114.5 156.6h0M114.5 157.5h0M114.5 158.4h0M114.3 159.2h0M114.2 160.1h0M113.9 160.9h0M113.6 161.7h0M113.2 162.5h0M112.7 163.2h0M112.2 163.9h0M111.6 164.6h0M110.9 165.2h0M110.2 165.7h0M109.5 166.2h0M100.0 140.6h0M101.5 140.3h0M103.0 140.1h0M104.5 140.0h0M106.0 140.1h0M107.5 140.3h0M109.0 140.6h0M110.5 141.1h0M111.9 141.6h0M113.2 142.3h0M114.5 143.2h0M115.7 144.1h0M116.9 145.1h0M117.9 146.3h0M118.8 147.5h0M119.7 148.8h0M120.4 150.1h0M120.9 151.5h0M121.4 153.0h0M121.7 154.5h0M121.9 156.0h0M122.0 157.5h0M121.9 159.0h0M121.7 160.5h0M121.4 162.0h0M120.9 163.5h0M120.4 164.9h0M119.7 166.2h0M118.8 167.5h0M117.9 168.7h0M116.9 169.9h0M115.7 170.9h0M114.5 171.8h0M113.2 172.7h0M98.0 133.4h0M100.2 132.9h0M102.3 132.6h0M104.5 132.5h0M106.7 132.6h0M108.8 132.9h0M111.0 133.4h0M113.1 134.0h0M115.1 134.8h0M117.0 135.8h0M118.8 137.0h0M120.6 138.3h0M122.2 139.8h0M123.7 141.4h0M125.0 143.2h0M126.2 145.0h0M127.2 146.9h0M128.0 148.9h0M128.6 151.0h0M129.1 153.2h0M129.4 155.3h0M129.5 157.5h0M129.4 159.7h0M129.1 161.8h0M128.6 164.0h0M128.0 166.1h0M127.2 168.1h0M126.2 170.0h0M125.0 171.8h0M123.7 173.6h0M122.2 175.2h0M120.6 176.7h0M118.8 178.0h0M117.0 179.2h0M96.1 126.1h0M98.9 125.5h0M101.7 125.1h0M104.5 125.0h0M107.3 125.1h0M110.1 125.5h0M112.9 126.1h0M115.6 127.0h0M118.2 128.0h0M120.8 129.4h0M123.1 130.9h0M125.4 132.6h0M127.5 134.5h0M129.4 136.6h0M131.1 138.9h0M132.6 141.2h0M134.0 143.8h0M135.0 146.4h0M135.9 149.1h0M136.5 151.9h0M136.9 154.7h0M137.0 157.5h0M136.9 160.3h0M136.5 163.1h0M135.9 165.9h0M135.0 168.6h0M134.0 171.2h0M132.6 173.8h0M131.1 176.1h0M129.4 178.4h0M127.5 180.5h0M125.4 182.4h0M123.1 184.1h0M120.8 185.6h0M118.2 187.0h0M94.1 118.9h0M97.6 118.1h0M101.0 117.7h0M104.5 117.5h0M108.0 117.7h0M111.4 118.1h0M114.9 118.9h0M118.2 119.9h0M121.4 121.2h0M124.5 122.9h0M127.4 124.7h0M130.2 126.9h0M132.8 129.2h0M135.1 131.8h0M137.3 134.6h0M139.1 137.5h0M140.8 140.6h0M142.1 143.8h0M143.1 147.1h0M143.9 150.6h0M144.3 154.0h0M144.5 157.5h0M144.3 161.0h0M143.9 164.4h0M143.1 167.9h0M142.1 171.2h0M140.8 174.4h0M139.1 177.5h0M137.3 180.4h0M135.1 183.2h0M132.8 185.8h0M130.2 188.1h0M127.4 190.3h0M124.5 192.1h0M121.4 193.8h0M92.2 111.6h0M96.3 110.7h0M100.4 110.2h0M104.5 110.0h0M108.6 110.2h0M112.7 110.7h0M116.8 111.6h0M120.7 112.9h0M124.6 114.5h0M128.2 116.4h0M131.7 118.6h0M135.0 121.1h0M138.1 123.9h0M140.9 127.0h0M143.4 130.3h0M145.6 133.8h0M147.5 137.4h0M149.1 141.3h0M150.4 145.2h0M151.3 149.3h0M151.8 153.4h0M152.0 157.5h0M151.8 161.6h0M151.3 165.7h0M150.4 169.8h0M149.1 173.7h0M147.5 177.6h0M145.6 181.2h0M143.4 184.7h0M140.9 188.0h0M138.1 191.1h0M135.0 193.9h0M131.7 196.4h0M128.2 198.6h0M124.6 200.5h0M120.7 202.1h0"/><path stroke="#ff0000" stroke-width="2.7" stroke-linecap="round" fill="none" d="M89.6 102.0h0M94.5 100.9h0M99.5 100.2h0M104.5 100.0h0M109.5 100.2h0M114.5 100.9h0M119.4 102.0h0M124.2 103.5h0M128.8 105.4h0M133.2 107.7h0M137.5 110.4h0M141.5 113.5h0M145.2 116.8h0M148.5 120.5h0M151.6 124.5h0M154.3 128.8h0M156.6 133.2h0M158.5 137.8h0M160.0 142.6h0M161.1 147.5h0M161.8 152.5h0M162.0 157.5h0M161.8 162.5h0M161.1 167.5h0M160.0 172.4h0M158.5 177.2h0M156.6 181.8h0M154.3 186.2h0M151.6 190.5h0M148.5 194.5h0M145.2 198.2h0M87.7 94.7h0M93.2 93.5h0M98.8 92.7h0M104.5 92.5h0M110.2 92.7h0M115.8 93.5h0M121.3 94.7h0M126.7 96.4h0M132.0 98.6h0M137.0 101.2h0M141.8 104.3h0M146.3 107.7h0M150.5 111.5h0M154.3 115.7h0M157.7 120.2h0M160.8 125.0h0M163.4 130.0h0M165.6 135.3h0M167.3 140.7h0M168.5 146.2h0M169.3 151.8h0M169.5 157.5h0M169.3 163.2h0M168.5 168.8h0M167.3 174.3h0M165.6 179.7h0M163.4 185.0h0M160.8 190.0h0M157.7 194.8h0M154.3 199.3h0M150.5 203.5h0M85.7 87.5h0M91.9 86.1h0M98.2 85.3h0M104.5 85.0h0M110.8 85.3h0M117.1 86.1h0M123.3 87.5h0M129.3 89.4h0M135.1 91.8h0M140.8 94.7h0M146.1 98.1h0M151.1 102.0h0M155.8 106.2h0M160.0 110.9h0M163.9 115.9h0M167.3 121.2h0M170.2 126.9h0M172.6 132.7h0M174.5 138.7h0M175.9 144.9h0M176.7 151.2h0M177.0 157.5h0M176.7 163.8h0M175.9 170.1h0M174.5 176.3h0M172.6 182.3h0M170.2 188.1h0M167.3 193.8h0M163.9 199.1h0M160.0 204.1h0M155.8 208.8h0M83.8 80.2h0M90.6 78.7h0M97.5 77.8h0M104.5 77.5h0M111.5 77.8h0M118.4 78.7h0M125.2 80.2h0M131.9 82.3h0M138.3 85.0h0M144.5 88.2h0M150.4 92.0h0M155.9 96.2h0M161.1 100.9h0M165.8 106.1h0M170.0 111.6h0M173.8 117.5h0M177.0 123.7h0M179.7 130.1h0M181.8 136.8h0M183.3 143.6h0M184.2 150.5h0M184.5 157.5h0M184.2 164.5h0M183.3 171.4h0M181.8 178.2h0M179.7 184.9h0M177.0 191.3h0M173.8 197.5h0M170.0 203.4h0M165.8 208.9h0M161.1 214.1h0M81.9 73.0h0M89.3 71.3h0M96.9 70.3h0M104.5 70.0h0M112.1 70.3h0M119.7 71.3h0M127.1 73.0h0M134.4 75.3h0M141.5 78.2h0M148.2 81.7h0M154.7 85.8h0M160.7 90.5h0M166.4 95.6h0M171.5 101.3h0M176.2 107.3h0M180.3 113.8h0M183.8 120.5h0M186.7 127.6h0M189.0 134.9h0M190.7 142.3h0M191.7 149.9h0M192.0 157.5h0M191.7 165.1h0M190.7 172.7h0M189.0 180.1h0M186.7 187.4h0M183.8 194.5h0M180.3 201.2h0M176.2 207.7h0M171.5 213.7h0M166.4 219.4h0M79.9 65.7h0M88.0 63.9h0M96.2 62.9h0M104.5 62.5h0M112.8 62.9h0M121.0 63.9h0M129.1 65.7h0M137.0 68.2h0M144.6 71.4h0M152.0 75.2h0M159.0 79.7h0M165.6 84.7h0M171.7 90.3h0M177.3 96.4h0M182.3 103.0h0M186.8 110.0h0M190.6 117.4h0M193.8 125.0h0M196.3 132.9h0M198.1 141.0h0M199.1 149.2h0M199.5 157.5h0M199.1 165.8h0M198.1 174.0h0M196.3 182.1h0M193.8 190.0h0M190.6 197.6h0M186.8 205.0h0M182.3 212.0h0M177.3 218.6h0M171.7 224.7h0M78.0 58.5h0M86.7 56.6h0M95.6 55.4h0M104.5 55.0h0M113.4 55.4h0M122.3 56.6h0M131.0 58.5h0M139.6 61.2h0M147.8 64.6h0M155.8 68.7h0M163.3 73.5h0M170.4 79.0h0M177.0 85.0h0M183.0 91.6h0M188.5 98.7h0M193.3 106.2h0M197.4 114.2h0M200.8 122.4h0M203.5 131.0h0M205.4 139.7h0M206.6 148.6h0M207.0 157.5h0M206.6 166.4h0M205.4 175.3h0M203.5 184.0h0M200.8 192.6h0M197.4 200.8h0M193.3 208.8h0M188.5 216.3h0M183.0 223.4h0M177.0 230.0h0M76.0 51.2h0M85.4 49.2h0M94.9 47.9h0M104.5 47.5h0M114.1 47.9h0M123.6 49.2h0M133.0 51.2h0M142.1 54.1h0M151.0 57.8h0M159.5 62.2h0M167.6 67.4h0M175.2 73.2h0M182.3 79.7h0M188.8 86.8h0M194.6 94.4h0M199.8 102.5h0M204.2 111.0h0M207.9 119.9h0M210.8 129.0h0M212.8 138.4h0M214.1 147.9h0M214.5 157.5h0M214.1 167.1h0M212.8 176.6h0M210.8 186.0h0M207.9 195.1h0M204.2 204.0h0M199.8 212.5h0M194.6 220.6h0M188.8 228.2h0M182.3 235.3h0M74.1 44.0h0M84.1 41.8h0M94.3 40.4h0M104.5 40.0h0M114.7 40.4h0M124.9 41.8h0M134.9 44.0h0M144.7 47.1h0M154.2 51.0h0M163.2 55.7h0M171.9 61.2h0M180.0 67.5h0M187.6 74.4h0M194.5 82.0h0M200.8 90.1h0M206.3 98.8h0M211.0 107.8h0M214.9 117.3h0M218.0 127.1h0M220.2 137.1h0M221.6 147.3h0M222.0 157.5h0M221.6 167.7h0M220.2 177.9h0M218.0 187.9h0M214.9 197.7h0M211.0 207.2h0M206.3 216.2h0M200.8 224.9h0M194.5 233.0h0M187.6 240.6h0M72.1 36.8h0M82.8 34.4h0M93.6 33.0h0M104.5 32.5h0M115.4 33.0h0M126.2 34.4h0M136.9 36.8h0M147.3 40.0h0M157.3 44.2h0M167.0 49.2h0M176.2 55.1h0M184.8 61.7h0M192.9 69.1h0M200.3 77.2h0M206.9 85.8h0M212.8 95.0h0M217.8 104.7h0M222.0 114.7h0M225.2 125.1h0M227.6 135.8h0M229.0 146.6h0M229.5 157.5h0M229.0 168.4h0M227.6 179.2h0M225.2 189.9h0M222.0 200.3h0M217.8 210.3h0M212.8 220.0h0M206.9 229.2h0M200.3 237.8h0M192.9 245.9h0M70.2 29.5h0M81.5 27.0h0M93.0 25.5h0M104.5 25.0h0M116.0 25.5h0M127.5 27.0h0M138.8 29.5h0M149.8 33.0h0M160.5 37.4h0M170.8 42.8h0M180.5 49.0h0M189.7 56.0h0M198.2 63.8h0M206.0 72.3h0M213.0 81.5h0M219.2 91.3h0M224.6 101.5h0M229.0 112.2h0M232.5 123.2h0M235.0 134.5h0M236.5 146.0h0M237.0 157.5h0M236.5 169.0h0M235.0 180.5h0M232.5 191.8h0M229.0 202.8h0M224.6 213.5h0M219.2 223.8h0M213.0 233.5h0M206.0 242.7h0M198.2 251.2h0M68.3 22.3h0M80.2 19.6h0M92.3 18.0h0M104.5 17.5h0M116.7 18.0h0M128.8 19.6h0M140.7 22.3h0M152.4 25.9h0M163.7 30.6h0M174.5 36.3h0M184.8 42.8h0M194.5 50.3h0M203.5 58.5h0M211.7 67.5h0M219.2 77.2h0M225.7 87.5h0M231.4 98.3h0M236.1 109.6h0M239.7 121.3h0M242.4 133.2h0M244.0 145.3h0M244.5 157.5h0M244.0 169.7h0M242.4 181.8h0M239.7 193.7h0M236.1 205.4h0M231.4 216.7h0M225.7 227.5h0M219.2 237.8h0M211.7 247.5h0M203.5 256.5h0M66.3 15.0h0M78.9 12.2h0M91.6 10.6h0M104.5 10.0h0M117.4 10.6h0M130.1 12.2h0M142.7 15.0h0M154.9 18.9h0M166.8 23.8h0M178.2 29.8h0M189.1 36.7h0M199.3 44.5h0M208.8 53.2h0M217.5 62.7h0M225.3 72.9h0M232.2 83.8h0M238.2 95.2h0M243.1 107.1h0M247.0 119.3h0M249.8 131.9h0M251.4 144.6h0M252.0 157.5h0M251.4 170.4h0M249.8 183.1h0M247.0 195.7h0M243.1 207.9h0M238.2 219.8h0M232.2 231.2h0M225.3 242.1h0M217.5 252.3h0M208.8 261.8h0M64.4 7.8h0M77.6 4.9h0M91.0 3.1h0M104.5 2.5h0M118.0 3.1h0M131.4 4.9h0M144.6 7.8h0M157.5 11.8h0M170.0 17.0h0M182.0 23.3h0M193.4 30.5h0M204.1 38.8h0M214.1 47.9h0M223.2 57.9h0M231.5 68.6h0M238.7 80.0h0M245.0 92.0h0M250.2 104.5h0M254.2 117.4h0M257.1 130.6h0M258.9 144.0h0M259.5 157.5h0M258.9 171.0h0M257.1 184.4h0M254.2 197.6h0M250.2 210.5h0M245.0 223.0h0M238.7 235.0h0M231.5 246.4h0M223.2 257.1h0M214.1 267.1h0M62.4 0.5h0M146.6 0.5h0M160.1 4.8h0M173.2 10.2h0M185.8 16.8h0M197.7 24.4h0M209.0 33.0h0M219.4 42.6h0M229.0 53.0h0M237.6 64.3h0M245.2 76.3h0M251.8 88.8h0M257.2 101.9h0M261.5 115.4h0M264.5 129.3h0M266.4 143.3h0M267.0 157.5h0M266.4 171.7h0M264.5 185.7h0M261.5 199.6h0M257.2 213.1h0M251.8 226.2h0M245.2 238.8h0M237.6 250.7h0M229.0 262.0h0M219.4 272.4h0M176.3 3.4h0M189.5 10.3h0M202.0 18.2h0M213.8 27.3h0M224.7 37.3h0M234.7 48.2h0M243.8 60.0h0M251.7 72.5h0M258.6 85.7h0M264.2 99.4h0M268.7 113.5h0M271.9 128.0h0M273.9 142.7h0M274.5 157.5h0M273.9 172.3h0M271.9 187.0h0M268.7 201.5h0M264.2 215.6h0M258.6 229.3h0M251.7 242.5h0M243.8 255.0h0M234.7 266.8h0M224.7 277.7h0M193.2 3.8h0M206.3 12.1h0M218.6 21.5h0M230.0 32.0h0M240.5 43.4h0M249.9 55.7h0M258.2 68.8h0M265.4 82.5h0M271.3 96.8h0M276.0 111.6h0M279.3 126.7h0M281.3 142.0h0M282.0 157.5h0M281.3 173.0h0M279.3 188.3h0M276.0 203.4h0M271.3 218.2h0M265.4 232.5h0M258.2 246.2h0M249.9 259.3h0M240.5 271.6h0M230.0 283.0h0M210.6 6.0h0M223.4 15.8h0M235.3 26.7h0M246.2 38.6h0M256.0 51.4h0M264.7 65.0h0M272.2 79.3h0M278.3 94.2h0M283.2 109.6h0M286.7 125.4h0M288.8 141.4h0M289.5 157.5h0M288.8 173.6h0M286.7 189.6h0M283.2 205.4h0M278.3 220.8h0M272.2 235.7h0M264.7 250.0h0M256.0 263.6h0M246.2 276.4h0M235.3 288.3h0M214.9 -0.2h0M228.2 10.0h0M240.6 21.4h0M252.0 33.8h0M262.2 47.1h0M271.2 61.3h0M279.0 76.1h0M285.4 91.7h0M290.4 107.7h0M294.1 124.1h0M296.3 140.7h0M297.0 157.5h0M296.3 174.3h0M294.1 190.9h0M290.4 207.3h0M285.4 223.3h0M279.0 238.9h0M271.2 253.8h0M262.2 267.9h0M252.0 281.2h0M240.6 293.6h0M233.1 4.3h0M245.9 16.1h0M257.7 28.9h0M268.3 42.8h0M277.7 57.5h0M285.8 73.0h0M292.4 89.1h0M297.7 105.7h0M301.5 122.8h0M303.7 140.1h0M304.5 157.5h0M303.7 174.9h0M301.5 192.2h0M297.7 209.3h0M292.4 225.9h0M285.8 242.0h0M277.7 257.5h0M268.3 272.2h0M257.7 286.1h0M245.9 298.9h0M251.2 10.8h0M263.5 24.1h0M274.5 38.5h0M284.2 53.8h0M292.6 69.8h0M299.5 86.5h0M304.9 103.8h0M308.8 121.5h0M311.2 139.4h0M312.0 157.5h0M311.2 175.6h0M308.8 193.5h0M304.9 211.2h0M299.5 228.5h0M292.6 245.2h0M284.2 261.2h0M274.5 276.5h0M263.5 290.9h0M251.2 304.2h0M256.5 5.5h0M269.2 19.3h0M280.6 34.2h0M290.7 50.0h0M299.4 66.6h0M306.5 84.0h0M312.2 101.9h0M316.2 120.2h0M318.7 138.8h0M319.5 157.5h0M318.7 176.2h0M316.2 194.8h0M312.2 213.1h0M306.5 231.0h0M299.4 248.4h0M290.7 265.0h0M280.6 280.8h0M269.2 295.7h0M256.5 309.5h0M261.8 0.2h0M274.9 14.5h0M286.8 29.9h0M297.2 46.3h0M306.2 63.5h0M313.6 81.4h0M319.4 99.9h0M323.6 118.9h0M326.2 138.1h0M327.0 157.5h0M326.2 176.9h0M323.6 196.1h0M319.4 215.1h0M313.6 233.6h0M306.2 251.5h0M297.2 268.8h0M286.8 285.1h0M274.9 300.5h0M261.8 314.8h0M280.7 9.7h0M292.9 25.6h0M303.7 42.5h0M313.0 60.3h0M320.6 78.8h0M326.7 98.0h0M331.0 117.6h0M333.6 137.5h0M334.5 157.5h0M333.6 177.5h0M331.0 197.4h0M326.7 217.0h0M320.6 236.2h0M313.0 254.7h0M303.7 272.5h0M292.9 289.4h0M280.7 305.3h0M267.1 320.1h0M286.4 4.8h0M299.0 21.3h0M310.2 38.8h0M319.7 57.1h0M327.7 76.3h0M333.9 96.0h0M338.4 116.3h0M341.1 136.8h0M342.0 157.5h0M341.1 178.2h0M338.4 198.7h0M333.9 219.0h0M327.7 238.7h0M319.7 257.9h0M310.2 276.2h0M299.0 293.7h0M286.4 310.2h0M272.4 325.4h0M292.2 0.0h0M305.2 17.0h0M316.7 35.0h0M326.5 54.0h0M334.7 73.7h0M341.2 94.1h0M345.8 115.0h0M348.6 136.1h0M348.6 178.9h0M345.8 200.0h0M341.2 220.9h0M334.7 241.3h0M326.5 261.0h0M316.7 280.0h0M305.2 298.0h0M292.2 315.0h0M277.7 330.7h0M311.3 12.7h0M323.2 31.3h0M333.3 50.8h0M341.8 71.1h0M348.4 92.1h0M348.4 222.9h0M341.8 243.9h0M333.3 264.2h0M323.2 283.8h0M311.3 302.3h0M297.9 319.8h0M283.0 336.0h0M317.5 8.4h0M329.7 27.5h0M340.1 47.6h0M348.8 68.6h0M348.8 246.4h0M340.1 267.4h0M329.7 287.5h0M317.5 306.6h0M303.7 324.6h0M288.3 341.3h0M323.6 4.1h0M336.2 23.8h0M346.9 44.4h0M346.9 270.6h0M336.2 291.2h0M323.6 310.9h0M309.4 329.4h0M293.7 346.7h0M329.8 -0.2h0M342.7 20.0h0M342.7 295.0h0M329.8 315.2h0M315.2 334.3h0M299.0 352.0h0M335.9 319.5h0M320.9 339.1h0M304.3 357.3h0M342.1 323.8h0M326.7 343.9h0M309.6 362.6h0M348.2 328.1h0M332.4 348.7h0M314.9 367.9h0M338.1 353.6h0M320.2 373.2h0M343.9 358.4h0M325.5 378.5h0M330.8 383.8h0M336.1 389.1h0M341.4 394.4h0M346.7 399.7h0"/><path stroke="#00ee00" stroke-width="2.7" stroke-linecap="round" fill="none" d="M116.4 238.4h0M117.4 238.7h0M118.4 239.1h0M119.3 239.6h0M120.2 240.2h0M121.0 240.8h0M121.8 241.5h0M122.5 242.3h0M123.1 243.1h0M123.7 244.0h0M124.2 244.9h0M124.6 245.9h0M124.9 246.9h0M125.1 247.9h0M125.3 249.0h0M125.3 250.0h0M125.3 251.0h0M125.1 252.1h0M124.9 253.1h0M124.6 254.1h0M124.2 255.1h0M123.7 256.0h0M123.1 256.9h0M122.5 257.7h0M121.8 258.5h0M121.0 259.2h0M120.2 259.8h0M119.3 260.4h0M118.4 260.9h0M117.4 261.3h0M116.4 261.6h0M115.4 261.8h0M114.3 262.0h0M116.7 230.8h0M118.3 231.2h0M120.0 231.7h0M121.5 232.3h0M123.0 233.1h0M124.5 234.0h0M125.8 235.1h0M127.1 236.2h0M128.2 237.5h0M129.3 238.8h0M130.2 240.2h0M131.0 241.8h0M131.6 243.3h0M132.1 245.0h0M132.5 246.6h0M132.7 248.3h0M132.8 250.0h0M132.7 251.7h0M132.5 253.4h0M132.1 255.0h0M131.6 256.7h0M131.0 258.2h0M130.2 259.8h0M129.3 261.2h0M128.2 262.5h0M127.1 263.8h0M125.8 264.9h0M124.5 266.0h0M123.0 266.9h0M121.5 267.7h0M120.0 268.3h0M118.3 268.8h0M116.7 269.2h0M115.0 269.4h0M118.0 223.4h0M120.3 223.9h0M122.5 224.6h0M124.7 225.5h0M126.8 226.6h0M128.8 227.9h0M130.7 229.3h0M132.4 230.9h0M134.0 232.6h0M135.4 234.5h0M136.7 236.5h0M137.8 238.6h0M138.7 240.8h0M139.4 243.0h0M139.9 245.3h0M140.2 247.6h0M140.3 250.0h0M140.2 252.4h0M139.9 254.7h0M139.4 257.0h0M138.7 259.2h0M137.8 261.4h0M136.7 263.5h0M135.4 265.5h0M134.0 267.4h0M132.4 269.1h0M130.7 270.7h0M128.8 272.1h0M126.8 273.4h0M124.7 274.5h0M122.5 275.4h0M120.3 276.1h0M118.0 276.6h0M115.7 276.9h0M119.3 216.0h0M122.2 216.7h0M125.1 217.6h0M127.9 218.7h0M130.6 220.1h0M133.1 221.7h0M135.5 223.6h0M137.7 225.6h0M139.7 227.8h0M141.6 230.2h0M143.2 232.8h0M144.6 235.4h0M145.7 238.2h0M146.6 241.1h0M147.3 244.0h0M147.7 247.0h0M147.8 250.0h0M147.7 253.0h0M147.3 256.0h0M146.6 258.9h0M145.7 261.8h0M144.6 264.6h0M143.2 267.2h0M141.6 269.8h0M139.7 272.2h0M137.7 274.4h0M135.5 276.4h0M133.1 278.3h0M130.6 279.9h0M127.9 281.3h0M125.1 282.4h0M122.2 283.3h0M119.3 284.0h0M116.3 284.4h0M120.6 208.6h0M124.2 209.4h0M127.7 210.5h0M131.0 211.9h0M134.3 213.6h0M137.4 215.6h0M140.3 217.8h0M143.0 220.3h0M145.5 223.0h0M147.7 225.9h0M149.7 229.0h0M151.4 232.3h0M152.8 235.6h0M153.9 239.1h0M154.7 242.7h0M155.1 246.3h0M155.3 250.0h0M155.1 253.7h0M154.7 257.3h0M153.9 260.9h0M152.8 264.4h0M151.4 267.7h0M149.7 271.0h0M147.7 274.1h0M145.5 277.0h0M143.0 279.7h0M140.3 282.2h0M137.4 284.4h0M134.3 286.4h0M131.0 288.1h0M127.7 289.5h0M124.2 290.6h0M120.6 291.4h0M117.0 291.8h0M121.9 201.3h0M126.1 202.2h0M130.2 203.5h0M134.2 205.1h0M138.1 207.1h0M141.7 209.5h0M145.1 212.1h0M148.3 215.0h0M151.2 218.2h0M153.8 221.6h0M156.2 225.2h0M158.2 229.1h0M159.8 233.1h0M161.1 237.2h0M162.0 241.4h0M162.6 245.7h0M162.8 250.0h0M162.6 254.3h0M162.0 258.6h0M161.1 262.8h0M159.8 266.9h0M158.2 270.9h0M156.2 274.8h0M153.8 278.4h0M151.2 281.8h0M148.3 285.0h0M145.1 287.9h0M141.7 290.5h0M138.1 292.9h0M134.2 294.9h0M130.2 296.5h0M126.1 297.8h0M121.9 298.7h0M117.6 299.3h0M123.2 193.9h0M128.1 194.9h0M132.8 196.4h0M137.4 198.3h0M141.8 200.6h0M146.0 203.3h0M149.9 206.3h0M153.6 209.7h0M157.0 213.4h0M160.0 217.3h0M162.7 221.5h0M165.0 225.9h0M166.9 230.5h0M168.4 235.2h0M169.4 240.1h0M170.1 245.0h0M170.3 250.0h0M170.1 255.0h0M169.4 259.9h0M168.4 264.8h0M166.9 269.5h0M165.0 274.1h0M162.7 278.5h0M160.0 282.7h0M157.0 286.6h0M153.6 290.3h0M149.9 293.7h0M146.0 296.7h0M141.8 299.4h0M137.4 301.7h0M132.8 303.6h0M128.1 305.1h0M123.2 306.1h0M118.3 306.8h0M118.9 185.7h0M124.5 186.5h0M130.0 187.7h0M135.4 189.4h0M140.6 191.5h0M145.6 194.1h0M150.3 197.2h0M154.8 200.6h0M158.9 204.4h0M162.7 208.5h0M166.1 213.0h0M169.2 217.8h0M171.8 222.7h0M173.9 227.9h0M175.6 233.3h0M176.8 238.8h0M177.6 244.4h0M177.8 250.0h0M177.6 255.6h0M176.8 261.2h0M175.6 266.7h0M173.9 272.1h0M171.8 277.3h0M169.2 282.2h0M166.1 287.0h0M162.7 291.5h0M158.9 295.6h0M154.8 299.4h0M150.3 302.8h0M145.6 305.9h0M140.6 308.5h0M135.4 310.6h0M130.0 312.3h0M124.5 313.5h0M118.9 314.3h0M119.6 178.3h0M125.8 179.1h0M131.9 180.5h0M137.9 182.3h0M143.7 184.7h0M149.3 187.6h0M154.6 191.0h0M159.6 194.8h0M164.2 199.1h0M168.5 203.7h0M172.3 208.7h0M175.7 214.0h0M178.6 219.6h0M181.0 225.4h0M182.8 231.4h0M184.2 237.5h0M185.0 243.7h0M185.3 250.0h0M185.0 256.3h0M184.2 262.5h0M182.8 268.6h0M181.0 274.6h0M178.6 280.4h0M175.7 286.0h0M172.3 291.3h0M168.5 296.3h0M164.2 300.9h0M159.6 305.2h0M154.6 309.0h0M149.3 312.4h0M143.7 315.3h0M137.9 317.7h0M131.9 319.5h0M125.8 320.9h0M119.6 321.7h0M120.2 170.8h0M127.1 171.7h0M133.9 173.2h0M140.5 175.3h0M146.9 177.9h0M153.1 181.2h0M158.9 184.9h0M164.4 189.1h0M169.5 193.8h0M174.2 198.9h0M178.4 204.4h0M182.1 210.2h0M185.4 216.4h0M188.0 222.8h0M190.1 229.4h0M191.6 236.2h0M192.5 243.1h0M192.8 250.0h0M192.5 256.9h0M191.6 263.8h0M190.1 270.6h0M188.0 277.2h0M185.4 283.6h0M182.1 289.8h0M178.4 295.6h0M174.2 301.1h0M169.5 306.2h0M164.4 310.9h0M158.9 315.1h0M153.1 318.8h0M146.9 322.1h0M140.5 324.7h0M133.9 326.8h0M127.1 328.3h0M120.2 329.2h0M120.9 163.3h0M128.4 164.3h0M135.8 166.0h0M143.1 168.2h0M150.1 171.2h0M156.8 174.7h0M163.2 178.7h0M169.2 183.4h0M174.8 188.5h0M179.9 194.1h0M184.6 200.1h0M188.6 206.5h0M192.1 213.2h0M195.1 220.2h0M197.3 227.5h0M199.0 234.9h0M200.0 242.4h0M200.3 250.0h0M200.0 257.6h0M199.0 265.1h0M197.3 272.5h0M195.1 279.8h0M192.1 286.8h0M188.6 293.5h0M184.6 299.9h0M179.9 305.9h0M174.8 311.5h0M169.2 316.6h0M163.2 321.3h0M156.8 325.3h0M150.1 328.8h0M143.1 331.8h0M135.8 334.0h0M128.4 335.7h0M120.9 336.7h0M121.5 155.9h0M129.7 156.9h0M137.8 158.7h0M145.6 161.2h0M153.2 164.4h0M160.6 168.2h0M167.5 172.6h0M174.0 177.6h0M180.1 183.2h0M185.7 189.3h0M190.7 195.8h0M195.1 202.8h0M198.9 210.1h0M202.1 217.7h0M204.6 225.5h0M206.4 233.6h0M207.4 241.8h0M207.8 250.0h0M207.4 258.2h0M206.4 266.4h0M204.6 274.5h0M202.1 282.3h0M198.9 289.9h0M195.1 297.2h0M190.7 304.2h0M185.7 310.7h0M180.1 316.8h0M174.0 322.4h0M167.5 327.4h0M160.6 331.8h0M153.2 335.6h0M145.6 338.8h0M137.8 341.3h0M129.7 343.1h0M121.5 344.1h0M122.2 148.4h0M131.0 149.5h0M139.7 151.5h0M148.2 154.2h0M156.4 157.6h0M164.3 161.7h0M171.8 166.4h0M178.9 171.9h0M185.4 177.9h0M191.4 184.4h0M196.9 191.5h0M201.6 199.0h0M205.7 206.9h0M209.1 215.1h0M211.8 223.6h0M213.8 232.3h0M214.9 241.1h0M215.3 250.0h0M214.9 258.9h0M213.8 267.7h0M211.8 276.4h0M209.1 284.9h0M205.7 293.1h0M201.6 301.0h0M196.9 308.5h0M191.4 315.6h0M185.4 322.1h0M178.9 328.1h0M171.8 333.6h0M164.3 338.3h0M156.4 342.4h0M148.2 345.8h0M139.7 348.5h0M131.0 350.5h0M122.2 351.6h0M122.8 140.9h0M132.3 142.2h0M141.6 144.2h0M150.8 147.1h0M159.6 150.8h0M168.1 155.2h0M176.1 160.3h0M183.7 166.1h0M190.7 172.6h0M197.2 179.6h0M203.0 187.2h0M208.1 195.2h0M212.5 203.7h0M216.2 212.5h0M219.1 221.7h0M221.1 231.0h0M222.4 240.5h0M222.8 250.0h0M222.4 259.5h0M221.1 269.0h0M219.1 278.3h0M216.2 287.5h0M212.5 296.3h0M208.1 304.8h0M203.0 312.8h0M197.2 320.4h0M190.7 327.4h0M183.7 333.9h0M176.1 339.7h0M168.1 344.8h0M159.6 349.2h0M150.8 352.9h0M141.6 355.8h0M132.3 357.8h0M122.8 359.1h0M123.5 133.4h0M133.6 134.8h0M143.6 137.0h0M153.3 140.1h0M162.7 144.0h0M171.8 148.7h0M180.4 154.2h0M188.5 160.4h0M196.0 167.3h0M202.9 174.8h0M209.1 182.9h0M214.6 191.5h0M219.3 200.6h0M223.2 210.0h0M226.3 219.7h0M228.5 229.7h0M229.9 239.8h0M230.3 250.0h0M229.9 260.2h0M228.5 270.3h0M226.3 280.3h0M223.2 290.0h0M219.3 299.4h0M214.6 308.5h0M209.1 317.1h0M202.9 325.2h0M196.0 332.7h0M188.5 339.6h0M180.4 345.8h0M171.8 351.3h0M162.7 356.0h0M153.3 359.9h0M143.6 363.0h0M133.6 365.2h0M123.5 366.6h0M124.2 126.0h0M134.9 127.4h0M145.5 129.7h0M155.9 133.0h0M165.9 137.2h0M175.6 142.2h0M184.7 148.0h0M193.3 154.6h0M201.3 162.0h0M208.7 170.0h0M215.3 178.6h0M221.1 187.8h0M226.1 197.4h0M230.3 207.4h0M233.6 217.8h0M235.9 228.4h0M237.3 239.1h0M237.8 250.0h0M237.3 260.9h0M235.9 271.6h0M233.6 282.2h0M230.3 292.6h0M226.1 302.6h0M221.1 312.2h0M215.3 321.4h0M208.7 330.0h0M201.3 338.0h0M193.3 345.4h0M184.7 352.0h0M175.6 357.8h0M165.9 362.8h0M155.9 367.0h0M145.5 370.3h0M134.9 372.6h0M124.2 374.0h0M124.8 118.5h0M136.2 120.0h0M147.5 122.5h0M158.4 126.0h0M169.1 130.4h0M179.3 135.7h0M189.0 141.9h0M198.1 148.9h0M206.6 156.7h0M214.4 165.2h0M221.4 174.3h0M227.6 184.0h0M232.9 194.2h0M237.3 204.9h0M240.8 215.8h0M243.3 227.1h0M244.8 238.5h0M245.3 250.0h0M244.8 261.5h0M243.3 272.9h0M240.8 284.2h0M237.3 295.1h0M232.9 305.8h0M227.6 316.0h0M221.4 325.7h0M214.4 334.8h0M206.6 343.3h0M198.1 351.1h0M189.0 358.1h0M179.3 364.3h0M169.1 369.6h0M158.4 374.0h0M147.5 377.5h0M136.2 380.0h0M124.8 381.5h0M125.5 111.0h0M137.5 112.6h0M149.4 115.3h0M161.0 118.9h0M172.3 123.6h0M183.1 129.2h0M193.3 135.7h0M203.0 143.1h0M211.9 151.4h0M220.2 160.3h0M227.6 170.0h0M234.1 180.2h0M239.7 191.0h0M244.4 202.3h0M248.0 213.9h0M250.7 225.8h0M252.3 237.8h0M252.8 250.0h0M252.3 262.2h0M250.7 274.2h0M248.0 286.1h0M244.4 297.7h0M239.7 309.0h0M234.1 319.8h0M227.6 330.0h0M220.2 339.7h0M211.9 348.6h0M203.0 356.9h0M193.3 364.3h0M183.1 370.8h0M172.3 376.4h0M161.0 381.1h0M149.4 384.7h0M137.5 387.4h0M125.5 389.0h0M126.1 103.6h0M138.8 105.2h0M151.3 108.0h0M163.6 111.9h0M175.4 116.8h0M186.8 122.7h0M197.6 129.6h0M207.8 137.4h0M217.2 146.1h0M225.9 155.5h0M233.7 165.7h0M240.6 176.5h0M246.5 187.9h0M251.4 199.7h0M255.3 212.0h0M258.1 224.5h0M259.7 237.2h0M260.3 250.0h0M259.7 262.8h0M258.1 275.5h0M255.3 288.0h0M251.4 300.3h0M246.5 312.1h0M240.6 323.5h0M233.7 334.3h0M225.9 344.5h0M217.2 353.9h0M207.8 362.6h0M197.6 370.4h0M186.8 377.3h0M175.4 383.2h0M163.6 388.1h0M151.3 392.0h0M138.8 394.8h0M126.1 396.4h0M126.8 96.1h0M140.1 97.8h0M153.3 100.8h0M166.1 104.8h0M178.6 110.0h0M190.6 116.2h0M201.9 123.4h0M212.6 131.6h0M222.5 140.8h0M231.7 150.7h0M239.9 161.4h0M247.1 172.8h0M253.3 184.7h0M258.5 197.2h0M262.5 210.0h0M265.5 223.2h0M267.2 236.5h0M267.8 250.0h0M267.2 263.5h0M265.5 276.8h0M262.5 290.0h0M258.5 302.8h0M253.3 315.3h0M247.1 327.2h0M239.9 338.6h0M231.7 349.3h0M222.5 359.2h0M212.6 368.4h0M201.9 376.6h0M190.6 383.8h0M178.6 390.0h0M166.1 395.2h0M153.3 399.2h0M140.1 402.2h0M126.8 403.9h0M127.4 88.6h0M141.4 90.5h0M155.2 93.5h0M168.7 97.8h0M181.8 103.2h0M194.3 109.7h0M206.2 117.3h0M217.4 125.9h0M227.9 135.4h0M237.4 145.9h0M246.0 157.1h0M253.6 169.0h0M260.1 181.5h0M265.5 194.6h0M269.8 208.1h0M272.8 221.9h0M274.7 235.9h0M275.3 250.0h0M274.7 264.1h0M272.8 278.1h0M269.8 291.9h0M265.5 305.4h0M260.1 318.5h0M253.6 331.0h0M246.0 342.9h0M237.4 354.1h0M227.9 364.6h0M217.4 374.1h0M206.2 382.7h0M194.3 390.3h0M181.8 396.8h0M168.7 402.2h0M155.2 406.5h0M141.4 409.5h0M127.4 411.4h0M128.1 81.1h0M142.7 83.1h0M157.2 86.3h0M171.3 90.7h0M184.9 96.4h0M198.1 103.2h0M210.5 111.2h0M222.3 120.2h0M233.2 130.1h0M243.1 141.0h0M252.1 152.8h0M260.1 165.2h0M266.9 178.4h0M272.6 192.0h0M277.0 206.1h0M280.2 220.6h0M282.2 235.2h0M282.8 250.0h0M282.2 264.8h0M280.2 279.4h0M277.0 293.9h0M272.6 308.0h0M266.9 321.6h0M260.1 334.8h0M252.1 347.2h0M243.1 359.0h0M233.2 369.9h0M222.3 379.8h0M210.5 388.8h0M198.1 396.8h0M184.9 403.6h0M171.3 409.3h0M157.2 413.7h0M142.7 416.9h0M128.1 418.9h0M128.7 73.7h0M144.0 75.7h0M159.1 79.0h0M173.8 83.7h0M188.1 89.6h0M201.8 96.7h0M214.8 105.0h0M227.1 114.4h0M238.5 124.8h0M248.9 136.2h0M258.3 148.5h0M266.6 161.5h0M273.7 175.2h0M279.6 189.5h0M284.3 204.2h0M287.6 219.3h0M289.6 234.6h0M290.3 250.0h0M289.6 265.4h0M287.6 280.7h0M284.3 295.8h0M279.6 310.5h0M273.7 324.8h0M266.6 338.5h0M258.3 351.5h0M248.9 363.8h0M238.5 375.2h0M227.1 385.6h0M214.8 395.0h0M201.8 403.3h0M188.1 410.4h0M173.8 416.3h0M159.1 421.0h0M144.0 424.3h0M128.7 426.3h0M129.4 66.2h0M145.3 68.3h0M161.1 71.8h0M176.4 76.6h0M191.3 82.8h0M205.6 90.2h0M219.1 98.9h0M231.9 108.7h0M243.8 119.5h0M254.6 131.4h0M264.4 144.2h0M273.1 157.8h0M280.5 172.0h0M286.7 186.9h0M291.5 202.2h0M295.0 218.0h0M297.1 233.9h0M297.8 250.0h0M297.1 266.1h0M295.0 282.0h0M291.5 297.8h0M286.7 313.1h0M280.5 328.0h0M273.1 342.2h0M264.4 355.8h0M254.6 368.6h0M243.8 380.5h0M231.9 391.3h0M219.1 401.1h0M205.6 409.8h0M191.3 417.2h0M176.4 423.4h0M161.1 428.2h0M130.0 58.7h0M146.6 60.9h0M163.0 64.5h0M179.0 69.6h0M194.4 76.0h0M209.3 83.7h0M223.4 92.7h0M236.7 102.9h0M249.1 114.2h0M260.4 126.6h0M270.6 139.9h0M279.6 154.0h0M287.3 168.9h0M293.7 184.3h0M298.8 200.3h0M302.4 216.7h0M304.6 233.3h0M305.3 250.0h0M304.6 266.7h0M302.4 283.3h0M298.8 299.7h0M293.7 315.7h0M287.3 331.1h0M279.6 346.0h0M270.6 360.1h0M260.4 373.4h0M249.1 385.8h0M236.7 397.1h0M223.4 407.3h0M209.3 416.3h0M194.4 424.0h0M130.7 51.3h0M147.9 53.5h0M164.9 57.3h0M181.5 62.5h0M197.6 69.2h0M213.1 77.2h0M227.7 86.6h0M241.5 97.2h0M254.4 108.9h0M266.1 121.8h0M276.7 135.6h0M286.1 150.2h0M294.1 165.7h0M300.8 181.8h0M306.0 198.4h0M309.8 215.4h0M312.0 232.6h0M312.8 250.0h0M312.0 267.4h0M309.8 284.6h0M306.0 301.6h0M300.8 318.2h0M294.1 334.3h0M286.1 349.8h0M276.7 364.4h0M266.1 378.2h0M254.4 391.1h0M241.5 402.8h0M227.7 413.4h0M213.1 422.8h0M131.3 43.8h0M149.2 46.1h0M166.9 50.1h0M184.1 55.5h0M200.8 62.4h0M216.8 70.7h0M232.0 80.4h0M246.4 91.4h0M259.7 103.6h0M271.9 116.9h0M282.9 131.3h0M292.6 146.5h0M300.9 162.5h0M307.8 179.2h0M313.2 196.4h0M317.2 214.1h0M319.5 232.0h0M320.3 250.0h0M319.5 268.0h0M317.2 285.9h0M313.2 303.6h0M307.8 320.8h0M300.9 337.5h0M292.6 353.5h0M282.9 368.7h0M271.9 383.1h0M259.7 396.4h0M246.4 408.6h0M232.0 419.6h0M132.0 36.3h0M150.5 38.8h0M168.8 42.8h0M186.7 48.4h0M204.0 55.6h0M220.6 64.2h0M236.3 74.3h0M251.2 85.7h0M265.0 98.3h0M277.6 112.1h0M289.0 127.0h0M299.1 142.8h0M307.7 159.3h0M314.9 176.6h0M320.5 194.5h0M324.5 212.8h0M327.0 231.3h0M327.8 250.0h0M327.0 268.7h0M324.5 287.2h0M320.5 305.5h0M314.9 323.4h0M307.7 340.7h0M299.1 357.2h0M289.0 373.0h0M277.6 387.9h0M265.0 401.7h0M251.2 414.3h0M236.3 425.7h0M132.6 28.8h0M151.8 31.4h0M170.8 35.6h0M189.2 41.4h0M207.1 48.8h0M224.3 57.7h0M240.6 68.1h0M256.0 79.9h0M270.3 93.0h0M283.4 107.3h0M295.2 122.7h0M305.6 139.0h0M314.5 156.2h0M321.9 174.1h0M327.7 192.5h0M331.9 211.5h0M334.5 230.7h0M335.3 250.0h0M334.5 269.3h0M331.9 288.5h0M327.7 307.5h0M321.9 325.9h0M314.5 343.8h0M305.6 361.0h0M295.2 377.3h0M283.4 392.7h0M270.3 407.0h0M256.0 420.1h0M133.3 21.4h0M153.2 24.0h0M172.7 28.3h0M191.8 34.3h0M210.3 42.0h0M228.1 51.2h0M244.9 62.0h0M260.8 74.2h0M275.6 87.7h0M289.1 102.5h0M301.3 118.4h0M312.1 135.2h0M321.3 153.0h0M329.0 171.5h0M335.0 190.6h0M339.3 210.1h0M341.9 230.0h0M342.8 250.0h0M341.9 270.0h0M339.3 289.9h0M335.0 309.4h0M329.0 328.5h0M321.3 347.0h0M312.1 364.8h0M301.3 381.6h0M289.1 397.5h0M275.6 412.3h0M260.8 425.8h0M134.0 13.9h0M154.5 16.6h0M174.6 21.1h0M194.4 27.3h0M213.5 35.2h0M231.8 44.8h0M249.2 55.9h0M265.6 68.4h0M280.9 82.4h0M294.9 97.7h0M307.4 114.1h0M318.5 131.5h0M328.1 149.8h0M336.0 168.9h0M342.2 188.7h0M346.7 208.8h0M346.7 291.2h0M342.2 311.3h0M336.0 331.1h0M328.1 350.2h0M318.5 368.5h0M307.4 385.9h0M294.9 402.3h0M280.9 417.6h0M134.6 6.4h0M155.8 9.2h0M176.6 13.8h0M196.9 20.2h0M216.6 28.4h0M235.6 38.3h0M253.5 49.7h0M270.5 62.7h0M286.2 77.1h0M300.6 92.8h0M313.6 109.8h0M325.0 127.8h0M334.9 146.7h0M343.1 166.4h0M343.1 333.6h0M334.9 353.3h0M325.0 372.2h0M313.6 390.2h0M300.6 407.2h0M286.2 422.9h0M157.1 1.8h0M178.5 6.6h0M199.5 13.2h0M219.8 21.6h0M239.3 31.8h0M257.8 43.6h0M275.3 57.0h0M291.5 71.8h0M306.3 88.0h0M319.7 105.5h0M331.5 124.0h0M341.7 143.5h0M341.7 356.5h0M331.5 376.0h0M319.7 394.5h0M306.3 412.0h0M291.5 428.2h0M180.5 -0.7h0M202.1 6.1h0M223.0 14.8h0M243.1 25.3h0M262.1 37.4h0M280.1 51.2h0M296.8 66.5h0M312.1 83.2h0M325.9 101.2h0M338.0 120.3h0M348.5 140.3h0M348.5 359.7h0M338.0 379.8h0M325.9 398.8h0M312.1 416.8h0M204.6 -0.9h0M226.1 8.0h0M246.8 18.8h0M266.4 31.3h0M284.9 45.5h0M302.1 61.2h0M317.8 78.4h0M332.0 96.9h0M344.5 116.5h0M344.5 383.5h0M332.0 403.1h0M317.8 421.6h0M229.3 1.2h0M250.6 12.3h0M270.7 25.1h0M289.7 39.7h0M307.4 55.9h0M323.6 73.6h0M338.2 92.6h0M338.2 407.4h0M323.6 426.4h0M254.3 5.8h0M275.0 19.0h0M294.6 34.0h0M312.7 50.6h0M329.3 68.7h0M344.3 88.3h0M344.3 411.7h0M258.1 -0.7h0M279.4 12.9h0M299.4 28.2h0M318.0 45.3h0M335.1 63.9h0M283.7 6.7h0M304.2 22.5h0M323.3 40.0h0M340.8 59.1h0M288.0 0.6h0M309.0 16.7h0M328.6 34.7h0M346.6 54.3h0M313.8 11.0h0M333.9 29.4h0M318.7 5.2h0M339.2 24.1h0M323.5 -0.5h0M344.5 18.8h0"/><path stroke="#ff0000" stroke-width="2.7" stroke-linecap="round" fill="none" d="M71.2 278.7h0M70.5 279.5h0M69.7 280.2h0M68.9 280.8h0M68.0 281.4h0M67.1 281.9h0M66.1 282.3h0M65.1 282.6h0M64.1 282.8h0M63.0 283.0h0M62.0 283.0h0M61.0 283.0h0M59.9 282.8h0M76.9 283.5h0M75.8 284.8h0M74.5 285.9h0M73.2 287.0h0M71.8 287.9h0M70.2 288.7h0M68.7 289.3h0M67.0 289.8h0M65.4 290.2h0M63.7 290.4h0M62.0 290.5h0M60.3 290.4h0M58.6 290.2h0M82.7 288.4h0M81.1 290.1h0M79.4 291.7h0M77.5 293.1h0M75.5 294.4h0M73.4 295.5h0M71.2 296.4h0M69.0 297.1h0M66.7 297.6h0M64.4 297.9h0M62.0 298.0h0M59.6 297.9h0M57.3 297.6h0M88.4 293.2h0M86.4 295.4h0M84.2 297.4h0M81.8 299.3h0M79.2 300.9h0M76.6 302.3h0M73.8 303.4h0M70.9 304.3h0M68.0 305.0h0M65.0 305.4h0M62.0 305.5h0M59.0 305.4h0M56.0 305.0h0"/><path stroke="#000000" stroke-width="2.7" stroke-linecap="round" fill="none" d="M21.3 318.1h0M21.5 319.2h0M21.5 320.2h0M21.5 321.2h0M21.3 322.3h0M21.1 323.3h0M20.8 324.3h0M20.4 325.3h0M19.9 326.2h0M19.3 327.1h0M18.7 327.9h0M18.0 328.7h0M17.2 329.4h0M16.4 330.0h0M15.5 330.6h0M14.6 331.1h0M13.6 331.5h0M12.6 331.8h0M11.6 332.0h0M10.5 332.2h0M28.7 316.8h0M28.9 318.5h0M29.0 320.2h0M28.9 321.9h0M28.7 323.6h0M28.3 325.2h0M27.8 326.9h0M27.2 328.4h0M26.4 329.9h0M25.5 331.4h0M24.4 332.7h0M23.3 334.0h0M22.0 335.1h0M20.7 336.2h0M19.2 337.1h0M17.7 337.9h0M16.2 338.5h0M14.5 339.0h0M12.9 339.4h0M11.2 339.6h0M36.1 315.5h0M36.4 317.8h0M36.5 320.2h0M36.4 322.6h0M36.1 324.9h0M35.6 327.2h0M34.9 329.4h0M34.0 331.6h0M32.9 333.7h0M31.6 335.7h0M30.2 337.6h0M28.6 339.3h0M26.9 340.9h0M25.0 342.3h0M23.0 343.6h0M20.9 344.7h0M18.7 345.6h0M16.5 346.3h0M14.2 346.8h0M11.9 347.1h0M43.5 314.2h0M43.9 317.2h0M44.0 320.2h0M43.9 323.2h0M43.5 326.2h0M42.8 329.1h0M41.9 332.0h0M40.8 334.8h0M39.4 337.4h0M37.8 340.0h0M35.9 342.4h0M33.9 344.6h0M31.7 346.6h0M29.3 348.5h0M26.8 350.1h0M24.1 351.5h0M21.3 352.6h0M18.4 353.5h0M15.5 354.2h0M12.5 354.6h0"/><path stroke="#000000" stroke-width="2.7" stroke-linecap="round" fill="none" d="M96.4 320.1h0M91.1 323.5h0M85.4 326.2h0M79.5 328.4h0M73.4 329.9h0M67.2 330.8h0M61.0 331.0h0M54.7 330.6h0M48.5 329.5h0M42.5 327.7h0M36.6 325.4h0M31.1 322.4h0M25.9 318.9h0M21.1 314.9h0M103.3 330.0h0M96.9 334.0h0M90.1 337.3h0M83.1 339.9h0M75.7 341.7h0M68.3 342.7h0M60.7 343.0h0M53.2 342.5h0M45.8 341.2h0M38.6 339.1h0M31.6 336.3h0M24.9 332.7h0M18.7 328.5h0M12.9 323.7h0M110.2 339.8h0M102.7 344.5h0M94.8 348.3h0M86.6 351.3h0M78.0 353.5h0M69.3 354.7h0M60.5 355.0h0M51.8 354.4h0M43.1 352.8h0M34.7 350.4h0M26.5 347.1h0M18.7 343.0h0M11.4 338.1h0M4.7 332.4h0M117.1 349.6h0M108.5 355.0h0M99.5 359.4h0M90.1 362.8h0M80.3 365.2h0M70.4 366.6h0M60.3 367.0h0M50.3 366.3h0M40.4 364.5h0M30.7 361.8h0M21.4 358.0h0M12.6 353.3h0M4.2 347.7h0M123.9 359.5h0M114.4 365.5h0M104.2 370.4h0M93.6 374.3h0M82.6 377.0h0M71.4 378.6h0M60.1 379.0h0M48.8 378.2h0M37.7 376.2h0M26.8 373.1h0M16.4 368.9h0M6.4 363.6h0M130.8 369.3h0M120.2 376.0h0M108.9 381.5h0M97.1 385.8h0M84.9 388.8h0M72.5 390.5h0M59.9 391.0h0M47.4 390.1h0M35.0 387.9h0M22.9 384.5h0M11.3 379.8h0M0.2 373.9h0M137.7 379.1h0M126.0 386.4h0M113.6 392.5h0M100.6 397.2h0M87.2 400.6h0M73.5 402.5h0M59.7 403.0h0M45.9 402.0h0M32.3 399.6h0M19.0 395.8h0M6.2 390.6h0M144.6 389.0h0M131.8 396.9h0M118.3 403.6h0M104.1 408.7h0M89.5 412.4h0M74.6 414.5h0M59.5 415.0h0M44.5 413.9h0M29.6 411.3h0M15.1 407.2h0M1.1 401.5h0M151.5 398.8h0M137.6 407.4h0M123.0 414.6h0M107.6 420.2h0M91.8 424.1h0M75.6 426.4h0M59.3 427.0h0M43.0 425.8h0M26.9 423.0h0M11.2 418.5h0M158.4 408.6h0M143.4 417.9h0M127.6 425.6h0M165.2 418.4h0M149.3 428.4h0M172.1 428.3h0"/><path d=" M19.7,427.3 L39.0,402.0 L53.0,384.0 L65.6,366.4 L72.7,354.0 L83.3,352.3 L90.3,341.7 M111.5,311.7 L122.0,299.0 L134.5,287.0 L149.0,267.5 L170.0,245.0 L189.0,227.5 L195.0,212.7 L197.0,187.5 L191.9,148.1 M197.2,105.1 L201.5,59.9 L216.6,1.8 L218.0,-5.0" fill="none" stroke="#000" stroke-width="1"/><text x="0" y="0" font-size="15" transform="translate(96,340) rotate(-55)">-100</text><text x="0" y="0" font-size="15" transform="translate(187,118) rotate(90)">-100</text><path d="M58.099999999999994,47.0h17.0M66.6,38.5v17.0M60.599999999999994,41.0l12.0,12.0M60.599999999999994,53.0l12.0,-12.0" stroke="#f00" stroke-width="1.1" fill="none"/><path d="M96.0,157.5h17.0M104.5,149.0v17.0M98.5,151.5l12.0,12.0M98.5,163.5l12.0,-12.0" stroke="#f00" stroke-width="1.1" fill="none"/><path d="M104.8,250h17.0M113.3,241.5v17.0M107.3,244.0l12.0,12.0M107.3,256.0l12.0,-12.0" stroke="#f00" stroke-width="1.1" fill="none"/><path d="M53.5,271h17.0M62,262.5v17.0M56.0,265.0l12.0,12.0M56.0,277.0l12.0,-12.0" stroke="#f00" stroke-width="1.1" fill="none"/><path d="M1.0,320.2h17.0M9.5,311.7v17.0M3.5,314.2l12.0,12.0M3.5,326.2l12.0,-12.0" stroke="#f00" stroke-width="1.1" fill="none"/></g><rect x="0" y="0" width="348" height="427.5" fill="none" stroke="#000" stroke-width="1.2"/><text x="284.5" y="37.2" font-size="20.5">10 km</text><line x1="306" y1="43.2" x2="321" y2="43.2" stroke="#000" stroke-width="4" stroke-linecap="round"/></g><text x="67.5" y="750.3" font-size="22" text-anchor="end">37°N</text><text x="69.5" y="820.55" font-size="16.5" text-anchor="end">30'</text><text x="67.5" y="892.8" font-size="22" text-anchor="end">36°N</text><text x="69.5" y="963.05" font-size="16.5" text-anchor="end">30'</text><text x="67.5" y="1035.3" font-size="22" text-anchor="end">35°N</text><text x="69.5" y="1105.55" font-size="16.5" text-anchor="end">30'</text><text x="67.5" y="1177.8" font-size="22" text-anchor="end">34°N</text><text x="75" y="1187.2" font-size="16.5" text-anchor="middle">30'</text><text x="136" y="1191.5" font-size="21" text-anchor="middle">76°W</text><text x="191" y="1187.2" font-size="16.5" text-anchor="middle">30'</text><text x="252" y="1191.5" font-size="21" text-anchor="middle">75°W</text><text x="307" y="1187.2" font-size="16.5" text-anchor="middle">30'</text><text x="368" y="1191.5" font-size="21" text-anchor="middle">74°W</text><text x="423" y="1187.2" font-size="16.5" text-anchor="middle">30'</text><g transform="translate(458.5,742.5)"><g clip-path="url(#axclip)"><line x1="58" y1="0" x2="58" y2="427.5" stroke="#c4c4c4" stroke-width="1" stroke-dasharray="2,6"/><line x1="116" y1="0" x2="116" y2="427.5" stroke="#c4c4c4" stroke-width="1" stroke-dasharray="2,6"/><line x1="174" y1="0" x2="174" y2="427.5" stroke="#c4c4c4" stroke-width="1" stroke-dasharray="2,6"/><line x1="232" y1="0" x2="232" y2="427.5" stroke="#c4c4c4" stroke-width="1" stroke-dasharray="2,6"/><line x1="290" y1="0" x2="290" y2="427.5" stroke="#c4c4c4" stroke-width="1" stroke-dasharray="2,6"/><line x1="0" y1="71.25" x2="348" y2="71.25" stroke="#c4c4c4" stroke-width="1" stroke-dasharray="2,6"/><line x1="0" y1="142.5" x2="348" y2="142.5" stroke="#c4c4c4" stroke-width="1" stroke-dasharray="2,6"/><line x1="0" y1="213.75" x2="348" y2="213.75" stroke="#c4c4c4" stroke-width="1" stroke-dasharray="2,6"/><line x1="0" y1="285.0" x2="348" y2="285.0" stroke="#c4c4c4" stroke-width="1" stroke-dasharray="2,6"/><line x1="0" y1="356.25" x2="348" y2="356.25" stroke="#c4c4c4" stroke-width="1" stroke-dasharray="2,6"/><g shape-rendering="crispEdges"><path fill="#0070ff" d="M66.8 -1.2H74.7V6.8H66.8zM112.7 6.6H120.5V14.6H112.7zM257.8 6.6H265.7V14.6H257.8zM250.2 22.3H258.0V30.3H250.2zM242.5 37.9H250.4V45.9H242.5zM189.1 45.7H196.9V53.7H189.1zM135.6 53.5H143.4V61.5H135.6zM143.2 61.3H151.1V69.3H143.2zM181.4 76.8H189.3V84.8H181.4zM166.1 92.4H174.0V100.4H166.1zM196.7 92.4H204.5V100.4H196.7zM150.9 100.2H158.7V108.1H150.9zM166.1 107.9H174.0V115.9H166.1zM250.2 107.9H258.0V115.9H250.2zM341.9 115.7H349.7V123.6H341.9zM234.9 131.2H250.4V139.1H234.9zM318.9 131.2H326.8V139.1H318.9zM273.1 146.6H280.9V154.6H273.1zM158.5 185.2H166.3V193.1H158.5zM219.6 192.9H227.5V200.8H219.6zM173.8 208.3H189.3V216.2H173.8zM250.2 208.3H258.0V216.2H250.2zM250.2 216.0H258.0V223.9H250.2zM120.3 231.3H128.1V239.2H120.3zM173.8 231.3H181.6V239.2H173.8zM273.1 239.0H280.9V246.9H273.1zM257.8 246.7H273.3V254.5H257.8zM265.5 254.3H273.3V262.2H265.5zM227.3 262.0H242.7V269.8H227.3zM196.7 277.3H204.5V285.1H196.7zM181.4 284.9H189.3V292.8H181.4zM234.9 284.9H242.7V292.8H234.9zM120.3 315.4H128.1V323.3H120.3zM105.0 323.1H112.9V330.9H105.0z"/><path fill="#00cfff" d="M74.5 -1.2H82.3V6.8H74.5zM242.5 6.6H250.4V14.6H242.5zM242.5 14.4H258.0V22.5H242.5zM227.3 22.3H235.1V30.3H227.3zM257.8 30.1H265.7V38.1H257.8zM334.2 53.5H342.1V61.5H334.2zM288.4 76.8H296.2V84.8H288.4zM303.7 84.6H311.5V92.6H303.7zM127.9 115.7H135.8V123.6H127.9zM143.2 115.7H151.1V123.6H143.2zM143.2 123.4H151.1V131.4H143.2zM288.4 123.4H303.9V131.4H288.4zM303.7 131.2H311.5V139.1H303.7zM296.0 146.6H303.9V154.6H296.0zM296.0 154.4H303.9V162.3H296.0zM120.3 162.1H128.1V170.0H120.3zM227.3 177.5H235.1V185.4H227.3zM219.6 185.2H227.5V193.1H219.6zM250.2 185.2H258.0V193.1H250.2zM303.7 185.2H311.5V193.1H303.7zM280.7 192.9H288.6V200.8H280.7zM158.5 200.6H166.3V208.5H158.5zM219.6 200.6H227.5V208.5H219.6zM158.5 208.3H166.3V216.2H158.5zM234.9 223.7H242.7V231.5H234.9zM227.3 231.3H235.1V239.2H227.3zM242.5 231.3H250.4V239.2H242.5zM265.5 231.3H273.3V239.2H265.5zM150.9 239.0H158.7V246.9H150.9zM173.8 239.0H181.6V246.9H173.8zM212.0 246.7H219.8V254.5H212.0zM204.3 262.0H212.2V269.8H204.3zM181.4 269.6H189.3V277.5H181.4z"/><path fill="#008fff" d="M82.1 -1.2H89.9V6.8H82.1zM74.5 6.6H82.3V14.6H74.5zM89.7 6.6H97.6V14.6H89.7zM196.7 6.6H212.2V14.6H196.7zM234.9 6.6H242.7V14.6H234.9zM234.9 14.4H242.7V22.5H234.9zM219.6 22.3H227.5V30.3H219.6zM250.2 37.9H258.0V45.9H250.2zM135.6 61.3H143.4V69.3H135.6zM143.2 69.1H158.7V77.0H143.2zM173.8 69.1H181.6V77.0H173.8zM143.2 92.4H151.1V100.4H143.2zM150.9 123.4H158.7V131.4H150.9zM166.1 162.1H174.0V170.0H166.1zM166.1 169.8H174.0V177.7H166.1zM150.9 177.5H158.7V185.4H150.9zM242.5 177.5H250.4V185.4H242.5zM242.5 192.9H250.4V200.8H242.5zM250.2 200.6H273.3V208.5H250.2zM173.8 216.0H181.6V223.9H173.8zM250.2 223.7H258.0V231.5H250.2zM158.5 231.3H174.0V239.2H158.5zM257.8 231.3H265.7V239.2H257.8zM273.1 231.3H280.9V239.2H273.1zM166.1 239.0H174.0V246.9H166.1zM181.4 239.0H189.3V246.9H181.4zM150.9 246.7H158.7V254.5H150.9zM166.1 246.7H174.0V254.5H166.1zM181.4 246.7H189.3V254.5H181.4zM234.9 246.7H258.0V254.5H234.9zM280.7 246.7H296.2V254.5H280.7zM173.8 254.3H189.3V262.2H173.8zM204.3 254.3H212.2V262.2H204.3zM280.7 254.3H296.2V262.2H280.7zM181.4 262.0H189.3V269.8H181.4zM196.7 262.0H204.5V269.8H196.7zM212.0 262.0H219.8V269.8H212.0zM227.3 269.6H235.1V277.5H227.3zM273.1 269.6H280.9V277.5H273.1zM173.8 277.3H189.3V285.1H173.8zM204.3 277.3H212.2V285.1H204.3zM227.3 277.3H235.1V285.1H227.3zM173.8 284.9H181.6V292.8H173.8zM189.1 284.9H196.9V292.8H189.1z"/><path fill="#00dfff" d="M89.7 -1.2H97.6V6.8H89.7zM250.2 -1.2H258.0V6.8H250.2zM219.6 30.1H227.5V38.1H219.6zM234.9 30.1H242.7V38.1H234.9zM158.5 61.3H166.3V69.3H158.5zM242.5 61.3H250.4V69.3H242.5zM280.7 61.3H288.6V69.3H280.7zM288.4 84.6H296.2V92.6H288.4zM127.9 123.4H135.8V131.4H127.9zM303.7 123.4H311.5V131.4H303.7zM143.2 138.9H151.1V146.8H143.2zM143.2 169.8H151.1V177.7H143.2zM120.3 177.5H128.1V185.4H120.3zM166.1 177.5H174.0V185.4H166.1zM250.2 177.5H258.0V185.4H250.2zM250.2 192.9H258.0V200.8H250.2zM257.8 208.3H265.7V216.2H257.8zM234.9 216.0H242.7V223.9H234.9zM219.6 223.7H227.5V231.5H219.6zM265.5 239.0H273.3V246.9H265.5zM196.7 246.7H204.5V254.5H196.7zM189.1 262.0H196.9V269.8H189.1z"/><path fill="#009fff" d="M97.4 -1.2H105.2V6.8H97.4zM234.9 -1.2H250.4V6.8H234.9zM97.4 6.6H105.2V14.6H97.4zM219.6 14.4H235.1V22.5H219.6zM234.9 22.3H250.4V30.3H234.9zM234.9 37.9H242.7V45.9H234.9zM166.1 76.8H174.0V84.8H166.1zM296.0 76.8H311.5V84.8H296.0zM288.4 100.2H296.2V108.1H288.4zM296.0 138.9H303.9V146.8H296.0zM150.9 162.1H166.3V170.0H150.9zM127.9 169.8H135.8V177.7H127.9zM150.9 169.8H158.7V177.7H150.9zM127.9 177.5H143.4V185.4H127.9zM219.6 177.5H227.5V185.4H219.6zM234.9 177.5H242.7V185.4H234.9zM296.0 185.2H303.9V193.1H296.0zM166.1 200.6H174.0V208.5H166.1zM212.0 200.6H219.8V208.5H212.0zM265.5 208.3H273.3V216.2H265.5zM158.5 216.0H174.0V223.9H158.5zM265.5 216.0H273.3V223.9H265.5zM150.9 223.7H166.3V231.5H150.9zM181.4 223.7H189.3V231.5H181.4zM257.8 223.7H273.3V231.5H257.8zM288.4 223.7H296.2V231.5H288.4zM150.9 231.3H158.7V239.2H150.9zM181.4 231.3H189.3V239.2H181.4zM280.7 231.3H288.6V239.2H280.7zM158.5 239.0H166.3V246.9H158.5zM250.2 239.0H265.7V246.9H250.2zM166.1 254.3H174.0V262.2H166.1zM189.1 254.3H204.5V262.2H189.1zM242.5 254.3H250.4V262.2H242.5zM257.8 254.3H265.7V262.2H257.8zM158.5 262.0H174.0V269.8H158.5zM219.6 262.0H227.5V269.8H219.6zM257.8 262.0H265.7V269.8H257.8zM173.8 269.6H181.6V277.5H173.8zM196.7 269.6H204.5V277.5H196.7zM250.2 269.6H258.0V277.5H250.2zM212.0 277.3H219.8V285.1H212.0zM234.9 277.3H242.7V285.1H234.9z"/><path fill="#0080ff" d="M105.0 -1.2H112.9V6.8H105.0zM318.9 45.7H326.8V53.7H318.9zM173.8 61.3H181.6V69.3H173.8zM158.5 69.1H174.0V77.0H158.5zM181.4 69.1H189.3V77.0H181.4zM158.5 76.8H166.3V84.8H158.5zM135.6 84.6H143.4V92.6H135.6zM158.5 100.2H166.3V108.1H158.5zM212.0 107.9H219.8V115.9H212.0zM265.5 123.4H273.3V131.4H265.5zM135.6 138.9H143.4V146.8H135.6zM257.8 192.9H265.7V200.8H257.8zM173.8 200.6H189.3V208.5H173.8zM204.3 200.6H212.2V208.5H204.3zM196.7 208.3H204.5V216.2H196.7zM150.9 216.0H158.7V223.9H150.9zM181.4 216.0H189.3V223.9H181.4zM166.1 223.7H174.0V231.5H166.1zM280.7 223.7H288.6V231.5H280.7zM288.4 239.0H296.2V246.9H288.4zM219.6 246.7H227.5V254.5H219.6zM250.2 254.3H258.0V262.2H250.2zM265.5 262.0H280.9V269.8H265.5zM242.5 269.6H250.4V277.5H242.5zM257.8 269.6H265.7V277.5H257.8zM166.1 277.3H174.0V285.1H166.1zM189.1 277.3H196.9V285.1H189.1zM265.5 277.3H273.3V285.1H265.5zM166.1 284.9H174.0V292.8H166.1zM250.2 284.9H258.0V292.8H250.2zM173.8 292.6H181.6V300.4H173.8z"/><path fill="#0000ef" d="M112.7 -1.2H120.5V6.8H112.7zM166.1 -1.2H174.0V6.8H166.1zM280.7 -1.2H288.6V6.8H280.7zM189.1 14.4H196.9V22.5H189.1zM74.5 37.9H82.3V45.9H74.5zM97.4 37.9H105.2V45.9H97.4zM120.3 37.9H128.1V45.9H120.3zM105.0 45.7H112.9V53.7H105.0zM135.6 45.7H143.4V53.7H135.6zM97.4 53.5H105.2V61.5H97.4zM227.3 53.5H235.1V61.5H227.3zM112.7 61.3H120.5V69.3H112.7zM234.9 61.3H242.7V69.3H234.9zM296.0 61.3H303.9V69.3H296.0zM127.9 69.1H135.8V77.0H127.9zM82.1 76.8H89.9V84.8H82.1zM97.4 76.8H105.2V84.8H97.4zM127.9 76.8H135.8V84.8H127.9zM82.1 84.6H89.9V92.6H82.1zM112.7 84.6H135.8V92.6H112.7zM173.8 84.6H181.6V92.6H173.8zM196.7 84.6H204.5V92.6H196.7zM273.1 84.6H288.6V92.6H273.1zM89.7 92.4H97.6V100.4H89.7zM311.3 92.4H319.1V100.4H311.3zM97.4 100.2H105.2V108.1H97.4zM120.3 107.9H128.1V115.9H120.3zM242.5 107.9H250.4V115.9H242.5zM212.0 115.7H219.8V123.6H212.0zM227.3 115.7H235.1V123.6H227.3zM280.7 115.7H288.6V123.6H280.7zM173.8 123.4H181.6V131.4H173.8zM227.3 123.4H235.1V131.4H227.3zM318.9 123.4H326.8V131.4H318.9zM166.1 131.2H174.0V139.1H166.1zM227.3 131.2H235.1V139.1H227.3zM173.8 138.9H181.6V146.8H173.8zM181.4 146.6H189.3V154.6H181.4zM227.3 146.6H235.1V154.6H227.3zM265.5 146.6H273.3V154.6H265.5zM173.8 154.4H181.6V162.3H173.8zM273.1 154.4H280.9V162.3H273.1zM273.1 162.1H280.9V170.0H273.1zM189.1 169.8H204.5V177.7H189.1zM242.5 169.8H250.4V177.7H242.5zM173.8 177.5H189.3V185.4H173.8zM135.6 185.2H143.4V193.1H135.6zM166.1 185.2H174.0V193.1H166.1zM196.7 185.2H204.5V193.1H196.7zM280.7 185.2H288.6V193.1H280.7zM318.9 185.2H326.8V193.1H318.9zM135.6 192.9H143.4V200.8H135.6zM265.5 192.9H273.3V200.8H265.5zM311.3 192.9H319.1V200.8H311.3zM326.6 200.6H334.4V208.5H326.6zM311.3 208.3H319.1V216.2H311.3zM334.2 208.3H349.7V216.2H334.2zM311.3 216.0H319.1V223.9H311.3zM334.2 216.0H342.1V223.9H334.2zM296.0 231.3H303.9V239.2H296.0zM311.3 239.0H319.1V246.9H311.3zM326.6 239.0H334.4V246.9H326.6zM296.0 254.3H303.9V262.2H296.0zM150.9 262.0H158.7V269.8H150.9zM334.2 262.0H342.1V269.8H334.2zM82.1 269.6H89.9V277.5H82.1zM296.0 269.6H303.9V277.5H296.0zM311.3 269.6H319.1V277.5H311.3zM97.4 277.3H105.2V285.1H97.4zM341.9 277.3H349.7V285.1H341.9zM74.5 284.9H82.3V292.8H74.5zM89.7 284.9H97.6V292.8H89.7zM318.9 284.9H334.4V292.8H318.9zM66.8 292.6H74.7V300.4H66.8zM219.6 292.6H227.5V300.4H219.6zM257.8 292.6H265.7V300.4H257.8zM51.5 300.2H67.0V308.0H51.5zM296.0 300.2H303.9V308.0H296.0zM74.5 307.8H82.3V315.6H74.5zM196.7 307.8H204.5V315.6H196.7zM234.9 315.4H250.4V323.3H234.9zM196.7 323.1H204.5V330.9H196.7zM219.6 323.1H235.1V330.9H219.6zM227.3 330.7H235.1V338.5H227.3zM296.0 330.7H303.9V338.5H296.0zM28.6 361.1H36.5V368.8H28.6z"/><path fill="#0010ff" d="M120.3 -1.2H128.1V6.8H120.3zM150.9 -1.2H158.7V6.8H150.9zM181.4 -1.2H189.3V6.8H181.4zM257.8 -1.2H265.7V6.8H257.8zM166.1 6.6H189.3V14.6H166.1zM143.2 14.4H151.1V22.5H143.2zM158.5 14.4H166.3V22.5H158.5zM212.0 14.4H219.8V22.5H212.0zM105.0 22.3H120.5V30.3H105.0zM280.7 22.3H288.6V30.3H280.7zM150.9 30.1H158.7V38.1H150.9zM181.4 30.1H189.3V38.1H181.4zM204.3 30.1H212.2V38.1H204.3zM280.7 30.1H288.6V38.1H280.7zM318.9 30.1H326.8V38.1H318.9zM82.1 37.9H89.9V45.9H82.1zM74.5 45.7H97.6V53.7H74.5zM127.9 45.7H135.8V53.7H127.9zM212.0 45.7H219.8V53.7H212.0zM288.4 45.7H296.2V53.7H288.4zM120.3 53.5H128.1V61.5H120.3zM173.8 53.5H181.6V61.5H173.8zM204.3 53.5H212.2V61.5H204.3zM303.7 53.5H311.5V61.5H303.7zM97.4 61.3H112.9V69.3H97.4zM181.4 61.3H196.9V69.3H181.4zM303.7 61.3H311.5V69.3H303.7zM105.0 69.1H112.9V77.0H105.0zM196.7 69.1H204.5V77.0H196.7zM227.3 69.1H235.1V77.0H227.3zM296.0 69.1H303.9V77.0H296.0zM227.3 76.8H235.1V84.8H227.3zM89.7 84.6H105.2V92.6H89.7zM219.6 84.6H227.5V92.6H219.6zM311.3 84.6H319.1V92.6H311.3zM334.2 84.6H342.1V92.6H334.2zM135.6 92.4H143.4V100.4H135.6zM181.4 92.4H189.3V100.4H181.4zM257.8 92.4H273.3V100.4H257.8zM341.9 92.4H349.7V100.4H341.9zM181.4 100.2H189.3V108.1H181.4zM196.7 100.2H204.5V108.1H196.7zM265.5 100.2H273.3V108.1H265.5zM311.3 100.2H319.1V108.1H311.3zM97.4 107.9H105.2V115.9H97.4zM112.7 107.9H120.5V115.9H112.7zM158.5 107.9H166.3V115.9H158.5zM196.7 107.9H204.5V115.9H196.7zM227.3 107.9H242.7V115.9H227.3zM334.2 107.9H349.7V115.9H334.2zM219.6 115.7H227.5V123.6H219.6zM242.5 115.7H250.4V123.6H242.5zM318.9 115.7H326.8V123.6H318.9zM242.5 123.4H265.7V131.4H242.5zM311.3 131.2H319.1V139.1H311.3zM227.3 138.9H235.1V146.8H227.3zM250.2 138.9H258.0V146.8H250.2zM265.5 138.9H273.3V146.8H265.5zM311.3 138.9H319.1V146.8H311.3zM234.9 146.6H242.7V154.6H234.9zM280.7 146.6H288.6V154.6H280.7zM158.5 154.4H166.3V162.3H158.5zM234.9 154.4H242.7V162.3H234.9zM265.5 154.4H273.3V162.3H265.5zM280.7 154.4H288.6V162.3H280.7zM227.3 162.1H235.1V170.0H227.3zM341.9 162.1H349.7V170.0H341.9zM257.8 169.8H265.7V177.7H257.8zM288.4 169.8H296.2V177.7H288.4zM318.9 169.8H326.8V177.7H318.9zM189.1 177.5H196.9V185.4H189.1zM204.3 177.5H219.8V185.4H204.3zM273.1 177.5H288.6V185.4H273.1zM265.5 185.2H273.3V193.1H265.5zM288.4 185.2H296.2V193.1H288.4zM341.9 185.2H349.7V193.1H341.9zM181.4 192.9H189.3V200.8H181.4zM196.7 192.9H204.5V200.8H196.7zM296.0 192.9H303.9V200.8H296.0zM341.9 192.9H349.7V200.8H341.9zM135.6 208.3H143.4V216.2H135.6zM318.9 208.3H326.8V216.2H318.9zM143.2 216.0H151.1V223.9H143.2zM143.2 223.7H151.1V231.5H143.2zM311.3 223.7H326.8V231.5H311.3zM135.6 231.3H143.4V239.2H135.6zM334.2 231.3H342.1V239.2H334.2zM318.9 262.0H326.8V269.8H318.9zM341.9 262.0H349.7V269.8H341.9zM318.9 269.6H326.8V277.5H318.9zM82.1 277.3H97.6V285.1H82.1zM97.4 284.9H105.2V292.8H97.4zM257.8 284.9H273.3V292.8H257.8zM97.4 292.6H105.2V300.4H97.4zM341.9 292.6H349.7V300.4H341.9zM212.0 300.2H219.8V308.0H212.0zM250.2 300.2H258.0V308.0H250.2zM51.5 307.8H59.4V315.6H51.5zM112.7 307.8H120.5V315.6H112.7zM227.3 307.8H242.7V315.6H227.3zM250.2 307.8H258.0V315.6H250.2zM212.0 315.4H219.8V323.3H212.0zM204.3 323.1H212.2V330.9H204.3zM296.0 323.1H303.9V330.9H296.0zM150.9 338.3H158.7V346.1H150.9zM13.3 353.5H21.2V361.3H13.3zM5.7 361.1H13.5V368.8H5.7zM273.1 361.1H280.9V368.8H273.1zM5.7 368.6H13.5V376.4H5.7zM234.9 376.2H242.7V384.0H234.9z"/><path fill="#0030ff" d="M127.9 -1.2H135.8V6.8H127.9zM143.2 -1.2H151.1V6.8H143.2zM158.5 -1.2H166.3V6.8H158.5zM173.8 -1.2H181.6V6.8H173.8zM204.3 -1.2H212.2V6.8H204.3zM265.5 -1.2H273.3V6.8H265.5zM303.7 6.6H311.5V14.6H303.7zM173.8 14.4H181.6V22.5H173.8zM303.7 14.4H311.5V22.5H303.7zM82.1 22.3H89.9V30.3H82.1zM158.5 22.3H166.3V30.3H158.5zM288.4 22.3H296.2V30.3H288.4zM105.0 30.1H112.9V38.1H105.0zM120.3 30.1H128.1V38.1H120.3zM166.1 30.1H174.0V38.1H166.1zM288.4 30.1H303.9V38.1H288.4zM326.6 30.1H334.4V38.1H326.6zM105.0 37.9H112.9V45.9H105.0zM158.5 37.9H166.3V45.9H158.5zM173.8 37.9H181.6V45.9H173.8zM303.7 37.9H326.8V45.9H303.7zM97.4 45.7H105.2V53.7H97.4zM166.1 45.7H174.0V53.7H166.1zM196.7 45.7H204.5V53.7H196.7zM219.6 45.7H227.5V53.7H219.6zM158.5 53.5H174.0V61.5H158.5zM196.7 53.5H204.5V61.5H196.7zM219.6 53.5H227.5V61.5H219.6zM288.4 53.5H296.2V61.5H288.4zM311.3 53.5H319.1V61.5H311.3zM196.7 61.3H204.5V69.3H196.7zM219.6 61.3H227.5V69.3H219.6zM288.4 61.3H296.2V69.3H288.4zM212.0 69.1H227.5V77.0H212.0zM189.1 76.8H196.9V84.8H189.1zM227.3 84.6H235.1V92.6H227.3zM143.2 100.2H151.1V108.1H143.2zM341.9 100.2H349.7V108.1H341.9zM257.8 107.9H273.3V115.9H257.8zM311.3 107.9H319.1V115.9H311.3zM105.0 115.7H112.9V123.6H105.0zM234.9 115.7H242.7V123.6H234.9zM250.2 115.7H258.0V123.6H250.2zM311.3 115.7H319.1V123.6H311.3zM326.6 115.7H334.4V123.6H326.6zM120.3 123.4H128.1V131.4H120.3zM341.9 123.4H349.7V131.4H341.9zM265.5 131.2H273.3V139.1H265.5zM334.2 131.2H342.1V139.1H334.2zM120.3 138.9H128.1V146.8H120.3zM166.1 138.9H174.0V146.8H166.1zM242.5 138.9H250.4V146.8H242.5zM143.2 146.6H151.1V154.6H143.2zM250.2 146.6H258.0V154.6H250.2zM311.3 146.6H319.1V154.6H311.3zM334.2 146.6H342.1V154.6H334.2zM143.2 154.4H151.1V162.3H143.2zM242.5 154.4H265.7V162.3H242.5zM181.4 169.8H189.3V177.7H181.4zM234.9 169.8H242.7V177.7H234.9zM280.7 169.8H288.6V177.7H280.7zM311.3 169.8H319.1V177.7H311.3zM334.2 169.8H342.1V177.7H334.2zM288.4 177.5H296.2V185.4H288.4zM311.3 177.5H326.8V185.4H311.3zM127.9 231.3H135.8V239.2H127.9zM303.7 239.0H311.5V246.9H303.7zM326.6 269.6H334.4V277.5H326.6zM288.4 277.3H296.2V285.1H288.4zM82.1 315.4H89.9V323.3H82.1zM112.7 323.1H120.5V330.9H112.7zM21.0 353.5H28.8V361.3H21.0zM36.3 361.1H44.1V368.8H36.3zM227.3 361.1H235.1V368.8H227.3zM36.3 368.6H51.7V376.4H36.3zM36.3 376.2H44.1V384.0H36.3zM112.7 414.0H120.5V421.8H112.7zM105.0 421.6H112.9V429.3H105.0z"/><path fill="#0050ff" d="M135.6 -1.2H143.4V6.8H135.6zM273.1 -1.2H280.9V6.8H273.1zM105.0 14.4H112.9V22.5H105.0zM135.6 14.4H143.4V22.5H135.6zM311.3 14.4H326.8V22.5H311.3zM97.4 22.3H105.2V30.3H97.4zM135.6 22.3H143.4V30.3H135.6zM181.4 22.3H204.5V30.3H181.4zM273.1 30.1H280.9V38.1H273.1zM303.7 30.1H311.5V38.1H303.7zM143.2 37.9H151.1V45.9H143.2zM181.4 37.9H196.9V45.9H181.4zM212.0 37.9H219.8V45.9H212.0zM265.5 37.9H273.3V45.9H265.5zM296.0 37.9H303.9V45.9H296.0zM143.2 45.7H151.1V53.7H143.2zM204.3 45.7H212.2V53.7H204.3zM311.3 45.7H319.1V53.7H311.3zM143.2 53.5H151.1V61.5H143.2zM234.9 53.5H242.7V61.5H234.9zM150.9 61.3H158.7V69.3H150.9zM311.3 61.3H319.1V69.3H311.3zM265.5 84.6H273.3V92.6H265.5zM234.9 92.4H242.7V100.4H234.9zM135.6 100.2H143.4V108.1H135.6zM166.1 100.2H174.0V108.1H166.1zM219.6 100.2H227.5V108.1H219.6zM150.9 107.9H158.7V115.9H150.9zM280.7 107.9H288.6V115.9H280.7zM265.5 115.7H273.3V123.6H265.5zM273.1 123.4H280.9V131.4H273.1zM311.3 123.4H319.1V131.4H311.3zM120.3 131.2H128.1V139.1H120.3zM250.2 131.2H258.0V139.1H250.2zM341.9 131.2H349.7V139.1H341.9zM288.4 146.6H296.2V154.6H288.4zM127.9 154.4H143.4V162.3H127.9zM257.8 162.1H265.7V170.0H257.8zM326.6 169.8H334.4V177.7H326.6zM341.9 169.8H349.7V177.7H341.9zM181.4 185.2H189.3V193.1H181.4zM189.1 192.9H196.9V200.8H189.1zM143.2 208.3H151.1V216.2H143.2zM120.3 223.7H128.1V231.5H120.3zM143.2 231.3H151.1V239.2H143.2zM288.4 262.0H296.2V269.8H288.4zM265.5 269.6H273.3V277.5H265.5zM288.4 269.6H296.2V277.5H288.4zM288.4 292.6H296.2V300.4H288.4zM66.8 300.2H74.7V308.0H66.8zM120.3 323.1H128.1V330.9H120.3z"/><path fill="#0060ff" d="M189.1 -1.2H196.9V6.8H189.1zM288.4 -1.2H296.2V6.8H288.4zM158.5 6.6H166.3V14.6H158.5zM257.8 14.4H265.7V22.5H257.8zM296.0 14.4H303.9V22.5H296.0zM212.0 22.3H219.8V30.3H212.0zM265.5 22.3H273.3V30.3H265.5zM311.3 22.3H326.8V30.3H311.3zM127.9 30.1H135.8V38.1H127.9zM143.2 30.1H151.1V38.1H143.2zM166.1 37.9H174.0V45.9H166.1zM334.2 37.9H342.1V45.9H334.2zM112.7 45.7H120.5V53.7H112.7zM173.8 45.7H189.3V53.7H173.8zM181.4 53.5H189.3V61.5H181.4zM318.9 53.5H326.8V61.5H318.9zM135.6 76.8H143.4V84.8H135.6zM150.9 84.6H158.7V92.6H150.9zM158.5 92.4H166.3V100.4H158.5zM318.9 92.4H326.8V100.4H318.9zM173.8 100.2H181.6V108.1H173.8zM257.8 100.2H265.7V108.1H257.8zM280.7 100.2H288.6V108.1H280.7zM326.6 100.2H334.4V108.1H326.6zM181.4 107.9H189.3V115.9H181.4zM334.2 115.7H342.1V123.6H334.2zM112.7 138.9H120.5V146.8H112.7zM318.9 154.4H326.8V162.3H318.9zM288.4 162.1H296.2V170.0H288.4zM311.3 162.1H319.1V170.0H311.3zM265.5 169.8H273.3V177.7H265.5zM257.8 185.2H265.7V193.1H257.8zM273.1 185.2H280.9V193.1H273.1zM196.7 200.6H204.5V208.5H196.7zM127.9 223.7H135.8V231.5H127.9zM173.8 223.7H181.6V231.5H173.8zM173.8 246.7H181.6V254.5H173.8zM219.6 254.3H227.5V262.2H219.6zM280.7 262.0H288.6V269.8H280.7zM105.0 307.8H112.9V315.6H105.0zM143.2 330.7H151.1V338.5H143.2zM21.0 368.6H28.8V376.4H21.0z"/><path fill="#0040ff" d="M196.7 -1.2H204.5V6.8H196.7zM189.1 6.6H196.9V14.6H189.1zM212.0 6.6H219.8V14.6H212.0zM74.5 14.4H82.3V22.5H74.5zM89.7 14.4H97.6V22.5H89.7zM112.7 14.4H120.5V22.5H112.7zM166.1 14.4H174.0V22.5H166.1zM204.3 14.4H212.2V22.5H204.3zM74.5 22.3H82.3V30.3H74.5zM89.7 22.3H97.6V30.3H89.7zM143.2 22.3H151.1V30.3H143.2zM204.3 22.3H212.2V30.3H204.3zM273.1 22.3H280.9V30.3H273.1zM326.6 22.3H342.1V30.3H326.6zM74.5 30.1H82.3V38.1H74.5zM97.4 30.1H105.2V38.1H97.4zM265.5 30.1H273.3V38.1H265.5zM311.3 30.1H319.1V38.1H311.3zM334.2 30.1H342.1V38.1H334.2zM135.6 37.9H143.4V45.9H135.6zM196.7 37.9H212.2V45.9H196.7zM288.4 37.9H296.2V45.9H288.4zM150.9 45.7H166.3V53.7H150.9zM296.0 45.7H311.5V53.7H296.0zM150.9 53.5H158.7V61.5H150.9zM227.3 61.3H235.1V69.3H227.3zM311.3 69.1H319.1V77.0H311.3zM196.7 76.8H204.5V84.8H196.7zM242.5 76.8H250.4V84.8H242.5zM318.9 76.8H334.4V84.8H318.9zM212.0 84.6H219.8V92.6H212.0zM257.8 84.6H265.7V92.6H257.8zM318.9 84.6H334.4V92.6H318.9zM189.1 92.4H196.9V100.4H189.1zM227.3 92.4H235.1V100.4H227.3zM242.5 92.4H258.0V100.4H242.5zM280.7 92.4H288.6V100.4H280.7zM334.2 92.4H342.1V100.4H334.2zM89.7 100.2H97.6V108.1H89.7zM242.5 100.2H250.4V108.1H242.5zM318.9 100.2H326.8V108.1H318.9zM135.6 107.9H143.4V115.9H135.6zM173.8 107.9H181.6V115.9H173.8zM204.3 107.9H212.2V115.9H204.3zM112.7 115.7H120.5V123.6H112.7zM158.5 115.7H166.3V123.6H158.5zM112.7 123.4H120.5V131.4H112.7zM158.5 123.4H166.3V131.4H158.5zM234.9 123.4H242.7V131.4H234.9zM280.7 123.4H288.6V131.4H280.7zM334.2 123.4H342.1V131.4H334.2zM158.5 131.2H166.3V139.1H158.5zM173.8 131.2H181.6V139.1H173.8zM273.1 131.2H288.6V139.1H273.1zM326.6 131.2H334.4V139.1H326.6zM181.4 138.9H189.3V146.8H181.4zM234.9 138.9H242.7V146.8H234.9zM318.9 138.9H326.8V146.8H318.9zM334.2 138.9H342.1V146.8H334.2zM135.6 146.6H143.4V154.6H135.6zM150.9 146.6H158.7V154.6H150.9zM242.5 146.6H250.4V154.6H242.5zM150.9 154.4H158.7V162.3H150.9zM288.4 154.4H296.2V162.3H288.4zM334.2 154.4H342.1V162.3H334.2zM318.9 162.1H326.8V170.0H318.9zM250.2 169.8H258.0V177.7H250.2zM334.2 177.5H342.1V185.4H334.2zM127.9 185.2H135.8V193.1H127.9zM143.2 185.2H158.7V193.1H143.2zM143.2 192.9H151.1V200.8H143.2zM158.5 192.9H166.3V200.8H158.5zM303.7 192.9H311.5V200.8H303.7zM318.9 192.9H326.8V200.8H318.9zM334.2 192.9H342.1V200.8H334.2zM189.1 200.6H196.9V208.5H189.1zM234.9 254.3H242.7V262.2H234.9zM296.0 262.0H303.9V269.8H296.0zM66.8 277.3H74.7V285.1H66.8zM74.5 292.6H82.3V300.4H74.5zM89.7 307.8H97.6V315.6H89.7zM105.0 315.4H112.9V323.3H105.0zM135.6 330.7H143.4V338.5H135.6zM21.0 345.9H28.8V353.7H21.0zM13.3 361.1H21.2V368.8H13.3z"/><path fill="#0000ff" d="M212.0 -1.2H219.8V6.8H212.0zM150.9 6.6H158.7V14.6H150.9zM273.1 6.6H280.9V14.6H273.1zM311.3 6.6H319.1V14.6H311.3zM120.3 14.4H128.1V22.5H120.3zM181.4 14.4H189.3V22.5H181.4zM166.1 22.3H181.6V30.3H166.1zM296.0 22.3H303.9V30.3H296.0zM82.1 30.1H97.6V38.1H82.1zM189.1 30.1H196.9V38.1H189.1zM112.7 37.9H120.5V45.9H112.7zM341.9 37.9H349.7V45.9H341.9zM189.1 53.5H196.9V61.5H189.1zM82.1 61.3H97.6V69.3H82.1zM204.3 69.1H212.2V77.0H204.3zM89.7 76.8H97.6V84.8H89.7zM112.7 76.8H120.5V84.8H112.7zM204.3 76.8H212.2V84.8H204.3zM234.9 76.8H242.7V84.8H234.9zM341.9 76.8H349.7V84.8H341.9zM189.1 84.6H196.9V92.6H189.1zM112.7 92.4H128.1V100.4H112.7zM173.8 92.4H181.6V100.4H173.8zM212.0 92.4H227.5V100.4H212.0zM326.6 92.4H334.4V100.4H326.6zM212.0 100.2H219.8V108.1H212.0zM227.3 100.2H242.7V108.1H227.3zM250.2 100.2H258.0V108.1H250.2zM105.0 107.9H112.9V115.9H105.0zM143.2 107.9H151.1V115.9H143.2zM189.1 107.9H196.9V115.9H189.1zM326.6 107.9H334.4V115.9H326.6zM196.7 115.7H204.5V123.6H196.7zM326.6 123.4H334.4V131.4H326.6zM112.7 131.2H120.5V139.1H112.7zM257.8 131.2H265.7V139.1H257.8zM326.6 138.9H334.4V146.8H326.6zM341.9 138.9H349.7V146.8H341.9zM189.1 146.6H204.5V154.6H189.1zM257.8 146.6H265.7V154.6H257.8zM326.6 146.6H334.4V154.6H326.6zM341.9 146.6H349.7V154.6H341.9zM120.3 154.4H128.1V162.3H120.3zM166.1 154.4H174.0V162.3H166.1zM189.1 154.4H196.9V162.3H189.1zM212.0 154.4H227.5V162.3H212.0zM341.9 154.4H349.7V162.3H341.9zM173.8 162.1H181.6V170.0H173.8zM196.7 162.1H227.5V170.0H196.7zM265.5 162.1H273.3V170.0H265.5zM334.2 162.1H342.1V170.0H334.2zM273.1 169.8H280.9V177.7H273.1zM257.8 177.5H265.7V185.4H257.8zM341.9 177.5H349.7V185.4H341.9zM173.8 185.2H181.6V193.1H173.8zM189.1 185.2H196.9V193.1H189.1zM204.3 185.2H212.2V193.1H204.3zM166.1 192.9H174.0V200.8H166.1zM296.0 200.6H311.5V208.5H296.0zM296.0 216.0H303.9V223.9H296.0zM135.6 223.7H143.4V231.5H135.6zM303.7 223.7H311.5V231.5H303.7zM341.9 246.7H349.7V254.5H341.9zM74.5 262.0H82.3V269.8H74.5zM303.7 269.6H311.5V277.5H303.7zM303.7 284.9H319.1V292.8H303.7zM51.5 292.6H59.4V300.4H51.5zM234.9 292.6H258.0V300.4H234.9zM219.6 300.2H227.5V308.0H219.6zM257.8 300.2H265.7V308.0H257.8zM59.2 307.8H74.7V315.6H59.2zM82.1 307.8H89.9V315.6H82.1zM112.7 315.4H120.5V323.3H112.7zM257.8 315.4H265.7V323.3H257.8zM150.9 330.7H158.7V338.5H150.9zM219.6 330.7H227.5V338.5H219.6zM280.7 330.7H288.6V338.5H280.7zM21.0 361.1H28.8V368.8H21.0zM135.6 361.1H143.4V368.8H135.6zM13.3 368.6H21.2V376.4H13.3zM28.6 368.6H36.5V376.4H28.6zM219.6 368.6H227.5V376.4H219.6zM43.9 376.2H51.7V384.0H43.9z"/><path fill="#00bfff" d="M219.6 -1.2H235.1V6.8H219.6zM66.8 6.6H74.7V14.6H66.8zM219.6 6.6H227.5V14.6H219.6zM227.3 30.1H235.1V38.1H227.3zM242.5 30.1H258.0V38.1H242.5zM219.6 37.9H235.1V45.9H219.6zM166.1 61.3H174.0V69.3H166.1zM143.2 76.8H151.1V84.8H143.2zM296.0 84.6H303.9V92.6H296.0zM288.4 92.4H296.2V100.4H288.4zM296.0 107.9H311.5V115.9H296.0zM120.3 115.7H128.1V123.6H120.3zM135.6 115.7H143.4V123.6H135.6zM288.4 115.7H296.2V123.6H288.4zM150.9 131.2H158.7V139.1H150.9zM288.4 131.2H296.2V139.1H288.4zM303.7 146.6H311.5V154.6H303.7zM303.7 154.4H311.5V162.3H303.7zM143.2 162.1H151.1V170.0H143.2zM296.0 177.5H303.9V185.4H296.0zM227.3 185.2H235.1V193.1H227.3zM166.1 208.3H174.0V216.2H166.1zM189.1 208.3H196.9V216.2H189.1zM158.5 246.7H166.3V254.5H158.5zM227.3 246.7H235.1V254.5H227.3zM273.1 246.7H280.9V254.5H273.1zM150.9 254.3H166.3V262.2H150.9zM166.1 269.6H174.0V277.5H166.1zM204.3 269.6H219.8V277.5H204.3zM257.8 277.3H265.7V285.1H257.8z"/><path fill="#00afff" d="M82.1 6.6H89.9V14.6H82.1zM105.0 6.6H112.9V14.6H105.0zM227.3 6.6H235.1V14.6H227.3zM250.2 6.6H258.0V14.6H250.2zM257.8 37.9H265.7V45.9H257.8zM234.9 45.7H258.0V53.7H234.9zM242.5 53.5H250.4V61.5H242.5zM135.6 69.1H143.4V77.0H135.6zM150.9 76.8H158.7V84.8H150.9zM173.8 76.8H181.6V84.8H173.8zM143.2 84.6H151.1V92.6H143.2zM158.5 84.6H174.0V92.6H158.5zM150.9 92.4H158.7V100.4H150.9zM296.0 92.4H303.9V100.4H296.0zM303.7 100.2H311.5V108.1H303.7zM303.7 115.7H311.5V123.6H303.7zM127.9 138.9H135.8V146.8H127.9zM135.6 169.8H143.4V177.7H135.6zM143.2 177.5H151.1V185.4H143.2zM242.5 185.2H250.4V193.1H242.5zM227.3 192.9H235.1V200.8H227.3zM150.9 200.6H158.7V208.5H150.9zM150.9 208.3H158.7V216.2H150.9zM189.1 216.0H196.9V223.9H189.1zM273.1 223.7H280.9V231.5H273.1zM250.2 231.3H258.0V239.2H250.2zM288.4 231.3H296.2V239.2H288.4zM242.5 239.0H250.4V246.9H242.5zM212.0 254.3H219.8V262.2H212.0zM227.3 254.3H235.1V262.2H227.3zM273.1 254.3H280.9V262.2H273.1zM173.8 262.0H181.6V269.8H173.8zM242.5 262.0H258.0V269.8H242.5zM219.6 269.6H227.5V277.5H219.6zM234.9 269.6H242.7V277.5H234.9zM280.7 269.6H288.6V277.5H280.7zM219.6 277.3H227.5V285.1H219.6zM242.5 277.3H258.0V285.1H242.5zM181.4 292.6H189.3V300.4H181.4z"/><path fill="#0020ff" d="M120.3 6.6H151.1V14.6H120.3zM265.5 6.6H273.3V14.6H265.5zM97.4 14.4H105.2V22.5H97.4zM127.9 14.4H135.8V22.5H127.9zM150.9 14.4H158.7V22.5H150.9zM265.5 14.4H296.2V22.5H265.5zM120.3 22.3H135.8V30.3H120.3zM303.7 22.3H311.5V30.3H303.7zM341.9 22.3H349.7V30.3H341.9zM112.7 30.1H120.5V38.1H112.7zM135.6 30.1H143.4V38.1H135.6zM158.5 30.1H166.3V38.1H158.5zM173.8 30.1H181.6V38.1H173.8zM196.7 30.1H204.5V38.1H196.7zM212.0 30.1H219.8V38.1H212.0zM341.9 30.1H349.7V38.1H341.9zM89.7 37.9H97.6V45.9H89.7zM150.9 37.9H158.7V45.9H150.9zM273.1 37.9H280.9V45.9H273.1zM326.6 37.9H334.4V45.9H326.6zM120.3 45.7H128.1V53.7H120.3zM227.3 45.7H235.1V53.7H227.3zM257.8 45.7H265.7V53.7H257.8zM212.0 53.5H219.8V61.5H212.0zM296.0 53.5H303.9V61.5H296.0zM204.3 61.3H212.2V69.3H204.3zM318.9 61.3H326.8V69.3H318.9zM82.1 69.1H89.9V77.0H82.1zM97.4 69.1H105.2V77.0H97.4zM112.7 69.1H120.5V77.0H112.7zM189.1 69.1H196.9V77.0H189.1zM318.9 69.1H326.8V77.0H318.9zM212.0 76.8H227.5V84.8H212.0zM311.3 76.8H319.1V84.8H311.3zM334.2 76.8H342.1V84.8H334.2zM181.4 84.6H189.3V92.6H181.4zM204.3 84.6H212.2V92.6H204.3zM234.9 84.6H242.7V92.6H234.9zM250.2 84.6H258.0V92.6H250.2zM341.9 84.6H349.7V92.6H341.9zM204.3 92.4H212.2V100.4H204.3zM273.1 92.4H280.9V100.4H273.1zM189.1 100.2H196.9V108.1H189.1zM204.3 100.2H212.2V108.1H204.3zM273.1 100.2H280.9V108.1H273.1zM334.2 100.2H342.1V108.1H334.2zM273.1 107.9H280.9V115.9H273.1zM318.9 107.9H326.8V115.9H318.9zM97.4 115.7H105.2V123.6H97.4zM166.1 115.7H174.0V123.6H166.1zM181.4 115.7H189.3V123.6H181.4zM204.3 115.7H212.2V123.6H204.3zM257.8 115.7H265.7V123.6H257.8zM273.1 115.7H280.9V123.6H273.1zM219.6 123.4H227.5V131.4H219.6zM204.3 138.9H219.8V146.8H204.3zM257.8 138.9H265.7V146.8H257.8zM273.1 138.9H288.6V146.8H273.1zM120.3 146.6H135.8V154.6H120.3zM158.5 146.6H174.0V154.6H158.5zM204.3 146.6H212.2V154.6H204.3zM311.3 154.4H319.1V162.3H311.3zM326.6 154.4H334.4V162.3H326.6zM189.1 162.1H196.9V170.0H189.1zM234.9 162.1H258.0V170.0H234.9zM326.6 162.1H334.4V170.0H326.6zM212.0 169.8H219.8V177.7H212.0zM326.6 177.5H334.4V185.4H326.6zM334.2 185.2H342.1V193.1H334.2zM150.9 192.9H158.7V200.8H150.9zM173.8 192.9H181.6V200.8H173.8zM204.3 192.9H212.2V200.8H204.3zM326.6 192.9H334.4V200.8H326.6zM135.6 200.6H151.1V208.5H135.6zM326.6 208.3H334.4V216.2H326.6zM318.9 216.0H326.8V223.9H318.9zM326.6 223.7H334.4V231.5H326.6zM341.9 269.6H349.7V277.5H341.9zM273.1 277.3H280.9V285.1H273.1zM59.2 284.9H74.7V292.8H59.2zM227.3 284.9H235.1V292.8H227.3zM242.5 284.9H250.4V292.8H242.5zM288.4 284.9H296.2V292.8H288.4zM74.5 300.2H82.3V308.0H74.5zM105.0 300.2H112.9V308.0H105.0zM242.5 307.8H250.4V315.6H242.5zM227.3 315.4H235.1V323.3H227.3zM143.2 338.3H151.1V346.1H143.2zM28.6 353.5H36.5V361.3H28.6zM234.9 361.1H242.7V368.8H234.9zM227.3 368.6H235.1V376.4H227.3zM13.3 376.2H36.5V384.0H13.3zM219.6 376.2H227.5V384.0H219.6zM105.0 414.0H112.9V421.8H105.0zM112.7 421.6H120.5V429.3H112.7z"/><path fill="#0000df" d="M280.7 6.6H296.2V14.6H280.7zM150.9 22.3H158.7V30.3H150.9zM280.7 37.9H288.6V45.9H280.7zM82.1 53.5H97.6V61.5H82.1zM112.7 53.5H120.5V61.5H112.7zM120.3 61.3H135.8V69.3H120.3zM234.9 69.1H242.7V77.0H234.9zM288.4 69.1H296.2V77.0H288.4zM120.3 76.8H128.1V84.8H120.3zM105.0 84.6H112.9V92.6H105.0zM242.5 84.6H250.4V92.6H242.5zM97.4 92.4H112.9V100.4H97.4zM127.9 92.4H135.8V100.4H127.9zM127.9 107.9H135.8V115.9H127.9zM150.9 115.7H158.7V123.6H150.9zM189.1 115.7H196.9V123.6H189.1zM166.1 123.4H174.0V131.4H166.1zM181.4 123.4H204.5V131.4H181.4zM189.1 131.2H204.5V139.1H189.1zM219.6 131.2H227.5V139.1H219.6zM158.5 138.9H166.3V146.8H158.5zM212.0 146.6H219.8V154.6H212.0zM318.9 146.6H326.8V154.6H318.9zM181.4 154.4H189.3V162.3H181.4zM227.3 154.4H235.1V162.3H227.3zM181.4 162.1H189.3V170.0H181.4zM219.6 169.8H227.5V177.7H219.6zM265.5 177.5H273.3V185.4H265.5zM212.0 185.2H219.8V193.1H212.0zM311.3 185.2H319.1V193.1H311.3zM326.6 185.2H334.4V193.1H326.6zM127.9 192.9H135.8V200.8H127.9zM311.3 200.6H326.8V208.5H311.3zM135.6 216.0H143.4V223.9H135.6zM303.7 216.0H311.5V223.9H303.7zM341.9 223.7H349.7V231.5H341.9zM303.7 231.3H311.5V239.2H303.7zM341.9 231.3H349.7V239.2H341.9zM318.9 239.0H326.8V246.9H318.9zM311.3 246.7H319.1V254.5H311.3zM326.6 246.7H334.4V254.5H326.6zM311.3 254.3H319.1V262.2H311.3zM303.7 262.0H311.5V269.8H303.7zM326.6 262.0H334.4V269.8H326.6zM74.5 269.6H82.3V277.5H74.5zM59.2 277.3H67.0V285.1H59.2zM74.5 277.3H82.3V285.1H74.5zM280.7 277.3H288.6V285.1H280.7zM303.7 277.3H319.1V285.1H303.7zM334.2 277.3H342.1V285.1H334.2zM51.5 284.9H59.4V292.8H51.5zM82.1 284.9H89.9V292.8H82.1zM334.2 284.9H342.1V292.8H334.2zM59.2 292.6H67.0V300.4H59.2zM89.7 292.6H97.6V300.4H89.7zM166.1 292.6H174.0V300.4H166.1zM189.1 292.6H196.9V300.4H189.1zM334.2 292.6H342.1V300.4H334.2zM82.1 300.2H97.6V308.0H82.1zM204.3 300.2H212.2V308.0H204.3zM227.3 300.2H242.7V308.0H227.3zM265.5 300.2H273.3V308.0H265.5zM212.0 307.8H227.5V315.6H212.0zM288.4 307.8H296.2V315.6H288.4zM303.7 307.8H311.5V315.6H303.7zM219.6 315.4H227.5V323.3H219.6zM318.9 315.4H326.8V323.3H318.9zM196.7 330.7H204.5V338.5H196.7zM234.9 330.7H242.7V338.5H234.9zM227.3 338.3H242.7V346.1H227.3zM150.9 345.9H158.7V353.7H150.9zM288.4 345.9H296.2V353.7H288.4z"/><path fill="#0000cf" d="M82.1 14.4H89.9V22.5H82.1zM196.7 14.4H204.5V22.5H196.7zM127.9 37.9H135.8V45.9H127.9zM105.0 53.5H112.9V61.5H105.0zM127.9 53.5H135.8V61.5H127.9zM212.0 61.3H219.8V69.3H212.0zM120.3 69.1H128.1V77.0H120.3zM105.0 100.2H135.8V108.1H105.0zM219.6 107.9H227.5V115.9H219.6zM204.3 123.4H219.8V131.4H204.3zM181.4 131.2H189.3V139.1H181.4zM204.3 131.2H212.2V139.1H204.3zM189.1 138.9H196.9V146.8H189.1zM219.6 146.6H227.5V154.6H219.6zM196.7 154.4H212.2V162.3H196.7zM204.3 169.8H212.2V177.7H204.3zM196.7 177.5H204.5V185.4H196.7zM326.6 216.0H334.4V223.9H326.6zM341.9 216.0H349.7V223.9H341.9zM296.0 223.7H303.9V231.5H296.0zM311.3 231.3H319.1V239.2H311.3zM296.0 239.0H303.9V246.9H296.0zM341.9 239.0H349.7V246.9H341.9zM326.6 254.3H334.4V262.2H326.6zM82.1 262.0H89.9V269.8H82.1zM311.3 262.0H319.1V269.8H311.3zM334.2 269.6H342.1V277.5H334.2zM318.9 277.3H334.4V285.1H318.9zM341.9 284.9H349.7V292.8H341.9zM82.1 292.6H89.9V300.4H82.1zM212.0 292.6H219.8V300.4H212.0zM265.5 292.6H273.3V300.4H265.5zM311.3 292.6H326.8V300.4H311.3zM242.5 300.2H250.4V308.0H242.5zM303.7 300.2H311.5V308.0H303.7zM204.3 307.8H212.2V315.6H204.3zM204.3 315.4H212.2V323.3H204.3zM311.3 315.4H319.1V323.3H311.3zM234.9 323.1H258.0V330.9H234.9zM288.4 323.1H296.2V330.9H288.4zM303.7 323.1H311.5V330.9H303.7zM288.4 338.3H296.2V346.1H288.4zM273.1 345.9H280.9V353.7H273.1zM219.6 361.1H227.5V368.8H219.6z"/><path fill="#00efff" d="M257.8 22.3H265.7V30.3H257.8zM280.7 53.5H288.6V61.5H280.7zM257.8 61.3H265.7V69.3H257.8zM250.2 76.8H258.0V84.8H250.2zM288.4 107.9H296.2V115.9H288.4zM135.6 123.4H143.4V131.4H135.6zM143.2 131.2H151.1V139.1H143.2zM135.6 162.1H143.4V170.0H135.6zM158.5 169.8H166.3V177.7H158.5zM296.0 169.8H303.9V177.7H296.0zM158.5 177.5H166.3V185.4H158.5zM303.7 177.5H311.5V185.4H303.7zM120.3 185.2H128.1V193.1H120.3zM234.9 185.2H242.7V193.1H234.9zM234.9 192.9H242.7V200.8H234.9zM273.1 192.9H280.9V200.8H273.1zM288.4 192.9H296.2V200.8H288.4zM280.7 200.6H288.6V208.5H280.7zM212.0 208.3H219.8V216.2H212.0zM288.4 208.3H296.2V216.2H288.4zM257.8 216.0H265.7V223.9H257.8zM280.7 216.0H288.6V223.9H280.7zM189.1 239.0H196.9V246.9H189.1zM204.3 239.0H219.8V246.9H204.3zM280.7 239.0H288.6V246.9H280.7zM204.3 246.7H212.2V254.5H204.3z"/><path fill="#20ffdf" d="M265.5 45.7H273.3V53.7H265.5zM250.2 53.5H258.0V61.5H250.2zM265.5 53.5H273.3V61.5H265.5zM341.9 53.5H349.7V61.5H341.9zM334.2 61.3H342.1V69.3H334.2zM265.5 69.1H273.3V77.0H265.5zM326.6 69.1H334.4V77.0H326.6zM234.9 200.6H242.7V208.5H234.9zM242.5 208.3H250.4V216.2H242.5zM242.5 216.0H250.4V223.9H242.5zM204.3 223.7H212.2V231.5H204.3zM227.3 223.7H235.1V231.5H227.3zM127.9 239.0H135.8V246.9H127.9zM189.1 269.6H196.9V277.5H189.1zM143.2 277.3H151.1V285.1H143.2zM135.6 284.9H143.4V292.8H135.6zM112.7 292.6H120.5V300.4H112.7zM158.5 292.6H166.3V300.4H158.5zM150.9 300.2H158.7V308.0H150.9z"/><path fill="#70ff8f" d="M273.1 45.7H280.9V53.7H273.1zM303.7 162.1H311.5V170.0H303.7zM135.6 239.0H143.4V246.9H135.6zM150.9 284.9H158.7V292.8H150.9zM150.9 292.6H158.7V300.4H150.9zM150.9 315.4H158.7V323.3H150.9zM143.2 323.1H151.1V330.9H143.2z"/><path fill="#00ffff" d="M280.7 45.7H288.6V53.7H280.7zM341.9 45.7H349.7V53.7H341.9zM257.8 69.1H265.7V77.0H257.8zM273.1 69.1H280.9V77.0H273.1zM341.9 69.1H349.7V77.0H341.9zM257.8 76.8H265.7V84.8H257.8zM303.7 92.4H311.5V100.4H303.7zM296.0 115.7H303.9V123.6H296.0zM135.6 131.2H143.4V139.1H135.6zM296.0 131.2H303.9V139.1H296.0zM150.9 138.9H158.7V146.8H150.9zM288.4 138.9H296.2V146.8H288.4zM303.7 169.8H311.5V177.7H303.7zM273.1 200.6H280.9V208.5H273.1zM288.4 200.6H296.2V208.5H288.4zM234.9 208.3H242.7V216.2H234.9zM273.1 208.3H280.9V216.2H273.1zM196.7 216.0H212.2V223.9H196.7zM219.6 216.0H235.1V223.9H219.6zM273.1 216.0H280.9V223.9H273.1zM242.5 223.7H250.4V231.5H242.5zM219.6 239.0H227.5V246.9H219.6zM189.1 246.7H196.9V254.5H189.1z"/><path fill="#10ffef" d="M326.6 45.7H334.4V53.7H326.6zM257.8 53.5H265.7V61.5H257.8zM326.6 53.5H334.4V61.5H326.6zM250.2 61.3H258.0V69.3H250.2zM250.2 69.1H258.0V77.0H250.2zM280.7 69.1H288.6V77.0H280.7zM265.5 76.8H273.3V84.8H265.5zM296.0 100.2H303.9V108.1H296.0zM127.9 131.2H135.8V139.1H127.9zM127.9 162.1H135.8V170.0H127.9zM227.3 200.6H235.1V208.5H227.3zM204.3 208.3H212.2V216.2H204.3zM219.6 208.3H235.1V216.2H219.6zM280.7 208.3H288.6V216.2H280.7zM204.3 231.3H227.5V239.2H204.3zM234.9 231.3H242.7V239.2H234.9zM227.3 239.0H242.7V246.9H227.3zM127.9 269.6H135.8V277.5H127.9zM127.9 307.8H135.8V315.6H127.9z"/><path fill="#50ffaf" d="M334.2 45.7H342.1V53.7H334.2zM273.1 53.5H280.9V61.5H273.1zM273.1 76.8H280.9V84.8H273.1zM288.4 216.0H296.2V223.9H288.4zM135.6 246.7H143.4V254.5H135.6zM135.6 262.0H143.4V269.8H135.6zM120.3 277.3H128.1V285.1H120.3zM127.9 292.6H143.4V300.4H127.9zM135.6 323.1H143.4V330.9H135.6z"/><path fill="#40ffbf" d="M265.5 61.3H280.9V69.3H265.5zM326.6 61.3H334.4V69.3H326.6zM280.7 76.8H288.6V84.8H280.7zM296.0 162.1H303.9V170.0H296.0zM212.0 216.0H219.8V223.9H212.0zM196.7 239.0H204.5V246.9H196.7zM143.2 262.0H151.1V269.8H143.2zM105.0 269.6H112.9V277.5H105.0zM120.3 269.6H128.1V277.5H120.3zM158.5 269.6H166.3V277.5H158.5zM105.0 277.3H112.9V285.1H105.0zM127.9 284.9H135.8V292.8H127.9zM158.5 284.9H166.3V292.8H158.5zM105.0 292.6H112.9V300.4H105.0zM143.2 292.6H151.1V300.4H143.2zM112.7 300.2H120.5V308.0H112.7zM150.9 307.8H158.7V315.6H150.9z"/><path fill="#80ff80" d="M341.9 61.3H349.7V69.3H341.9zM135.6 254.3H143.4V262.2H135.6zM120.3 284.9H128.1V292.8H120.3zM127.9 315.4H135.8V323.3H127.9zM127.9 323.1H135.8V330.9H127.9z"/><path fill="#0000bf" d="M89.7 69.1H97.6V77.0H89.7zM303.7 69.1H311.5V77.0H303.7zM105.0 76.8H112.9V84.8H105.0zM212.0 131.2H219.8V139.1H212.0zM196.7 138.9H204.5V146.8H196.7zM219.6 138.9H227.5V146.8H219.6zM280.7 162.1H288.6V170.0H280.7zM173.8 169.8H181.6V177.7H173.8zM227.3 169.8H235.1V177.7H227.3zM212.0 192.9H219.8V200.8H212.0zM334.2 200.6H349.7V208.5H334.2zM296.0 208.3H311.5V216.2H296.0zM334.2 223.7H342.1V231.5H334.2zM303.7 246.7H311.5V254.5H303.7zM318.9 246.7H326.8V254.5H318.9zM341.9 254.3H349.7V262.2H341.9zM227.3 292.6H235.1V300.4H227.3zM303.7 292.6H311.5V300.4H303.7zM311.3 307.8H319.1V315.6H311.3zM303.7 315.4H311.5V323.3H303.7zM212.0 323.1H219.8V330.9H212.0zM204.3 330.7H212.2V338.5H204.3zM288.4 353.5H296.2V361.3H288.4zM150.9 361.1H158.7V368.8H150.9z"/><path fill="#60ff9f" d="M242.5 69.1H250.4V77.0H242.5zM158.5 315.4H166.3V323.3H158.5zM150.9 323.1H158.7V330.9H150.9z"/><path fill="#30ffcf" d="M334.2 69.1H342.1V77.0H334.2zM303.7 138.9H311.5V146.8H303.7zM120.3 169.8H128.1V177.7H120.3zM242.5 200.6H250.4V208.5H242.5zM212.0 223.7H219.8V231.5H212.0zM143.2 239.0H151.1V246.9H143.2zM127.9 246.7H135.8V254.5H127.9zM143.2 246.7H151.1V254.5H143.2zM143.2 254.3H151.1V262.2H143.2zM127.9 262.0H135.8V269.8H127.9zM127.9 277.3H135.8V285.1H127.9zM150.9 277.3H158.7V285.1H150.9zM105.0 284.9H120.5V292.8H105.0zM127.9 300.2H135.8V308.0H127.9zM158.5 300.2H166.3V308.0H158.5zM158.5 307.8H166.3V315.6H158.5z"/><path fill="#0000af" d="M173.8 115.7H181.6V123.6H173.8zM173.8 146.6H181.6V154.6H173.8zM318.9 231.3H326.8V239.2H318.9zM334.2 239.0H342.1V246.9H334.2zM296.0 246.7H303.9V254.5H296.0zM334.2 246.7H342.1V254.5H334.2zM296.0 284.9H303.9V292.8H296.0zM326.6 292.6H334.4V300.4H326.6zM288.4 300.2H296.2V308.0H288.4zM318.9 300.2H326.8V308.0H318.9zM296.0 307.8H303.9V315.6H296.0zM196.7 315.4H204.5V323.3H196.7zM288.4 315.4H303.9V323.3H288.4zM303.7 330.7H311.5V338.5H303.7zM280.7 345.9H288.6V353.7H280.7zM280.7 353.5H288.6V361.3H280.7zM265.5 361.1H273.3V368.8H265.5zM280.7 361.1H288.6V368.8H280.7zM234.9 368.6H242.7V376.4H234.9zM227.3 376.2H235.1V384.0H227.3z"/><path fill="#ffff00" d="M189.1 223.7H204.5V231.5H189.1zM150.9 269.6H158.7V277.5H150.9zM143.2 315.4H151.1V323.3H143.2z"/><path fill="#dfff20" d="M189.1 231.3H204.5V239.2H189.1zM120.3 254.3H128.1V262.2H120.3zM112.7 262.0H120.5V269.8H112.7zM135.6 315.4H143.4V323.3H135.6z"/><path fill="#00009f" d="M326.6 231.3H334.4V239.2H326.6zM303.7 254.3H311.5V262.2H303.7zM318.9 254.3H326.8V262.2H318.9zM66.8 269.6H74.7V277.5H66.8zM296.0 292.6H303.9V300.4H296.0zM311.3 300.2H319.1V308.0H311.3zM318.9 307.8H326.8V315.6H318.9zM311.3 323.1H319.1V330.9H311.3zM212.0 330.7H219.8V338.5H212.0zM288.4 330.7H296.2V338.5H288.4zM296.0 338.3H303.9V346.1H296.0zM273.1 353.5H280.9V361.3H273.1z"/><path fill="#cfff30" d="M120.3 239.0H128.1V246.9H120.3z"/><path fill="#9fff60" d="M120.3 246.7H128.1V254.5H120.3zM158.5 330.7H166.3V338.5H158.5z"/><path fill="#efff10" d="M112.7 254.3H120.5V262.2H112.7zM135.6 307.8H143.4V315.6H135.6z"/><path fill="#8fff70" d="M127.9 254.3H135.8V262.2H127.9zM120.3 262.0H128.1V269.8H120.3zM135.6 300.2H151.1V308.0H135.6zM158.5 323.1H166.3V330.9H158.5z"/><path fill="#000080" d="M334.2 254.3H342.1V262.2H334.2zM280.7 338.3H288.6V346.1H280.7z"/><path fill="#ff0000" d="M135.6 269.6H143.4V277.5H135.6zM150.9 353.5H158.7V361.3H150.9z"/><path fill="#ffbf00" d="M143.2 269.6H151.1V277.5H143.2z"/><path fill="#ef0000" d="M135.6 277.3H143.4V285.1H135.6z"/><path fill="#00008f" d="M296.0 277.3H303.9V285.1H296.0zM257.8 307.8H265.7V315.6H257.8zM250.2 315.4H258.0V323.3H250.2z"/><path fill="#ffcf00" d="M143.2 284.9H151.1V292.8H143.2z"/><path fill="#bfff40" d="M143.2 307.8H151.1V315.6H143.2z"/><path fill="#ff4000" d="M143.2 361.1H151.1V368.8H143.2z"/><path fill="#800000" d="M135.6 368.6H151.1V376.4H135.6z"/></g><use href="#landg"/><path d="M187.4,232.8 L190.9,238.7 L196.8,242.2 L201.5,239.9 L203.9,235.1" fill="none" stroke="#000" stroke-width="1.0"/><path d="M195.6,225.7 L190.9,226.9 L187.4,231.6" fill="none" stroke="#000" stroke-width="1.0"/><path d="M122.1,246.3 L122.1,254.0" fill="none" stroke="#000" stroke-width="1.0"/><path d="M124.4,269.3 L115.6,271.6" fill="none" stroke="#000" stroke-width="1.0"/><path d="M108.6,268.1 L112.7,271.0" fill="none" stroke="#000" stroke-width="1.0"/><path d="M142.7,269.3 L135.6,270.4 L129.1,277.5 L128.6,284.6 L143.9,298.7 L152.1,292.8 L150.9,286.9" fill="none" stroke="#000" stroke-width="1.0"/><path d="M142.7,301.0 L135.6,309.3 L132.7,319.9" fill="none" stroke="#000" stroke-width="1.0"/><path d="M146.2,317.5 L142.7,325.7 L136.8,328.1" fill="none" stroke="#000" stroke-width="1.0"/><path d="M153.3,330.4 L159.1,334.0 L158.0,328.1" fill="none" stroke="#000" stroke-width="1.0"/><text x="0" y="0" font-size="14" transform="translate(196.8,231.6) rotate(70)" text-anchor="middle" dy="5">30</text><text x="0" y="0" font-size="14" transform="translate(123.3,261.6) rotate(80)" text-anchor="middle" dy="5">30</text><text x="0" y="0" font-size="14" transform="translate(148.6,275.7) rotate(80)" text-anchor="middle" dy="5">30</text><text x="0" y="0" font-size="14" transform="translate(145.6,309.3) rotate(80)" text-anchor="middle" dy="5">30</text><path d="M58.099999999999994,47.0h17.0M66.6,38.5v17.0M60.599999999999994,41.0l12.0,12.0M60.599999999999994,53.0l12.0,-12.0" stroke="#f00" stroke-width="1.1" fill="none"/><path d="M96.0,157.5h17.0M104.5,149.0v17.0M98.5,151.5l12.0,12.0M98.5,163.5l12.0,-12.0" stroke="#f00" stroke-width="1.1" fill="none"/><path d="M104.8,250h17.0M113.3,241.5v17.0M107.3,244.0l12.0,12.0M107.3,256.0l12.0,-12.0" stroke="#f00" stroke-width="1.1" fill="none"/><path d="M53.5,271h17.0M62,262.5v17.0M56.0,265.0l12.0,12.0M56.0,277.0l12.0,-12.0" stroke="#f00" stroke-width="1.1" fill="none"/><path d="M1.0,320.2h17.0M9.5,311.7v17.0M3.5,314.2l12.0,12.0M3.5,326.2l12.0,-12.0" stroke="#f00" stroke-width="1.1" fill="none"/></g><rect x="0" y="0" width="348" height="427.5" fill="none" stroke="#000" stroke-width="1.2"/><rect x="4.1" y="20.2" width="112.5" height="24.5" fill="url(#jetg)" stroke="#262626" stroke-width="1"/><text x="3.3" y="6.8" font-size="16.5" text-anchor="middle" style="fill:#262626">0</text><text x="96.5" y="6.8" font-size="16.5" text-anchor="middle" style="fill:#262626">50</text><text x="284.5" y="37.2" font-size="20.5">10 km</text><line x1="306" y1="43.2" x2="321" y2="43.2" stroke="#000" stroke-width="4" stroke-linecap="round"/></g><text x="451.0" y="750.3" font-size="22" text-anchor="end">37°N</text><text x="453.0" y="820.55" font-size="16.5" text-anchor="end">30'</text><text x="451.0" y="892.8" font-size="22" text-anchor="end">36°N</text><text x="453.0" y="963.05" font-size="16.5" text-anchor="end">30'</text><text x="451.0" y="1035.3" font-size="22" text-anchor="end">35°N</text><text x="453.0" y="1105.55" font-size="16.5" text-anchor="end">30'</text><text x="451.0" y="1177.8" font-size="22" text-anchor="end">34°N</text><text x="458.5" y="1187.2" font-size="16.5" text-anchor="middle">30'</text><text x="519.5" y="1191.5" font-size="21" text-anchor="middle">76°W</text><text x="574.5" y="1187.2" font-size="16.5" text-anchor="middle">30'</text><text x="635.5" y="1191.5" font-size="21" text-anchor="middle">75°W</text><text x="690.5" y="1187.2" font-size="16.5" text-anchor="middle">30'</text><text x="751.5" y="1191.5" font-size="21" text-anchor="middle">74°W</text><text x="806.5" y="1187.2" font-size="16.5" text-anchor="middle">30'</text><g transform="translate(843.5,742.5)"><g clip-path="url(#axclip)"><line x1="58" y1="0" x2="58" y2="427.5" stroke="#c4c4c4" stroke-width="1" stroke-dasharray="2,6"/><line x1="116" y1="0" x2="116" y2="427.5" stroke="#c4c4c4" stroke-width="1" stroke-dasharray="2,6"/><line x1="174" y1="0" x2="174" y2="427.5" stroke="#c4c4c4" stroke-width="1" stroke-dasharray="2,6"/><line x1="232" y1="0" x2="232" y2="427.5" stroke="#c4c4c4" stroke-width="1" stroke-dasharray="2,6"/><line x1="290" y1="0" x2="290" y2="427.5" stroke="#c4c4c4" stroke-width="1" stroke-dasharray="2,6"/><line x1="0" y1="71.25" x2="348" y2="71.25" stroke="#c4c4c4" stroke-width="1" stroke-dasharray="2,6"/><line x1="0" y1="142.5" x2="348" y2="142.5" stroke="#c4c4c4" stroke-width="1" stroke-dasharray="2,6"/><line x1="0" y1="213.75" x2="348" y2="213.75" stroke="#c4c4c4" stroke-width="1" stroke-dasharray="2,6"/><line x1="0" y1="285.0" x2="348" y2="285.0" stroke="#c4c4c4" stroke-width="1" stroke-dasharray="2,6"/><line x1="0" y1="356.25" x2="348" y2="356.25" stroke="#c4c4c4" stroke-width="1" stroke-dasharray="2,6"/><g shape-rendering="crispEdges"><path fill="#0040ff" d="M66.8 -1.2H151.1V6.8H66.8zM66.8 6.6H143.4V14.6H66.8zM74.5 14.4H143.4V22.5H74.5zM74.5 22.3H151.1V30.3H74.5zM74.5 30.1H143.4V38.1H74.5zM74.5 37.9H143.4V45.9H74.5zM74.5 45.7H143.4V53.7H74.5zM82.1 53.5H143.4V61.5H82.1zM82.1 61.3H135.8V69.3H82.1zM82.1 69.1H135.8V77.0H82.1zM82.1 76.8H135.8V84.8H82.1zM82.1 84.6H128.1V92.6H82.1zM89.7 92.4H135.8V100.4H89.7zM89.7 100.2H143.4V108.1H89.7zM97.4 107.9H135.8V115.9H97.4zM97.4 115.7H128.1V123.6H97.4zM112.7 123.4H128.1V131.4H112.7zM112.7 131.2H120.5V139.1H112.7zM112.7 138.9H120.5V146.8H112.7z"/><path fill="#00a0ff" d="M150.9 -1.2H288.6V6.8H150.9zM143.2 6.6H288.6V14.6H143.2zM303.7 6.6H319.1V14.6H303.7zM143.2 14.4H319.1V22.5H143.2zM150.9 22.3H326.8V30.3H150.9zM143.2 30.1H326.8V38.1H143.2zM143.2 37.9H288.6V45.9H143.2zM318.9 37.9H349.7V45.9H318.9zM143.2 45.7H288.6V53.7H143.2zM318.9 45.7H349.7V53.7H318.9zM143.2 53.5H280.9V61.5H143.2zM135.6 61.3H280.9V69.3H135.6zM135.6 69.1H250.4V77.0H135.6zM135.6 76.8H250.4V84.8H135.6zM127.9 84.6H250.4V92.6H127.9zM135.6 92.4H242.7V100.4H135.6zM143.2 100.2H242.7V108.1H143.2zM135.6 107.9H250.4V115.9H135.6zM135.6 115.7H258.0V123.6H135.6zM127.9 123.4H280.9V131.4H127.9zM127.9 131.2H280.9V139.1H127.9zM127.9 138.9H280.9V146.8H127.9zM127.9 146.6H219.8V154.6H127.9zM234.9 146.6H258.0V154.6H234.9zM120.3 154.4H212.2V162.3H120.3zM227.3 154.4H250.4V162.3H227.3zM127.9 162.1H196.9V170.0H127.9zM227.3 162.1H250.4V170.0H227.3zM127.9 169.8H189.3V177.7H127.9zM234.9 169.8H250.4V177.7H234.9zM150.9 177.5H174.0V185.4H150.9zM158.5 185.2H166.3V193.1H158.5zM189.1 216.0H212.2V223.9H189.1zM181.4 223.7H212.2V231.5H181.4zM189.1 231.3H204.5V239.2H189.1z"/><path fill="#0000e6" d="M288.4 -1.2H303.9V6.8H288.4zM288.4 6.6H303.9V14.6H288.4zM326.6 30.1H349.7V38.1H326.6zM288.4 37.9H319.1V45.9H288.4zM288.4 45.7H319.1V53.7H288.4zM280.7 53.5H349.7V61.5H280.7zM280.7 61.3H349.7V69.3H280.7zM250.2 69.1H349.7V77.0H250.2zM250.2 76.8H349.7V84.8H250.2zM250.2 84.6H349.7V92.6H250.2zM242.5 92.4H349.7V100.4H242.5zM242.5 100.2H349.7V108.1H242.5zM250.2 107.9H349.7V115.9H250.2zM127.9 115.7H135.8V123.6H127.9zM257.8 115.7H349.7V123.6H257.8zM280.7 123.4H349.7V131.4H280.7zM120.3 131.2H128.1V139.1H120.3zM280.7 131.2H349.7V139.1H280.7zM120.3 138.9H128.1V146.8H120.3zM280.7 138.9H349.7V146.8H280.7zM120.3 146.6H128.1V154.6H120.3zM219.6 146.6H235.1V154.6H219.6zM257.8 146.6H349.7V154.6H257.8zM212.0 154.4H227.5V162.3H212.0zM250.2 154.4H349.7V162.3H250.2zM120.3 162.1H128.1V170.0H120.3zM196.7 162.1H227.5V170.0H196.7zM250.2 162.1H349.7V170.0H250.2zM120.3 169.8H128.1V177.7H120.3zM189.1 169.8H235.1V177.7H189.1zM250.2 169.8H349.7V177.7H250.2zM120.3 177.5H151.1V185.4H120.3zM173.8 177.5H349.7V185.4H173.8zM120.3 185.2H158.7V193.1H120.3zM166.1 185.2H349.7V193.1H166.1zM127.9 192.9H349.7V200.8H127.9zM135.6 200.6H349.7V208.5H135.6zM135.6 208.3H349.7V216.2H135.6zM135.6 216.0H158.7V223.9H135.6zM166.1 216.0H189.3V223.9H166.1zM212.0 216.0H349.7V223.9H212.0zM135.6 223.7H151.1V231.5H135.6zM173.8 223.7H181.6V231.5H173.8zM212.0 223.7H349.7V231.5H212.0zM135.6 231.3H151.1V239.2H135.6zM173.8 231.3H189.3V239.2H173.8zM204.3 231.3H349.7V239.2H204.3zM143.2 239.0H158.7V246.9H143.2zM166.1 239.0H349.7V246.9H166.1zM112.7 246.7H120.5V254.5H112.7zM150.9 246.7H349.7V254.5H150.9zM150.9 254.3H349.7V262.2H150.9zM158.5 262.0H349.7V269.8H158.5zM74.5 269.6H82.3V277.5H74.5zM105.0 269.6H112.9V277.5H105.0zM158.5 269.6H349.7V277.5H158.5zM166.1 277.3H174.0V285.1H166.1zM189.1 277.3H342.1V285.1H189.1zM196.7 284.9H280.9V292.8H196.7zM296.0 284.9H342.1V292.8H296.0zM212.0 292.6H273.3V300.4H212.0zM296.0 292.6H342.1V300.4H296.0zM196.7 300.2H273.3V308.0H196.7zM296.0 300.2H342.1V308.0H296.0zM196.7 307.8H273.3V315.6H196.7zM296.0 307.8H334.4V315.6H296.0zM196.7 315.4H273.3V323.3H196.7zM296.0 315.4H319.1V323.3H296.0zM196.7 323.1H265.7V330.9H196.7zM288.4 323.1H311.5V330.9H288.4zM196.7 330.7H250.4V338.5H196.7zM288.4 330.7H311.5V338.5H288.4zM212.0 338.3H235.1V346.1H212.0zM280.7 338.3H303.9V346.1H280.7zM273.1 345.9H296.2V353.7H273.1zM273.1 353.5H288.6V361.3H273.1zM135.6 361.1H143.4V368.8H135.6zM219.6 361.1H242.7V368.8H219.6zM273.1 361.1H280.9V368.8H273.1zM120.3 368.6H135.8V376.4H120.3zM219.6 368.6H242.7V376.4H219.6zM112.7 376.2H120.5V384.0H112.7zM219.6 376.2H242.7V384.0H219.6zM105.0 391.4H112.9V399.1H105.0zM135.6 391.4H143.4V399.1H135.6zM97.4 398.9H105.2V406.7H97.4zM127.9 406.5H135.8V414.2H127.9zM74.5 414.0H82.3V421.8H74.5zM59.2 421.6H82.3V429.3H59.2z"/><path fill="#000080" d="M303.7 -1.2H349.7V6.8H303.7zM318.9 6.6H349.7V14.6H318.9zM318.9 14.4H349.7V22.5H318.9zM326.6 22.3H349.7V30.3H326.6zM105.0 254.3H112.9V262.2H105.0zM112.7 269.6H120.5V277.5H112.7zM112.7 277.3H120.5V285.1H112.7zM43.9 292.6H51.7V300.4H43.9zM120.3 292.6H128.1V300.4H120.3zM120.3 300.2H128.1V308.0H120.3zM120.3 307.8H128.1V315.6H120.3zM127.9 315.4H135.8V323.3H127.9zM127.9 323.1H135.8V330.9H127.9zM127.9 330.7H135.8V338.5H127.9zM334.2 338.3H342.1V346.1H334.2zM105.0 345.9H120.5V353.7H105.0zM105.0 353.5H128.1V361.3H105.0zM326.6 353.5H334.4V361.3H326.6zM105.0 361.1H135.8V368.8H105.0zM97.4 368.6H120.5V376.4H97.4zM341.9 368.6H349.7V376.4H341.9zM89.7 376.2H112.9V384.0H89.7zM173.8 376.2H181.6V384.0H173.8zM82.1 383.8H112.9V391.6H82.1zM143.2 383.8H181.6V391.6H143.2zM296.0 383.8H303.9V391.6H296.0zM334.2 383.8H342.1V391.6H334.2zM74.5 391.4H105.2V399.1H74.5zM143.2 391.4H189.3V399.1H143.2zM334.2 391.4H342.1V399.1H334.2zM59.2 398.9H97.6V406.7H59.2zM135.6 398.9H181.6V406.7H135.6zM326.6 398.9H342.1V406.7H326.6zM51.5 406.5H89.9V414.2H51.5zM135.6 406.5H181.6V414.2H135.6zM318.9 406.5H342.1V414.2H318.9zM51.5 414.0H74.7V421.8H51.5zM127.9 414.0H181.6V421.8H127.9zM196.7 414.0H204.5V421.8H196.7zM318.9 414.0H342.1V421.8H318.9zM5.7 421.6H28.8V429.3H5.7zM51.5 421.6H59.4V429.3H51.5zM127.9 421.6H181.6V429.3H127.9zM196.7 421.6H204.5V429.3H196.7zM242.5 421.6H250.4V429.3H242.5zM318.9 421.6H342.1V429.3H318.9z"/><path fill="#000096" d="M97.4 123.4H112.9V131.4H97.4zM105.0 131.2H112.9V139.1H105.0zM105.0 138.9H112.9V146.8H105.0zM105.0 146.6H120.5V154.6H105.0zM112.7 154.4H120.5V162.3H112.7zM112.7 162.1H120.5V170.0H112.7zM120.3 192.9H128.1V200.8H120.3zM120.3 200.6H135.8V208.5H120.3zM120.3 208.3H135.8V216.2H120.3zM120.3 216.0H135.8V223.9H120.3zM127.9 223.7H135.8V231.5H127.9z"/><path fill="#40ffbf" d="M158.5 216.0H166.3V223.9H158.5zM150.9 223.7H174.0V231.5H150.9zM150.9 231.3H174.0V239.2H150.9zM135.6 239.0H143.4V246.9H135.6zM158.5 239.0H166.3V246.9H158.5zM150.9 262.0H158.7V269.8H150.9zM150.9 269.6H158.7V277.5H150.9zM173.8 277.3H189.3V285.1H173.8zM173.8 284.9H196.9V292.8H173.8zM173.8 292.6H189.3V300.4H173.8z"/><path fill="#1affe6" d="M120.3 223.7H128.1V231.5H120.3zM120.3 231.3H135.8V239.2H120.3zM120.3 239.0H135.8V246.9H120.3zM120.3 246.7H151.1V254.5H120.3zM112.7 254.3H151.1V262.2H112.7zM105.0 262.0H151.1V269.8H105.0zM120.3 269.6H151.1V277.5H120.3zM120.3 277.3H166.3V285.1H120.3zM112.7 284.9H174.0V292.8H112.7zM105.0 292.6H120.5V300.4H105.0zM127.9 292.6H166.3V300.4H127.9zM105.0 300.2H120.5V308.0H105.0zM127.9 300.2H166.3V308.0H127.9zM105.0 307.8H120.5V315.6H105.0zM127.9 307.8H166.3V315.6H127.9zM105.0 315.4H128.1V323.3H105.0zM135.6 315.4H166.3V323.3H135.6zM105.0 323.1H128.1V330.9H105.0zM135.6 323.1H166.3V330.9H135.6zM135.6 330.7H166.3V338.5H135.6zM158.5 338.3H166.3V346.1H158.5zM150.9 345.9H158.7V353.7H150.9zM150.9 353.5H158.7V361.3H150.9zM143.2 361.1H158.7V368.8H143.2zM135.6 368.6H151.1V376.4H135.6zM143.2 376.2H151.1V384.0H143.2zM112.7 414.0H120.5V421.8H112.7zM105.0 421.6H120.5V429.3H105.0z"/><path fill="#00bfff" d="M89.7 254.3H105.2V262.2H89.7zM89.7 262.0H105.2V269.8H89.7zM89.7 269.6H105.2V277.5H89.7zM36.3 300.2H51.7V308.0H36.3zM97.4 300.2H105.2V308.0H97.4zM28.6 307.8H51.7V315.6H28.6zM97.4 307.8H105.2V315.6H97.4zM28.6 315.4H82.3V323.3H28.6zM89.7 315.4H105.2V323.3H89.7zM21.0 323.1H105.2V330.9H21.0zM13.3 330.7H128.1V338.5H13.3zM5.7 338.3H158.7V346.1H5.7zM5.7 345.9H21.2V353.7H5.7zM28.6 345.9H105.2V353.7H28.6zM120.3 345.9H151.1V353.7H120.3zM5.7 353.5H13.5V361.3H5.7zM36.3 353.5H105.2V361.3H36.3zM127.9 353.5H151.1V361.3H127.9zM43.9 361.1H105.2V368.8H43.9zM51.5 368.6H97.6V376.4H51.5zM5.7 376.2H13.5V384.0H5.7zM51.5 376.2H89.9V384.0H51.5zM120.3 376.2H143.4V384.0H120.3zM5.7 383.8H82.3V391.6H5.7zM112.7 383.8H143.4V391.6H112.7zM5.7 391.4H74.7V399.1H5.7zM112.7 391.4H135.8V399.1H112.7zM5.7 398.9H59.4V406.7H5.7zM105.0 398.9H135.8V406.7H105.0zM5.7 406.5H51.7V414.2H5.7zM89.7 406.5H128.1V414.2H89.7zM5.7 414.0H51.7V421.8H5.7zM82.1 414.0H112.9V421.8H82.1zM120.3 414.0H128.1V421.8H120.3zM28.6 421.6H51.7V429.3H28.6zM82.1 421.6H105.2V429.3H82.1zM120.3 421.6H128.1V429.3H120.3z"/><path fill="#cc0000" d="M82.1 262.0H89.9V269.8H82.1zM82.1 269.6H89.9V277.5H82.1zM59.2 277.3H105.2V285.1H59.2zM51.5 284.9H105.2V292.8H51.5zM51.5 292.6H97.6V300.4H51.5zM51.5 300.2H97.6V308.0H51.5zM51.5 307.8H97.6V315.6H51.5zM82.1 315.4H89.9V323.3H82.1zM21.0 345.9H28.8V353.7H21.0zM13.3 353.5H36.5V361.3H13.3zM5.7 361.1H44.1V368.8H5.7zM5.7 368.6H51.7V376.4H5.7zM13.3 376.2H51.7V384.0H13.3z"/><path fill="#800000" d="M105.0 277.3H112.9V285.1H105.0zM105.0 284.9H112.9V292.8H105.0zM97.4 292.6H105.2V300.4H97.4z"/><path fill="#0000c4" d="M341.9 277.3H349.7V285.1H341.9zM280.7 284.9H296.2V292.8H280.7zM341.9 284.9H349.7V292.8H341.9zM166.1 292.6H174.0V300.4H166.1zM189.1 292.6H212.2V300.4H189.1zM273.1 292.6H296.2V300.4H273.1zM341.9 292.6H349.7V300.4H341.9zM166.1 300.2H196.9V308.0H166.1zM273.1 300.2H296.2V308.0H273.1zM341.9 300.2H349.7V308.0H341.9zM166.1 307.8H196.9V315.6H166.1zM273.1 307.8H296.2V315.6H273.1zM334.2 307.8H349.7V315.6H334.2zM166.1 315.4H196.9V323.3H166.1zM273.1 315.4H296.2V323.3H273.1zM318.9 315.4H349.7V323.3H318.9zM166.1 323.1H196.9V330.9H166.1zM265.5 323.1H288.6V330.9H265.5zM311.3 323.1H349.7V330.9H311.3zM166.1 330.7H196.9V338.5H166.1zM250.2 330.7H288.6V338.5H250.2zM311.3 330.7H349.7V338.5H311.3zM166.1 338.3H212.2V346.1H166.1zM234.9 338.3H280.9V346.1H234.9zM303.7 338.3H334.4V346.1H303.7zM341.9 338.3H349.7V346.1H341.9zM158.5 345.9H273.3V353.7H158.5zM296.0 345.9H349.7V353.7H296.0zM158.5 353.5H273.3V361.3H158.5zM288.4 353.5H326.8V361.3H288.4zM334.2 353.5H349.7V361.3H334.2zM158.5 361.1H219.8V368.8H158.5zM242.5 361.1H273.3V368.8H242.5zM280.7 361.1H349.7V368.8H280.7zM150.9 368.6H219.8V376.4H150.9zM242.5 368.6H342.1V376.4H242.5zM150.9 376.2H174.0V384.0H150.9zM181.4 376.2H219.8V384.0H181.4zM242.5 376.2H349.7V384.0H242.5zM181.4 383.8H296.2V391.6H181.4zM303.7 383.8H334.4V391.6H303.7zM341.9 383.8H349.7V391.6H341.9zM189.1 391.4H334.4V399.1H189.1zM341.9 391.4H349.7V399.1H341.9zM181.4 398.9H326.8V406.7H181.4zM341.9 398.9H349.7V406.7H341.9zM181.4 406.5H319.1V414.2H181.4zM341.9 406.5H349.7V414.2H341.9zM181.4 414.0H196.9V421.8H181.4zM204.3 414.0H319.1V421.8H204.3zM341.9 414.0H349.7V421.8H341.9zM181.4 421.6H196.9V429.3H181.4zM204.3 421.6H242.7V429.3H204.3zM250.2 421.6H319.1V429.3H250.2zM341.9 421.6H349.7V429.3H341.9z"/></g><use href="#landg"/><path d="M58.099999999999994,47.0h17.0M66.6,38.5v17.0M60.599999999999994,41.0l12.0,12.0M60.599999999999994,53.0l12.0,-12.0" stroke="#f00" stroke-width="1.1" fill="none"/><path d="M96.0,157.5h17.0M104.5,149.0v17.0M98.5,151.5l12.0,12.0M98.5,163.5l12.0,-12.0" stroke="#f00" stroke-width="1.1" fill="none"/><path d="M104.8,250h17.0M113.3,241.5v17.0M107.3,244.0l12.0,12.0M107.3,256.0l12.0,-12.0" stroke="#f00" stroke-width="1.1" fill="none"/><path d="M53.5,271h17.0M62,262.5v17.0M56.0,265.0l12.0,12.0M56.0,277.0l12.0,-12.0" stroke="#f00" stroke-width="1.1" fill="none"/><path d="M1.0,320.2h17.0M9.5,311.7v17.0M3.5,314.2l12.0,12.0M3.5,326.2l12.0,-12.0" stroke="#f00" stroke-width="1.1" fill="none"/></g><rect x="0" y="0" width="348" height="427.5" fill="none" stroke="#000" stroke-width="1.2"/><rect x="4.1" y="20.2" width="112.5" height="24.5" fill="url(#jetg)" stroke="#262626" stroke-width="1"/><text x="3.8" y="6.8" font-size="16.5" text-anchor="middle" style="fill:#262626">0</text><text x="109.5" y="6.8" font-size="16.5" text-anchor="middle" style="fill:#262626">50</text><text x="284.5" y="37.2" font-size="20.5">10 km</text><line x1="306" y1="43.2" x2="321" y2="43.2" stroke="#000" stroke-width="4" stroke-linecap="round"/></g><text x="836.0" y="750.3" font-size="22" text-anchor="end">37°N</text><text x="838.0" y="820.55" font-size="16.5" text-anchor="end">30'</text><text x="836.0" y="892.8" font-size="22" text-anchor="end">36°N</text><text x="838.0" y="963.05" font-size="16.5" text-anchor="end">30'</text><text x="836.0" y="1035.3" font-size="22" text-anchor="end">35°N</text><text x="838.0" y="1105.55" font-size="16.5" text-anchor="end">30'</text><text x="836.0" y="1177.8" font-size="22" text-anchor="end">34°N</text><text x="843.5" y="1187.2" font-size="16.5" text-anchor="middle">30'</text><text x="904.5" y="1191.5" font-size="21" text-anchor="middle">76°W</text><text x="959.5" y="1187.2" font-size="16.5" text-anchor="middle">30'</text><text x="1020.5" y="1191.5" font-size="21" text-anchor="middle">75°W</text><text x="1075.5" y="1187.2" font-size="16.5" text-anchor="middle">30'</text><text x="1136.5" y="1191.5" font-size="21" text-anchor="middle">74°W</text><text x="1191.5" y="1187.2" font-size="16.5" text-anchor="middle">30'</text><text x="117" y="114.7" font-size="21.5" style="fill:#262626">cm/s</text><text x="494" y="722.7" font-size="21.5" style="fill:#262626">cm/s</text><text x="350" y="206.2" font-size="21">50 cm/s</text><text x="248.5" y="129.5" font-size="25.5" font-weight="bold" text-anchor="middle">2023-07-29 00:00</text><text x="632" y="130.5" font-size="20.8" font-weight="bold" text-anchor="middle">GDOP TotalErrors (1.25)</text><text x="1017" y="130.5" font-size="20.8" font-weight="bold" text-anchor="middle">Number of Rads (3)</text><text x="1401" y="130.5" font-size="20.8" font-weight="bold" text-anchor="middle">Number of Sites (2)</text><text x="249" y="729.5" font-size="23.5" font-weight="bold" text-anchor="middle" letter-spacing="0.95">Radial Grid</text><text x="632" y="730.5" font-size="20.8" font-weight="bold" text-anchor="middle">FitDif TotalErrors (30)</text><text x="1017" y="729.5" font-size="23.5" font-weight="bold" text-anchor="middle" letter-spacing="1.1">Site Codes</text>
</svg></body></html>
